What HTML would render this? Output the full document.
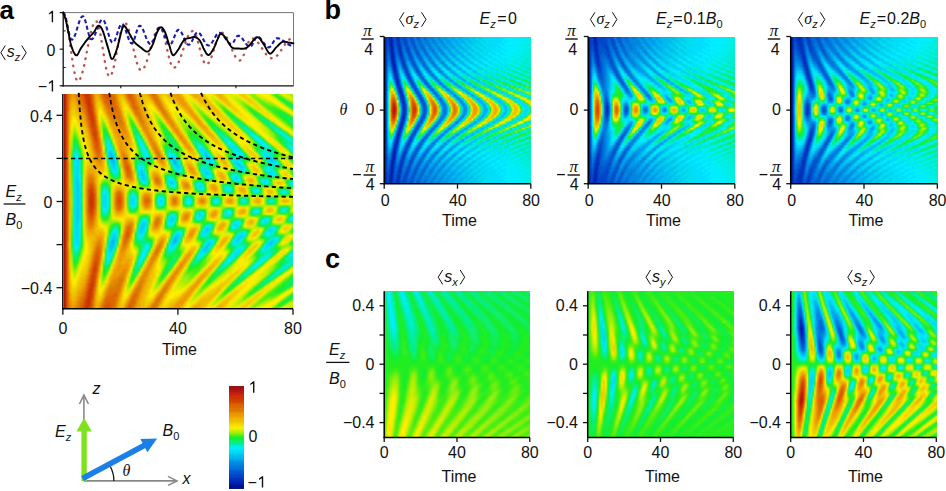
<!DOCTYPE html>
<html><head><meta charset="utf-8"><style>
html,body{margin:0;padding:0;background:#fff;}
body{width:946px;height:491px;position:relative;overflow:hidden;font-family:"Liberation Sans",sans-serif;}
.hm{position:absolute;overflow:hidden}
.hm div{position:absolute;left:0;width:100%;height:var(--r);-webkit-mask-image:linear-gradient(180deg,transparent,#000 50%);mask-image:linear-gradient(180deg,transparent,#000 50%)}
svg{position:absolute;left:0;top:0}
</style></head><body>
<div class="hm" style="left:63.5px;top:94.0px;width:229.5px;height:214.8px;--r:3.978px"><div style="top:0;height:2.98px;-webkit-mask-image:none;mask-image:none;background:linear-gradient(90deg,#911,#c30,#d60,#d80,#e90,#e90,#d80,#d70,#d60,#d50,#c40,#c30,#c30,#c40,#d60,#d80,#ea0,#ea0,#e90,#d70,#d50,#d50,#d50,#d50,#d60,#d70,#d80,#ea0,#eb0,#eb0,#ea0,#d80,#d60,#d50,#d60,#d70,#e90,#ea0,#ea0,#eb0,#eb0,#eb0,#ea0,#e80,#d70,#d60,#d70,#e90,#eb0,#ec0,#ec0,#ec0,#eb0,#ea0,#ea0,#e90,#e90,#e90,#e90,#eb0,#ed0,#fe0,#fe0,#ed0,#eb0,#ea0,#ea0,#ea0,#eb0,#eb0,#ec0,#ed0,#fe0,#ee0,#ee0,#fd0,#ec0,#eb0,#ea0,#eb0,#ec0,#fd0,#ee0,#de0,#de0,#de0,#ee0,#fe0,#ed0,#ec0,#ec0,#ec0,#fe0,#ce0,#8e1,#8e1,#ae0,#de0,#ee0,#fe0,#fe0,#fe0,#fe0,#fe0,#be0,#7e1,#3e2,#3e2,#7e1,#be0,#ee0,#fe0,#de0,#ce0,#ae1,#8e1)"></div><div style="top:0.99px;background:linear-gradient(90deg,#911,#c30,#d60,#d80,#e90,#e90,#e80,#d80,#d70,#d60,#d50,#c30,#c30,#c40,#d50,#d80,#ea0,#eb0,#e90,#d80,#d60,#d50,#d50,#d50,#d60,#d60,#d80,#e90,#eb0,#ec0,#eb0,#e90,#d70,#d50,#d60,#d70,#e80,#ea0,#ea0,#eb0,#eb0,#ec0,#eb0,#ea0,#d80,#d70,#d70,#d80,#ea0,#ec0,#ed0,#ed0,#ec0,#eb0,#eb0,#ea0,#e90,#e90,#e90,#ea0,#eb0,#fd0,#ee0,#fe0,#ed0,#eb0,#ea0,#ea0,#ea0,#eb0,#eb0,#ec0,#ed0,#fe0,#ce0,#de0,#fe0,#ec0,#eb0,#ea0,#eb0,#ec0,#fd0,#ee0,#de0,#ce0,#ce0,#ce0,#ee0,#fd0,#ec0,#ec0,#ec0,#fe0,#ce0,#8e1,#7e1,#9e1,#be0,#de0,#ee0,#fe0,#fe0,#fe0,#fe0,#ce0,#8e1,#3e2,#2e2,#3e1,#8e1,#ce0,#de0,#de0,#ce0,#ae0)"></div><div style="top:2.98px;background:linear-gradient(90deg,#911,#c30,#d60,#d80,#ea0,#ea0,#e90,#d80,#d70,#d60,#d50,#c40,#c30,#c30,#d50,#d80,#ea0,#eb0,#ea0,#d80,#d70,#d60,#d50,#d50,#d60,#d60,#d70,#e90,#eb0,#ec0,#ec0,#ea0,#d80,#d60,#d60,#d60,#d80,#e90,#ea0,#eb0,#eb0,#ec0,#ec0,#eb0,#e90,#d70,#d70,#d70,#e90,#eb0,#ed0,#fd0,#ed0,#ec0,#eb0,#eb0,#ea0,#e90,#e90,#e90,#ea0,#ec0,#fe0,#de0,#ee0,#ed0,#ec0,#eb0,#ea0,#eb0,#eb0,#eb0,#ec0,#fd0,#ee0,#be0,#be0,#fe0,#ec0,#eb0,#eb0,#eb0,#ec0,#fe0,#ee0,#de0,#ce0,#be0,#be0,#de0,#fe0,#ed0,#ec0,#ec0,#fd0,#ce0,#8e1,#6e1,#7e1,#ae1,#be0,#ce0,#ee0,#fe0,#fe0,#fe0,#ee0,#9e1,#3e1,#1e3,#1e3,#5e1,#ae1,#ce0,#de0,#ce0)"></div><div style="top:4.97px;background:linear-gradient(90deg,#911,#c30,#d60,#e80,#ea0,#ea0,#e90,#d80,#d70,#d70,#d50,#c40,#c30,#c30,#d50,#d80,#ea0,#eb0,#eb0,#e90,#d70,#d60,#d60,#d60,#d60,#d60,#d70,#e90,#eb0,#ec0,#ed0,#eb0,#e90,#d70,#d60,#d60,#d70,#e90,#ea0,#eb0,#eb0,#ec0,#ec0,#ec0,#eb0,#e90,#d70,#d70,#d80,#ea0,#ec0,#fd0,#fd0,#ed0,#ec0,#ec0,#eb0,#ea0,#e90,#e90,#e90,#eb0,#ed0,#ee0,#ce0,#ee0,#fd0,#ec0,#eb0,#eb0,#eb0,#eb0,#eb0,#ec0,#fd0,#de0,#ae0,#ae0,#ee0,#ed0,#eb0,#eb0,#eb0,#ed0,#fe0,#ee0,#de0,#be0,#ae0,#9e1,#be0,#ee0,#ed0,#ec0,#ec0,#fd0,#de0,#9e1,#6e1,#6e1,#8e1,#ae1,#be0,#ce0,#ee0,#fe0,#fe0,#fe0,#be0,#5e1,#1e3,#1e4,#2e2,#7e1,#ae0,#be0)"></div><div style="top:6.96px;background:linear-gradient(90deg,#911,#c30,#d60,#e90,#ea0,#eb0,#ea0,#e90,#d80,#d70,#d60,#c40,#c30,#c30,#d50,#d70,#ea0,#ec0,#ec0,#ea0,#d80,#d60,#d60,#d60,#d60,#d60,#d70,#d80,#ea0,#ec0,#fd0,#ec0,#ea0,#d80,#d60,#d60,#d70,#e80,#ea0,#eb0,#eb0,#ec0,#ed0,#ed0,#ec0,#ea0,#d80,#d70,#d70,#e90,#eb0,#ed0,#fe0,#fd0,#ed0,#ec0,#ec0,#eb0,#ea0,#e90,#e90,#e90,#eb0,#fd0,#ce0,#be0,#ee0,#fd0,#ec0,#eb0,#eb0,#eb0,#eb0,#eb0,#ec0,#fe0,#ce0,#8e1,#9e1,#de0,#fd0,#ec0,#eb0,#ec0,#ed0,#fe0,#ee0,#de0,#be0,#9e1,#7e1,#9e1,#de0,#fd0,#ec0,#ec0,#fd0,#de0,#9e1,#5e1,#5e1,#6e1,#8e1,#9e1,#ae0,#ce0,#fe0,#fe0,#fe0,#ce0,#7e1,#1e3,#1e5,#1e4,#3e2,#8e1)"></div><div style="top:8.95px;background:linear-gradient(90deg,#911,#c30,#d60,#e90,#eb0,#eb0,#ea0,#e90,#d80,#d70,#d60,#d50,#c30,#c30,#c40,#d70,#ea0,#ec0,#ec0,#eb0,#e90,#d70,#d60,#d60,#d60,#d60,#d70,#d80,#ea0,#ec0,#fd0,#fd0,#ec0,#e90,#d70,#d60,#d70,#d80,#e90,#ea0,#eb0,#ec0,#ed0,#fd0,#fd0,#ec0,#e90,#d70,#d70,#d80,#ea0,#ec0,#fd0,#fe0,#fe0,#fd0,#ed0,#ec0,#eb0,#ea0,#e90,#e90,#ea0,#ec0,#fe0,#be0,#ae0,#de0,#fd0,#ec0,#ec0,#eb0,#eb0,#eb0,#eb0,#ec0,#fe0,#be0,#7e1,#7e1,#be0,#fd0,#ec0,#eb0,#ec0,#ed0,#fe0,#ee0,#de0,#be0,#8e1,#5e1,#7e1,#be0,#fe0,#ed0,#ec0,#ed0,#ee0,#ae0,#6e1,#4e1,#5e1,#6e1,#7e1,#8e1,#ae0,#de0,#fe0,#fe0,#ee0,#9e1,#2e2,#1e5,#1e5,#1e3)"></div><div style="top:10.94px;background:linear-gradient(90deg,#911,#c30,#d60,#e90,#eb0,#eb0,#eb0,#e90,#e90,#d80,#d70,#d50,#c40,#c30,#c40,#d60,#ea0,#ec0,#ed0,#ec0,#ea0,#d80,#d70,#d60,#d60,#d60,#d60,#d70,#e90,#eb0,#fd0,#fe0,#ed0,#ea0,#d80,#d60,#d60,#d70,#e90,#ea0,#eb0,#ec0,#ed0,#fe0,#fe0,#fd0,#eb0,#e90,#d70,#d70,#e90,#eb0,#ed0,#fe0,#fe0,#fe0,#fd0,#fd0,#ed0,#eb0,#ea0,#e90,#e90,#ea0,#ec0,#de0,#9e1,#ae1,#de0,#fd0,#ec0,#ec0,#ec0,#eb0,#eb0,#eb0,#ec0,#fe0,#ae0,#5e1,#5e1,#ae0,#fe0,#ec0,#ec0,#ec0,#ed0,#fe0,#fe0,#de0,#ae0,#7e1,#4e1,#4e1,#9e1,#ee0,#ed0,#ec0,#ed0,#fe0,#ae0,#6e1,#4e1,#4e1,#4e1,#4e1,#5e1,#8e1,#be0,#fe0,#fe0,#fe0,#be0,#4e1,#1e4,#1e6)"></div><div style="top:12.93px;background:linear-gradient(90deg,#911,#c30,#d60,#e90,#eb0,#ec0,#eb0,#ea0,#e90,#d80,#d70,#d60,#c40,#c30,#c40,#d60,#e90,#ec0,#fd0,#ed0,#ea0,#e80,#d70,#d70,#d70,#d60,#d60,#d70,#e80,#eb0,#fd0,#ee0,#fe0,#ec0,#e90,#d70,#d60,#d70,#e80,#ea0,#eb0,#eb0,#ec0,#fd0,#ee0,#fe0,#ed0,#ea0,#d80,#d70,#d80,#ea0,#ec0,#fd0,#fe0,#fe0,#fe0,#fe0,#fd0,#ed0,#eb0,#ea0,#e90,#e90,#eb0,#fd0,#be0,#8e1,#9e1,#de0,#fe0,#ed0,#ec0,#ec0,#ec0,#eb0,#eb0,#ec0,#fe0,#9e1,#3e2,#3e1,#9e1,#fe0,#ed0,#ec0,#ec0,#ed0,#fe0,#fe0,#de0,#be0,#7e1,#2e2,#2e2,#6e1,#ce0,#fd0,#ec0,#ed0,#fe0,#be0,#7e1,#4e1,#3e1,#3e2,#3e2,#3e2,#5e1,#9e1,#de0,#fe0,#fe0,#de0,#7e1,#1e3)"></div><div style="top:14.92px;background:linear-gradient(90deg,#911,#c30,#d60,#ea0,#ec0,#ec0,#eb0,#ea0,#e90,#e90,#d80,#d60,#c40,#c30,#c40,#d60,#e90,#ec0,#fe0,#fd0,#eb0,#e90,#d80,#d70,#d70,#d70,#d70,#d70,#d80,#ea0,#ed0,#de0,#ce0,#fd0,#eb0,#d80,#d70,#d70,#d80,#e90,#ea0,#eb0,#ec0,#fd0,#ee0,#de0,#fe0,#ec0,#ea0,#d80,#d70,#e80,#ea0,#ed0,#fe0,#ee0,#ee0,#fe0,#fe0,#fe0,#ed0,#eb0,#ea0,#e90,#e90,#eb0,#fe0,#ae0,#7e1,#8e1,#ce0,#fe0,#ed0,#ed0,#ec0,#ec0,#eb0,#eb0,#ec0,#ee0,#8e1,#2e2,#2e2,#7e1,#de0,#fd0,#ec0,#ec0,#ed0,#fe0,#fe0,#de0,#be0,#6e1,#2e2,#1e3,#3e2,#ae1,#fe0,#ed0,#ed0,#fe0,#ce0,#8e1,#5e1,#3e2,#2e2,#2e2,#2e2,#2e2,#6e1,#be0,#ee0,#fe0,#ee0,#ae0)"></div><div style="top:16.91px;background:linear-gradient(90deg,#911,#c30,#d70,#ea0,#ec0,#ec0,#ec0,#eb0,#ea0,#e90,#d80,#d70,#d50,#c30,#c30,#d50,#e80,#ec0,#fe0,#fe0,#ec0,#ea0,#d80,#d70,#d70,#d70,#d70,#d70,#d70,#e90,#ec0,#ee0,#be0,#de0,#ec0,#e90,#d70,#d70,#d70,#e90,#ea0,#eb0,#ec0,#ed0,#fe0,#ce0,#ce0,#fe0,#ec0,#e90,#d70,#d80,#e90,#eb0,#fd0,#ee0,#de0,#ee0,#ee0,#ee0,#fe0,#ed0,#eb0,#ea0,#e90,#ea0,#ec0,#ee0,#8e1,#5e1,#8e1,#ce0,#fe0,#fd0,#ed0,#ec0,#ec0,#eb0,#eb0,#ed0,#ee0,#7e1,#1e3,#1e3,#5e1,#ce0,#fd0,#ed0,#ed0,#fd0,#fe0,#fe0,#ee0,#be0,#7e1,#2e2,#1e5,#1e3,#6e1,#de0,#fd0,#ed0,#fd0,#de0,#9e1,#5e1,#3e1,#2e2,#1e2,#1e4,#1e4,#2e2,#8e1,#ce0,#fe0,#fe0)"></div><div style="top:18.89px;background:linear-gradient(90deg,#911,#c30,#d70,#ea0,#ec0,#ed0,#ec0,#eb0,#ea0,#ea0,#e90,#d70,#d50,#c40,#c30,#d50,#d80,#ec0,#fe0,#de0,#fd0,#eb0,#e90,#d80,#d70,#d70,#d70,#d70,#d70,#e90,#eb0,#fe0,#ae0,#ae0,#fe0,#eb0,#d80,#d70,#d70,#d80,#ea0,#eb0,#eb0,#ec0,#fd0,#de0,#ae0,#be0,#fd0,#eb0,#e80,#d70,#d80,#ea0,#ec0,#fe0,#de0,#de0,#de0,#de0,#de0,#fe0,#ed0,#eb0,#e90,#e90,#ea0,#ec0,#de0,#7e1,#4e1,#7e1,#be0,#ee0,#fe0,#fd0,#ed0,#ec0,#eb0,#ec0,#ed0,#ee0,#6e1,#1e4,#1e4,#3e1,#be0,#fe0,#ed0,#ed0,#fd0,#fe0,#fe0,#ee0,#ce0,#7e1,#1e2,#1e5,#1e5,#3e2,#be0,#fe0,#ed0,#fd0,#ee0,#ae0,#6e1,#4e1,#2e2,#1e3,#1e4,#1e5,#1e4,#3e1,#ae0,#ee0)"></div><div style="top:20.88px;background:linear-gradient(90deg,#911,#c30,#d70,#ea0,#ed0,#fd0,#ed0,#ec0,#eb0,#ea0,#e90,#d80,#d60,#c40,#c30,#d40,#d70,#eb0,#fe0,#ce0,#fe0,#ec0,#ea0,#d80,#d80,#d80,#d70,#d70,#d70,#d80,#ea0,#fd0,#ae0,#7e1,#ce0,#ed0,#ea0,#d80,#d70,#d80,#e90,#ea0,#eb0,#ec0,#ed0,#ee0,#ae0,#9e1,#ce0,#ed0,#ea0,#d80,#d80,#e90,#eb0,#fd0,#ee0,#ce0,#ce0,#ce0,#ce0,#ce0,#ee0,#ed0,#eb0,#e90,#e90,#ea0,#ed0,#be0,#5e1,#3e2,#6e1,#be0,#ee0,#fe0,#fd0,#ed0,#ec0,#ec0,#ec0,#ed0,#de0,#6e1,#1e4,#1e5,#2e2,#9e1,#fe0,#fd0,#fd0,#fd0,#fe0,#fe0,#ee0,#ce0,#8e1,#2e2,#1e6,#1e7,#1e3,#8e1,#ee0,#fd0,#fd0,#fe0,#be0,#7e1,#4e1,#2e2,#1e3,#1e4,#1e6,#1e6,#1e3,#6e1)"></div><div style="top:22.87px;background:linear-gradient(90deg,#911,#c30,#d70,#ea0,#ed0,#fe0,#fd0,#ec0,#eb0,#ea0,#ea0,#d80,#d60,#c40,#c30,#c40,#d70,#eb0,#fe0,#ae0,#ce0,#ed0,#eb0,#e90,#d80,#d80,#d80,#d70,#d70,#d80,#ea0,#ec0,#ce0,#6e1,#7e1,#fe0,#eb0,#e90,#d70,#d80,#e90,#ea0,#eb0,#ec0,#ec0,#fe0,#be0,#7e1,#8e1,#de0,#ec0,#e90,#d80,#d80,#ea0,#ec0,#fe0,#ce0,#be0,#be0,#be0,#ae0,#be0,#ee0,#ed0,#eb0,#e90,#e90,#eb0,#fd0,#ae0,#3e2,#2e2,#5e1,#ae0,#de0,#ee0,#fe0,#fd0,#ec0,#ec0,#ec0,#ed0,#de0,#5e1,#1e5,#1e6,#1e3,#7e1,#de0,#fe0,#fd0,#fd0,#fe0,#fe0,#ee0,#ce0,#9e1,#2e2,#1e6,#0e8,#1e6,#4e1,#ce0,#fe0,#fd0,#fe0,#ce0,#8e1,#5e1,#3e2,#1e2,#1e4,#1e6,#0e7,#1e6)"></div><div style="top:24.86px;background:linear-gradient(90deg,#911,#c30,#d70,#eb0,#fd0,#fe0,#fe0,#ec0,#eb0,#eb0,#ea0,#e90,#d70,#d50,#c40,#c40,#d60,#ea0,#fe0,#ae1,#ae0,#fe0,#ec0,#ea0,#e80,#d80,#d80,#d80,#d70,#d70,#e90,#eb0,#ee0,#6e1,#3e1,#ae0,#ed0,#ea0,#d80,#d70,#d80,#e90,#eb0,#eb0,#ec0,#fd0,#de0,#8e1,#5e1,#8e1,#fe0,#eb0,#e90,#d80,#e80,#ea0,#ed0,#ee0,#be0,#be0,#ae0,#ae0,#9e1,#ae0,#ee0,#ed0,#eb0,#e90,#e90,#eb0,#fe0,#8e1,#2e2,#1e2,#4e1,#9e1,#ce0,#ee0,#fe0,#fd0,#ed0,#ec0,#ec0,#ed0,#de0,#5e1,#1e6,#0e8,#1e5,#5e1,#ce0,#fe0,#fd0,#fe0,#fe0,#fe0,#ee0,#de0,#9e1,#3e2,#1e6,#0e9,#0e8,#1e3,#9e1,#ee0,#fd0,#fe0,#de0,#9e1,#5e1,#3e2,#2e2,#1e4,#1e6,#0e8)"></div><div style="top:26.85px;background:linear-gradient(90deg,#911,#c30,#d70,#eb0,#fd0,#ee0,#fe0,#ed0,#ec0,#eb0,#ea0,#e90,#d70,#d50,#c40,#c40,#d60,#ea0,#fd0,#9e1,#7e1,#ce0,#ed0,#ea0,#e90,#e80,#d80,#d80,#d70,#d70,#d80,#ea0,#fe0,#8e1,#2e2,#4e1,#de0,#ec0,#e90,#d80,#d80,#e90,#ea0,#eb0,#ec0,#ed0,#fe0,#ae0,#4e1,#3e2,#9e1,#fd0,#ea0,#e80,#d80,#e90,#eb0,#fd0,#ce0,#ae0,#ae0,#ae1,#9e1,#8e1,#ae1,#ee0,#ed0,#ea0,#e90,#ea0,#ec0,#fe0,#6e1,#1e3,#1e3,#3e1,#9e1,#be0,#de0,#ee0,#fe0,#ed0,#ec0,#ec0,#ed0,#de0,#5e1,#1e6,#0e9,#1e6,#3e2,#ae0,#fe0,#fe0,#fe0,#fe0,#ee0,#ee0,#de0,#ae0,#4e1,#1e6,#0e9,#0ea,#1e6,#5e1,#ce0,#fe0,#fe0,#ee0,#ae0,#6e1,#3e2,#2e2,#1e4,#1e6)"></div><div style="top:28.84px;background:linear-gradient(90deg,#911,#c30,#d70,#eb0,#fe0,#de0,#ee0,#fd0,#ec0,#eb0,#eb0,#ea0,#d80,#d60,#c40,#c40,#d50,#e90,#fd0,#9e1,#5e1,#9e1,#fe0,#eb0,#e90,#e90,#e90,#d80,#d80,#d70,#d80,#ea0,#ed0,#ae0,#2e2,#1e3,#8e1,#fd0,#ea0,#d80,#d80,#e90,#ea0,#eb0,#ec0,#ec0,#fd0,#ce0,#6e1,#2e2,#3e2,#be0,#ed0,#ea0,#d80,#d80,#ea0,#ec0,#ee0,#be0,#9e1,#9e1,#9e1,#7e1,#7e1,#9e1,#ee0,#ec0,#ea0,#e90,#ea0,#ec0,#de0,#4e1,#1e4,#1e4,#2e2,#8e1,#be0,#ce0,#ee0,#fe0,#ed0,#ec0,#ec0,#ed0,#ee0,#5e1,#1e6,#0ea,#0e8,#1e3,#9e1,#de0,#fe0,#fe0,#fe0,#ee0,#ee0,#de0,#ae0,#5e1,#1e5,#0e9,#0eb,#0e8,#2e2,#ae0,#fe0,#fe0,#fe0,#be0,#7e1,#3e1,#2e2,#1e4)"></div><div style="top:30.83px;background:linear-gradient(90deg,#911,#c30,#d70,#eb0,#fe0,#be0,#de0,#fe0,#ed0,#ec0,#eb0,#ea0,#e80,#d60,#c40,#c40,#d50,#d80,#ec0,#ae1,#3e2,#6e1,#de0,#ec0,#ea0,#e90,#e90,#e90,#d80,#d80,#d80,#e90,#ec0,#de0,#3e2,#1e5,#2e2,#ce0,#ec0,#e90,#d80,#d80,#e90,#eb0,#ec0,#ec0,#fd0,#ee0,#9e1,#2e2,#1e3,#4e1,#de0,#ec0,#e90,#d80,#e90,#eb0,#ed0,#ce0,#9e1,#8e1,#8e1,#7e1,#6e1,#6e1,#9e1,#ee0,#ec0,#ea0,#e90,#ea0,#ec0,#ce0,#2e2,#1e5,#1e5,#2e2,#7e1,#ae0,#ce0,#de0,#fe0,#fd0,#ec0,#ec0,#ed0,#ee0,#5e1,#1e7,#0ea,#0e9,#1e5,#7e1,#ce0,#fe0,#fe0,#ee0,#ee0,#de0,#ce0,#be0,#6e1,#1e4,#0e9,#0ec,#0ea,#1e5,#6e1,#de0,#fe0,#fe0,#ce0,#9e1,#4e1,#2e2)"></div><div style="top:32.82px;background:linear-gradient(90deg,#911,#c30,#d70,#eb0,#fe0,#ae0,#be0,#fe0,#ed0,#ec0,#ec0,#eb0,#e90,#d70,#d50,#c40,#d50,#d80,#ec0,#ae0,#2e2,#2e2,#ae0,#fd0,#eb0,#e90,#e90,#e90,#e90,#d80,#d80,#e90,#eb0,#fe0,#6e1,#1e6,#1e6,#5e1,#fe0,#eb0,#e80,#d80,#e90,#ea0,#eb0,#ec0,#ed0,#fe0,#ce0,#5e1,#1e4,#1e4,#5e1,#fe0,#eb0,#e90,#d80,#e90,#eb0,#fe0,#ae0,#7e1,#6e1,#6e1,#6e1,#5e1,#5e1,#9e1,#ee0,#ec0,#ea0,#ea0,#ea0,#ed0,#ae0,#1e3,#1e7,#1e6,#1e3,#6e1,#ae0,#be0,#de0,#ee0,#fd0,#ed0,#ec0,#ed0,#ee0,#5e1,#1e7,#0eb,#0eb,#1e6,#4e1,#be0,#fe0,#fe0,#ee0,#de0,#ce0,#ce0,#be0,#7e1,#1e3,#0e8,#0ec,#0ec,#0e8,#2e2,#be0,#fe0,#fe0,#ee0,#ae0,#5e1)"></div><div style="top:34.81px;background:linear-gradient(90deg,#911,#c30,#d70,#eb0,#ee0,#9e1,#ae0,#de0,#fd0,#ec0,#ec0,#eb0,#ea0,#d70,#d50,#c40,#d40,#d70,#eb0,#ce0,#1e2,#1e4,#6e1,#fe0,#ec0,#ea0,#e90,#e90,#e90,#e90,#d80,#e80,#ea0,#ed0,#ae1,#1e5,#0e8,#1e4,#ae0,#ec0,#e90,#d80,#d80,#ea0,#eb0,#ec0,#ed0,#fd0,#de0,#9e1,#2e2,#1e5,#1e4,#8e1,#fd0,#ea0,#e80,#d80,#ea0,#ec0,#de0,#8e1,#5e1,#4e1,#5e1,#5e1,#4e1,#5e1,#9e1,#fe0,#ec0,#ea0,#ea0,#eb0,#fd0,#9e1,#1e4,#0e8,#0e8,#1e4,#5e1,#9e1,#be0,#ce0,#ee0,#fe0,#ed0,#ec0,#ed0,#ee0,#6e1,#1e7,#0ec,#0ec,#0e8,#2e2,#ae0,#ee0,#fe0,#fe0,#de0,#ce0,#be0,#ae0,#7e1,#2e2,#1e7,#0ec,#0ed,#0eb,#1e5,#7e1,#de0,#fe0,#fe0,#be0)"></div><div style="top:36.79px;background:linear-gradient(90deg,#911,#c30,#d70,#eb0,#de0,#8e1,#8e1,#ce0,#fe0,#ed0,#ec0,#ec0,#ea0,#d80,#d50,#c40,#c40,#d60,#ea0,#de0,#2e2,#1e6,#2e2,#be0,#ed0,#ea0,#e90,#e90,#e90,#e90,#e80,#e80,#e90,#ec0,#de0,#1e2,#0e9,#0e8,#3e2,#fe0,#eb0,#e90,#d80,#e90,#ea0,#ec0,#ed0,#fd0,#fe0,#be0,#4e1,#1e4,#1e6,#1e3,#ae0,#ec0,#ea0,#d80,#e90,#eb0,#fd0,#be0,#5e1,#2e2,#3e2,#4e1,#4e1,#4e1,#5e1,#ae1,#fe0,#ec0,#ea0,#ea0,#eb0,#fe0,#7e1,#1e6,#0e9,#0e9,#1e5,#4e1,#9e1,#be0,#ce0,#ee0,#fe0,#fd0,#ed0,#fd0,#ee0,#6e1,#1e6,#0ec,#0ee,#0ea,#1e4,#9e1,#de0,#fe0,#fe0,#de0,#ce0,#ae0,#9e1,#7e1,#2e2,#1e6,#0eb,#0ed,#0ec,#0e8,#3e2,#be0,#fe0,#fe0)"></div><div style="top:38.78px;background:linear-gradient(90deg,#911,#c30,#d70,#ec0,#ce0,#6e1,#6e1,#ae0,#fe0,#fd0,#ed0,#ec0,#eb0,#e80,#d60,#c40,#c40,#d60,#ea0,#fe0,#2e2,#0e7,#1e5,#7e1,#fe0,#eb0,#ea0,#e90,#e90,#e90,#e90,#e90,#e90,#eb0,#fe0,#5e1,#0e8,#0eb,#1e6,#9e1,#ec0,#ea0,#d80,#d80,#ea0,#eb0,#ed0,#fe0,#fe0,#ce0,#8e1,#1e2,#1e6,#1e6,#2e2,#de0,#ec0,#e90,#d80,#e90,#eb0,#fe0,#8e1,#2e2,#1e3,#2e2,#3e2,#3e1,#4e1,#6e1,#ae0,#fe0,#ec0,#ea0,#ea0,#eb0,#fe0,#5e1,#1e7,#0eb,#0ea,#1e6,#3e1,#9e1,#ce0,#de0,#ee0,#fe0,#fd0,#fd0,#fd0,#ee0,#7e1,#1e6,#0ec,#0ef,#0ec,#1e6,#6e1,#de0,#fe0,#fe0,#ee0,#be0,#ae1,#8e1,#6e1,#2e2,#1e5,#0ea,#0ed,#0ee,#0ea,#1e4,#9e1,#ee0)"></div><div style="top:40.77px;background:linear-gradient(90deg,#911,#c30,#d70,#ec0,#ce0,#4e1,#4e1,#9e1,#de0,#fd0,#ed0,#ec0,#eb0,#e90,#d70,#d50,#c40,#d60,#e90,#fd0,#3e2,#0e8,#0e8,#2e2,#de0,#ec0,#ea0,#e90,#e90,#e90,#e90,#e90,#e90,#ea0,#ed0,#9e1,#1e6,#0eb,#0ea,#1e3,#ee0,#eb0,#e90,#d80,#e90,#eb0,#ec0,#fe0,#ee0,#ce0,#ae1,#4e1,#1e5,#0e7,#1e6,#5e1,#fe0,#eb0,#e90,#d80,#ea0,#ec0,#ce0,#3e1,#1e4,#1e5,#1e3,#2e2,#3e1,#4e1,#6e1,#ae0,#fe0,#ec0,#eb0,#ea0,#ec0,#ee0,#3e2,#0e9,#0ed,#0eb,#1e7,#3e2,#9e1,#ce0,#de0,#ee0,#ee0,#fe0,#fd0,#fe0,#de0,#7e1,#1e6,#0ec,#0ef,#0ee,#0e8,#4e1,#ce0,#fe0,#fe0,#ee0,#be0,#9e1,#6e1,#4e1,#2e2,#1e5,#0e9,#0ec,#0ee,#0ec,#1e7,#4e1)"></div><div style="top:42.76px;background:linear-gradient(90deg,#911,#c30,#d70,#ec0,#be0,#3e2,#2e2,#7e1,#ce0,#fe0,#fd0,#ed0,#eb0,#ea0,#d70,#d50,#c40,#d50,#d80,#ed0,#5e1,#0e9,#0eb,#1e6,#9e1,#ed0,#eb0,#ea0,#e90,#ea0,#ea0,#e90,#e90,#ea0,#ec0,#de0,#1e3,#0eb,#0ed,#0e8,#7e1,#ed0,#ea0,#d80,#d80,#ea0,#ec0,#fd0,#ee0,#ce0,#ae0,#6e1,#1e3,#1e6,#0e8,#1e4,#9e1,#fd0,#ea0,#e80,#e90,#ea0,#fd0,#9e1,#1e4,#1e7,#1e6,#1e4,#2e2,#4e1,#5e1,#7e1,#be0,#fe0,#ec0,#eb0,#eb0,#ec0,#de0,#2e2,#0ea,#0ee,#0ed,#0e8,#2e2,#ae1,#de0,#ee0,#ee0,#ee0,#fe0,#fe0,#fe0,#ce0,#6e1,#1e6,#0ec,#0ef,#0ef,#0ea,#2e2,#be0,#fe0,#fd0,#fe0,#ce0,#8e1,#4e1,#2e2,#1e3,#1e5,#0e8,#0eb,#0ed,#0ed,#0e9)"></div><div style="top:44.75px;background:linear-gradient(90deg,#911,#c30,#d70,#ec0,#ae0,#2e2,#1e3,#4e1,#ae0,#ee0,#fd0,#ed0,#ec0,#ea0,#d80,#d60,#d40,#d50,#d80,#ec0,#7e1,#0e9,#0ed,#0e9,#4e1,#fe0,#eb0,#ea0,#e90,#ea0,#ea0,#ea0,#ea0,#ea0,#ec0,#fe0,#5e1,#0e9,#0ee,#0ec,#1e4,#de0,#eb0,#e90,#d80,#e90,#eb0,#ed0,#ee0,#be0,#9e1,#7e1,#3e2,#1e5,#0e7,#1e7,#1e3,#be0,#ec0,#ea0,#e80,#e90,#eb0,#ee0,#4e1,#1e7,#0e9,#0e8,#1e4,#2e2,#5e1,#6e1,#9e1,#ce0,#fe0,#ec0,#eb0,#eb0,#ed0,#be0,#1e4,#0ec,#0ef,#0ee,#0e9,#2e2,#ae0,#ee0,#fe0,#fe0,#ee0,#ee0,#ee0,#de0,#be0,#6e1,#1e5,#0ec,#0ef,#0ef,#0eb,#1e4,#ae1,#fe0,#fd0,#fe0,#de0,#9e1,#3e2,#1e3,#1e5,#1e6,#0e8,#0ea,#0ec,#0ed)"></div><div style="top:46.74px;background:linear-gradient(90deg,#911,#c30,#d70,#ec0,#ae1,#1e4,#1e5,#2e2,#9e1,#de0,#fe0,#fd0,#ec0,#eb0,#e80,#d60,#d50,#d50,#d70,#eb0,#ae1,#0e8,#0ee,#0ed,#1e4,#ce0,#ec0,#ea0,#e90,#e90,#ea0,#ea0,#ea0,#ea0,#eb0,#fd0,#9e1,#1e6,#0ed,#0ef,#0ea,#6e1,#ed0,#ea0,#d80,#d80,#e90,#ec0,#fe0,#ae0,#8e1,#6e1,#3e1,#1e3,#1e6,#0e7,#1e6,#4e1,#ee0,#ec0,#e90,#e80,#ea0,#ec0,#be0,#1e4,#0ea,#0eb,#0e9,#1e5,#3e2,#6e1,#8e1,#ae0,#de0,#fe0,#ec0,#eb0,#ec0,#fd0,#ae0,#1e5,#0ed,#0ef,#0ef,#0ea,#2e2,#ae0,#fe0,#fe0,#fe0,#ee0,#de0,#ce0,#be0,#9e1,#4e1,#1e5,#0eb,#0ef,#0ef,#0ed,#1e6,#8e1,#fe0,#fd0,#fd0,#ee0,#9e1,#2e2,#1e5,#0e7,#0e8,#0e9,#0e9,#0eb)"></div><div style="top:48.73px;background:linear-gradient(90deg,#911,#c30,#d70,#ec0,#9e1,#1e5,#1e7,#1e4,#7e1,#ce0,#fe0,#fd0,#ec0,#eb0,#e90,#d70,#d50,#d50,#d70,#eb0,#ce0,#1e7,#0ef,#0ef,#0e9,#8e1,#ed0,#ea0,#e90,#e90,#ea0,#ea0,#eb0,#eb0,#eb0,#ed0,#ce0,#1e3,#0ec,#0ef,#0ee,#1e5,#ce0,#eb0,#e80,#d80,#e80,#eb0,#fd0,#be0,#6e1,#3e2,#2e2,#1e3,#1e4,#1e6,#1e7,#1e4,#8e1,#fe0,#eb0,#e90,#e90,#ea0,#fd0,#7e1,#0e7,#0ed,#0ed,#0ea,#1e5,#4e1,#9e1,#ae0,#ce0,#ee0,#fe0,#ed0,#ec0,#ec0,#fe0,#8e1,#1e7,#0ef,#0df,#0ef,#0eb,#2e2,#be0,#fe0,#fd0,#fd0,#ee0,#ce0,#ae0,#8e1,#6e1,#2e2,#1e6,#0eb,#0ef,#0ef,#0ed,#1e7,#5e1,#ee0,#fd0,#ed0,#fe0,#ae0,#2e2,#1e7,#0ea,#0eb,#0ea,#0ea)"></div><div style="top:50.72px;background:linear-gradient(90deg,#911,#c30,#d70,#ec0,#8e1,#1e6,#0e8,#1e5,#4e1,#be0,#fe0,#fd0,#ed0,#eb0,#e90,#d70,#d50,#d50,#d70,#ea0,#ee0,#1e6,#0ef,#0df,#0ed,#2e2,#fe0,#eb0,#e90,#e90,#e90,#ea0,#eb0,#eb0,#ec0,#ed0,#de0,#4e1,#0e9,#0ef,#0ef,#0ea,#5e1,#fd0,#ea0,#d80,#d80,#e90,#ec0,#de0,#5e1,#1e3,#1e4,#1e4,#1e4,#1e5,#1e6,#1e5,#2e2,#be0,#ed0,#ea0,#e90,#e90,#eb0,#ee0,#2e2,#0eb,#0ef,#0ef,#0ea,#1e4,#6e1,#be0,#ce0,#de0,#ee0,#fe0,#fd0,#ed0,#fd0,#ee0,#5e1,#0e8,#0ef,#0df,#0df,#0eb,#2e2,#ce0,#fd0,#ed0,#fd0,#fe0,#be0,#7e1,#4e1,#2e2,#1e4,#1e6,#0ea,#0ed,#0ef,#0ed,#0e8,#3e1,#ce0,#fd0,#ed0,#fd0,#be0,#2e2,#0e8,#0ec,#0ee,#0ed)"></div><div style="top:52.71px;background:linear-gradient(90deg,#911,#c30,#d70,#ec0,#7e1,#1e7,#0ea,#0e7,#2e2,#ae0,#ee0,#fe0,#ed0,#ec0,#ea0,#d80,#d60,#d50,#d60,#e90,#fe0,#1e4,#0ef,#0de,#0ef,#1e6,#be0,#ec0,#e90,#e90,#e90,#ea0,#eb0,#ec0,#ec0,#fd0,#ee0,#7e1,#1e6,#0ed,#0ef,#0ee,#1e5,#ce0,#eb0,#d80,#d70,#d80,#eb0,#fe0,#7e1,#1e4,#1e7,#1e7,#1e6,#1e5,#1e5,#1e4,#1e3,#6e1,#de0,#ec0,#ea0,#e90,#ea0,#ec0,#ae0,#1e6,#0ef,#0df,#0ef,#0eb,#1e3,#9e1,#de0,#fe0,#fe0,#fe0,#fe0,#fe0,#fe0,#fe0,#be0,#2e2,#0e9,#0ef,#0de,#0df,#0eb,#2e2,#ce0,#fd0,#ec0,#ed0,#fe0,#ae0,#4e1,#1e4,#1e5,#1e6,#0e8,#0ea,#0ec,#0ed,#0ec,#0e8,#2e2,#be0,#fe0,#ed0,#fd0,#de0,#4e1,#0e8,#0ee,#0ef)"></div><div style="top:54.69px;background:linear-gradient(90deg,#911,#c30,#d70,#ec0,#6e1,#0e8,#0ec,#0e9,#1e3,#8e1,#de0,#fe0,#fd0,#ec0,#ea0,#e80,#d60,#d60,#d60,#e90,#fd0,#2e2,#0ef,#0de,#0de,#0eb,#7e1,#ed0,#ea0,#e80,#e90,#ea0,#eb0,#ec0,#ed0,#fe0,#ee0,#9e1,#1e4,#0eb,#0ef,#0ef,#0ea,#5e1,#fd0,#ea0,#d70,#d70,#e90,#ec0,#be0,#1e4,#0e9,#0ea,#0e9,#1e6,#1e4,#1e3,#2e2,#5e1,#ae0,#fe0,#ec0,#ea0,#ea0,#eb0,#fe0,#5e1,#0eb,#0df,#0de,#0df,#0ea,#2e2,#be0,#fe0,#fd0,#fd0,#fe0,#ee0,#ee0,#de0,#be0,#7e1,#1e4,#0ea,#0ef,#0df,#0df,#0eb,#2e2,#de0,#ed0,#ec0,#ec0,#fe0,#9e1,#1e3,#1e7,#0e9,#0ea,#0ea,#0ea,#0ea,#0ea,#0e9,#1e7,#2e2,#ae1,#fe0,#fd0,#fd0,#de0,#5e1,#0e8,#0ef)"></div><div style="top:56.68px;background:linear-gradient(90deg,#911,#c30,#d70,#ec0,#5e1,#0ea,#0ee,#0eb,#1e5,#6e1,#ce0,#fe0,#fd0,#ec0,#eb0,#e90,#d70,#d60,#d60,#e90,#ec0,#4e1,#0ee,#0ce,#0ce,#0ef,#1e3,#fe0,#ea0,#e80,#d80,#e90,#eb0,#ec0,#fd0,#fe0,#ce0,#9e1,#2e2,#0e9,#0ee,#0ef,#0ed,#1e5,#ce0,#eb0,#d80,#d70,#d80,#eb0,#fe0,#2e2,#0ea,#0ed,#0ed,#0ea,#1e6,#1e3,#4e1,#6e1,#9e1,#de0,#fd0,#ec0,#eb0,#eb0,#ec0,#ce0,#1e4,#0ee,#0de,#0ce,#0df,#0e9,#5e1,#ee0,#ed0,#ed0,#fd0,#fe0,#de0,#ae0,#9e1,#6e1,#2e2,#1e6,#0eb,#0ef,#0df,#0ef,#0ea,#2e2,#de0,#ec0,#ec0,#ec0,#fe0,#9e1,#1e5,#0eb,#0ee,#0ee,#0ec,#0ea,#0e8,#1e7,#1e6,#1e4,#3e2,#9e1,#de0,#fe0,#fe0,#ce0,#5e1,#0e8)"></div><div style="top:58.67px;background:linear-gradient(90deg,#911,#c30,#d80,#ec0,#4e1,#0eb,#0ef,#0ed,#0e7,#4e1,#be0,#fe0,#fd0,#ec0,#eb0,#e90,#d80,#d60,#d70,#e80,#ec0,#7e1,#0ec,#0ce,#0be,#0df,#0e8,#ce0,#eb0,#e80,#d80,#e80,#ea0,#ec0,#fe0,#ce0,#ae0,#7e1,#2e2,#1e7,#0ec,#0ef,#0ee,#0e8,#7e1,#ed0,#ea0,#d70,#d70,#e90,#ec0,#8e1,#0e8,#0ef,#0df,#0ef,#0ea,#1e4,#5e1,#9e1,#ae0,#ce0,#fe0,#fd0,#ec0,#eb0,#ec0,#fe0,#7e1,#0e9,#0df,#0ce,#0ce,#0ef,#1e7,#9e1,#fd0,#ec0,#ec0,#ed0,#fe0,#ae0,#5e1,#2e2,#1e3,#1e5,#0e8,#0eb,#0ee,#0ef,#0ed,#0e8,#4e1,#de0,#ed0,#ec0,#ec0,#fe0,#7e1,#1e7,#0ee,#0df,#0df,#0ef,#0eb,#1e7,#1e3,#2e2,#3e1,#5e1,#8e1,#ae0,#ce0,#ce0,#ae0,#4e1)"></div><div style="top:60.66px;background:linear-gradient(90deg,#911,#c30,#d80,#ed0,#3e2,#0ec,#0ef,#0ef,#0e9,#2e2,#be0,#fe0,#fd0,#ec0,#eb0,#ea0,#d80,#d70,#d70,#e80,#ec0,#ae1,#0eb,#0ce,#0be,#0ce,#0ec,#7e1,#ec0,#e90,#d70,#d80,#e90,#ec0,#fe0,#be0,#7e1,#3e1,#1e3,#1e6,#0ea,#0ed,#0ee,#0ea,#1e2,#de0,#eb0,#e80,#d70,#d80,#eb0,#de0,#1e5,#0ef,#0de,#0de,#0ef,#0e8,#3e2,#ae0,#de0,#ee0,#fe0,#fe0,#fd0,#ed0,#ed0,#fd0,#be0,#1e3,#0ec,#0de,#0ce,#0de,#0ee,#1e4,#ce0,#ec0,#eb0,#eb0,#ed0,#de0,#6e1,#1e4,#0e7,#0e9,#0e9,#0ea,#0eb,#0ec,#0ec,#0ea,#1e5,#6e1,#de0,#ed0,#ec0,#ec0,#fe0,#5e1,#0e9,#0ef,#0de,#0de,#0df,#0eb,#1e5,#4e1,#8e1,#9e1,#9e1,#9e1,#8e1,#8e1,#7e1,#5e1)"></div><div style="top:62.65px;background:linear-gradient(90deg,#911,#c30,#d80,#ed0,#2e2,#0ed,#0df,#0df,#0ec,#1e3,#ae1,#fe0,#fd0,#ec0,#eb0,#ea0,#e90,#d80,#d70,#e90,#eb0,#be0,#0e9,#0de,#0be,#0be,#0ef,#2e2,#fd0,#e90,#d70,#d70,#e80,#eb0,#fe0,#9e1,#2e2,#1e4,#1e5,#1e7,#0e9,#0eb,#0ec,#0ea,#1e5,#9e1,#ed0,#ea0,#d80,#d80,#ea0,#fd0,#3e1,#0ed,#0de,#0ce,#0de,#0ed,#1e4,#9e1,#ee0,#fd0,#fd0,#fe0,#fe0,#fe0,#fe0,#ee0,#be0,#5e1,#1e7,#0ef,#0de,#0ce,#0de,#0eb,#3e1,#fe0,#ec0,#ea0,#eb0,#ed0,#be0,#1e3,#0ea,#0ed,#0ee,#0ed,#0eb,#0e9,#0e8,#1e7,#1e5,#2e2,#8e1,#de0,#fd0,#ed0,#fd0,#ce0,#2e2,#0eb,#0df,#0ce,#0ce,#0df,#0ec,#1e4,#9e1,#de0,#ee0,#ce0,#ae1,#6e1,#2e2,#1e4)"></div><div style="top:64.64px;background:linear-gradient(90deg,#911,#c30,#d80,#ed0,#3e2,#0ed,#0df,#0df,#0ec,#1e4,#ae0,#fe0,#ed0,#ec0,#eb0,#ea0,#e90,#d80,#d80,#e90,#eb0,#de0,#1e6,#0df,#0be,#0be,#0df,#1e5,#fe0,#ea0,#d70,#d60,#d80,#ea0,#fd0,#9e1,#1e3,#1e6,#0e7,#0e7,#0e7,#0e8,#0e8,#0e7,#1e4,#7e1,#fe0,#eb0,#e90,#d80,#e90,#ec0,#be0,#0e8,#0df,#0be,#0be,#0df,#0e9,#6e1,#fe0,#ec0,#ec0,#ec0,#fd0,#ee0,#ce0,#be0,#9e1,#5e1,#1e4,#0e9,#0ef,#0df,#0df,#0ef,#1e7,#9e1,#fd0,#eb0,#ea0,#eb0,#fd0,#8e1,#1e7,#0ef,#0df,#0df,#0ef,#0ea,#1e6,#2e2,#4e1,#6e1,#8e1,#ae0,#ce0,#ee0,#fe0,#de0,#9e1,#1e3,#0eb,#0df,#0ce,#0ce,#0df,#0eb,#2e2,#be0,#fe0,#fd0,#fe0,#be0,#4e1,#1e5)"></div><div style="top:66.63px;background:linear-gradient(90deg,#911,#c30,#d70,#ec0,#3e2,#0ed,#0df,#0df,#0ec,#1e3,#be0,#fd0,#ec0,#ec0,#eb0,#eb0,#ea0,#e90,#e80,#e90,#eb0,#fe0,#1e3,#0ef,#0ce,#0be,#0de,#0e8,#ce0,#eb0,#d70,#d60,#d70,#e90,#ec0,#ae0,#1e4,#0e9,#0ea,#0e9,#1e7,#1e5,#1e4,#1e3,#2e2,#7e1,#de0,#ec0,#ea0,#e90,#e90,#eb0,#fe0,#2e2,#0ee,#0ce,#0be,#0ce,#0ee,#1e3,#ee0,#ec0,#eb0,#eb0,#ec0,#fe0,#be0,#7e1,#3e2,#1e3,#1e4,#1e7,#0ea,#0ed,#0ee,#0ed,#0e9,#2e2,#de0,#ec0,#eb0,#ea0,#ec0,#fe0,#3e2,#0eb,#0df,#0ce,#0de,#0ef,#0e8,#2e2,#9e1,#ce0,#ce0,#ce0,#be0,#ae0,#ae0,#9e1,#8e1,#3e2,#1e5,#0eb,#0ef,#0de,#0de,#0ef,#0e9,#4e1,#de0,#fd0,#ed0,#fd0,#ce0,#3e2)"></div><div style="top:68.62px;background:linear-gradient(90deg,#911,#c30,#d70,#ec0,#3e1,#0ed,#0de,#0df,#0ed,#1e3,#be0,#fd0,#ec0,#eb0,#eb0,#eb0,#ea0,#e90,#e90,#e90,#eb0,#fe0,#4e1,#0ec,#0de,#0ce,#0de,#0ea,#9e1,#eb0,#d80,#d60,#d60,#d80,#eb0,#ce0,#1e4,#0eb,#0ed,#0ec,#0e9,#1e5,#2e2,#5e1,#7e1,#ae0,#de0,#fd0,#ec0,#ea0,#ea0,#eb0,#fd0,#8e1,#0e9,#0df,#0be,#0ce,#0df,#0e8,#ae0,#ec0,#ea0,#ea0,#ea0,#ec0,#de0,#5e1,#1e5,#0e7,#0e8,#0e8,#0e8,#0e8,#0e8,#0e8,#1e6,#1e3,#9e1,#fe0,#ec0,#eb0,#eb0,#ed0,#be0,#1e4,#0ee,#0de,#0ce,#0de,#0ee,#1e5,#9e1,#fe0,#fd0,#fd0,#fe0,#be0,#7e1,#3e2,#1e3,#1e4,#1e6,#0e8,#0ea,#0ed,#0ee,#0ee,#0eb,#1e5,#6e1,#de0,#fd0,#ed0,#fd0,#be0)"></div><div style="top:70.61px;background:linear-gradient(90deg,#911,#c30,#d70,#ec0,#4e1,#0ed,#0de,#0df,#0ed,#1e4,#be0,#ed0,#eb0,#eb0,#eb0,#eb0,#ea0,#ea0,#ea0,#ea0,#eb0,#fd0,#8e1,#0e8,#0df,#0ce,#0de,#0ec,#6e1,#ec0,#d80,#d60,#d50,#d70,#ea0,#ee0,#1e3,#0ec,#0ef,#0ef,#0eb,#1e5,#5e1,#ae0,#ce0,#de0,#fe0,#fe0,#ed0,#ec0,#eb0,#ec0,#ed0,#ce0,#1e4,#0ed,#0de,#0ce,#0de,#0ec,#4e1,#fd0,#eb0,#e90,#e90,#eb0,#fd0,#8e1,#1e6,#0eb,#0ed,#0ec,#0ea,#1e6,#1e4,#2e2,#3e1,#5e1,#9e1,#ce0,#fe0,#ed0,#ec0,#ed0,#ee0,#6e1,#0e8,#0ef,#0de,#0ce,#0df,#0eb,#3e2,#de0,#ed0,#ec0,#ec0,#fe0,#ae0,#2e2,#1e7,#0ea,#0eb,#0eb,#0e9,#0e8,#0e7,#1e7,#1e6,#1e4,#2e2,#8e1,#ce0,#fe0,#fe0,#ee0)"></div><div style="top:72.59px;background:linear-gradient(90deg,#911,#c30,#d70,#ec0,#4e1,#0ed,#0de,#0de,#0ed,#1e4,#ce0,#ed0,#eb0,#ea0,#ea0,#ea0,#eb0,#eb0,#ea0,#eb0,#eb0,#fd0,#ae0,#1e5,#0ee,#0de,#0df,#0ed,#3e2,#fd0,#e90,#d60,#d50,#d60,#e90,#fd0,#2e2,#0ec,#0df,#0df,#0ef,#0e7,#5e1,#ce0,#fe0,#fd0,#fd0,#fd0,#fd0,#fd0,#ed0,#ed0,#fe0,#ce0,#4e1,#0e8,#0ef,#0de,#0df,#0ee,#1e4,#ce0,#ec0,#e90,#e80,#e90,#ec0,#ce0,#1e4,#0ed,#0df,#0df,#0ee,#0e9,#2e2,#8e1,#be0,#de0,#de0,#de0,#de0,#de0,#ee0,#ee0,#ce0,#9e1,#1e3,#0e9,#0ef,#0df,#0df,#0ee,#1e6,#8e1,#fe0,#ec0,#eb0,#ec0,#fe0,#8e1,#1e6,#0ed,#0ef,#0ef,#0ee,#0ea,#1e5,#3e2,#6e1,#8e1,#8e1,#8e1,#9e1,#9e1,#ae0,#ae0)"></div><div style="top:74.58px;background:linear-gradient(90deg,#911,#c30,#d70,#ec0,#4e1,#0ed,#0de,#0de,#0ee,#1e4,#ce0,#ec0,#ea0,#ea0,#ea0,#ea0,#eb0,#eb0,#eb0,#eb0,#ec0,#fd0,#be0,#1e3,#0eb,#0ef,#0df,#0ec,#2e2,#fe0,#ea0,#d70,#d50,#d60,#e80,#ec0,#6e1,#0eb,#0de,#0ce,#0df,#0ea,#3e1,#ee0,#ed0,#ec0,#ec0,#ec0,#ed0,#fe0,#fe0,#ee0,#ce0,#ae0,#6e1,#1e4,#0e9,#0ee,#0ef,#0ed,#1e6,#9e1,#fd0,#ea0,#e90,#e90,#eb0,#fd0,#5e1,#0ea,#0df,#0de,#0de,#0ed,#1e5,#9e1,#fe0,#ed0,#ed0,#fd0,#fe0,#ce0,#9e1,#7e1,#5e1,#4e1,#2e2,#1e5,#0e8,#0eb,#0ed,#0ec,#0e8,#2e2,#be0,#fd0,#ec0,#eb0,#ec0,#ee0,#4e1,#0e9,#0ef,#0de,#0de,#0ef,#0e9,#2e2,#be0,#ee0,#fe0,#ee0,#ce0,#8e1,#4e1,#1e3)"></div><div style="top:76.57px;background:linear-gradient(90deg,#911,#c30,#d70,#ec0,#5e1,#0ed,#0de,#0de,#0ee,#1e4,#ce0,#ec0,#ea0,#e90,#e90,#ea0,#eb0,#eb0,#ec0,#ec0,#ed0,#fe0,#be0,#3e1,#0e7,#0ed,#0ee,#0eb,#1e3,#ee0,#eb0,#d80,#d60,#d60,#d80,#eb0,#ae1,#0e9,#0de,#0ce,#0de,#0ee,#1e3,#de0,#ec0,#ea0,#ea0,#eb0,#ec0,#fe0,#ce0,#9e1,#6e1,#5e1,#3e2,#1e2,#1e5,#0e7,#0e9,#0e8,#1e5,#6e1,#ee0,#ec0,#ea0,#e90,#ea0,#ec0,#be0,#1e6,#0ef,#0de,#0ce,#0df,#0e9,#5e1,#fe0,#ec0,#eb0,#eb0,#ec0,#ee0,#8e1,#1e3,#1e6,#0e7,#1e7,#1e6,#1e5,#1e5,#1e4,#1e4,#1e3,#3e2,#8e1,#de0,#fe0,#ed0,#ed0,#fe0,#ae0,#1e3,#0eb,#0df,#0de,#0df,#0ee,#1e6,#8e1,#fe0,#ed0,#ec0,#fd0,#de0,#6e1,#1e5)"></div><div style="top:78.56px;background:linear-gradient(90deg,#911,#c30,#d70,#ec0,#5e1,#0ed,#0de,#0de,#0ef,#1e5,#ce0,#ec0,#e90,#e80,#e80,#e90,#eb0,#ec0,#ec0,#fd0,#fd0,#fe0,#be0,#6e1,#1e4,#0e9,#0eb,#0e9,#1e3,#ce0,#ec0,#e80,#d60,#d60,#d80,#eb0,#ce0,#1e7,#0df,#0ce,#0ce,#0ef,#1e6,#ce0,#ec0,#e90,#e90,#e90,#eb0,#fd0,#ae0,#3e2,#1e4,#1e5,#1e5,#1e4,#2e2,#2e2,#2e2,#2e2,#4e1,#8e1,#de0,#fd0,#ec0,#eb0,#eb0,#ec0,#de0,#3e2,#0ea,#0df,#0de,#0de,#0ed,#1e3,#de0,#ec0,#ea0,#ea0,#eb0,#ed0,#be0,#1e4,#0ea,#0ee,#0ee,#0eb,#1e7,#2e2,#7e1,#ae0,#be0,#be0,#be0,#be0,#be0,#ce0,#ce0,#be0,#9e1,#3e1,#1e5,#0ea,#0ee,#0ef,#0ee,#0e9,#2e2,#be0,#fd0,#ec0,#ec0,#fd0,#ce0,#2e2)"></div><div style="top:80.55px;background:linear-gradient(90deg,#911,#c30,#d70,#ec0,#6e1,#0ec,#0de,#0de,#0ef,#1e5,#de0,#eb0,#e90,#d80,#d80,#e90,#ea0,#ec0,#fd0,#fe0,#ee0,#de0,#be0,#7e1,#2e2,#1e5,#1e7,#1e6,#2e2,#ce0,#ec0,#e90,#d70,#d70,#d80,#ea0,#fe0,#1e4,#0ef,#0ce,#0ce,#0df,#0e8,#ae0,#ec0,#e90,#d80,#d80,#ea0,#ec0,#be0,#1e3,#0e9,#0eb,#0ea,#1e7,#1e3,#6e1,#ae0,#ce0,#ce0,#de0,#ee0,#fe0,#fe0,#fd0,#ed0,#fd0,#de0,#7e1,#1e5,#0ec,#0ef,#0ef,#0ed,#1e6,#9e1,#fd0,#eb0,#ea0,#ea0,#eb0,#fe0,#4e1,#0ea,#0ef,#0df,#0df,#0ec,#1e4,#9e1,#fe0,#fd0,#ed0,#fd0,#ee0,#ae0,#6e1,#2e2,#1e3,#1e3,#1e4,#1e4,#1e5,#1e6,#1e7,#1e7,#1e5,#2e2,#7e1,#ce0,#fe0,#fd0,#fd0,#ee0,#8e1)"></div><div style="top:82.54px;background:linear-gradient(90deg,#911,#c30,#d70,#ec0,#6e1,#0ec,#0de,#0de,#0ef,#1e5,#de0,#eb0,#e80,#d70,#d70,#e80,#ea0,#ec0,#fe0,#de0,#be0,#ae0,#ae1,#8e1,#6e1,#3e2,#2e2,#2e2,#6e1,#ce0,#ed0,#ea0,#e90,#d80,#d80,#ea0,#fd0,#4e1,#0ec,#0de,#0ce,#0de,#0ea,#7e1,#ec0,#e90,#d70,#d70,#e80,#eb0,#de0,#1e3,#0ec,#0ef,#0ef,#0ec,#1e5,#8e1,#ee0,#fd0,#ed0,#ed0,#fd0,#fe0,#de0,#ce0,#be0,#ae0,#9e1,#6e1,#2e2,#1e5,#0e8,#0ea,#0e8,#1e5,#6e1,#ee0,#ec0,#eb0,#ea0,#eb0,#fd0,#9e1,#1e6,#0ee,#0de,#0de,#0ef,#0e8,#6e1,#fe0,#ec0,#eb0,#eb0,#ec0,#ee0,#6e1,#1e6,#0ea,#0ec,#0eb,#0e8,#1e5,#3e2,#7e1,#9e1,#ae1,#ae1,#9e1,#9e1,#ae1,#ae0,#ae0,#9e1,#7e1)"></div><div style="top:84.53px;background:linear-gradient(90deg,#911,#c30,#d70,#ec0,#6e1,#0ec,#0de,#0ce,#0ef,#1e6,#de0,#eb0,#d80,#d70,#d70,#d80,#ea0,#ec0,#ee0,#ae0,#8e1,#7e1,#8e1,#8e1,#9e1,#8e1,#8e1,#8e1,#ae0,#de0,#fd0,#eb0,#ea0,#e90,#e90,#eb0,#fd0,#7e1,#0e8,#0ef,#0de,#0df,#0eb,#4e1,#fd0,#ea0,#d70,#d70,#d80,#ea0,#fe0,#2e2,#0ec,#0df,#0de,#0ef,#0e8,#6e1,#fe0,#ec0,#eb0,#eb0,#ec0,#fd0,#ce0,#7e1,#2e2,#1e3,#1e3,#2e2,#2e2,#3e2,#3e1,#3e1,#4e1,#6e1,#9e1,#ce0,#fe0,#ed0,#ec0,#ed0,#fe0,#be0,#2e2,#0e9,#0ee,#0ef,#0ef,#0ea,#2e2,#ce0,#ec0,#eb0,#ea0,#eb0,#fd0,#ae0,#1e5,#0ec,#0ef,#0df,#0ee,#0e9,#2e2,#be0,#fe0,#fd0,#fd0,#fe0,#ce0,#7e1,#2e2,#1e5,#1e6,#1e6)"></div><div style="top:86.52px;background:linear-gradient(90deg,#911,#c30,#d70,#ec0,#6e1,#0ec,#0de,#0ce,#0ef,#1e6,#de0,#eb0,#d80,#d60,#d60,#d70,#ea0,#ec0,#de0,#7e1,#3e2,#3e2,#5e1,#8e1,#ae0,#ce0,#ce0,#de0,#ee0,#fe0,#fd0,#ec0,#eb0,#eb0,#eb0,#ec0,#fd0,#ae0,#1e4,#0eb,#0ef,#0ef,#0ea,#3e1,#fe0,#eb0,#d80,#d70,#d80,#ea0,#fd0,#5e1,#0eb,#0df,#0ce,#0df,#0eb,#3e1,#fe0,#eb0,#e90,#e90,#ea0,#ec0,#ee0,#4e1,#1e7,#0ea,#0eb,#0e9,#1e4,#5e1,#ae0,#de0,#fe0,#fe0,#ee0,#de0,#ce0,#ce0,#ce0,#ce0,#be0,#9e1,#5e1,#1e3,#1e6,#0e9,#0e9,#1e6,#2e2,#ae1,#fe0,#ec0,#eb0,#ec0,#ed0,#de0,#3e1,#0e9,#0ef,#0df,#0ef,#0ec,#1e4,#ae1,#fd0,#ec0,#eb0,#ec0,#fd0,#ae0,#1e3,#0e9,#0ed,#0ee)"></div><div style="top:88.51px;background:linear-gradient(90deg,#911,#c30,#d70,#ec0,#7e1,#0ec,#0de,#0ce,#0df,#1e6,#de0,#eb0,#d70,#d60,#d50,#d70,#e90,#ec0,#ce0,#4e1,#1e4,#1e4,#2e2,#7e1,#be0,#fe0,#fd0,#fd0,#fd0,#fd0,#fd0,#ed0,#ec0,#ec0,#ec0,#ed0,#fe0,#be0,#3e2,#1e6,#0ea,#0ea,#1e7,#4e1,#ee0,#ec0,#e90,#d80,#d80,#ea0,#ed0,#9e1,#0e8,#0ef,#0de,#0de,#0ed,#1e3,#ee0,#eb0,#e90,#d80,#e80,#eb0,#fe0,#5e1,#0e9,#0ef,#0ef,#0ef,#0e9,#3e1,#de0,#ed0,#ec0,#eb0,#ec0,#fd0,#de0,#8e1,#3e2,#1e3,#1e4,#1e3,#2e2,#4e1,#5e1,#6e1,#7e1,#7e1,#8e1,#ae0,#ce0,#ee0,#fe0,#fe0,#ee0,#ce0,#7e1,#1e3,#0e8,#0eb,#0ec,#0ea,#1e5,#7e1,#ee0,#ed0,#ec0,#ec0,#ed0,#de0,#5e1,#0e7,#0ee,#0ef)"></div><div style="top:90.49px;background:linear-gradient(90deg,#911,#c30,#d70,#ec0,#7e1,#0ec,#0de,#0ce,#0df,#1e7,#de0,#eb0,#d70,#d50,#d50,#d60,#e90,#ec0,#be0,#1e3,#1e7,#0e8,#1e5,#5e1,#ce0,#fd0,#ec0,#ec0,#ec0,#ec0,#ed0,#fd0,#fd0,#fe0,#fe0,#fe0,#de0,#be0,#7e1,#3e2,#1e3,#1e4,#2e2,#7e1,#de0,#ed0,#eb0,#ea0,#ea0,#eb0,#ed0,#be0,#1e4,#0ec,#0ef,#0ef,#0ec,#1e4,#ce0,#ec0,#e90,#d80,#d80,#ea0,#ed0,#8e1,#0e8,#0ef,#0de,#0df,#0ec,#1e3,#ce0,#ec0,#ea0,#e90,#ea0,#ec0,#fe0,#6e1,#1e6,#0eb,#0ec,#0eb,#1e6,#3e2,#ae0,#ee0,#fd0,#fd0,#fe0,#ee0,#be0,#9e1,#6e1,#4e1,#4e1,#4e1,#4e1,#4e1,#3e2,#2e2,#2e2,#3e2,#4e1,#8e1,#be0,#de0,#fe0,#fe0,#fe0,#ce0,#8e1,#1e3,#0e8,#0eb)"></div><div style="top:92.48px;background:linear-gradient(90deg,#911,#c30,#d70,#ec0,#7e1,#0ec,#0de,#0ce,#0df,#1e7,#de0,#ea0,#d70,#d50,#c40,#d60,#e80,#ec0,#ae0,#1e4,#0ea,#0eb,#1e7,#3e1,#ce0,#ed0,#eb0,#ea0,#ea0,#eb0,#ec0,#fd0,#ee0,#be0,#ae0,#ae1,#ae1,#ae0,#ae0,#ae1,#9e1,#9e1,#ae1,#be0,#ee0,#fd0,#ec0,#ec0,#eb0,#ec0,#fd0,#ce0,#4e1,#1e6,#0ea,#0eb,#0e8,#2e2,#be0,#ed0,#ea0,#e90,#e90,#ea0,#ec0,#be0,#1e5,#0ed,#0df,#0df,#0ed,#1e5,#be0,#ec0,#ea0,#e90,#e90,#eb0,#fd0,#8e1,#1e7,#0ee,#0df,#0ef,#0eb,#1e3,#be0,#fd0,#eb0,#eb0,#eb0,#ec0,#ee0,#6e1,#1e5,#0e9,#0ea,#0e9,#1e6,#3e2,#9e1,#de0,#fe0,#fe0,#fe0,#de0,#ae0,#8e1,#5e1,#4e1,#3e1,#3e1,#4e1,#4e1,#3e1,#3e2)"></div><div style="top:94.47px;background:linear-gradient(90deg,#911,#c30,#d70,#eb0,#8e1,#0ec,#0de,#0ce,#0df,#1e7,#de0,#ea0,#d60,#c40,#c40,#d50,#d80,#ec0,#ae0,#1e6,#0ec,#0ee,#0ea,#2e2,#de0,#ec0,#ea0,#e90,#e90,#ea0,#eb0,#fd0,#be0,#6e1,#2e2,#2e2,#4e1,#8e1,#be0,#ee0,#fe0,#fe0,#fe0,#fe0,#fe0,#fe0,#fe0,#fe0,#fe0,#fe0,#ee0,#be0,#8e1,#4e1,#1e3,#1e3,#2e2,#6e1,#be0,#fe0,#ec0,#eb0,#eb0,#eb0,#fd0,#ce0,#3e2,#0e8,#0ec,#0ed,#0ea,#1e4,#ae0,#fd0,#eb0,#ea0,#e90,#eb0,#ed0,#ae0,#1e4,#0ec,#0ef,#0ef,#0ed,#1e5,#ae0,#ed0,#eb0,#ea0,#ea0,#eb0,#fd0,#8e1,#1e6,#0ed,#0ef,#0ef,#0eb,#1e4,#ae0,#fd0,#ec0,#eb0,#ec0,#ed0,#de0,#6e1,#1e5,#0e9,#0eb,#0ea,#1e7,#2e2,#9e1,#de0)"></div><div style="top:96.46px;background:linear-gradient(90deg,#911,#c30,#d70,#eb0,#8e1,#0eb,#0de,#0ce,#0df,#1e7,#de0,#ea0,#d60,#c40,#c40,#d50,#d80,#ec0,#9e1,#0e8,#0ef,#0ef,#0ec,#1e3,#de0,#ec0,#e90,#d70,#d70,#e80,#eb0,#fd0,#9e1,#1e3,#1e7,#1e7,#1e4,#5e1,#ce0,#fd0,#ec0,#ec0,#ec0,#ec0,#fd0,#fe0,#ce0,#ae1,#8e1,#8e1,#9e1,#ae1,#ae0,#be0,#be0,#be0,#be0,#ce0,#de0,#ee0,#fe0,#fd0,#fd0,#fe0,#ee0,#be0,#8e1,#3e2,#1e4,#1e4,#1e3,#4e1,#ae0,#fe0,#ed0,#ec0,#eb0,#ec0,#fd0,#be0,#3e2,#1e7,#0eb,#0eb,#0e9,#1e4,#9e1,#fe0,#ec0,#eb0,#ea0,#eb0,#fd0,#ae0,#1e3,#0ea,#0ee,#0ef,#0eb,#1e5,#9e1,#fe0,#ec0,#eb0,#eb0,#ec0,#fe0,#8e1,#1e5,#0ec,#0ef,#0ef,#0eb,#1e4,#9e1,#fe0)"></div><div style="top:98.45px;background:linear-gradient(90deg,#911,#c30,#d70,#eb0,#8e1,#0eb,#0de,#0ce,#0df,#0e7,#de0,#ea0,#d60,#c40,#c30,#d40,#d70,#ec0,#9e1,#0e9,#0ef,#0df,#0ee,#1e5,#ce0,#eb0,#d80,#d60,#d60,#d70,#ea0,#fd0,#7e1,#1e6,#0eb,#0ec,#0e8,#2e2,#ce0,#ed0,#eb0,#e90,#e90,#ea0,#ec0,#fe0,#9e1,#2e2,#1e5,#1e5,#2e2,#6e1,#ce0,#fe0,#ed0,#ec0,#ed0,#fd0,#fe0,#de0,#be0,#9e1,#8e1,#8e1,#9e1,#9e1,#ae0,#be0,#be0,#be0,#ce0,#ce0,#ce0,#de0,#ee0,#ee0,#ee0,#ee0,#ce0,#be0,#8e1,#5e1,#3e2,#2e2,#3e2,#6e1,#ae0,#de0,#fe0,#fd0,#ed0,#fd0,#fe0,#be0,#5e1,#1e4,#1e7,#0e7,#1e6,#2e2,#8e1,#ee0,#fd0,#ec0,#ec0,#ed0,#fe0,#ae0,#2e2,#0e7,#0eb,#0eb,#0e9,#1e4,#8e1,#ee0)"></div><div style="top:100.44px;background:linear-gradient(90deg,#911,#c30,#d70,#eb0,#8e1,#0eb,#0de,#0ce,#0df,#0e7,#de0,#ea0,#d60,#c40,#c30,#c40,#d70,#ec0,#9e1,#0e9,#0df,#0de,#0ef,#1e6,#ce0,#eb0,#d80,#d60,#d50,#d70,#e90,#fd0,#6e1,#0e9,#0ef,#0ef,#0ec,#1e4,#ce0,#ec0,#e90,#d80,#d80,#e90,#eb0,#fe0,#5e1,#1e7,#0eb,#0eb,#0e8,#3e2,#ce0,#ed0,#eb0,#ea0,#ea0,#eb0,#ed0,#de0,#6e1,#1e4,#1e6,#1e6,#1e3,#6e1,#ce0,#fe0,#ed0,#ec0,#ec0,#ed0,#fe0,#ce0,#8e1,#4e1,#2e2,#2e2,#5e1,#8e1,#be0,#de0,#fe0,#fe0,#fe0,#ee0,#de0,#be0,#ae0,#9e1,#8e1,#8e1,#9e1,#9e1,#9e1,#ae0,#ae0,#ae0,#ae0,#ae0,#ae0,#be0,#be0,#ce0,#ce0,#be0,#ae0,#9e1,#7e1,#5e1,#4e1,#4e1,#4e1,#6e1,#9e1,#be0)"></div><div style="top:102.43px;background:linear-gradient(90deg,#911,#c30,#d70,#eb0,#9e1,#0eb,#0de,#0ce,#0df,#1e7,#de0,#ea0,#d60,#c30,#c30,#c40,#d70,#eb0,#9e1,#0ea,#0df,#0de,#0ef,#1e6,#ce0,#eb0,#d70,#d50,#d50,#d60,#e90,#ed0,#5e1,#0eb,#0df,#0df,#0ee,#1e5,#ce0,#eb0,#e80,#d70,#d70,#d80,#eb0,#fe0,#3e2,#0ea,#0ef,#0ef,#0ec,#1e3,#ce0,#ec0,#e90,#d80,#d80,#e90,#ec0,#de0,#2e2,#0e9,#0ed,#0ed,#0e9,#2e2,#ce0,#ec0,#eb0,#ea0,#ea0,#eb0,#ed0,#be0,#2e2,#0e7,#0ea,#0ea,#1e6,#4e1,#ce0,#fd0,#ec0,#eb0,#eb0,#ec0,#fe0,#ae0,#2e2,#1e6,#0e8,#1e7,#1e4,#5e1,#ce0,#fe0,#ed0,#ec0,#ec0,#fd0,#ee0,#9e1,#3e2,#1e4,#1e5,#1e5,#2e2,#6e1,#be0,#ee0,#fe0,#fd0,#fe0,#fe0,#ce0,#8e1)"></div><div style="top:104.42px;background:linear-gradient(90deg,#911,#c30,#d70,#eb0,#9e1,#0eb,#0de,#0ce,#0df,#1e7,#de0,#ea0,#d60,#c30,#c30,#c40,#d70,#eb0,#9e1,#0ea,#0df,#0de,#0ef,#1e6,#ce0,#eb0,#d70,#d50,#d40,#d60,#e90,#ed0,#5e1,#0eb,#0df,#0de,#0ef,#1e6,#ce0,#eb0,#d80,#d60,#d60,#d70,#ea0,#fe0,#2e2,#0ec,#0df,#0df,#0ed,#1e4,#ce0,#ec0,#e90,#d70,#d70,#e90,#eb0,#de0,#1e3,#0eb,#0ef,#0ef,#0ec,#1e3,#ce0,#ec0,#e90,#d80,#d80,#ea0,#ec0,#ce0,#1e3,#0eb,#0ef,#0ef,#0ea,#2e2,#de0,#ec0,#ea0,#e90,#e90,#eb0,#ed0,#ae0,#1e4,#0eb,#0ee,#0ed,#0e8,#3e2,#de0,#ec0,#eb0,#ea0,#ea0,#ec0,#fe0,#8e1,#1e5,#0ea,#0ed,#0eb,#1e7,#4e1,#ce0,#ed0,#eb0,#eb0,#eb0,#ec0,#ee0,#7e1)"></div><div style="top:106.41px;background:linear-gradient(90deg,#911,#c30,#d70,#eb0,#9e1,#0eb,#0de,#0ce,#0df,#1e7,#de0,#ea0,#d60,#c30,#c30,#c40,#d70,#eb0,#9e1,#0ea,#0df,#0de,#0ef,#1e6,#ce0,#eb0,#d70,#d50,#d40,#d60,#e90,#ed0,#5e1,#0eb,#0df,#0de,#0ef,#1e6,#ce0,#eb0,#d80,#d60,#d60,#d70,#ea0,#fe0,#2e2,#0ec,#0df,#0df,#0ed,#1e4,#ce0,#ec0,#e90,#d70,#d70,#e90,#eb0,#de0,#1e3,#0eb,#0ef,#0ef,#0ec,#1e3,#ce0,#ec0,#e90,#d80,#d80,#ea0,#ec0,#ce0,#1e3,#0eb,#0ef,#0ef,#0ea,#2e2,#de0,#ec0,#ea0,#e90,#e90,#eb0,#ed0,#ae0,#1e4,#0eb,#0ee,#0ed,#0e8,#3e2,#de0,#ec0,#eb0,#ea0,#ea0,#ec0,#fe0,#8e1,#1e5,#0ea,#0ed,#0eb,#1e7,#4e1,#ce0,#ed0,#eb0,#eb0,#eb0,#ec0,#ee0,#7e1)"></div><div style="top:108.39px;background:linear-gradient(90deg,#911,#c30,#d70,#eb0,#9e1,#0eb,#0de,#0ce,#0df,#1e7,#de0,#ea0,#d60,#c30,#c30,#c40,#d70,#eb0,#9e1,#0ea,#0df,#0de,#0ef,#1e6,#ce0,#eb0,#d70,#d50,#d50,#d60,#e90,#ed0,#5e1,#0eb,#0df,#0df,#0ee,#1e5,#ce0,#eb0,#e80,#d70,#d70,#d80,#eb0,#fe0,#3e2,#0ea,#0ef,#0ef,#0ec,#1e3,#ce0,#ec0,#e90,#d80,#d80,#e90,#ec0,#de0,#2e2,#0e9,#0ed,#0ed,#0e9,#2e2,#ce0,#ec0,#eb0,#ea0,#ea0,#eb0,#ed0,#be0,#2e2,#0e7,#0ea,#0ea,#1e6,#4e1,#ce0,#fd0,#ec0,#eb0,#eb0,#ec0,#fe0,#ae0,#2e2,#1e6,#0e8,#1e7,#1e4,#5e1,#ce0,#fe0,#ed0,#ec0,#ec0,#fd0,#ee0,#9e1,#3e2,#1e4,#1e5,#1e5,#2e2,#6e1,#be0,#ee0,#fe0,#fd0,#fe0,#fe0,#ce0,#8e1)"></div><div style="top:110.38px;background:linear-gradient(90deg,#911,#c30,#d70,#eb0,#8e1,#0eb,#0de,#0ce,#0df,#0e7,#de0,#ea0,#d60,#c40,#c30,#c40,#d70,#ec0,#9e1,#0e9,#0df,#0de,#0ef,#1e6,#ce0,#eb0,#d80,#d60,#d50,#d70,#e90,#fd0,#6e1,#0e9,#0ef,#0ef,#0ec,#1e4,#ce0,#ec0,#e90,#d80,#d80,#e90,#eb0,#fe0,#5e1,#1e7,#0eb,#0eb,#0e8,#3e2,#ce0,#ed0,#eb0,#ea0,#ea0,#eb0,#ed0,#de0,#6e1,#1e4,#1e6,#1e6,#1e3,#6e1,#ce0,#fe0,#ed0,#ec0,#ec0,#ed0,#fe0,#ce0,#8e1,#4e1,#2e2,#2e2,#5e1,#8e1,#be0,#de0,#fe0,#fe0,#fe0,#ee0,#de0,#be0,#ae0,#9e1,#8e1,#8e1,#9e1,#9e1,#9e1,#ae0,#ae0,#ae0,#ae0,#ae0,#ae0,#be0,#be0,#ce0,#ce0,#be0,#ae0,#9e1,#7e1,#5e1,#4e1,#4e1,#4e1,#6e1,#9e1,#be0)"></div><div style="top:112.37px;background:linear-gradient(90deg,#911,#c30,#d70,#eb0,#8e1,#0eb,#0de,#0ce,#0df,#0e7,#de0,#ea0,#d60,#c40,#c30,#d40,#d70,#ec0,#9e1,#0e9,#0ef,#0df,#0ee,#1e5,#ce0,#eb0,#d80,#d60,#d60,#d70,#ea0,#fd0,#7e1,#1e6,#0eb,#0ec,#0e8,#2e2,#ce0,#ed0,#eb0,#e90,#e90,#ea0,#ec0,#fe0,#9e1,#2e2,#1e5,#1e5,#2e2,#6e1,#ce0,#fe0,#ed0,#ec0,#ed0,#fd0,#fe0,#de0,#be0,#9e1,#8e1,#8e1,#9e1,#9e1,#ae0,#be0,#be0,#be0,#ce0,#ce0,#ce0,#de0,#ee0,#ee0,#ee0,#ee0,#ce0,#be0,#8e1,#5e1,#3e2,#2e2,#3e2,#6e1,#ae0,#de0,#fe0,#fd0,#ed0,#fd0,#fe0,#be0,#5e1,#1e4,#1e7,#0e7,#1e6,#2e2,#8e1,#ee0,#fd0,#ec0,#ec0,#ed0,#fe0,#ae0,#2e2,#0e7,#0eb,#0eb,#0e9,#1e4,#8e1,#ee0)"></div><div style="top:114.36px;background:linear-gradient(90deg,#911,#c30,#d70,#eb0,#8e1,#0eb,#0de,#0ce,#0df,#1e7,#de0,#ea0,#d60,#c40,#c40,#d50,#d80,#ec0,#9e1,#0e8,#0ef,#0ef,#0ec,#1e3,#de0,#ec0,#e90,#d70,#d70,#e80,#eb0,#fd0,#9e1,#1e3,#1e7,#1e7,#1e4,#5e1,#ce0,#fd0,#ec0,#ec0,#ec0,#ec0,#fd0,#fe0,#ce0,#ae1,#8e1,#8e1,#9e1,#ae1,#ae0,#be0,#be0,#be0,#be0,#ce0,#de0,#ee0,#fe0,#fd0,#fd0,#fe0,#ee0,#be0,#8e1,#3e2,#1e4,#1e4,#1e3,#4e1,#ae0,#fe0,#ed0,#ec0,#eb0,#ec0,#fd0,#be0,#3e2,#1e7,#0eb,#0eb,#0e9,#1e4,#9e1,#fe0,#ec0,#eb0,#ea0,#eb0,#fd0,#ae0,#1e3,#0ea,#0ee,#0ef,#0eb,#1e5,#9e1,#fe0,#ec0,#eb0,#eb0,#ec0,#fe0,#8e1,#1e5,#0ec,#0ef,#0ef,#0eb,#1e4,#9e1,#fe0)"></div><div style="top:116.35px;background:linear-gradient(90deg,#911,#c30,#d70,#eb0,#8e1,#0ec,#0de,#0ce,#0df,#1e7,#de0,#ea0,#d60,#c40,#c40,#d50,#d80,#ec0,#ae0,#1e6,#0ec,#0ee,#0ea,#2e2,#de0,#ec0,#ea0,#e90,#e90,#ea0,#eb0,#fd0,#be0,#6e1,#2e2,#2e2,#4e1,#8e1,#be0,#ee0,#fe0,#fe0,#fe0,#fe0,#fe0,#fe0,#fe0,#fe0,#fe0,#fe0,#ee0,#be0,#8e1,#4e1,#1e3,#1e3,#2e2,#6e1,#be0,#fe0,#ec0,#eb0,#eb0,#eb0,#fd0,#ce0,#3e2,#0e8,#0ec,#0ed,#0ea,#1e4,#ae0,#fd0,#eb0,#ea0,#e90,#eb0,#ed0,#ae0,#1e4,#0ec,#0ef,#0ef,#0ed,#1e5,#ae0,#ed0,#eb0,#ea0,#ea0,#eb0,#fd0,#8e1,#1e6,#0ed,#0ef,#0ef,#0eb,#1e4,#ae0,#fd0,#ec0,#eb0,#ec0,#ed0,#de0,#6e1,#1e5,#0e9,#0eb,#0ea,#1e7,#2e2,#9e1,#de0)"></div><div style="top:118.34px;background:linear-gradient(90deg,#911,#c30,#d70,#ec0,#7e1,#0ec,#0de,#0ce,#0df,#1e7,#de0,#ea0,#d70,#d50,#c40,#d60,#e80,#ec0,#ae0,#1e4,#0ea,#0eb,#1e7,#3e1,#ce0,#ed0,#eb0,#ea0,#ea0,#eb0,#ec0,#fd0,#ee0,#be0,#ae0,#ae1,#ae1,#ae0,#ae0,#ae1,#9e1,#9e1,#ae1,#be0,#ee0,#fd0,#ec0,#ec0,#eb0,#ec0,#fd0,#ce0,#4e1,#1e6,#0ea,#0eb,#0e8,#2e2,#be0,#ed0,#ea0,#e90,#e90,#ea0,#ec0,#be0,#1e5,#0ed,#0df,#0df,#0ed,#1e5,#be0,#ec0,#ea0,#e90,#e90,#eb0,#fd0,#8e1,#1e7,#0ee,#0df,#0ef,#0eb,#1e3,#be0,#fd0,#eb0,#eb0,#eb0,#ec0,#ee0,#6e1,#1e5,#0e9,#0ea,#0e9,#1e6,#3e2,#9e1,#de0,#fe0,#fe0,#fe0,#de0,#ae0,#8e1,#5e1,#4e1,#3e1,#3e1,#4e1,#4e1,#3e1,#3e2)"></div><div style="top:120.33px;background:linear-gradient(90deg,#911,#c30,#d70,#ec0,#7e1,#0ec,#0de,#0ce,#0df,#1e7,#de0,#eb0,#d70,#d50,#d50,#d60,#e90,#ec0,#be0,#1e3,#1e7,#0e8,#1e5,#5e1,#ce0,#fd0,#ec0,#ec0,#ec0,#ec0,#ed0,#fd0,#fd0,#fe0,#fe0,#fe0,#de0,#be0,#7e1,#3e2,#1e3,#1e4,#2e2,#7e1,#de0,#ed0,#eb0,#ea0,#ea0,#eb0,#ed0,#be0,#1e4,#0ec,#0ef,#0ef,#0ec,#1e4,#ce0,#ec0,#e90,#d80,#d80,#ea0,#ed0,#8e1,#0e8,#0ef,#0de,#0df,#0ec,#1e3,#ce0,#ec0,#ea0,#e90,#ea0,#ec0,#fe0,#6e1,#1e6,#0eb,#0ec,#0eb,#1e6,#3e2,#ae0,#ee0,#fd0,#fd0,#fe0,#ee0,#be0,#9e1,#6e1,#4e1,#4e1,#4e1,#4e1,#4e1,#3e2,#2e2,#2e2,#3e2,#4e1,#8e1,#be0,#de0,#fe0,#fe0,#fe0,#ce0,#8e1,#1e3,#0e8,#0eb)"></div><div style="top:122.32px;background:linear-gradient(90deg,#911,#c30,#d70,#ec0,#7e1,#0ec,#0de,#0ce,#0df,#1e6,#de0,#eb0,#d70,#d60,#d50,#d70,#e90,#ec0,#ce0,#4e1,#1e4,#1e4,#2e2,#7e1,#be0,#fe0,#fd0,#fd0,#fd0,#fd0,#fd0,#ed0,#ec0,#ec0,#ec0,#ed0,#fe0,#be0,#3e2,#1e6,#0ea,#0ea,#1e7,#4e1,#ee0,#ec0,#e90,#d80,#d80,#ea0,#ed0,#9e1,#0e8,#0ef,#0de,#0de,#0ed,#1e3,#ee0,#eb0,#e90,#d80,#e80,#eb0,#fe0,#5e1,#0e9,#0ef,#0ef,#0ef,#0e9,#3e1,#de0,#ed0,#ec0,#eb0,#ec0,#fd0,#de0,#8e1,#3e2,#1e3,#1e4,#1e3,#2e2,#4e1,#5e1,#6e1,#7e1,#7e1,#8e1,#ae0,#ce0,#ee0,#fe0,#fe0,#ee0,#ce0,#7e1,#1e3,#0e8,#0eb,#0ec,#0ea,#1e5,#7e1,#ee0,#ed0,#ec0,#ec0,#ed0,#de0,#5e1,#0e7,#0ee,#0ef)"></div><div style="top:124.31px;background:linear-gradient(90deg,#911,#c30,#d70,#ec0,#6e1,#0ec,#0de,#0ce,#0ef,#1e6,#de0,#eb0,#d80,#d60,#d60,#d70,#ea0,#ec0,#de0,#7e1,#3e2,#3e2,#5e1,#8e1,#ae0,#ce0,#ce0,#de0,#ee0,#fe0,#fd0,#ec0,#eb0,#eb0,#eb0,#ec0,#fd0,#ae0,#1e4,#0eb,#0ef,#0ef,#0ea,#3e1,#fe0,#eb0,#d80,#d70,#d80,#ea0,#fd0,#5e1,#0eb,#0df,#0ce,#0df,#0eb,#3e1,#fe0,#eb0,#e90,#e90,#ea0,#ec0,#ee0,#4e1,#1e7,#0ea,#0eb,#0e9,#1e4,#5e1,#ae0,#de0,#fe0,#fe0,#ee0,#de0,#ce0,#ce0,#ce0,#ce0,#be0,#9e1,#5e1,#1e3,#1e6,#0e9,#0e9,#1e6,#2e2,#ae1,#fe0,#ec0,#eb0,#ec0,#ed0,#de0,#3e1,#0e9,#0ef,#0df,#0ef,#0ec,#1e4,#ae1,#fd0,#ec0,#eb0,#ec0,#fd0,#ae0,#1e3,#0e9,#0ed,#0ee)"></div><div style="top:126.29px;background:linear-gradient(90deg,#911,#c30,#d70,#ec0,#6e1,#0ec,#0de,#0ce,#0ef,#1e6,#de0,#eb0,#d80,#d70,#d70,#d80,#ea0,#ec0,#ee0,#ae0,#8e1,#7e1,#8e1,#8e1,#9e1,#8e1,#8e1,#8e1,#ae0,#de0,#fd0,#eb0,#ea0,#e90,#e90,#eb0,#fd0,#7e1,#0e8,#0ef,#0de,#0df,#0eb,#4e1,#fd0,#ea0,#d70,#d70,#d80,#ea0,#fe0,#2e2,#0ec,#0df,#0de,#0ef,#0e8,#6e1,#fe0,#ec0,#eb0,#eb0,#ec0,#fd0,#ce0,#7e1,#2e2,#1e3,#1e3,#2e2,#2e2,#3e2,#3e1,#3e1,#4e1,#6e1,#9e1,#ce0,#fe0,#ed0,#ec0,#ed0,#fe0,#be0,#2e2,#0e9,#0ee,#0ef,#0ef,#0ea,#2e2,#ce0,#ec0,#eb0,#ea0,#eb0,#fd0,#ae0,#1e5,#0ec,#0ef,#0df,#0ee,#0e9,#2e2,#be0,#fe0,#fd0,#fd0,#fe0,#ce0,#7e1,#2e2,#1e5,#1e6,#1e6)"></div><div style="top:128.28px;background:linear-gradient(90deg,#911,#c30,#d70,#ec0,#6e1,#0ec,#0de,#0de,#0ef,#1e5,#de0,#eb0,#e80,#d70,#d70,#e80,#ea0,#ec0,#fe0,#de0,#be0,#ae0,#ae1,#8e1,#6e1,#3e2,#2e2,#2e2,#6e1,#ce0,#ed0,#ea0,#e90,#d80,#d80,#ea0,#fd0,#4e1,#0ec,#0de,#0ce,#0de,#0ea,#7e1,#ec0,#e90,#d70,#d70,#e80,#eb0,#de0,#1e3,#0ec,#0ef,#0ef,#0ec,#1e5,#8e1,#ee0,#fd0,#ed0,#ed0,#fd0,#fe0,#de0,#ce0,#be0,#ae0,#9e1,#6e1,#2e2,#1e5,#0e8,#0ea,#0e8,#1e5,#6e1,#ee0,#ec0,#eb0,#ea0,#eb0,#fd0,#9e1,#1e6,#0ee,#0de,#0de,#0ef,#0e8,#6e1,#fe0,#ec0,#eb0,#eb0,#ec0,#ee0,#6e1,#1e6,#0ea,#0ec,#0eb,#0e8,#1e5,#3e2,#7e1,#9e1,#ae1,#ae1,#9e1,#9e1,#ae1,#ae0,#ae0,#9e1,#7e1)"></div><div style="top:130.27px;background:linear-gradient(90deg,#911,#c30,#d70,#ec0,#6e1,#0ec,#0de,#0de,#0ef,#1e5,#de0,#eb0,#e90,#d80,#d80,#e90,#ea0,#ec0,#fd0,#fe0,#ee0,#de0,#be0,#7e1,#2e2,#1e5,#1e7,#1e6,#2e2,#ce0,#ec0,#e90,#d70,#d70,#d80,#ea0,#fe0,#1e4,#0ef,#0ce,#0ce,#0df,#0e8,#ae0,#ec0,#e90,#d80,#d80,#ea0,#ec0,#be0,#1e3,#0e9,#0eb,#0ea,#1e7,#1e3,#6e1,#ae0,#ce0,#ce0,#de0,#ee0,#fe0,#fe0,#fd0,#ed0,#fd0,#de0,#7e1,#1e5,#0ec,#0ef,#0ef,#0ed,#1e6,#9e1,#fd0,#eb0,#ea0,#ea0,#eb0,#fe0,#4e1,#0ea,#0ef,#0df,#0df,#0ec,#1e4,#9e1,#fe0,#fd0,#ed0,#fd0,#ee0,#ae0,#6e1,#2e2,#1e3,#1e3,#1e4,#1e4,#1e5,#1e6,#1e7,#1e7,#1e5,#2e2,#7e1,#ce0,#fe0,#fd0,#fd0,#ee0,#8e1)"></div><div style="top:132.26px;background:linear-gradient(90deg,#911,#c30,#d70,#ec0,#5e1,#0ed,#0de,#0de,#0ef,#1e5,#ce0,#ec0,#e90,#e80,#e80,#e90,#eb0,#ec0,#ec0,#fd0,#fd0,#fe0,#be0,#6e1,#1e4,#0e9,#0eb,#0e9,#1e3,#ce0,#ec0,#e80,#d60,#d60,#d80,#eb0,#ce0,#1e7,#0df,#0ce,#0ce,#0ef,#1e6,#ce0,#ec0,#e90,#e90,#e90,#eb0,#fd0,#ae0,#3e2,#1e4,#1e5,#1e5,#1e4,#2e2,#2e2,#2e2,#2e2,#4e1,#8e1,#de0,#fd0,#ec0,#eb0,#eb0,#ec0,#de0,#3e2,#0ea,#0df,#0de,#0de,#0ed,#1e3,#de0,#ec0,#ea0,#ea0,#eb0,#ed0,#be0,#1e4,#0ea,#0ee,#0ee,#0eb,#1e7,#2e2,#7e1,#ae0,#be0,#be0,#be0,#be0,#be0,#ce0,#ce0,#be0,#9e1,#3e1,#1e5,#0ea,#0ee,#0ef,#0ee,#0e9,#2e2,#be0,#fd0,#ec0,#ec0,#fd0,#ce0,#2e2)"></div><div style="top:134.25px;background:linear-gradient(90deg,#911,#c30,#d70,#ec0,#5e1,#0ed,#0de,#0de,#0ee,#1e4,#ce0,#ec0,#ea0,#e90,#e90,#ea0,#eb0,#eb0,#ec0,#ec0,#ed0,#fe0,#be0,#3e1,#0e7,#0ed,#0ee,#0eb,#1e3,#ee0,#eb0,#d80,#d60,#d60,#d80,#eb0,#ae1,#0e9,#0de,#0ce,#0de,#0ee,#1e3,#de0,#ec0,#ea0,#ea0,#eb0,#ec0,#fe0,#ce0,#9e1,#6e1,#5e1,#3e2,#1e2,#1e5,#0e7,#0e9,#0e8,#1e5,#6e1,#ee0,#ec0,#ea0,#e90,#ea0,#ec0,#be0,#1e6,#0ef,#0de,#0ce,#0df,#0e9,#5e1,#fe0,#ec0,#eb0,#eb0,#ec0,#ee0,#8e1,#1e3,#1e6,#0e7,#1e7,#1e6,#1e5,#1e5,#1e4,#1e4,#1e3,#3e2,#8e1,#de0,#fe0,#ed0,#ed0,#fe0,#ae0,#1e3,#0eb,#0df,#0de,#0df,#0ee,#1e6,#8e1,#fe0,#ed0,#ec0,#fd0,#de0,#6e1,#1e5)"></div><div style="top:136.24px;background:linear-gradient(90deg,#911,#c30,#d70,#ec0,#4e1,#0ed,#0de,#0de,#0ee,#1e4,#ce0,#ec0,#ea0,#ea0,#ea0,#ea0,#eb0,#eb0,#eb0,#eb0,#ec0,#fd0,#be0,#1e3,#0eb,#0ef,#0df,#0ec,#2e2,#fe0,#ea0,#d70,#d50,#d60,#e80,#ec0,#6e1,#0eb,#0de,#0ce,#0df,#0ea,#3e1,#ee0,#ed0,#ec0,#ec0,#ec0,#ed0,#fe0,#fe0,#ee0,#ce0,#ae0,#6e1,#1e4,#0e9,#0ee,#0ef,#0ed,#1e6,#9e1,#fd0,#ea0,#e90,#e90,#eb0,#fd0,#5e1,#0ea,#0df,#0de,#0de,#0ed,#1e5,#9e1,#fe0,#ed0,#ed0,#fd0,#fe0,#ce0,#9e1,#7e1,#5e1,#4e1,#2e2,#1e5,#0e8,#0eb,#0ed,#0ec,#0e8,#2e2,#be0,#fd0,#ec0,#eb0,#ec0,#ee0,#4e1,#0e9,#0ef,#0de,#0de,#0ef,#0e9,#2e2,#be0,#ee0,#fe0,#ee0,#ce0,#8e1,#4e1,#1e3)"></div><div style="top:138.23px;background:linear-gradient(90deg,#911,#c30,#d70,#ec0,#4e1,#0ed,#0de,#0de,#0ed,#1e4,#ce0,#ed0,#eb0,#ea0,#ea0,#ea0,#eb0,#eb0,#ea0,#eb0,#eb0,#fd0,#ae0,#1e5,#0ee,#0de,#0df,#0ed,#3e2,#fd0,#e90,#d60,#d50,#d60,#e90,#fd0,#2e2,#0ec,#0df,#0df,#0ef,#0e7,#5e1,#ce0,#fe0,#fd0,#fd0,#fd0,#fd0,#fd0,#ed0,#ed0,#fe0,#ce0,#4e1,#0e8,#0ef,#0de,#0df,#0ee,#1e4,#ce0,#ec0,#e90,#e80,#e90,#ec0,#ce0,#1e4,#0ed,#0df,#0df,#0ee,#0e9,#2e2,#8e1,#be0,#de0,#de0,#de0,#de0,#de0,#ee0,#ee0,#ce0,#9e1,#1e3,#0e9,#0ef,#0df,#0df,#0ee,#1e6,#8e1,#fe0,#ec0,#eb0,#ec0,#fe0,#8e1,#1e6,#0ed,#0ef,#0ef,#0ee,#0ea,#1e5,#3e2,#6e1,#8e1,#8e1,#8e1,#9e1,#9e1,#ae0,#ae0)"></div><div style="top:140.22px;background:linear-gradient(90deg,#911,#c30,#d70,#ec0,#4e1,#0ed,#0de,#0df,#0ed,#1e4,#be0,#ed0,#eb0,#eb0,#eb0,#eb0,#ea0,#ea0,#ea0,#ea0,#eb0,#fd0,#8e1,#0e8,#0df,#0ce,#0de,#0ec,#6e1,#ec0,#d80,#d60,#d50,#d70,#ea0,#ee0,#1e3,#0ec,#0ef,#0ef,#0eb,#1e5,#5e1,#ae0,#ce0,#de0,#fe0,#fe0,#ed0,#ec0,#eb0,#ec0,#ed0,#ce0,#1e4,#0ed,#0de,#0ce,#0de,#0ec,#4e1,#fd0,#eb0,#e90,#e90,#eb0,#fd0,#8e1,#1e6,#0eb,#0ed,#0ec,#0ea,#1e6,#1e4,#2e2,#3e1,#5e1,#9e1,#ce0,#fe0,#ed0,#ec0,#ed0,#ee0,#6e1,#0e8,#0ef,#0de,#0ce,#0df,#0eb,#3e2,#de0,#ed0,#ec0,#ec0,#fe0,#ae0,#2e2,#1e7,#0ea,#0eb,#0eb,#0e9,#0e8,#0e7,#1e7,#1e6,#1e4,#2e2,#8e1,#ce0,#fe0,#fe0,#ee0)"></div><div style="top:142.21px;background:linear-gradient(90deg,#911,#c30,#d70,#ec0,#3e1,#0ed,#0de,#0df,#0ed,#1e3,#be0,#fd0,#ec0,#eb0,#eb0,#eb0,#ea0,#e90,#e90,#e90,#eb0,#fe0,#4e1,#0ec,#0de,#0ce,#0de,#0ea,#9e1,#eb0,#d80,#d60,#d60,#d80,#eb0,#ce0,#1e4,#0eb,#0ed,#0ec,#0e9,#1e5,#2e2,#5e1,#7e1,#ae0,#de0,#fd0,#ec0,#ea0,#ea0,#eb0,#fd0,#8e1,#0e9,#0df,#0be,#0ce,#0df,#0e8,#ae0,#ec0,#ea0,#ea0,#ea0,#ec0,#de0,#5e1,#1e5,#0e7,#0e8,#0e8,#0e8,#0e8,#0e8,#0e8,#1e6,#1e3,#9e1,#fe0,#ec0,#eb0,#eb0,#ed0,#be0,#1e4,#0ee,#0de,#0ce,#0de,#0ee,#1e5,#9e1,#fe0,#fd0,#fd0,#fe0,#be0,#7e1,#3e2,#1e3,#1e4,#1e6,#0e8,#0ea,#0ed,#0ee,#0ee,#0eb,#1e5,#6e1,#de0,#fd0,#ed0,#fd0,#be0)"></div><div style="top:144.19px;background:linear-gradient(90deg,#911,#c30,#d70,#ec0,#3e2,#0ed,#0df,#0df,#0ec,#1e3,#be0,#fd0,#ec0,#ec0,#eb0,#eb0,#ea0,#e90,#e80,#e90,#eb0,#fe0,#1e3,#0ef,#0ce,#0be,#0de,#0e8,#ce0,#eb0,#d70,#d60,#d70,#e90,#ec0,#ae0,#1e4,#0e9,#0ea,#0e9,#1e7,#1e5,#1e4,#1e3,#2e2,#7e1,#de0,#ec0,#ea0,#e90,#e90,#eb0,#fe0,#2e2,#0ee,#0ce,#0be,#0ce,#0ee,#1e3,#ee0,#ec0,#eb0,#eb0,#ec0,#fe0,#be0,#7e1,#3e2,#1e3,#1e4,#1e7,#0ea,#0ed,#0ee,#0ed,#0e9,#2e2,#de0,#ec0,#eb0,#ea0,#ec0,#fe0,#3e2,#0eb,#0df,#0ce,#0de,#0ef,#0e8,#2e2,#9e1,#ce0,#ce0,#ce0,#be0,#ae0,#ae0,#9e1,#8e1,#3e2,#1e5,#0eb,#0ef,#0de,#0de,#0ef,#0e9,#4e1,#de0,#fd0,#ed0,#fd0,#ce0,#3e2)"></div><div style="top:146.18px;background:linear-gradient(90deg,#911,#c30,#d80,#ed0,#3e2,#0ed,#0df,#0df,#0ec,#1e4,#ae0,#fe0,#ed0,#ec0,#eb0,#ea0,#e90,#d80,#d80,#e90,#eb0,#de0,#1e6,#0df,#0be,#0be,#0df,#1e5,#fe0,#ea0,#d70,#d60,#d80,#ea0,#fd0,#9e1,#1e3,#1e6,#0e7,#0e7,#0e7,#0e8,#0e8,#0e7,#1e4,#7e1,#fe0,#eb0,#e90,#d80,#e90,#ec0,#be0,#0e8,#0df,#0be,#0be,#0df,#0e9,#6e1,#fe0,#ec0,#ec0,#ec0,#fd0,#ee0,#ce0,#be0,#9e1,#5e1,#1e4,#0e9,#0ef,#0df,#0df,#0ef,#1e7,#9e1,#fd0,#eb0,#ea0,#eb0,#fd0,#8e1,#1e7,#0ef,#0df,#0df,#0ef,#0ea,#1e6,#2e2,#4e1,#6e1,#8e1,#ae0,#ce0,#ee0,#fe0,#de0,#9e1,#1e3,#0eb,#0df,#0ce,#0ce,#0df,#0eb,#2e2,#be0,#fe0,#fd0,#fe0,#be0,#4e1,#1e5)"></div><div style="top:148.17px;background:linear-gradient(90deg,#911,#c30,#d80,#ed0,#2e2,#0ed,#0df,#0df,#0ec,#1e3,#ae1,#fe0,#fd0,#ec0,#eb0,#ea0,#e90,#d80,#d70,#e90,#eb0,#be0,#0e9,#0de,#0be,#0be,#0ef,#2e2,#fd0,#e90,#d70,#d70,#e80,#eb0,#fe0,#9e1,#2e2,#1e4,#1e5,#1e7,#0e9,#0eb,#0ec,#0ea,#1e5,#9e1,#ed0,#ea0,#d80,#d80,#ea0,#fd0,#3e1,#0ed,#0de,#0ce,#0de,#0ed,#1e4,#9e1,#ee0,#fd0,#fd0,#fe0,#fe0,#fe0,#fe0,#ee0,#be0,#5e1,#1e7,#0ef,#0de,#0ce,#0de,#0eb,#3e1,#fe0,#ec0,#ea0,#eb0,#ed0,#be0,#1e3,#0ea,#0ed,#0ee,#0ed,#0eb,#0e9,#0e8,#1e7,#1e5,#2e2,#8e1,#de0,#fd0,#ed0,#fd0,#ce0,#2e2,#0eb,#0df,#0ce,#0ce,#0df,#0ec,#1e4,#9e1,#de0,#ee0,#ce0,#ae1,#6e1,#2e2,#1e4)"></div><div style="top:150.16px;background:linear-gradient(90deg,#911,#c30,#d80,#ed0,#3e2,#0ec,#0ef,#0ef,#0e9,#2e2,#be0,#fe0,#fd0,#ec0,#eb0,#ea0,#d80,#d70,#d70,#e80,#ec0,#ae1,#0eb,#0ce,#0be,#0ce,#0ec,#7e1,#ec0,#e90,#d70,#d80,#e90,#ec0,#fe0,#be0,#7e1,#3e1,#1e3,#1e6,#0ea,#0ed,#0ee,#0ea,#1e2,#de0,#eb0,#e80,#d70,#d80,#eb0,#de0,#1e5,#0ef,#0de,#0de,#0ef,#0e8,#3e2,#ae0,#de0,#ee0,#fe0,#fe0,#fd0,#ed0,#ed0,#fd0,#be0,#1e3,#0ec,#0de,#0ce,#0de,#0ee,#1e4,#ce0,#ec0,#eb0,#eb0,#ed0,#de0,#6e1,#1e4,#0e7,#0e9,#0e9,#0ea,#0eb,#0ec,#0ec,#0ea,#1e5,#6e1,#de0,#ed0,#ec0,#ec0,#fe0,#5e1,#0e9,#0ef,#0de,#0de,#0df,#0eb,#1e5,#4e1,#8e1,#9e1,#9e1,#9e1,#8e1,#8e1,#7e1,#5e1)"></div><div style="top:152.15px;background:linear-gradient(90deg,#911,#c30,#d80,#ec0,#4e1,#0eb,#0ef,#0ed,#0e7,#4e1,#be0,#fe0,#fd0,#ec0,#eb0,#e90,#d80,#d60,#d70,#e80,#ec0,#7e1,#0ec,#0ce,#0be,#0df,#0e8,#ce0,#eb0,#e80,#d80,#e80,#ea0,#ec0,#fe0,#ce0,#ae0,#7e1,#2e2,#1e7,#0ec,#0ef,#0ee,#0e8,#7e1,#ed0,#ea0,#d70,#d70,#e90,#ec0,#8e1,#0e8,#0ef,#0df,#0ef,#0ea,#1e4,#5e1,#9e1,#ae0,#ce0,#fe0,#fd0,#ec0,#eb0,#ec0,#fe0,#7e1,#0e9,#0df,#0ce,#0ce,#0ef,#1e7,#9e1,#fd0,#ec0,#ec0,#ed0,#fe0,#ae0,#5e1,#2e2,#1e3,#1e5,#0e8,#0eb,#0ee,#0ef,#0ed,#0e8,#4e1,#de0,#ed0,#ec0,#ec0,#fe0,#7e1,#1e7,#0ee,#0df,#0df,#0ef,#0eb,#1e7,#1e3,#2e2,#3e1,#5e1,#8e1,#ae0,#ce0,#ce0,#ae0,#4e1)"></div><div style="top:154.14px;background:linear-gradient(90deg,#911,#c30,#d70,#ec0,#5e1,#0ea,#0ee,#0eb,#1e5,#6e1,#ce0,#fe0,#fd0,#ec0,#eb0,#e90,#d70,#d60,#d60,#e90,#ec0,#4e1,#0ee,#0ce,#0ce,#0ef,#1e3,#fe0,#ea0,#e80,#d80,#e90,#eb0,#ec0,#fd0,#fe0,#ce0,#9e1,#2e2,#0e9,#0ee,#0ef,#0ed,#1e5,#ce0,#eb0,#d80,#d70,#d80,#eb0,#fe0,#2e2,#0ea,#0ed,#0ed,#0ea,#1e6,#1e3,#4e1,#6e1,#9e1,#de0,#fd0,#ec0,#eb0,#eb0,#ec0,#ce0,#1e4,#0ee,#0de,#0ce,#0df,#0e9,#5e1,#ee0,#ed0,#ed0,#fd0,#fe0,#de0,#ae0,#9e1,#6e1,#2e2,#1e6,#0eb,#0ef,#0df,#0ef,#0ea,#2e2,#de0,#ec0,#ec0,#ec0,#fe0,#9e1,#1e5,#0eb,#0ee,#0ee,#0ec,#0ea,#0e8,#1e7,#1e6,#1e4,#3e2,#9e1,#de0,#fe0,#fe0,#ce0,#5e1,#0e8)"></div><div style="top:156.13px;background:linear-gradient(90deg,#911,#c30,#d70,#ec0,#6e1,#0e8,#0ec,#0e9,#1e3,#8e1,#de0,#fe0,#fd0,#ec0,#ea0,#e80,#d60,#d60,#d60,#e90,#fd0,#2e2,#0ef,#0de,#0de,#0eb,#7e1,#ed0,#ea0,#e80,#e90,#ea0,#eb0,#ec0,#ed0,#fe0,#ee0,#9e1,#1e4,#0eb,#0ef,#0ef,#0ea,#5e1,#fd0,#ea0,#d70,#d70,#e90,#ec0,#be0,#1e4,#0e9,#0ea,#0e9,#1e6,#1e4,#1e3,#2e2,#5e1,#ae0,#fe0,#ec0,#ea0,#ea0,#eb0,#fe0,#5e1,#0eb,#0df,#0de,#0df,#0ea,#2e2,#be0,#fe0,#fd0,#fd0,#fe0,#ee0,#ee0,#de0,#be0,#7e1,#1e4,#0ea,#0ef,#0df,#0df,#0eb,#2e2,#de0,#ed0,#ec0,#ec0,#fe0,#9e1,#1e3,#1e7,#0e9,#0ea,#0ea,#0ea,#0ea,#0ea,#0e9,#1e7,#2e2,#ae1,#fe0,#fd0,#fd0,#de0,#5e1,#0e8,#0ef)"></div><div style="top:158.12px;background:linear-gradient(90deg,#911,#c30,#d70,#ec0,#7e1,#1e7,#0ea,#0e7,#2e2,#ae0,#ee0,#fe0,#ed0,#ec0,#ea0,#d80,#d60,#d50,#d60,#e90,#fe0,#1e4,#0ef,#0de,#0ef,#1e6,#be0,#ec0,#e90,#e90,#e90,#ea0,#eb0,#ec0,#ec0,#fd0,#ee0,#7e1,#1e6,#0ed,#0ef,#0ee,#1e5,#ce0,#eb0,#d80,#d70,#d80,#eb0,#fe0,#7e1,#1e4,#1e7,#1e7,#1e6,#1e5,#1e5,#1e4,#1e3,#6e1,#de0,#ec0,#ea0,#e90,#ea0,#ec0,#ae0,#1e6,#0ef,#0df,#0ef,#0eb,#1e3,#9e1,#de0,#fe0,#fe0,#fe0,#fe0,#fe0,#fe0,#fe0,#be0,#2e2,#0e9,#0ef,#0de,#0df,#0eb,#2e2,#ce0,#fd0,#ec0,#ed0,#fe0,#ae0,#4e1,#1e4,#1e5,#1e6,#0e8,#0ea,#0ec,#0ed,#0ec,#0e8,#2e2,#be0,#fe0,#ed0,#fd0,#de0,#4e1,#0e8,#0ee,#0ef)"></div><div style="top:160.11px;background:linear-gradient(90deg,#911,#c30,#d70,#ec0,#8e1,#1e6,#0e8,#1e5,#4e1,#be0,#fe0,#fd0,#ed0,#eb0,#e90,#d70,#d50,#d50,#d70,#ea0,#ee0,#1e6,#0ef,#0df,#0ed,#2e2,#fe0,#eb0,#e90,#e90,#e90,#ea0,#eb0,#eb0,#ec0,#ed0,#de0,#4e1,#0e9,#0ef,#0ef,#0ea,#5e1,#fd0,#ea0,#d80,#d80,#e90,#ec0,#de0,#5e1,#1e3,#1e4,#1e4,#1e4,#1e5,#1e6,#1e5,#2e2,#be0,#ed0,#ea0,#e90,#e90,#eb0,#ee0,#2e2,#0eb,#0ef,#0ef,#0ea,#1e4,#6e1,#be0,#ce0,#de0,#ee0,#fe0,#fd0,#ed0,#fd0,#ee0,#5e1,#0e8,#0ef,#0df,#0df,#0eb,#2e2,#ce0,#fd0,#ed0,#fd0,#fe0,#be0,#7e1,#4e1,#2e2,#1e4,#1e6,#0ea,#0ed,#0ef,#0ed,#0e8,#3e1,#ce0,#fd0,#ed0,#fd0,#be0,#2e2,#0e8,#0ec,#0ee,#0ed)"></div><div style="top:162.09px;background:linear-gradient(90deg,#911,#c30,#d70,#ec0,#9e1,#1e5,#1e7,#1e4,#7e1,#ce0,#fe0,#fd0,#ec0,#eb0,#e90,#d70,#d50,#d50,#d70,#eb0,#ce0,#1e7,#0ef,#0ef,#0e9,#8e1,#ed0,#ea0,#e90,#e90,#ea0,#ea0,#eb0,#eb0,#eb0,#ed0,#ce0,#1e3,#0ec,#0ef,#0ee,#1e5,#ce0,#eb0,#e80,#d80,#e80,#eb0,#fd0,#be0,#6e1,#3e2,#2e2,#1e3,#1e4,#1e6,#1e7,#1e4,#8e1,#fe0,#eb0,#e90,#e90,#ea0,#fd0,#7e1,#0e7,#0ed,#0ed,#0ea,#1e5,#4e1,#9e1,#ae0,#ce0,#ee0,#fe0,#ed0,#ec0,#ec0,#fe0,#8e1,#1e7,#0ef,#0df,#0ef,#0eb,#2e2,#be0,#fe0,#fd0,#fd0,#ee0,#ce0,#ae0,#8e1,#6e1,#2e2,#1e6,#0eb,#0ef,#0ef,#0ed,#1e7,#5e1,#ee0,#fd0,#ed0,#fe0,#ae0,#2e2,#1e7,#0ea,#0eb,#0ea,#0ea)"></div><div style="top:164.08px;background:linear-gradient(90deg,#911,#c30,#d70,#ec0,#ae1,#1e4,#1e5,#2e2,#9e1,#de0,#fe0,#fd0,#ec0,#eb0,#e80,#d60,#d50,#d50,#d70,#eb0,#ae1,#0e8,#0ee,#0ed,#1e4,#ce0,#ec0,#ea0,#e90,#e90,#ea0,#ea0,#ea0,#ea0,#eb0,#fd0,#9e1,#1e6,#0ed,#0ef,#0ea,#6e1,#ed0,#ea0,#d80,#d80,#e90,#ec0,#fe0,#ae0,#8e1,#6e1,#3e1,#1e3,#1e6,#0e7,#1e6,#4e1,#ee0,#ec0,#e90,#e80,#ea0,#ec0,#be0,#1e4,#0ea,#0eb,#0e9,#1e5,#3e2,#6e1,#8e1,#ae0,#de0,#fe0,#ec0,#eb0,#ec0,#fd0,#ae0,#1e5,#0ed,#0ef,#0ef,#0ea,#2e2,#ae0,#fe0,#fe0,#fe0,#ee0,#de0,#ce0,#be0,#9e1,#4e1,#1e5,#0eb,#0ef,#0ef,#0ed,#1e6,#8e1,#fe0,#fd0,#fd0,#ee0,#9e1,#2e2,#1e5,#0e7,#0e8,#0e9,#0e9,#0eb)"></div><div style="top:166.07px;background:linear-gradient(90deg,#911,#c30,#d70,#ec0,#ae0,#2e2,#1e3,#4e1,#ae0,#ee0,#fd0,#ed0,#ec0,#ea0,#d80,#d60,#d40,#d50,#d80,#ec0,#7e1,#0e9,#0ed,#0e9,#4e1,#fe0,#eb0,#ea0,#e90,#ea0,#ea0,#ea0,#ea0,#ea0,#ec0,#fe0,#5e1,#0e9,#0ee,#0ec,#1e4,#de0,#eb0,#e90,#d80,#e90,#eb0,#ed0,#ee0,#be0,#9e1,#7e1,#3e2,#1e5,#0e7,#1e7,#1e3,#be0,#ec0,#ea0,#e80,#e90,#eb0,#ee0,#4e1,#1e7,#0e9,#0e8,#1e4,#2e2,#5e1,#6e1,#9e1,#ce0,#fe0,#ec0,#eb0,#eb0,#ed0,#be0,#1e4,#0ec,#0ef,#0ee,#0e9,#2e2,#ae0,#ee0,#fe0,#fe0,#ee0,#ee0,#ee0,#de0,#be0,#6e1,#1e5,#0ec,#0ef,#0ef,#0eb,#1e4,#ae1,#fe0,#fd0,#fe0,#de0,#9e1,#3e2,#1e3,#1e5,#1e6,#0e8,#0ea,#0ec,#0ed)"></div><div style="top:168.06px;background:linear-gradient(90deg,#911,#c30,#d70,#ec0,#be0,#3e2,#2e2,#7e1,#ce0,#fe0,#fd0,#ed0,#eb0,#ea0,#d70,#d50,#c40,#d50,#d80,#ed0,#5e1,#0e9,#0eb,#1e6,#9e1,#ed0,#eb0,#ea0,#e90,#ea0,#ea0,#e90,#e90,#ea0,#ec0,#de0,#1e3,#0eb,#0ed,#0e8,#7e1,#ed0,#ea0,#d80,#d80,#ea0,#ec0,#fd0,#ee0,#ce0,#ae0,#6e1,#1e3,#1e6,#0e8,#1e4,#9e1,#fd0,#ea0,#e80,#e90,#ea0,#fd0,#9e1,#1e4,#1e7,#1e6,#1e4,#2e2,#4e1,#5e1,#7e1,#be0,#fe0,#ec0,#eb0,#eb0,#ec0,#de0,#2e2,#0ea,#0ee,#0ed,#0e8,#2e2,#ae1,#de0,#ee0,#ee0,#ee0,#fe0,#fe0,#fe0,#ce0,#6e1,#1e6,#0ec,#0ef,#0ef,#0ea,#2e2,#be0,#fe0,#fd0,#fe0,#ce0,#8e1,#4e1,#2e2,#1e3,#1e5,#0e8,#0eb,#0ed,#0ed,#0e9)"></div><div style="top:170.05px;background:linear-gradient(90deg,#911,#c30,#d70,#ec0,#ce0,#4e1,#4e1,#9e1,#de0,#fd0,#ed0,#ec0,#eb0,#e90,#d70,#d50,#c40,#d60,#e90,#fd0,#3e2,#0e8,#0e8,#2e2,#de0,#ec0,#ea0,#e90,#e90,#e90,#e90,#e90,#e90,#ea0,#ed0,#9e1,#1e6,#0eb,#0ea,#1e3,#ee0,#eb0,#e90,#d80,#e90,#eb0,#ec0,#fe0,#ee0,#ce0,#ae1,#4e1,#1e5,#0e7,#1e6,#5e1,#fe0,#eb0,#e90,#d80,#ea0,#ec0,#ce0,#3e1,#1e4,#1e5,#1e3,#2e2,#3e1,#4e1,#6e1,#ae0,#fe0,#ec0,#eb0,#ea0,#ec0,#ee0,#3e2,#0e9,#0ed,#0eb,#1e7,#3e2,#9e1,#ce0,#de0,#ee0,#ee0,#fe0,#fd0,#fe0,#de0,#7e1,#1e6,#0ec,#0ef,#0ee,#0e8,#4e1,#ce0,#fe0,#fe0,#ee0,#be0,#9e1,#6e1,#4e1,#2e2,#1e5,#0e9,#0ec,#0ee,#0ec,#1e7,#4e1)"></div><div style="top:172.04px;background:linear-gradient(90deg,#911,#c30,#d70,#ec0,#ce0,#6e1,#6e1,#ae0,#fe0,#fd0,#ed0,#ec0,#eb0,#e80,#d60,#c40,#c40,#d60,#ea0,#fe0,#2e2,#0e7,#1e5,#7e1,#fe0,#eb0,#ea0,#e90,#e90,#e90,#e90,#e90,#e90,#eb0,#fe0,#5e1,#0e8,#0eb,#1e6,#9e1,#ec0,#ea0,#d80,#d80,#ea0,#eb0,#ed0,#fe0,#fe0,#ce0,#8e1,#1e2,#1e6,#1e6,#2e2,#de0,#ec0,#e90,#d80,#e90,#eb0,#fe0,#8e1,#2e2,#1e3,#2e2,#3e2,#3e1,#4e1,#6e1,#ae0,#fe0,#ec0,#ea0,#ea0,#eb0,#fe0,#5e1,#1e7,#0eb,#0ea,#1e6,#3e1,#9e1,#ce0,#de0,#ee0,#fe0,#fd0,#fd0,#fd0,#ee0,#7e1,#1e6,#0ec,#0ef,#0ec,#1e6,#6e1,#de0,#fe0,#fe0,#ee0,#be0,#ae1,#8e1,#6e1,#2e2,#1e5,#0ea,#0ed,#0ee,#0ea,#1e4,#9e1,#ee0)"></div><div style="top:174.03px;background:linear-gradient(90deg,#911,#c30,#d70,#eb0,#de0,#8e1,#8e1,#ce0,#fe0,#ed0,#ec0,#ec0,#ea0,#d80,#d50,#c40,#c40,#d60,#ea0,#de0,#2e2,#1e6,#2e2,#be0,#ed0,#ea0,#e90,#e90,#e90,#e90,#e80,#e80,#e90,#ec0,#de0,#1e2,#0e9,#0e8,#3e2,#fe0,#eb0,#e90,#d80,#e90,#ea0,#ec0,#ed0,#fd0,#fe0,#be0,#4e1,#1e4,#1e6,#1e3,#ae0,#ec0,#ea0,#d80,#e90,#eb0,#fd0,#be0,#5e1,#2e2,#3e2,#4e1,#4e1,#4e1,#5e1,#ae1,#fe0,#ec0,#ea0,#ea0,#eb0,#fe0,#7e1,#1e6,#0e9,#0e9,#1e5,#4e1,#9e1,#be0,#ce0,#ee0,#fe0,#fd0,#ed0,#fd0,#ee0,#6e1,#1e6,#0ec,#0ee,#0ea,#1e4,#9e1,#de0,#fe0,#fe0,#de0,#ce0,#ae0,#9e1,#7e1,#2e2,#1e6,#0eb,#0ed,#0ec,#0e8,#3e2,#be0,#fe0,#fe0)"></div><div style="top:176.02px;background:linear-gradient(90deg,#911,#c30,#d70,#eb0,#ee0,#9e1,#ae0,#de0,#fd0,#ec0,#ec0,#eb0,#ea0,#d70,#d50,#c40,#d40,#d70,#eb0,#ce0,#1e2,#1e4,#6e1,#fe0,#ec0,#ea0,#e90,#e90,#e90,#e90,#d80,#e80,#ea0,#ed0,#ae1,#1e5,#0e8,#1e4,#ae0,#ec0,#e90,#d80,#d80,#ea0,#eb0,#ec0,#ed0,#fd0,#de0,#9e1,#2e2,#1e5,#1e4,#8e1,#fd0,#ea0,#e80,#d80,#ea0,#ec0,#de0,#8e1,#5e1,#4e1,#5e1,#5e1,#4e1,#5e1,#9e1,#fe0,#ec0,#ea0,#ea0,#eb0,#fd0,#9e1,#1e4,#0e8,#0e8,#1e4,#5e1,#9e1,#be0,#ce0,#ee0,#fe0,#ed0,#ec0,#ed0,#ee0,#6e1,#1e7,#0ec,#0ec,#0e8,#2e2,#ae0,#ee0,#fe0,#fe0,#de0,#ce0,#be0,#ae0,#7e1,#2e2,#1e7,#0ec,#0ed,#0eb,#1e5,#7e1,#de0,#fe0,#fe0,#be0)"></div><div style="top:178.01px;background:linear-gradient(90deg,#911,#c30,#d70,#eb0,#fe0,#ae0,#be0,#fe0,#ed0,#ec0,#ec0,#eb0,#e90,#d70,#d50,#c40,#d50,#d80,#ec0,#ae0,#2e2,#2e2,#ae0,#fd0,#eb0,#e90,#e90,#e90,#e90,#d80,#d80,#e90,#eb0,#fe0,#6e1,#1e6,#1e6,#5e1,#fe0,#eb0,#e80,#d80,#e90,#ea0,#eb0,#ec0,#ed0,#fe0,#ce0,#5e1,#1e4,#1e4,#5e1,#fe0,#eb0,#e90,#d80,#e90,#eb0,#fe0,#ae0,#7e1,#6e1,#6e1,#6e1,#5e1,#5e1,#9e1,#ee0,#ec0,#ea0,#ea0,#ea0,#ed0,#ae0,#1e3,#1e7,#1e6,#1e3,#6e1,#ae0,#be0,#de0,#ee0,#fd0,#ed0,#ec0,#ed0,#ee0,#5e1,#1e7,#0eb,#0eb,#1e6,#4e1,#be0,#fe0,#fe0,#ee0,#de0,#ce0,#ce0,#be0,#7e1,#1e3,#0e8,#0ec,#0ec,#0e8,#2e2,#be0,#fe0,#fe0,#ee0,#ae0,#5e1)"></div><div style="top:179.99px;background:linear-gradient(90deg,#911,#c30,#d70,#eb0,#fe0,#be0,#de0,#fe0,#ed0,#ec0,#eb0,#ea0,#e80,#d60,#c40,#c40,#d50,#d80,#ec0,#ae1,#3e2,#6e1,#de0,#ec0,#ea0,#e90,#e90,#e90,#d80,#d80,#d80,#e90,#ec0,#de0,#3e2,#1e5,#2e2,#ce0,#ec0,#e90,#d80,#d80,#e90,#eb0,#ec0,#ec0,#fd0,#ee0,#9e1,#2e2,#1e3,#4e1,#de0,#ec0,#e90,#d80,#e90,#eb0,#ed0,#ce0,#9e1,#8e1,#8e1,#7e1,#6e1,#6e1,#9e1,#ee0,#ec0,#ea0,#e90,#ea0,#ec0,#ce0,#2e2,#1e5,#1e5,#2e2,#7e1,#ae0,#ce0,#de0,#fe0,#fd0,#ec0,#ec0,#ed0,#ee0,#5e1,#1e7,#0ea,#0e9,#1e5,#7e1,#ce0,#fe0,#fe0,#ee0,#ee0,#de0,#ce0,#be0,#6e1,#1e4,#0e9,#0ec,#0ea,#1e5,#6e1,#de0,#fe0,#fe0,#ce0,#9e1,#4e1,#2e2)"></div><div style="top:181.98px;background:linear-gradient(90deg,#911,#c30,#d70,#eb0,#fe0,#de0,#ee0,#fd0,#ec0,#eb0,#eb0,#ea0,#d80,#d60,#c40,#c40,#d50,#e90,#fd0,#9e1,#5e1,#9e1,#fe0,#eb0,#e90,#e90,#e90,#d80,#d80,#d70,#d80,#ea0,#ed0,#ae0,#2e2,#1e3,#8e1,#fd0,#ea0,#d80,#d80,#e90,#ea0,#eb0,#ec0,#ec0,#fd0,#ce0,#6e1,#2e2,#3e2,#be0,#ed0,#ea0,#d80,#d80,#ea0,#ec0,#ee0,#be0,#9e1,#9e1,#9e1,#7e1,#7e1,#9e1,#ee0,#ec0,#ea0,#e90,#ea0,#ec0,#de0,#4e1,#1e4,#1e4,#2e2,#8e1,#be0,#ce0,#ee0,#fe0,#ed0,#ec0,#ec0,#ed0,#ee0,#5e1,#1e6,#0ea,#0e8,#1e3,#9e1,#de0,#fe0,#fe0,#fe0,#ee0,#ee0,#de0,#ae0,#5e1,#1e5,#0e9,#0eb,#0e8,#2e2,#ae0,#fe0,#fe0,#fe0,#be0,#7e1,#3e1,#2e2,#1e4)"></div><div style="top:183.97px;background:linear-gradient(90deg,#911,#c30,#d70,#eb0,#fd0,#ee0,#fe0,#ed0,#ec0,#eb0,#ea0,#e90,#d70,#d50,#c40,#c40,#d60,#ea0,#fd0,#9e1,#7e1,#ce0,#ed0,#ea0,#e90,#e80,#d80,#d80,#d70,#d70,#d80,#ea0,#fe0,#8e1,#2e2,#4e1,#de0,#ec0,#e90,#d80,#d80,#e90,#ea0,#eb0,#ec0,#ed0,#fe0,#ae0,#4e1,#3e2,#9e1,#fd0,#ea0,#e80,#d80,#e90,#eb0,#fd0,#ce0,#ae0,#ae0,#ae1,#9e1,#8e1,#ae1,#ee0,#ed0,#ea0,#e90,#ea0,#ec0,#fe0,#6e1,#1e3,#1e3,#3e1,#9e1,#be0,#de0,#ee0,#fe0,#ed0,#ec0,#ec0,#ed0,#de0,#5e1,#1e6,#0e9,#1e6,#3e2,#ae0,#fe0,#fe0,#fe0,#fe0,#ee0,#ee0,#de0,#ae0,#4e1,#1e6,#0e9,#0ea,#1e6,#5e1,#ce0,#fe0,#fe0,#ee0,#ae0,#6e1,#3e2,#2e2,#1e4,#1e6)"></div><div style="top:185.96px;background:linear-gradient(90deg,#911,#c30,#d70,#eb0,#fd0,#fe0,#fe0,#ec0,#eb0,#eb0,#ea0,#e90,#d70,#d50,#c40,#c40,#d60,#ea0,#fe0,#ae1,#ae0,#fe0,#ec0,#ea0,#e80,#d80,#d80,#d80,#d70,#d70,#e90,#eb0,#ee0,#6e1,#3e1,#ae0,#ed0,#ea0,#d80,#d70,#d80,#e90,#eb0,#eb0,#ec0,#fd0,#de0,#8e1,#5e1,#8e1,#fe0,#eb0,#e90,#d80,#e80,#ea0,#ed0,#ee0,#be0,#be0,#ae0,#ae0,#9e1,#ae0,#ee0,#ed0,#eb0,#e90,#e90,#eb0,#fe0,#8e1,#2e2,#1e2,#4e1,#9e1,#ce0,#ee0,#fe0,#fd0,#ed0,#ec0,#ec0,#ed0,#de0,#5e1,#1e6,#0e8,#1e5,#5e1,#ce0,#fe0,#fd0,#fe0,#fe0,#fe0,#ee0,#de0,#9e1,#3e2,#1e6,#0e9,#0e8,#1e3,#9e1,#ee0,#fd0,#fe0,#de0,#9e1,#5e1,#3e2,#2e2,#1e4,#1e6,#0e8)"></div><div style="top:187.95px;background:linear-gradient(90deg,#911,#c30,#d70,#ea0,#ed0,#fe0,#fd0,#ec0,#eb0,#ea0,#ea0,#d80,#d60,#c40,#c30,#c40,#d70,#eb0,#fe0,#ae0,#ce0,#ed0,#eb0,#e90,#d80,#d80,#d80,#d70,#d70,#d80,#ea0,#ec0,#ce0,#6e1,#7e1,#fe0,#eb0,#e90,#d70,#d80,#e90,#ea0,#eb0,#ec0,#ec0,#fe0,#be0,#7e1,#8e1,#de0,#ec0,#e90,#d80,#d80,#ea0,#ec0,#fe0,#ce0,#be0,#be0,#be0,#ae0,#be0,#ee0,#ed0,#eb0,#e90,#e90,#eb0,#fd0,#ae0,#3e2,#2e2,#5e1,#ae0,#de0,#ee0,#fe0,#fd0,#ec0,#ec0,#ec0,#ed0,#de0,#5e1,#1e5,#1e6,#1e3,#7e1,#de0,#fe0,#fd0,#fd0,#fe0,#fe0,#ee0,#ce0,#9e1,#2e2,#1e6,#0e8,#1e6,#4e1,#ce0,#fe0,#fd0,#fe0,#ce0,#8e1,#5e1,#3e2,#1e2,#1e4,#1e6,#0e7,#1e6)"></div><div style="top:189.94px;background:linear-gradient(90deg,#911,#c30,#d70,#ea0,#ed0,#fd0,#ed0,#ec0,#eb0,#ea0,#e90,#d80,#d60,#c40,#c30,#d40,#d70,#eb0,#fe0,#ce0,#fe0,#ec0,#ea0,#d80,#d80,#d80,#d70,#d70,#d70,#d80,#ea0,#fd0,#ae0,#7e1,#ce0,#ed0,#ea0,#d80,#d70,#d80,#e90,#ea0,#eb0,#ec0,#ed0,#ee0,#ae0,#9e1,#ce0,#ed0,#ea0,#d80,#d80,#e90,#eb0,#fd0,#ee0,#ce0,#ce0,#ce0,#ce0,#ce0,#ee0,#ed0,#eb0,#e90,#e90,#ea0,#ed0,#be0,#5e1,#3e2,#6e1,#be0,#ee0,#fe0,#fd0,#ed0,#ec0,#ec0,#ec0,#ed0,#de0,#6e1,#1e4,#1e5,#2e2,#9e1,#fe0,#fd0,#fd0,#fd0,#fe0,#fe0,#ee0,#ce0,#8e1,#2e2,#1e6,#1e7,#1e3,#8e1,#ee0,#fd0,#fd0,#fe0,#be0,#7e1,#4e1,#2e2,#1e3,#1e4,#1e6,#1e6,#1e3,#6e1)"></div><div style="top:191.93px;background:linear-gradient(90deg,#911,#c30,#d70,#ea0,#ec0,#ed0,#ec0,#eb0,#ea0,#ea0,#e90,#d70,#d50,#c40,#c30,#d50,#d80,#ec0,#fe0,#de0,#fd0,#eb0,#e90,#d80,#d70,#d70,#d70,#d70,#d70,#e90,#eb0,#fe0,#ae0,#ae0,#fe0,#eb0,#d80,#d70,#d70,#d80,#ea0,#eb0,#eb0,#ec0,#fd0,#de0,#ae0,#be0,#fd0,#eb0,#e80,#d70,#d80,#ea0,#ec0,#fe0,#de0,#de0,#de0,#de0,#de0,#fe0,#ed0,#eb0,#e90,#e90,#ea0,#ec0,#de0,#7e1,#4e1,#7e1,#be0,#ee0,#fe0,#fd0,#ed0,#ec0,#eb0,#ec0,#ed0,#ee0,#6e1,#1e4,#1e4,#3e1,#be0,#fe0,#ed0,#ed0,#fd0,#fe0,#fe0,#ee0,#ce0,#7e1,#1e2,#1e5,#1e5,#3e2,#be0,#fe0,#ed0,#fd0,#ee0,#ae0,#6e1,#4e1,#2e2,#1e3,#1e4,#1e5,#1e4,#3e1,#ae0,#ee0)"></div><div style="top:193.92px;background:linear-gradient(90deg,#911,#c30,#d70,#ea0,#ec0,#ec0,#ec0,#eb0,#ea0,#e90,#d80,#d70,#d50,#c30,#c30,#d50,#e80,#ec0,#fe0,#fe0,#ec0,#ea0,#d80,#d70,#d70,#d70,#d70,#d70,#d70,#e90,#ec0,#ee0,#be0,#de0,#ec0,#e90,#d70,#d70,#d70,#e90,#ea0,#eb0,#ec0,#ed0,#fe0,#ce0,#ce0,#fe0,#ec0,#e90,#d70,#d80,#e90,#eb0,#fd0,#ee0,#de0,#ee0,#ee0,#ee0,#fe0,#ed0,#eb0,#ea0,#e90,#ea0,#ec0,#ee0,#8e1,#5e1,#8e1,#ce0,#fe0,#fd0,#ed0,#ec0,#ec0,#eb0,#eb0,#ed0,#ee0,#7e1,#1e3,#1e3,#5e1,#ce0,#fd0,#ed0,#ed0,#fd0,#fe0,#fe0,#ee0,#be0,#7e1,#2e2,#1e5,#1e3,#6e1,#de0,#fd0,#ed0,#fd0,#de0,#9e1,#5e1,#3e1,#2e2,#1e2,#1e4,#1e4,#2e2,#8e1,#ce0,#fe0,#fe0)"></div><div style="top:195.91px;background:linear-gradient(90deg,#911,#c30,#d60,#ea0,#ec0,#ec0,#eb0,#ea0,#e90,#e90,#d80,#d60,#c40,#c30,#c40,#d60,#e90,#ec0,#fe0,#fd0,#eb0,#e90,#d80,#d70,#d70,#d70,#d70,#d70,#d80,#ea0,#ed0,#de0,#ce0,#fd0,#eb0,#d80,#d70,#d70,#d80,#e90,#ea0,#eb0,#ec0,#fd0,#ee0,#de0,#fe0,#ec0,#ea0,#d80,#d70,#e80,#ea0,#ed0,#fe0,#ee0,#ee0,#fe0,#fe0,#fe0,#ed0,#eb0,#ea0,#e90,#e90,#eb0,#fe0,#ae0,#7e1,#8e1,#ce0,#fe0,#ed0,#ed0,#ec0,#ec0,#eb0,#eb0,#ec0,#ee0,#8e1,#2e2,#2e2,#7e1,#de0,#fd0,#ec0,#ec0,#ed0,#fe0,#fe0,#de0,#be0,#6e1,#2e2,#1e3,#3e2,#ae1,#fe0,#ed0,#ed0,#fe0,#ce0,#8e1,#5e1,#3e2,#2e2,#2e2,#2e2,#2e2,#6e1,#be0,#ee0,#fe0,#ee0,#ae0)"></div><div style="top:197.89px;background:linear-gradient(90deg,#911,#c30,#d60,#e90,#eb0,#ec0,#eb0,#ea0,#e90,#d80,#d70,#d60,#c40,#c30,#c40,#d60,#e90,#ec0,#fd0,#ed0,#ea0,#e80,#d70,#d70,#d70,#d60,#d60,#d70,#e80,#eb0,#fd0,#ee0,#fe0,#ec0,#e90,#d70,#d60,#d70,#e80,#ea0,#eb0,#eb0,#ec0,#fd0,#ee0,#fe0,#ed0,#ea0,#d80,#d70,#d80,#ea0,#ec0,#fd0,#fe0,#fe0,#fe0,#fe0,#fd0,#ed0,#eb0,#ea0,#e90,#e90,#eb0,#fd0,#be0,#8e1,#9e1,#de0,#fe0,#ed0,#ec0,#ec0,#ec0,#eb0,#eb0,#ec0,#fe0,#9e1,#3e2,#3e1,#9e1,#fe0,#ed0,#ec0,#ec0,#ed0,#fe0,#fe0,#de0,#be0,#7e1,#2e2,#2e2,#6e1,#ce0,#fd0,#ec0,#ed0,#fe0,#be0,#7e1,#4e1,#3e1,#3e2,#3e2,#3e2,#5e1,#9e1,#de0,#fe0,#fe0,#de0,#7e1,#1e3)"></div><div style="top:199.88px;background:linear-gradient(90deg,#911,#c30,#d60,#e90,#eb0,#eb0,#eb0,#e90,#e90,#d80,#d70,#d50,#c40,#c30,#c40,#d60,#ea0,#ec0,#ed0,#ec0,#ea0,#d80,#d70,#d60,#d60,#d60,#d60,#d70,#e90,#eb0,#fd0,#fe0,#ed0,#ea0,#d80,#d60,#d60,#d70,#e90,#ea0,#eb0,#ec0,#ed0,#fe0,#fe0,#fd0,#eb0,#e90,#d70,#d70,#e90,#eb0,#ed0,#fe0,#fe0,#fe0,#fd0,#fd0,#ed0,#eb0,#ea0,#e90,#e90,#ea0,#ec0,#de0,#9e1,#ae1,#de0,#fd0,#ec0,#ec0,#ec0,#eb0,#eb0,#eb0,#ec0,#fe0,#ae0,#5e1,#5e1,#ae0,#fe0,#ec0,#ec0,#ec0,#ed0,#fe0,#fe0,#de0,#ae0,#7e1,#4e1,#4e1,#9e1,#ee0,#ed0,#ec0,#ed0,#fe0,#ae0,#6e1,#4e1,#4e1,#4e1,#4e1,#5e1,#8e1,#be0,#fe0,#fe0,#fe0,#be0,#4e1,#1e4,#1e6)"></div><div style="top:201.87px;background:linear-gradient(90deg,#911,#c30,#d60,#e90,#eb0,#eb0,#ea0,#e90,#d80,#d70,#d60,#d50,#c30,#c30,#c40,#d70,#ea0,#ec0,#ec0,#eb0,#e90,#d70,#d60,#d60,#d60,#d60,#d70,#d80,#ea0,#ec0,#fd0,#fd0,#ec0,#e90,#d70,#d60,#d70,#d80,#e90,#ea0,#eb0,#ec0,#ed0,#fd0,#fd0,#ec0,#e90,#d70,#d70,#d80,#ea0,#ec0,#fd0,#fe0,#fe0,#fd0,#ed0,#ec0,#eb0,#ea0,#e90,#e90,#ea0,#ec0,#fe0,#be0,#ae0,#de0,#fd0,#ec0,#ec0,#eb0,#eb0,#eb0,#eb0,#ec0,#fe0,#be0,#7e1,#7e1,#be0,#fd0,#ec0,#eb0,#ec0,#ed0,#fe0,#ee0,#de0,#be0,#8e1,#5e1,#7e1,#be0,#fe0,#ed0,#ec0,#ed0,#ee0,#ae0,#6e1,#4e1,#5e1,#6e1,#7e1,#8e1,#ae0,#de0,#fe0,#fe0,#ee0,#9e1,#2e2,#1e5,#1e5,#1e3)"></div><div style="top:203.86px;background:linear-gradient(90deg,#911,#c30,#d60,#e90,#ea0,#eb0,#ea0,#e90,#d80,#d70,#d60,#c40,#c30,#c30,#d50,#d70,#ea0,#ec0,#ec0,#ea0,#d80,#d60,#d60,#d60,#d60,#d60,#d70,#d80,#ea0,#ec0,#fd0,#ec0,#ea0,#d80,#d60,#d60,#d70,#e80,#ea0,#eb0,#eb0,#ec0,#ed0,#ed0,#ec0,#ea0,#d80,#d70,#d70,#e90,#eb0,#ed0,#fe0,#fd0,#ed0,#ec0,#ec0,#eb0,#ea0,#e90,#e90,#e90,#eb0,#fd0,#ce0,#be0,#ee0,#fd0,#ec0,#eb0,#eb0,#eb0,#eb0,#eb0,#ec0,#fe0,#ce0,#8e1,#9e1,#de0,#fd0,#ec0,#eb0,#ec0,#ed0,#fe0,#ee0,#de0,#be0,#9e1,#7e1,#9e1,#de0,#fd0,#ec0,#ec0,#fd0,#de0,#9e1,#5e1,#5e1,#6e1,#8e1,#9e1,#ae0,#ce0,#fe0,#fe0,#fe0,#ce0,#7e1,#1e3,#1e5,#1e4,#3e2,#8e1)"></div><div style="top:205.85px;background:linear-gradient(90deg,#911,#c30,#d60,#e80,#ea0,#ea0,#e90,#d80,#d70,#d70,#d50,#c40,#c30,#c30,#d50,#d80,#ea0,#eb0,#eb0,#e90,#d70,#d60,#d60,#d60,#d60,#d60,#d70,#e90,#eb0,#ec0,#ed0,#eb0,#e90,#d70,#d60,#d60,#d70,#e90,#ea0,#eb0,#eb0,#ec0,#ec0,#ec0,#eb0,#e90,#d70,#d70,#d80,#ea0,#ec0,#fd0,#fd0,#ed0,#ec0,#ec0,#eb0,#ea0,#e90,#e90,#e90,#eb0,#ed0,#ee0,#ce0,#ee0,#fd0,#ec0,#eb0,#eb0,#eb0,#eb0,#eb0,#ec0,#fd0,#de0,#ae0,#ae0,#ee0,#ed0,#eb0,#eb0,#eb0,#ed0,#fe0,#ee0,#de0,#be0,#ae0,#9e1,#be0,#ee0,#ed0,#ec0,#ec0,#fd0,#de0,#9e1,#6e1,#6e1,#8e1,#ae1,#be0,#ce0,#ee0,#fe0,#fe0,#fe0,#be0,#5e1,#1e3,#1e4,#2e2,#7e1,#ae0,#be0)"></div><div style="top:207.84px;background:linear-gradient(90deg,#911,#c30,#d60,#d80,#ea0,#ea0,#e90,#d80,#d70,#d60,#d50,#c40,#c30,#c30,#d50,#d80,#ea0,#eb0,#ea0,#d80,#d70,#d60,#d50,#d50,#d60,#d60,#d70,#e90,#eb0,#ec0,#ec0,#ea0,#d80,#d60,#d60,#d60,#d80,#e90,#ea0,#eb0,#eb0,#ec0,#ec0,#eb0,#e90,#d70,#d70,#d70,#e90,#eb0,#ed0,#fd0,#ed0,#ec0,#eb0,#eb0,#ea0,#e90,#e90,#e90,#ea0,#ec0,#fe0,#de0,#ee0,#ed0,#ec0,#eb0,#ea0,#eb0,#eb0,#eb0,#ec0,#fd0,#ee0,#be0,#be0,#fe0,#ec0,#eb0,#eb0,#eb0,#ec0,#fe0,#ee0,#de0,#ce0,#be0,#be0,#de0,#fe0,#ed0,#ec0,#ec0,#fd0,#ce0,#8e1,#6e1,#7e1,#ae1,#be0,#ce0,#ee0,#fe0,#fe0,#fe0,#ee0,#9e1,#3e1,#1e3,#1e3,#5e1,#ae1,#ce0,#de0,#ce0)"></div><div style="top:209.83px;background:linear-gradient(90deg,#911,#c30,#d60,#d80,#e90,#e90,#e80,#d80,#d70,#d60,#d50,#c30,#c30,#c40,#d50,#d80,#ea0,#eb0,#e90,#d80,#d60,#d50,#d50,#d50,#d60,#d60,#d80,#e90,#eb0,#ec0,#eb0,#e90,#d70,#d50,#d60,#d70,#e80,#ea0,#ea0,#eb0,#eb0,#ec0,#eb0,#ea0,#d80,#d70,#d70,#d80,#ea0,#ec0,#ed0,#ed0,#ec0,#eb0,#eb0,#ea0,#e90,#e90,#e90,#ea0,#eb0,#fd0,#ee0,#fe0,#ed0,#eb0,#ea0,#ea0,#ea0,#eb0,#eb0,#ec0,#ed0,#fe0,#ce0,#de0,#fe0,#ec0,#eb0,#ea0,#eb0,#ec0,#fd0,#ee0,#de0,#ce0,#ce0,#ce0,#ee0,#fd0,#ec0,#ec0,#ec0,#fe0,#ce0,#8e1,#7e1,#9e1,#be0,#de0,#ee0,#fe0,#fe0,#fe0,#fe0,#ce0,#8e1,#3e2,#2e2,#3e1,#8e1,#ce0,#de0,#de0,#ce0,#ae0)"></div><div style="top:211.82px;background:linear-gradient(90deg,#911,#c30,#d60,#d80,#e90,#e90,#d80,#d70,#d60,#d50,#c40,#c30,#c30,#c40,#d60,#d80,#ea0,#ea0,#e90,#d70,#d50,#d50,#d50,#d50,#d60,#d70,#d80,#ea0,#eb0,#eb0,#ea0,#d80,#d60,#d50,#d60,#d70,#e90,#ea0,#ea0,#eb0,#eb0,#eb0,#ea0,#e80,#d70,#d60,#d70,#e90,#eb0,#ec0,#ec0,#ec0,#eb0,#ea0,#ea0,#e90,#e90,#e90,#e90,#eb0,#ed0,#fe0,#fe0,#ed0,#eb0,#ea0,#ea0,#ea0,#eb0,#eb0,#ec0,#ed0,#fe0,#ee0,#ee0,#fd0,#ec0,#eb0,#ea0,#eb0,#ec0,#fd0,#ee0,#de0,#de0,#de0,#ee0,#fe0,#ed0,#ec0,#ec0,#ec0,#fe0,#ce0,#8e1,#8e1,#ae0,#de0,#ee0,#fe0,#fe0,#fe0,#fe0,#fe0,#be0,#7e1,#3e2,#3e2,#7e1,#be0,#ee0,#fe0,#de0,#ce0,#ae1,#8e1)"></div></div><div class="hm" style="left:384px;top:36.5px;width:147px;height:147.2px;--r:3.004px"><div style="top:0;height:2.25px;-webkit-mask-image:none;mask-image:none;background:linear-gradient(90deg,#118,#02a,#04c,#03b,#02a,#02a,#04c,#05c,#03b,#02b,#04b,#05c,#05c,#04b,#04c,#05c,#06d,#05c,#04c,#05c,#07d,#07d,#05c,#05c,#07d,#07d,#07d,#06d,#07d,#08d,#08d,#07d,#07d,#08d,#09d,#08d,#08d,#08d,#09e,#09e,#09d,#09d,#09e,#0ae,#0ae,#09e,#0ae,#0ae,#0be,#0ae,#0ae,#0be,#0be,#0be,#0be,#0be,#0ce,#0ce,#0be,#0be,#0ce,#0ce,#0ce,#0ce,#0ce,#0de,#0de,#0de,#0de,#0de,#0de,#0de,#0de,#0de,#0df,#0df,#0df,#0df,#0df,#0ef,#0df,#0df,#0df,#0ef,#0ef,#0ef,#0ef,#0ef,#0ef,#0ef,#0ef,#0ef,#0ee,#0ee,#0ee,#0ee,#0ee,#0ed,#0ed)"></div><div style="top:0.75px;background:linear-gradient(90deg,#118,#02a,#04c,#03b,#02a,#02a,#04b,#05c,#04b,#02b,#03b,#05c,#05c,#04c,#04b,#05c,#06d,#06c,#05c,#05c,#06d,#07d,#06c,#05c,#06d,#08d,#07d,#06d,#06d,#08d,#08d,#08d,#07d,#08d,#09d,#09e,#08d,#08d,#09d,#09e,#09e,#09d,#09e,#0ae,#0ae,#0ae,#09e,#0ae,#0be,#0be,#0ae,#0ae,#0be,#0be,#0be,#0be,#0be,#0ce,#0ce,#0ce,#0be,#0ce,#0de,#0ce,#0ce,#0ce,#0de,#0de,#0de,#0de,#0de,#0df,#0df,#0de,#0de,#0df,#0df,#0df,#0df,#0df,#0ef,#0ef,#0ef,#0ef,#0ef,#0ef,#0ef,#0ef,#0ef,#0ef,#0ee,#0ef,#0ef,#0ee,#0ee,#0ee,#0ee,#0ee,#0ed)"></div><div style="top:2.25px;background:linear-gradient(90deg,#118,#02a,#04c,#04b,#02a,#02a,#03b,#05c,#04c,#03b,#03b,#05c,#06c,#04c,#04b,#05c,#06d,#06d,#05c,#05c,#06c,#07d,#07d,#06c,#06c,#07d,#08d,#07d,#06d,#07d,#08d,#08d,#08d,#07d,#08d,#09e,#09e,#08d,#08d,#09e,#0ae,#09e,#09d,#09e,#0ae,#0ae,#0ae,#09e,#0ae,#0be,#0be,#0ae,#0ae,#0be,#0ce,#0be,#0be,#0be,#0ce,#0ce,#0ce,#0ce,#0ce,#0de,#0de,#0ce,#0ce,#0de,#0de,#0de,#0de,#0de,#0df,#0df,#0df,#0de,#0df,#0df,#0df,#0df,#0df,#0ef,#0ef,#0ef,#0ef,#0ef,#0ef,#0ef,#0ef,#0ef,#0ef,#0ee,#0ee,#0ee,#0ee,#0ee,#0ed,#0ed,#0ee)"></div><div style="top:3.76px;background:linear-gradient(90deg,#118,#02a,#04c,#04c,#02a,#02a,#03b,#05c,#04c,#03b,#03b,#05c,#06c,#05c,#04b,#04c,#06c,#07d,#05c,#05c,#05c,#07d,#07d,#06d,#06c,#07d,#08d,#08d,#07d,#07d,#08d,#09d,#08d,#07d,#08d,#09d,#09e,#09d,#08d,#08d,#0ae,#0ae,#09e,#09e,#09e,#0ae,#0be,#0ae,#0ae,#0ae,#0be,#0be,#0ae,#0ae,#0be,#0ce,#0ce,#0be,#0be,#0ce,#0ce,#0ce,#0ce,#0ce,#0de,#0de,#0de,#0ce,#0de,#0df,#0df,#0de,#0de,#0df,#0df,#0df,#0df,#0df,#0df,#0ef,#0ef,#0df,#0ef,#0ef,#0ef,#0ef,#0ef,#0ef,#0ef,#0ef,#0ef,#0ef,#0ee,#0ee,#0ee,#0ee,#0ee,#0ed,#0ed)"></div><div style="top:5.26px;background:linear-gradient(90deg,#118,#02a,#04c,#04c,#02b,#02a,#03b,#05c,#05c,#03b,#03b,#04c,#06d,#05c,#04c,#04c,#06c,#07d,#06d,#05c,#05c,#07d,#08d,#07d,#06c,#06d,#08d,#08d,#07d,#07d,#07d,#08d,#09e,#08d,#07d,#08d,#09e,#09e,#09d,#08d,#09e,#0ae,#0ae,#09e,#09e,#0ae,#0be,#0be,#0ae,#0ae,#0be,#0be,#0be,#0be,#0be,#0be,#0ce,#0ce,#0be,#0be,#0ce,#0de,#0ce,#0ce,#0ce,#0de,#0de,#0de,#0de,#0de,#0df,#0df,#0df,#0de,#0df,#0df,#0df,#0df,#0df,#0df,#0ef,#0ef,#0ef,#0ef,#0ef,#0ef,#0ef,#0ef,#0ef,#0ef,#0ee,#0ee,#0ef,#0ef,#0ee,#0ed,#0ed,#0ee,#0ee)"></div><div style="top:6.76px;background:linear-gradient(90deg,#118,#02a,#04c,#04c,#02b,#029,#03b,#05c,#05c,#03b,#03b,#04c,#06c,#06c,#04c,#04c,#05c,#07d,#07d,#05c,#05c,#06c,#08d,#07d,#06d,#06c,#07d,#08d,#08d,#07d,#07d,#08d,#09e,#09e,#08d,#08d,#09d,#0ae,#09e,#09d,#08d,#09e,#0ae,#0ae,#09e,#09e,#0ae,#0be,#0be,#0ae,#0ae,#0be,#0ce,#0ce,#0be,#0be,#0ce,#0ce,#0ce,#0ce,#0ce,#0ce,#0de,#0de,#0ce,#0ce,#0de,#0df,#0de,#0de,#0de,#0df,#0df,#0df,#0de,#0df,#0df,#0ef,#0ef,#0df,#0df,#0ef,#0ef,#0ef,#0ef,#0ef,#0ef,#0ef,#0ef,#0ef,#0ef,#0ee,#0ee,#0ee,#0ee,#0ee,#0ed,#0ed,#0ed)"></div><div style="top:8.26px;background:linear-gradient(90deg,#118,#02a,#04c,#05c,#03b,#029,#03b,#05c,#06c,#04c,#03b,#04b,#06c,#06d,#05c,#04c,#05c,#06d,#07d,#06d,#05c,#05c,#07d,#08d,#07d,#06c,#06d,#08d,#09d,#08d,#07d,#07d,#08d,#09e,#09d,#08d,#08d,#09e,#0ae,#09e,#09d,#09d,#0ae,#0be,#0ae,#09e,#09e,#0ae,#0be,#0be,#0ae,#0ae,#0be,#0ce,#0ce,#0be,#0be,#0ce,#0ce,#0ce,#0ce,#0ce,#0ce,#0de,#0de,#0de,#0ce,#0de,#0df,#0df,#0de,#0de,#0de,#0df,#0df,#0df,#0df,#0df,#0ef,#0ef,#0ef,#0df,#0ef,#0ef,#0ef,#0ef,#0ef,#0ef,#0ef,#0ee,#0ee,#0ef,#0ef,#0ee,#0ed,#0ed,#0ee,#0ee,#0ed)"></div><div style="top:9.76px;background:linear-gradient(90deg,#118,#02a,#04c,#05c,#03b,#02a,#02b,#05c,#06c,#04c,#03b,#03b,#05c,#07d,#06c,#04c,#04c,#06c,#07d,#07d,#05c,#05c,#07d,#08d,#08d,#06d,#06c,#07d,#09d,#09d,#08d,#07d,#08d,#09e,#09e,#09d,#08d,#08d,#0ae,#0ae,#09e,#09d,#09e,#0ae,#0be,#0ae,#09e,#0ae,#0be,#0ce,#0be,#0ae,#0ae,#0be,#0ce,#0ce,#0be,#0be,#0ce,#0de,#0de,#0ce,#0ce,#0ce,#0de,#0de,#0de,#0ce,#0de,#0df,#0df,#0df,#0de,#0de,#0df,#0ef,#0df,#0df,#0df,#0ef,#0ef,#0ef,#0ef,#0ef,#0ef,#0ef,#0ef,#0ef,#0ef,#0ef,#0ee,#0ee,#0ee,#0ef,#0ee,#0ed,#0ed,#0ed,#0ee)"></div><div style="top:11.27px;background:linear-gradient(90deg,#118,#02a,#05c,#05c,#03b,#02a,#02b,#05c,#06d,#05c,#03b,#03b,#05c,#07d,#06d,#05c,#04c,#05c,#07d,#07d,#06c,#05c,#06c,#08d,#08d,#07d,#06d,#06d,#08d,#09e,#08d,#07d,#07d,#08d,#0ae,#09e,#08d,#08d,#09d,#0ae,#0ae,#09e,#09d,#09e,#0ae,#0be,#0be,#0ae,#0ae,#0be,#0ce,#0ce,#0be,#0ae,#0be,#0ce,#0ce,#0ce,#0be,#0ce,#0de,#0de,#0de,#0ce,#0ce,#0de,#0df,#0de,#0de,#0de,#0de,#0df,#0df,#0df,#0de,#0df,#0ef,#0ef,#0df,#0df,#0df,#0ef,#0ef,#0ef,#0ef,#0ef,#0ef,#0ee,#0ee,#0ef,#0ef,#0ee,#0ed,#0ed,#0ee,#0ee,#0ee,#0ed,#0ec)"></div><div style="top:12.77px;background:linear-gradient(90deg,#118,#02a,#05c,#05c,#03b,#02a,#02b,#05c,#06d,#05c,#03b,#03b,#05c,#07d,#07d,#05c,#04c,#05c,#07d,#08d,#07d,#05c,#05c,#07d,#08d,#08d,#07d,#06d,#07d,#09e,#09e,#08d,#07d,#07d,#09e,#0ae,#09e,#08d,#08d,#09e,#0be,#0be,#0ae,#09e,#09e,#0be,#0ce,#0be,#0ae,#0ae,#0be,#0ce,#0ce,#0be,#0be,#0be,#0ce,#0de,#0ce,#0be,#0ce,#0de,#0de,#0de,#0ce,#0ce,#0de,#0df,#0df,#0de,#0de,#0de,#0df,#0ef,#0df,#0df,#0df,#0df,#0ef,#0ef,#0ef,#0df,#0ef,#0ef,#0ee,#0ef,#0ef,#0ef,#0ee,#0ed,#0ee,#0ef,#0ef,#0ee,#0ed,#0ed,#0ed,#0ee,#0ed)"></div><div style="top:14.27px;background:linear-gradient(90deg,#118,#02a,#05c,#06c,#04c,#02a,#02a,#04c,#06d,#06c,#04c,#03b,#04c,#06d,#07d,#06c,#04c,#04c,#06d,#08d,#08d,#06d,#05c,#06d,#08d,#09e,#08d,#06d,#06d,#08d,#09e,#09e,#08d,#07d,#08d,#0ae,#0ae,#09e,#08d,#08d,#09e,#0be,#0be,#0ae,#09e,#0ae,#0be,#0ce,#0be,#0ae,#0ae,#0be,#0ce,#0ce,#0be,#0be,#0be,#0ce,#0de,#0de,#0ce,#0ce,#0ce,#0df,#0df,#0de,#0ce,#0de,#0df,#0df,#0df,#0de,#0de,#0df,#0ef,#0ef,#0df,#0df,#0df,#0ef,#0ef,#0ef,#0ef,#0ef,#0ef,#0ee,#0ee,#0ef,#0ef,#0ef,#0ee,#0ed,#0ed,#0ee,#0ee,#0ed,#0ec,#0ec,#0ed)"></div><div style="top:15.77px;background:linear-gradient(90deg,#118,#02a,#05c,#06c,#04c,#02a,#02a,#04c,#06d,#06d,#04c,#03b,#04b,#06d,#08d,#07d,#05c,#04c,#05c,#08d,#08d,#07d,#05c,#05c,#07d,#09e,#09e,#07d,#06d,#07d,#09e,#0ae,#09e,#08d,#07d,#08d,#0ae,#0be,#09e,#08d,#08d,#0ae,#0be,#0be,#0ae,#09e,#0ae,#0be,#0ce,#0be,#0ae,#0ae,#0be,#0ce,#0de,#0ce,#0be,#0be,#0ce,#0de,#0de,#0ce,#0ce,#0ce,#0df,#0df,#0de,#0de,#0de,#0de,#0ef,#0ef,#0df,#0de,#0df,#0ef,#0ef,#0ef,#0df,#0df,#0ef,#0ef,#0ee,#0ef,#0ef,#0ef,#0ef,#0ed,#0ed,#0ef,#0ef,#0ef,#0ed,#0ec,#0ed,#0ee,#0ee,#0ed,#0ec)"></div><div style="top:17.27px;background:linear-gradient(90deg,#118,#02a,#05c,#06d,#05c,#02b,#02a,#04c,#06d,#07d,#05c,#03b,#03b,#05c,#08d,#08d,#06c,#04c,#05c,#07d,#09d,#08d,#06d,#05c,#06d,#08d,#09e,#08d,#07d,#06d,#08d,#0ae,#0ae,#09e,#08d,#08d,#09e,#0be,#0be,#09e,#08d,#09d,#0ae,#0ce,#0be,#0ae,#09e,#0ae,#0ce,#0ce,#0ce,#0be,#0ae,#0be,#0de,#0de,#0ce,#0be,#0be,#0ce,#0de,#0df,#0de,#0ce,#0ce,#0de,#0df,#0df,#0de,#0de,#0de,#0df,#0ef,#0ef,#0df,#0de,#0df,#0ef,#0ef,#0ef,#0df,#0df,#0ef,#0ee,#0ee,#0ef,#0ef,#0ef,#0ee,#0ed,#0ed,#0ee,#0ef,#0ee,#0ed,#0ec,#0ec,#0ed,#0ee)"></div><div style="top:18.78px;background:linear-gradient(90deg,#118,#02a,#05c,#07d,#05c,#02b,#02a,#03b,#06d,#07d,#06c,#04b,#03b,#05c,#07d,#08d,#07d,#05c,#04c,#06d,#08d,#09e,#07d,#06c,#06c,#07d,#09e,#0ae,#08d,#07d,#07d,#08d,#0ae,#0ae,#09e,#08d,#08d,#0ae,#0be,#0be,#09e,#08d,#09e,#0be,#0ce,#0ce,#0ae,#09e,#0ae,#0ce,#0de,#0ce,#0be,#0ae,#0be,#0ce,#0de,#0de,#0ce,#0be,#0ce,#0de,#0df,#0de,#0ce,#0ce,#0de,#0df,#0ef,#0df,#0de,#0de,#0df,#0ef,#0ef,#0ef,#0df,#0df,#0ef,#0ef,#0ee,#0ef,#0ef,#0ef,#0ef,#0ed,#0ed,#0ee,#0ef,#0ef,#0ee,#0ec,#0ec,#0ed,#0ee,#0ee,#0ed,#0eb,#0eb)"></div><div style="top:20.28px;background:linear-gradient(90deg,#118,#02a,#05c,#07d,#05c,#03b,#02a,#03b,#06c,#08d,#07d,#04c,#03b,#04c,#07d,#08d,#08d,#05c,#04c,#05c,#08d,#09e,#08d,#07d,#05c,#06d,#08d,#0ae,#09e,#08d,#07d,#07d,#09e,#0be,#0ae,#09d,#08d,#08d,#0ae,#0ce,#0be,#0ae,#09d,#09e,#0be,#0ce,#0ce,#0be,#0ae,#0ae,#0ce,#0de,#0de,#0ce,#0be,#0be,#0ce,#0df,#0df,#0ce,#0be,#0ce,#0de,#0df,#0df,#0de,#0ce,#0de,#0df,#0ef,#0ef,#0df,#0de,#0de,#0df,#0ef,#0ef,#0ef,#0df,#0df,#0ef,#0ee,#0ee,#0ef,#0ef,#0ef,#0ef,#0ed,#0ed,#0ee,#0ef,#0ef,#0ed,#0ec,#0ec,#0ed,#0ee,#0ee,#0ec)"></div><div style="top:21.78px;background:linear-gradient(90deg,#118,#02a,#05c,#07d,#06c,#03b,#02a,#03b,#06c,#08d,#07d,#05c,#03b,#04c,#06d,#08d,#08d,#06d,#05c,#05c,#07d,#09e,#0ae,#08d,#06d,#06c,#07d,#0ae,#0be,#09e,#07d,#07d,#08d,#0ae,#0be,#0ae,#09d,#08d,#09d,#0be,#0ce,#0be,#0ae,#09e,#09e,#0be,#0de,#0ce,#0be,#0ae,#0ae,#0ce,#0de,#0de,#0ce,#0be,#0be,#0ce,#0df,#0df,#0de,#0ce,#0ce,#0de,#0df,#0ef,#0df,#0de,#0ce,#0de,#0ef,#0ef,#0ef,#0df,#0de,#0df,#0ef,#0ee,#0ee,#0ef,#0df,#0df,#0ef,#0ed,#0ed,#0ef,#0ef,#0ef,#0ee,#0ec,#0ec,#0ed,#0ef,#0ef,#0ed,#0eb,#0eb,#0ec,#0ed)"></div><div style="top:23.28px;background:linear-gradient(90deg,#118,#02a,#05c,#07d,#07d,#04b,#02a,#02b,#05c,#08d,#08d,#06c,#04b,#03b,#05c,#08d,#09e,#08d,#05c,#04c,#06c,#08d,#0ae,#09e,#07d,#06c,#06d,#08d,#0be,#0be,#09e,#07d,#07d,#09d,#0be,#0ce,#0ae,#09d,#08d,#09e,#0be,#0ce,#0ce,#0ae,#09e,#09e,#0be,#0de,#0de,#0ce,#0ae,#0ae,#0be,#0de,#0df,#0de,#0be,#0be,#0ce,#0de,#0ef,#0df,#0de,#0ce,#0ce,#0df,#0ef,#0ef,#0df,#0de,#0de,#0df,#0ef,#0ee,#0ef,#0df,#0df,#0df,#0ef,#0ed,#0ee,#0ef,#0df,#0ef,#0ee,#0ec,#0ec,#0ee,#0ef,#0ef,#0ee,#0ec,#0eb,#0ec,#0ee,#0ee,#0ed,#0eb,#0ea)"></div><div style="top:24.78px;background:linear-gradient(90deg,#118,#02a,#05c,#08d,#07d,#04c,#02a,#02b,#05c,#08d,#09d,#07d,#04c,#03b,#05c,#08d,#0ae,#09e,#06d,#05c,#05c,#07d,#0ae,#0ae,#09d,#07d,#06c,#07d,#09e,#0be,#0be,#08d,#07d,#07d,#09e,#0ce,#0ce,#0ae,#09d,#08d,#09e,#0be,#0de,#0ce,#0ae,#09e,#09e,#0be,#0de,#0df,#0ce,#0be,#0ae,#0be,#0de,#0df,#0df,#0ce,#0be,#0be,#0de,#0ef,#0ef,#0df,#0ce,#0ce,#0de,#0ef,#0ef,#0ef,#0df,#0de,#0de,#0ef,#0ee,#0ee,#0ef,#0df,#0df,#0ef,#0ee,#0ec,#0ed,#0ef,#0ef,#0ef,#0ee,#0ec,#0eb,#0ed,#0ef,#0ef,#0ee,#0ec,#0ea,#0eb,#0ed,#0ee,#0ed)"></div><div style="top:26.29px;background:linear-gradient(90deg,#118,#02a,#05c,#08d,#08d,#05c,#02b,#02a,#04c,#08d,#09e,#08d,#05c,#03b,#04c,#07d,#09e,#0ae,#08d,#05c,#05c,#06d,#09d,#0be,#0ae,#08d,#06d,#06d,#08d,#0be,#0ce,#0ae,#08d,#07d,#08d,#0ae,#0ce,#0ce,#0be,#09d,#08d,#09e,#0ce,#0de,#0de,#0be,#09e,#09e,#0be,#0de,#0df,#0de,#0be,#0ae,#0be,#0de,#0ef,#0ef,#0de,#0ce,#0be,#0ce,#0df,#0ef,#0ef,#0de,#0ce,#0ce,#0df,#0ef,#0ee,#0ef,#0df,#0de,#0df,#0ef,#0ed,#0ed,#0ef,#0df,#0df,#0ef,#0ed,#0ec,#0ec,#0ef,#0ef,#0ef,#0ee,#0eb,#0eb,#0ec,#0ee,#0ef,#0ee,#0ec,#0ea,#0ea,#0ec)"></div><div style="top:27.79px;background:linear-gradient(90deg,#118,#02a,#05c,#08d,#08d,#05c,#02b,#02a,#04c,#07d,#0ae,#09e,#06c,#04b,#04b,#06c,#09e,#0be,#09e,#07d,#05c,#05c,#07d,#0ae,#0be,#0ae,#07d,#06d,#07d,#09e,#0ce,#0ce,#0ae,#08d,#07d,#08d,#0be,#0de,#0de,#0be,#09e,#08d,#09e,#0ce,#0df,#0de,#0be,#0ae,#09e,#0be,#0de,#0ef,#0df,#0ce,#0be,#0be,#0ce,#0df,#0ef,#0df,#0de,#0ce,#0ce,#0de,#0ef,#0ee,#0ef,#0de,#0ce,#0de,#0ef,#0ed,#0ed,#0ef,#0df,#0de,#0df,#0ee,#0ec,#0ec,#0ef,#0df,#0df,#0ef,#0ed,#0eb,#0eb,#0ee,#0ef,#0ef,#0ee,#0eb,#0ea,#0eb,#0ed,#0ee,#0ee,#0ec,#0ea)"></div><div style="top:29.29px;background:linear-gradient(90deg,#118,#02a,#06c,#09e,#09e,#06d,#03b,#02a,#03b,#07d,#0ae,#0ae,#07d,#04c,#03b,#05c,#08d,#0be,#0be,#08d,#06c,#05c,#06d,#09e,#0ce,#0ce,#09e,#07d,#06d,#07d,#0ae,#0ce,#0ce,#0ae,#08d,#07d,#08d,#0be,#0de,#0de,#0be,#09e,#08d,#0ae,#0ce,#0df,#0df,#0ce,#0ae,#0ae,#0be,#0de,#0ef,#0ef,#0de,#0be,#0be,#0ce,#0df,#0ef,#0ef,#0df,#0ce,#0ce,#0de,#0ef,#0ed,#0ee,#0ef,#0de,#0de,#0df,#0ef,#0ec,#0ec,#0ef,#0df,#0df,#0df,#0ee,#0eb,#0eb,#0ee,#0ef,#0df,#0ef,#0ec,#0ea,#0ea,#0ec,#0ef,#0ef,#0ee,#0eb,#0e9,#0e9,#0eb,#0ed,#0ee)"></div><div style="top:30.79px;background:linear-gradient(90deg,#118,#02a,#06c,#09e,#0ae,#07d,#03b,#02a,#03b,#06d,#0ae,#0be,#08d,#05c,#04b,#04c,#07d,#0ae,#0ce,#0ae,#07d,#05c,#05c,#07d,#0be,#0de,#0ce,#09d,#07d,#06d,#08d,#0be,#0de,#0de,#0ae,#08d,#08d,#09e,#0be,#0df,#0df,#0ce,#09e,#09d,#09e,#0ce,#0df,#0ef,#0de,#0be,#0ae,#0ae,#0ce,#0ef,#0ef,#0df,#0ce,#0be,#0be,#0de,#0ef,#0ed,#0ef,#0de,#0ce,#0ce,#0de,#0ef,#0ec,#0ed,#0ef,#0de,#0de,#0df,#0ee,#0eb,#0ec,#0ee,#0df,#0df,#0ef,#0ed,#0eb,#0ea,#0ed,#0ef,#0ef,#0ef,#0ed,#0ea,#0e9,#0eb,#0ed,#0ef,#0ee,#0ec,#0e9,#0e8,#0ea)"></div><div style="top:32.29px;background:linear-gradient(90deg,#118,#02a,#06c,#09e,#0ae,#08d,#04c,#02a,#03b,#06c,#09e,#0ce,#0ae,#07d,#04c,#04b,#06c,#09e,#0ce,#0ce,#09e,#06d,#05c,#06d,#09e,#0ce,#0de,#0be,#08d,#06d,#07d,#09e,#0ce,#0df,#0de,#0ae,#08d,#08d,#09e,#0ce,#0df,#0ef,#0ce,#0ae,#09d,#09e,#0ce,#0df,#0ef,#0df,#0ce,#0ae,#0ae,#0ce,#0df,#0ee,#0ef,#0df,#0ce,#0be,#0ce,#0df,#0ed,#0ec,#0ef,#0de,#0ce,#0ce,#0df,#0ed,#0eb,#0ed,#0ef,#0de,#0de,#0df,#0ed,#0ea,#0eb,#0ee,#0ef,#0df,#0ef,#0ed,#0ea,#0e9,#0eb,#0ee,#0ef,#0ef,#0ed,#0ea,#0e8,#0e9,#0ec,#0ee,#0ef,#0ed,#0ea)"></div><div style="top:33.80px;background:linear-gradient(90deg,#118,#02a,#06c,#0ae,#0be,#09d,#05c,#02b,#02b,#05c,#09e,#0ce,#0be,#08d,#05c,#04b,#05c,#08d,#0be,#0de,#0be,#08d,#05c,#05c,#07d,#0ae,#0de,#0df,#0be,#08d,#06d,#07d,#0ae,#0de,#0ef,#0de,#0be,#08d,#08d,#09e,#0ce,#0ef,#0ef,#0de,#0be,#09e,#09e,#0be,#0df,#0ee,#0ef,#0de,#0be,#0ae,#0be,#0df,#0ee,#0ec,#0ef,#0de,#0be,#0be,#0de,#0ef,#0eb,#0ec,#0ef,#0de,#0ce,#0de,#0ef,#0ec,#0ea,#0ec,#0ef,#0de,#0de,#0ef,#0ed,#0ea,#0e9,#0ec,#0ef,#0df,#0ef,#0ed,#0ea,#0e8,#0e9,#0ec,#0ef,#0ef,#0ee,#0eb,#0e8,#0e8,#0ea,#0ec,#0ee)"></div><div style="top:35.30px;background:linear-gradient(90deg,#118,#02a,#06c,#0ae,#0ce,#0ae,#06c,#03b,#02a,#04c,#08d,#0ce,#0de,#0ae,#06d,#04c,#04c,#06d,#0ae,#0de,#0de,#0ae,#07d,#05c,#06c,#08d,#0ce,#0ef,#0df,#0ae,#08d,#07d,#08d,#0ae,#0df,#0ef,#0df,#0be,#08d,#08d,#09e,#0ce,#0ef,#0ed,#0df,#0be,#09e,#09e,#0be,#0df,#0ed,#0ec,#0ef,#0ce,#0ae,#0be,#0ce,#0ef,#0eb,#0ec,#0ef,#0ce,#0be,#0ce,#0df,#0ed,#0ea,#0eb,#0ef,#0de,#0ce,#0de,#0ef,#0ea,#0e9,#0eb,#0ef,#0df,#0de,#0ef,#0ec,#0e9,#0e8,#0eb,#0ee,#0ef,#0ef,#0ee,#0ea,#0e8,#0e8,#0ea,#0ed,#0ef,#0ef,#0ec,#0e9,#1e7,#0e7)"></div><div style="top:36.80px;background:linear-gradient(90deg,#118,#02a,#06c,#0be,#0de,#0be,#07d,#03b,#02a,#04b,#07d,#0ce,#0df,#0ce,#08d,#05c,#04b,#05c,#09d,#0de,#0ef,#0de,#09e,#06d,#05c,#07d,#0ae,#0df,#0ef,#0df,#0ae,#08d,#07d,#08d,#0be,#0ef,#0ed,#0ef,#0be,#09d,#08d,#09e,#0ce,#0ef,#0ec,#0ef,#0ce,#0ae,#09e,#0ae,#0de,#0ed,#0eb,#0ed,#0de,#0be,#0ae,#0ce,#0df,#0ec,#0ea,#0ec,#0df,#0ce,#0ce,#0de,#0ef,#0eb,#0e9,#0eb,#0ef,#0de,#0de,#0df,#0ee,#0ea,#0e8,#0ea,#0ee,#0df,#0df,#0ef,#0ed,#0e9,#1e7,#0e9,#0ec,#0ef,#0ef,#0ef,#0eb,#0e8,#1e7,#0e8,#0eb,#0ee,#0ef,#0ed,#0ea)"></div><div style="top:38.30px;background:linear-gradient(90deg,#118,#02a,#06d,#0be,#0df,#0ce,#08d,#04c,#02a,#03b,#06d,#0be,#0ef,#0df,#0ae,#06d,#04c,#04c,#07d,#0be,#0ef,#0ef,#0ce,#08d,#06c,#06c,#08d,#0be,#0ef,#0ed,#0df,#0ae,#07d,#07d,#08d,#0ce,#0ef,#0eb,#0ef,#0ce,#09e,#08d,#09e,#0ce,#0ef,#0ea,#0ec,#0df,#0be,#09e,#0ae,#0ce,#0ef,#0ea,#0ea,#0ef,#0ce,#0be,#0be,#0de,#0ef,#0e9,#0e8,#0ec,#0df,#0ce,#0ce,#0de,#0ee,#0e9,#0e7,#0ea,#0ef,#0de,#0de,#0df,#0ee,#0e9,#1e7,#0e8,#0ec,#0ef,#0df,#0df,#0ed,#0e9,#1e6,#1e7,#0ea,#0ee,#0ef,#0ef,#0ed,#0e9,#1e6,#1e6,#0e8,#0ec,#0ee)"></div><div style="top:39.80px;background:linear-gradient(90deg,#118,#02a,#06d,#0be,#0ef,#0df,#09e,#05c,#02b,#03b,#06c,#0ae,#0ef,#0ee,#0ce,#08d,#05c,#04c,#05c,#09e,#0df,#0ec,#0ef,#0be,#07d,#06c,#06d,#09d,#0de,#0ec,#0eb,#0df,#0ae,#08d,#07d,#08d,#0ce,#0ee,#0ea,#0ed,#0de,#0ae,#08d,#09e,#0be,#0ef,#0e9,#0e9,#0ef,#0ce,#0ae,#0ae,#0be,#0df,#0ea,#0e8,#0ea,#0ef,#0ce,#0be,#0be,#0df,#0ec,#0e7,#0e8,#0ec,#0df,#0ce,#0ce,#0df,#0ed,#0e8,#1e6,#0e9,#0ee,#0df,#0de,#0df,#0ee,#0e9,#1e6,#1e6,#0ea,#0ef,#0df,#0df,#0ee,#0ea,#1e6,#1e5,#1e7,#0eb,#0ef,#0ef,#0ee,#0eb,#1e7,#1e5,#1e5)"></div><div style="top:41.31px;background:linear-gradient(90deg,#118,#02a,#06d,#0ce,#0ed,#0ef,#0ae,#06c,#03b,#02b,#05c,#09e,#0df,#0eb,#0ef,#0ae,#06d,#04c,#04c,#07d,#0ce,#0ed,#0ea,#0ef,#0ae,#07d,#05c,#07d,#0ae,#0df,#0e9,#0ea,#0df,#0ae,#08d,#07d,#09d,#0ce,#0ed,#0e8,#0ea,#0df,#0ae,#09d,#09d,#0be,#0ef,#0e9,#1e7,#0eb,#0df,#0be,#0ae,#0ae,#0de,#0ed,#1e7,#1e7,#0eb,#0df,#0ce,#0be,#0ce,#0ef,#0e9,#1e6,#1e7,#0ec,#0df,#0ce,#0ce,#0df,#0ec,#1e7,#1e5,#1e7,#0ec,#0ef,#0de,#0df,#0ef,#0e9,#1e5,#1e5,#0e7,#0ec,#0ef,#0df,#0ef,#0ec,#1e7,#1e4,#1e5,#0e8,#0ec,#0ef,#0ef,#0ed,#0e9)"></div><div style="top:42.81px;background:linear-gradient(90deg,#118,#02a,#06d,#0ce,#0eb,#0eb,#0ce,#07d,#03b,#02b,#04c,#08d,#0de,#0e9,#0ea,#0de,#08d,#05c,#04c,#06c,#09e,#0ef,#0e8,#0e9,#0df,#09e,#06d,#06c,#07d,#0be,#0ee,#1e7,#0e8,#0ef,#0ae,#08d,#07d,#09d,#0ce,#0ec,#1e6,#0e7,#0ef,#0be,#09e,#09d,#0ae,#0df,#0ea,#1e5,#1e7,#0ed,#0ce,#0ae,#0ae,#0ce,#0ef,#0e9,#1e5,#1e6,#0ec,#0de,#0be,#0be,#0de,#0ee,#0e7,#1e4,#1e6,#0eb,#0df,#0de,#0ce,#0df,#0ec,#1e6,#1e4,#1e5,#0ea,#0ef,#0df,#0df,#0ef,#0ea,#1e6,#1e3,#1e5,#0e9,#0ee,#0ef,#0ef,#0ee,#0e9,#1e5,#1e3,#1e5,#0e8,#0ec,#0ef)"></div><div style="top:44.31px;background:linear-gradient(90deg,#118,#02a,#06d,#0ce,#0e9,#1e7,#0df,#08d,#04c,#02b,#03b,#07d,#0ce,#0e9,#1e5,#0ec,#0be,#06d,#04c,#05c,#07d,#0ce,#0ea,#1e5,#0e9,#0de,#09d,#06d,#06c,#08d,#0ce,#0eb,#1e4,#1e6,#0ef,#0be,#08d,#07d,#09d,#0ce,#0eb,#1e5,#1e5,#0eb,#0de,#0ae,#09d,#0ae,#0de,#0ec,#1e5,#1e4,#0e8,#0ef,#0ce,#0ae,#0be,#0de,#0ec,#1e5,#1e3,#1e6,#0ed,#0de,#0be,#0ce,#0de,#0ec,#1e6,#1e3,#1e4,#0ea,#0ef,#0de,#0ce,#0df,#0ec,#1e6,#1e3,#1e3,#0e7,#0ed,#0df,#0df,#0ef,#0ec,#1e7,#1e3,#1e3,#1e6,#0ea,#0ef,#0ef,#0ef,#0ec,#1e7,#1e3,#2e2,#1e4)"></div><div style="top:45.81px;background:linear-gradient(90deg,#118,#02a,#06d,#0de,#1e6,#1e3,#0ec,#0ae,#05c,#02b,#03b,#06c,#0be,#0eb,#1e3,#1e5,#0df,#09d,#05c,#04c,#06c,#09e,#0ef,#1e5,#2e2,#0e9,#0ce,#08d,#06c,#06d,#09d,#0de,#0e8,#2e2,#1e4,#0ed,#0be,#08d,#07d,#09d,#0ce,#0eb,#1e3,#2e2,#1e7,#0ef,#0be,#09e,#09e,#0be,#0ef,#1e6,#2e2,#1e3,#0ea,#0df,#0be,#0ae,#0be,#0df,#0e9,#1e3,#2e2,#1e6,#0ed,#0de,#0ce,#0ce,#0df,#0eb,#1e5,#2e2,#1e3,#0e8,#0ef,#0de,#0de,#0df,#0ed,#1e7,#2e2,#2e2,#1e4,#0ea,#0ef,#0df,#0df,#0ee,#0e9,#1e4,#2e2,#2e2,#1e6,#0eb,#0ef,#0ef,#0ee,#0ea,#1e5)"></div><div style="top:47.31px;background:linear-gradient(90deg,#118,#02a,#06d,#0de,#1e4,#5e1,#1e7,#0ce,#06d,#03b,#02b,#05c,#09e,#0ee,#2e2,#4e1,#0e8,#0ce,#07d,#04c,#05c,#07d,#0ce,#0e9,#4e1,#3e2,#0ea,#0ce,#08d,#06c,#07d,#09e,#0ef,#1e5,#5e1,#2e2,#0eb,#0ce,#09d,#07d,#08d,#0ce,#0ec,#1e3,#5e1,#1e3,#0ec,#0ce,#09e,#09e,#0ae,#0df,#0e8,#2e2,#4e1,#1e4,#0ec,#0de,#0be,#0ae,#0ce,#0ee,#1e6,#4e1,#4e1,#1e5,#0ed,#0de,#0ce,#0ce,#0df,#0ea,#1e4,#4e1,#3e2,#1e6,#0ed,#0df,#0de,#0de,#0ee,#0e8,#2e2,#4e1,#2e2,#1e6,#0ec,#0ef,#0df,#0ef,#0eb,#1e6,#2e2,#4e1,#2e2,#1e7,#0ec,#0ef,#0ef)"></div><div style="top:48.82px;background:linear-gradient(90deg,#118,#02a,#06d,#0de,#2e2,#ae0,#2e2,#0ef,#08d,#04b,#02b,#04b,#08d,#0df,#2e2,#9e1,#4e1,#0ee,#09e,#06c,#04c,#05c,#09e,#0ef,#1e3,#9e1,#4e1,#0eb,#0be,#07d,#06c,#07d,#0ae,#0ef,#1e3,#8e1,#5e1,#0e9,#0de,#09e,#08d,#08d,#0be,#0ed,#1e3,#8e1,#5e1,#1e7,#0df,#0be,#09e,#0ae,#0ce,#0ec,#1e3,#7e1,#6e1,#1e5,#0ee,#0ce,#0ae,#0be,#0de,#0eb,#1e3,#6e1,#6e1,#1e4,#0ec,#0de,#0ce,#0ce,#0df,#0ea,#1e3,#6e1,#5e1,#1e3,#0ea,#0ef,#0de,#0de,#0ef,#0e9,#1e3,#5e1,#5e1,#1e3,#0e8,#0ee,#0df,#0df,#0ee,#0e9,#1e3,#5e1,#5e1,#2e2,#1e7)"></div><div style="top:50.32px;background:linear-gradient(90deg,#118,#02a,#06d,#0df,#4e1,#de0,#ae1,#0ea,#09e,#05c,#02b,#03b,#06d,#0ce,#1e5,#be0,#be0,#1e4,#0de,#08d,#05c,#04c,#07d,#0be,#0e9,#8e1,#ce0,#5e1,#0ec,#0be,#07d,#06d,#07d,#0be,#0ec,#4e1,#be0,#9e1,#1e6,#0df,#0ae,#08d,#08d,#0be,#0ef,#1e4,#9e1,#ae0,#2e2,#0ec,#0ce,#0ae,#09e,#0be,#0ef,#1e6,#6e1,#ae1,#6e1,#1e7,#0ef,#0ce,#0be,#0be,#0df,#0e9,#3e2,#9e1,#7e1,#1e3,#0eb,#0df,#0ce,#0ce,#0df,#0ea,#1e3,#7e1,#8e1,#3e2,#1e7,#0ee,#0df,#0de,#0df,#0eb,#1e5,#5e1,#8e1,#5e1,#1e4,#0ea,#0ef,#0df,#0ef,#0ec,#1e6,#3e2,#7e1)"></div><div style="top:51.82px;background:linear-gradient(90deg,#118,#02a,#06d,#0df,#7e1,#fe0,#fe0,#1e4,#0ce,#06c,#03b,#03b,#05c,#0ae,#0e9,#be0,#fe0,#be0,#0e9,#0be,#06d,#04c,#05c,#08d,#0df,#2e2,#de0,#ee0,#6e1,#0ec,#0ae,#07d,#06d,#07d,#0be,#0ea,#7e1,#de0,#ce0,#1e2,#0ef,#0ae,#08d,#08d,#0ae,#0df,#1e5,#ae1,#ce0,#9e1,#1e6,#0ef,#0be,#09e,#0ae,#0ce,#0eb,#3e2,#ae0,#be0,#5e1,#0e8,#0df,#0be,#0be,#0ce,#0ef,#1e6,#6e1,#ae0,#9e1,#2e2,#0ea,#0df,#0ce,#0ce,#0df,#0eb,#1e3,#8e1,#ae0,#7e1,#1e4,#0eb,#0df,#0de,#0df,#0ee,#1e7,#3e2,#8e1,#9e1,#4e1,#1e6,#0ec,#0ef,#0df,#0ef,#0ea)"></div><div style="top:53.32px;background:linear-gradient(90deg,#118,#02a,#07d,#0df,#9e1,#ec0,#ed0,#8e1,#0ef,#07d,#03b,#02b,#04c,#08d,#0ee,#9e1,#fd0,#fd0,#7e1,#0ef,#09d,#05c,#04c,#06d,#0ae,#0eb,#9e1,#fd0,#fe0,#6e1,#0ed,#0ae,#07d,#06d,#08d,#0ce,#0e9,#9e1,#fe0,#ee0,#5e1,#0ec,#0be,#08d,#08d,#09e,#0de,#1e7,#9e1,#ee0,#de0,#5e1,#0eb,#0ce,#0ae,#09e,#0be,#0ef,#1e5,#9e1,#de0,#ce0,#4e1,#0ea,#0df,#0be,#0be,#0ce,#0ee,#1e4,#9e1,#ce0,#be0,#4e1,#0e9,#0ef,#0ce,#0ce,#0df,#0ec,#1e4,#8e1,#be0,#ae0,#3e2,#0e8,#0ef,#0df,#0de,#0ef,#0ea,#1e3,#8e1,#ae0,#9e1,#3e2,#1e7,#0ed,#0ef)"></div><div style="top:54.82px;background:linear-gradient(90deg,#118,#02a,#07d,#0ef,#be0,#eb0,#eb0,#ee0,#0e9,#09e,#04c,#02b,#03b,#07d,#0de,#5e1,#ed0,#ec0,#fe0,#1e3,#0ce,#07d,#05c,#05c,#07d,#0de,#1e4,#fe0,#ec0,#fd0,#6e1,#0ee,#0ae,#07d,#06d,#08d,#0ce,#1e7,#be0,#fd0,#fd0,#ae1,#0e9,#0ce,#09e,#08d,#09e,#0ce,#0e9,#8e1,#fe0,#fe0,#be0,#1e4,#0ef,#0be,#09e,#0ae,#0de,#0eb,#4e1,#de0,#fe0,#ce0,#3e2,#0eb,#0de,#0be,#0be,#0de,#0ec,#2e2,#ae0,#de0,#ce0,#6e1,#0e7,#0ef,#0de,#0ce,#0df,#0ec,#1e4,#8e1,#ce0,#ce0,#7e1,#1e4,#0ec,#0df,#0de,#0df,#0ec,#1e6,#5e1,#ae0,#be0,#8e1,#2e2)"></div><div style="top:56.33px;background:linear-gradient(90deg,#118,#02a,#07d,#0ef,#ce0,#eb0,#ea0,#ec0,#2e2,#0be,#06c,#03b,#03b,#06c,#0be,#1e4,#fd0,#eb0,#eb0,#de0,#0ea,#0ae,#06c,#04c,#06c,#09e,#0ee,#9e1,#ec0,#eb0,#fd0,#5e1,#0ef,#09e,#07d,#06d,#08d,#0de,#1e5,#de0,#ec0,#ed0,#de0,#1e5,#0df,#09e,#08d,#09d,#0ce,#0ec,#6e1,#fe0,#ed0,#fe0,#7e1,#0ea,#0de,#0ae,#09e,#0be,#0ef,#1e5,#ae0,#fe0,#fe0,#ce0,#1e3,#0ed,#0de,#0be,#0be,#0df,#0ea,#3e1,#ce0,#fe0,#de0,#7e1,#1e6,#0ee,#0de,#0ce,#0de,#0ed,#1e5,#8e1,#de0,#de0,#ae0,#3e2,#0e9,#0ef,#0df,#0df,#0ef,#0e8,#2e2,#ae1,#ce0)"></div><div style="top:57.83px;background:linear-gradient(90deg,#118,#02a,#07d,#0ef,#de0,#ea0,#d80,#ea0,#be0,#0df,#07d,#03b,#02b,#04c,#09e,#0ea,#fe0,#ea0,#e90,#ec0,#7e1,#0df,#08d,#05c,#05c,#07d,#0ce,#1e6,#fe0,#eb0,#eb0,#ed0,#4e1,#0ef,#09e,#07d,#07d,#09e,#0df,#1e3,#fe0,#ec0,#ec0,#fe0,#2e2,#0ef,#0ae,#08d,#08d,#0be,#0ee,#3e2,#fe0,#ec0,#ed0,#de0,#1e4,#0ef,#0be,#09e,#0ae,#0de,#0ea,#5e1,#ee0,#fd0,#fd0,#be0,#1e5,#0ef,#0ce,#0be,#0ce,#0ef,#0e8,#7e1,#ee0,#fe0,#ee0,#9e1,#1e5,#0ee,#0de,#0ce,#0de,#0ee,#1e6,#7e1,#de0,#fe0,#de0,#7e1,#1e6,#0ed,#0df,#0df,#0ef,#0eb,#1e4)"></div><div style="top:59.33px;background:linear-gradient(90deg,#118,#02a,#07d,#0ef,#fe0,#e90,#d70,#e80,#fd0,#0ea,#09d,#04c,#02b,#04b,#07d,#0ef,#be0,#eb0,#d80,#e90,#fd0,#1e5,#0be,#06d,#05c,#05c,#08d,#0ef,#7e1,#ec0,#ea0,#ea0,#fd0,#2e2,#0df,#09d,#07d,#07d,#09e,#0ef,#4e1,#fd0,#eb0,#eb0,#fd0,#5e1,#0ee,#0be,#08d,#08d,#0ae,#0ef,#2e2,#ee0,#ec0,#ec0,#fd0,#7e1,#0ea,#0de,#0ae,#0ae,#0be,#0ef,#1e4,#ce0,#fd0,#ed0,#fe0,#8e1,#0e7,#0ef,#0ce,#0be,#0ce,#0ef,#1e5,#ae0,#fe0,#fd0,#fe0,#9e1,#1e5,#0ee,#0de,#0ce,#0de,#0ee,#1e6,#8e1,#ee0,#fe0,#ee0,#9e1,#1e3,#0eb,#0ef,#0df,#0df)"></div><div style="top:60.83px;background:linear-gradient(90deg,#118,#02a,#07d,#0ee,#fe0,#d80,#d60,#d70,#eb0,#1e3,#0be,#05c,#03b,#03b,#06d,#0ce,#5e1,#eb0,#d80,#d70,#ea0,#be0,#0ee,#09d,#05c,#05c,#06d,#0be,#0e7,#fe0,#ea0,#e90,#ea0,#fe0,#1e5,#0ce,#08d,#06d,#07d,#0ae,#0ed,#8e1,#ec0,#ea0,#ea0,#ed0,#7e1,#0ed,#0be,#08d,#08d,#0ae,#0df,#1e3,#ee0,#ec0,#eb0,#ec0,#ce0,#1e6,#0df,#0be,#0ae,#0ae,#0df,#0e8,#9e1,#fd0,#ec0,#ec0,#ee0,#4e1,#0eb,#0de,#0be,#0be,#0de,#0eb,#2e2,#de0,#fd0,#ed0,#fe0,#9e1,#1e6,#0ee,#0de,#0ce,#0df,#0ed,#1e5,#9e1,#ee0,#fd0,#fe0,#be0,#2e2,#0e9,#0ef)"></div><div style="top:62.33px;background:linear-gradient(90deg,#118,#02a,#07d,#0ee,#fd0,#d70,#d50,#d50,#e90,#9e1,#0de,#06d,#03b,#03b,#05c,#0ae,#1e5,#ec0,#d80,#d60,#d80,#ec0,#1e3,#0ce,#07d,#05c,#05c,#08d,#0df,#7e1,#ec0,#e80,#d80,#ea0,#ee0,#0e9,#0be,#08d,#06d,#08d,#0be,#0e9,#ce0,#eb0,#e90,#ea0,#ec0,#8e1,#0ec,#0be,#08d,#08d,#0ae,#0df,#1e4,#ee0,#ec0,#eb0,#eb0,#fe0,#2e2,#0ee,#0ce,#0ae,#0ae,#0ce,#0eb,#5e1,#fe0,#ec0,#ec0,#ed0,#be0,#1e5,#0ef,#0ce,#0be,#0ce,#0ef,#1e7,#9e1,#fe0,#ed0,#ed0,#fe0,#6e1,#0e7,#0ef,#0de,#0de,#0df,#0eb,#1e3,#ae0,#fe0,#fd0,#fe0,#be0,#2e2)"></div><div style="top:63.84px;background:linear-gradient(90deg,#118,#02a,#07d,#0ee,#fd0,#d70,#c40,#c40,#d80,#fe0,#0ef,#07d,#04b,#02b,#04c,#09e,#0ea,#fd0,#d80,#d60,#d60,#ea0,#ce0,#0ee,#09d,#05c,#05c,#06d,#0be,#1e7,#fd0,#e90,#d70,#d80,#eb0,#9e1,#0ee,#0ae,#07d,#07d,#08d,#0de,#1e4,#fe0,#ea0,#e90,#e90,#ec0,#7e1,#0ed,#0be,#08d,#08d,#0ae,#0ef,#1e3,#fe0,#eb0,#ea0,#eb0,#fd0,#5e1,#0ec,#0ce,#0ae,#0ae,#0ce,#0ed,#2e2,#fe0,#ec0,#eb0,#ec0,#ee0,#3e2,#0ec,#0de,#0be,#0be,#0df,#0ea,#4e1,#ee0,#ed0,#ec0,#ed0,#ce0,#2e2,#0eb,#0df,#0de,#0de,#0ef,#0e8,#4e1,#de0,#fd0,#ed0,#fe0)"></div><div style="top:65.34px;background:linear-gradient(90deg,#118,#02a,#07d,#0ee,#fd0,#d60,#c30,#c30,#d60,#ec0,#0e9,#09d,#04c,#02b,#04c,#08d,#0ee,#ee0,#e90,#d50,#d50,#d70,#ec0,#1e6,#0be,#06d,#05c,#05c,#09d,#0ef,#ae0,#ea0,#d70,#d70,#e90,#ed0,#1e3,#0de,#08d,#07d,#07d,#0ae,#0ee,#7e1,#ec0,#e90,#d80,#ea0,#ed0,#3e2,#0ef,#0ae,#08d,#08d,#0be,#0ee,#4e1,#fd0,#eb0,#ea0,#eb0,#fd0,#5e1,#0ec,#0ce,#0ae,#0ae,#0ce,#0ed,#2e2,#fe0,#ec0,#eb0,#eb0,#fe0,#6e1,#0e9,#0df,#0ce,#0be,#0de,#0ed,#1e3,#ce0,#ed0,#ec0,#ec0,#fe0,#7e1,#1e7,#0ef,#0de,#0de,#0df,#0ec,#1e3,#ae0,#fe0,#ed0)"></div><div style="top:66.84px;background:linear-gradient(90deg,#118,#02a,#07d,#0ed,#ed0,#d60,#c30,#c21,#d50,#eb0,#1e5,#0ae,#05c,#03b,#03b,#07d,#0df,#be0,#e90,#d50,#c40,#d60,#ea0,#7e1,#0de,#08d,#05c,#05c,#07d,#0de,#2e2,#ec0,#d80,#d60,#d70,#ea0,#ce0,#0ec,#0ae,#07d,#07d,#08d,#0ce,#1e6,#fe0,#ea0,#d80,#d80,#ea0,#fe0,#1e6,#0de,#09e,#08d,#09e,#0ce,#0ea,#ae0,#ec0,#ea0,#e90,#eb0,#fe0,#2e2,#0ee,#0ce,#0ae,#0ae,#0ce,#0ec,#5e1,#fe0,#eb0,#eb0,#eb0,#fd0,#7e1,#0e9,#0df,#0ce,#0be,#0de,#0ed,#1e3,#ce0,#ed0,#ec0,#ec0,#fd0,#9e1,#1e5,#0ee,#0de,#0de,#0df,#0ed,#1e5,#9e1,#fe0)"></div><div style="top:68.34px;background:linear-gradient(90deg,#118,#02a,#07d,#0ed,#ed0,#d60,#b21,#b21,#c40,#ea0,#2e2,#0be,#05c,#03b,#03b,#06d,#0de,#8e1,#ea0,#d50,#c40,#d50,#e90,#de0,#0ee,#09d,#05c,#05c,#06d,#0be,#1e6,#fd0,#e80,#d60,#d60,#e80,#ed0,#1e4,#0ce,#08d,#07d,#07d,#0ae,#0ed,#ae1,#eb0,#d80,#d70,#e90,#ec0,#8e1,#0ed,#0be,#08d,#08d,#0ae,#0ef,#1e3,#fe0,#eb0,#e90,#e90,#ec0,#de0,#1e6,#0df,#0be,#0ae,#0be,#0df,#0e8,#ae0,#ed0,#eb0,#ea0,#ec0,#fe0,#4e1,#0eb,#0de,#0be,#0be,#0de,#0eb,#3e2,#ee0,#ec0,#eb0,#ec0,#fe0,#9e1,#1e6,#0ee,#0de,#0de,#0df,#0ed,#1e5,#9e1)"></div><div style="top:69.84px;background:linear-gradient(90deg,#118,#02a,#07d,#0ed,#ed0,#d60,#b21,#b11,#c40,#e90,#6e1,#0ce,#05c,#03b,#03b,#06c,#0ce,#5e1,#ea0,#d50,#c30,#c40,#d80,#fd0,#0ea,#0ae,#06c,#05c,#06c,#0ae,#0ea,#fe0,#e90,#d60,#d50,#d70,#ec0,#5e1,#0df,#09e,#07d,#07d,#09e,#0df,#4e1,#ec0,#e90,#d70,#d80,#ea0,#de0,#0e7,#0de,#09e,#08d,#09e,#0de,#0e8,#ce0,#ec0,#e90,#e90,#ea0,#fd0,#4e1,#0ed,#0ce,#0ae,#0ae,#0ce,#0ed,#3e2,#fe0,#eb0,#ea0,#eb0,#ec0,#be0,#1e6,#0ef,#0ce,#0be,#0ce,#0ef,#1e6,#9e1,#fd0,#ec0,#eb0,#ec0,#ee0,#4e1,#0e9,#0ef,#0de,#0de,#0ef,#0ea,#2e2)"></div><div style="top:71.35px;background:linear-gradient(90deg,#118,#02a,#07d,#0ed,#ed0,#d50,#b21,#b11,#c30,#e90,#8e1,#0ce,#06c,#03b,#03b,#06c,#0ce,#3e1,#ea0,#d50,#c30,#c40,#d70,#ed0,#0e8,#0ae,#06c,#05c,#06c,#09e,#0ec,#de0,#e90,#d60,#d50,#d70,#eb0,#9e1,#0ef,#09e,#07d,#07d,#09d,#0de,#1e3,#fd0,#e90,#d70,#d70,#ea0,#fe0,#1e4,#0df,#09e,#08d,#09e,#0ce,#0eb,#9e1,#ec0,#e90,#e90,#ea0,#ec0,#9e1,#0ea,#0de,#0ae,#0ae,#0be,#0ef,#1e4,#de0,#ec0,#ea0,#ea0,#ec0,#ee0,#2e2,#0ed,#0de,#0be,#0ce,#0df,#0e9,#6e1,#fe0,#ec0,#eb0,#ec0,#fe0,#8e1,#1e7,#0ef,#0de,#0de,#0df,#0ec,#1e4)"></div><div style="top:72.85px;background:linear-gradient(90deg,#118,#02a,#07d,#0ed,#ed0,#d50,#b21,#b11,#c30,#e90,#8e1,#0ce,#06c,#03b,#03b,#06c,#0ce,#3e1,#ea0,#d50,#c30,#c40,#d70,#ed0,#0e8,#0ae,#06c,#05c,#06c,#09e,#0ec,#de0,#e90,#d60,#d50,#d70,#eb0,#9e1,#0ef,#09e,#07d,#07d,#09d,#0de,#1e3,#fd0,#e90,#d70,#d70,#ea0,#fe0,#1e4,#0df,#09e,#08d,#09e,#0ce,#0eb,#9e1,#ec0,#e90,#e90,#ea0,#ec0,#9e1,#0ea,#0de,#0ae,#0ae,#0be,#0ef,#1e4,#de0,#ec0,#ea0,#ea0,#ec0,#ee0,#2e2,#0ed,#0de,#0be,#0ce,#0df,#0e9,#6e1,#fe0,#ec0,#eb0,#ec0,#fe0,#8e1,#1e7,#0ef,#0de,#0de,#0df,#0ec,#1e4)"></div><div style="top:74.35px;background:linear-gradient(90deg,#118,#02a,#07d,#0ed,#ed0,#d60,#b21,#b11,#c40,#e90,#6e1,#0ce,#05c,#03b,#03b,#06c,#0ce,#5e1,#ea0,#d50,#c30,#c40,#d80,#fd0,#0ea,#0ae,#06c,#05c,#06c,#0ae,#0ea,#fe0,#e90,#d60,#d50,#d70,#ec0,#5e1,#0df,#09e,#07d,#07d,#09e,#0df,#4e1,#ec0,#e90,#d70,#d80,#ea0,#de0,#0e7,#0de,#09e,#08d,#09e,#0de,#0e8,#ce0,#ec0,#e90,#e90,#ea0,#fd0,#4e1,#0ed,#0ce,#0ae,#0ae,#0ce,#0ed,#3e2,#fe0,#eb0,#ea0,#eb0,#ec0,#be0,#1e6,#0ef,#0ce,#0be,#0ce,#0ef,#1e6,#9e1,#fd0,#ec0,#eb0,#ec0,#ee0,#4e1,#0e9,#0ef,#0de,#0de,#0ef,#0ea,#2e2)"></div><div style="top:75.85px;background:linear-gradient(90deg,#118,#02a,#07d,#0ed,#ed0,#d60,#b21,#b21,#c40,#ea0,#2e2,#0be,#05c,#03b,#03b,#06d,#0de,#8e1,#ea0,#d50,#c40,#d50,#e90,#de0,#0ee,#09d,#05c,#05c,#06d,#0be,#1e6,#fd0,#e80,#d60,#d60,#e80,#ed0,#1e4,#0ce,#08d,#07d,#07d,#0ae,#0ed,#ae1,#eb0,#d80,#d70,#e90,#ec0,#8e1,#0ed,#0be,#08d,#08d,#0ae,#0ef,#1e3,#fe0,#eb0,#e90,#e90,#ec0,#de0,#1e6,#0df,#0be,#0ae,#0be,#0df,#0e8,#ae0,#ed0,#eb0,#ea0,#ec0,#fe0,#4e1,#0eb,#0de,#0be,#0be,#0de,#0eb,#3e2,#ee0,#ec0,#eb0,#ec0,#fe0,#9e1,#1e6,#0ee,#0de,#0de,#0df,#0ed,#1e5,#9e1)"></div><div style="top:77.36px;background:linear-gradient(90deg,#118,#02a,#07d,#0ed,#ed0,#d60,#c30,#c21,#d50,#eb0,#1e5,#0ae,#05c,#03b,#03b,#07d,#0df,#be0,#e90,#d50,#c40,#d60,#ea0,#7e1,#0de,#08d,#05c,#05c,#07d,#0de,#2e2,#ec0,#d80,#d60,#d70,#ea0,#ce0,#0ec,#0ae,#07d,#07d,#08d,#0ce,#1e6,#fe0,#ea0,#d80,#d80,#ea0,#fe0,#1e6,#0de,#09e,#08d,#09e,#0ce,#0ea,#ae0,#ec0,#ea0,#e90,#eb0,#fe0,#2e2,#0ee,#0ce,#0ae,#0ae,#0ce,#0ec,#5e1,#fe0,#eb0,#eb0,#eb0,#fd0,#7e1,#0e9,#0df,#0ce,#0be,#0de,#0ed,#1e3,#ce0,#ed0,#ec0,#ec0,#fd0,#9e1,#1e5,#0ee,#0de,#0de,#0df,#0ed,#1e5,#9e1,#fe0)"></div><div style="top:78.86px;background:linear-gradient(90deg,#118,#02a,#07d,#0ee,#fd0,#d60,#c30,#c30,#d60,#ec0,#0e9,#09d,#04c,#02b,#04c,#08d,#0ee,#ee0,#e90,#d50,#d50,#d70,#ec0,#1e6,#0be,#06d,#05c,#05c,#09d,#0ef,#ae0,#ea0,#d70,#d70,#e90,#ed0,#1e3,#0de,#08d,#07d,#07d,#0ae,#0ee,#7e1,#ec0,#e90,#d80,#ea0,#ed0,#3e2,#0ef,#0ae,#08d,#08d,#0be,#0ee,#4e1,#fd0,#eb0,#ea0,#eb0,#fd0,#5e1,#0ec,#0ce,#0ae,#0ae,#0ce,#0ed,#2e2,#fe0,#ec0,#eb0,#eb0,#fe0,#6e1,#0e9,#0df,#0ce,#0be,#0de,#0ed,#1e3,#ce0,#ed0,#ec0,#ec0,#fe0,#7e1,#1e7,#0ef,#0de,#0de,#0df,#0ec,#1e3,#ae0,#fe0,#ed0)"></div><div style="top:80.36px;background:linear-gradient(90deg,#118,#02a,#07d,#0ee,#fd0,#d70,#c40,#c40,#d80,#fe0,#0ef,#07d,#04b,#02b,#04c,#09e,#0ea,#fd0,#d80,#d60,#d60,#ea0,#ce0,#0ee,#09d,#05c,#05c,#06d,#0be,#1e7,#fd0,#e90,#d70,#d80,#eb0,#9e1,#0ee,#0ae,#07d,#07d,#08d,#0de,#1e4,#fe0,#ea0,#e90,#e90,#ec0,#7e1,#0ed,#0be,#08d,#08d,#0ae,#0ef,#1e3,#fe0,#eb0,#ea0,#eb0,#fd0,#5e1,#0ec,#0ce,#0ae,#0ae,#0ce,#0ed,#2e2,#fe0,#ec0,#eb0,#ec0,#ee0,#3e2,#0ec,#0de,#0be,#0be,#0df,#0ea,#4e1,#ee0,#ed0,#ec0,#ed0,#ce0,#2e2,#0eb,#0df,#0de,#0de,#0ef,#0e8,#4e1,#de0,#fd0,#ed0,#fe0)"></div><div style="top:81.86px;background:linear-gradient(90deg,#118,#02a,#07d,#0ee,#fd0,#d70,#d50,#d50,#e90,#9e1,#0de,#06d,#03b,#03b,#05c,#0ae,#1e5,#ec0,#d80,#d60,#d80,#ec0,#1e3,#0ce,#07d,#05c,#05c,#08d,#0df,#7e1,#ec0,#e80,#d80,#ea0,#ee0,#0e9,#0be,#08d,#06d,#08d,#0be,#0e9,#ce0,#eb0,#e90,#ea0,#ec0,#8e1,#0ec,#0be,#08d,#08d,#0ae,#0df,#1e4,#ee0,#ec0,#eb0,#eb0,#fe0,#2e2,#0ee,#0ce,#0ae,#0ae,#0ce,#0eb,#5e1,#fe0,#ec0,#ec0,#ed0,#be0,#1e5,#0ef,#0ce,#0be,#0ce,#0ef,#1e7,#9e1,#fe0,#ed0,#ed0,#fe0,#6e1,#0e7,#0ef,#0de,#0de,#0df,#0eb,#1e3,#ae0,#fe0,#fd0,#fe0,#be0,#2e2)"></div><div style="top:83.36px;background:linear-gradient(90deg,#118,#02a,#07d,#0ee,#fe0,#d80,#d60,#d70,#eb0,#1e3,#0be,#05c,#03b,#03b,#06d,#0ce,#5e1,#eb0,#d80,#d70,#ea0,#be0,#0ee,#09d,#05c,#05c,#06d,#0be,#0e7,#fe0,#ea0,#e90,#ea0,#fe0,#1e5,#0ce,#08d,#06d,#07d,#0ae,#0ed,#8e1,#ec0,#ea0,#ea0,#ed0,#7e1,#0ed,#0be,#08d,#08d,#0ae,#0df,#1e3,#ee0,#ec0,#eb0,#ec0,#ce0,#1e6,#0df,#0be,#0ae,#0ae,#0df,#0e8,#9e1,#fd0,#ec0,#ec0,#ee0,#4e1,#0eb,#0de,#0be,#0be,#0de,#0eb,#2e2,#de0,#fd0,#ed0,#fe0,#9e1,#1e6,#0ee,#0de,#0ce,#0df,#0ed,#1e5,#9e1,#ee0,#fd0,#fe0,#be0,#2e2,#0e9,#0ef)"></div><div style="top:84.87px;background:linear-gradient(90deg,#118,#02a,#07d,#0ef,#fe0,#e90,#d70,#e80,#fd0,#0ea,#09d,#04c,#02b,#04b,#07d,#0ef,#be0,#eb0,#d80,#e90,#fd0,#1e5,#0be,#06d,#05c,#05c,#08d,#0ef,#7e1,#ec0,#ea0,#ea0,#fd0,#2e2,#0df,#09d,#07d,#07d,#09e,#0ef,#4e1,#fd0,#eb0,#eb0,#fd0,#5e1,#0ee,#0be,#08d,#08d,#0ae,#0ef,#2e2,#ee0,#ec0,#ec0,#fd0,#7e1,#0ea,#0de,#0ae,#0ae,#0be,#0ef,#1e4,#ce0,#fd0,#ed0,#fe0,#8e1,#0e7,#0ef,#0ce,#0be,#0ce,#0ef,#1e5,#ae0,#fe0,#fd0,#fe0,#9e1,#1e5,#0ee,#0de,#0ce,#0de,#0ee,#1e6,#8e1,#ee0,#fe0,#ee0,#9e1,#1e3,#0eb,#0ef,#0df,#0df)"></div><div style="top:86.37px;background:linear-gradient(90deg,#118,#02a,#07d,#0ef,#de0,#ea0,#d80,#ea0,#be0,#0df,#07d,#03b,#02b,#04c,#09e,#0ea,#fe0,#ea0,#e90,#ec0,#7e1,#0df,#08d,#05c,#05c,#07d,#0ce,#1e6,#fe0,#eb0,#eb0,#ed0,#4e1,#0ef,#09e,#07d,#07d,#09e,#0df,#1e3,#fe0,#ec0,#ec0,#fe0,#2e2,#0ef,#0ae,#08d,#08d,#0be,#0ee,#3e2,#fe0,#ec0,#ed0,#de0,#1e4,#0ef,#0be,#09e,#0ae,#0de,#0ea,#5e1,#ee0,#fd0,#fd0,#be0,#1e5,#0ef,#0ce,#0be,#0ce,#0ef,#0e8,#7e1,#ee0,#fe0,#ee0,#9e1,#1e5,#0ee,#0de,#0ce,#0de,#0ee,#1e6,#7e1,#de0,#fe0,#de0,#7e1,#1e6,#0ed,#0df,#0df,#0ef,#0eb,#1e4)"></div><div style="top:87.87px;background:linear-gradient(90deg,#118,#02a,#07d,#0ef,#ce0,#eb0,#ea0,#ec0,#2e2,#0be,#06c,#03b,#03b,#06c,#0be,#1e4,#fd0,#eb0,#eb0,#de0,#0ea,#0ae,#06c,#04c,#06c,#09e,#0ee,#9e1,#ec0,#eb0,#fd0,#5e1,#0ef,#09e,#07d,#06d,#08d,#0de,#1e5,#de0,#ec0,#ed0,#de0,#1e5,#0df,#09e,#08d,#09d,#0ce,#0ec,#6e1,#fe0,#ed0,#fe0,#7e1,#0ea,#0de,#0ae,#09e,#0be,#0ef,#1e5,#ae0,#fe0,#fe0,#ce0,#1e3,#0ed,#0de,#0be,#0be,#0df,#0ea,#3e1,#ce0,#fe0,#de0,#7e1,#1e6,#0ee,#0de,#0ce,#0de,#0ed,#1e5,#8e1,#de0,#de0,#ae0,#3e2,#0e9,#0ef,#0df,#0df,#0ef,#0e8,#2e2,#ae1,#ce0)"></div><div style="top:89.37px;background:linear-gradient(90deg,#118,#02a,#07d,#0ef,#be0,#eb0,#eb0,#ee0,#0e9,#09e,#04c,#02b,#03b,#07d,#0de,#5e1,#ed0,#ec0,#fe0,#1e3,#0ce,#07d,#05c,#05c,#07d,#0de,#1e4,#fe0,#ec0,#fd0,#6e1,#0ee,#0ae,#07d,#06d,#08d,#0ce,#1e7,#be0,#fd0,#fd0,#ae1,#0e9,#0ce,#09e,#08d,#09e,#0ce,#0e9,#8e1,#fe0,#fe0,#be0,#1e4,#0ef,#0be,#09e,#0ae,#0de,#0eb,#4e1,#de0,#fe0,#ce0,#3e2,#0eb,#0de,#0be,#0be,#0de,#0ec,#2e2,#ae0,#de0,#ce0,#6e1,#0e7,#0ef,#0de,#0ce,#0df,#0ec,#1e4,#8e1,#ce0,#ce0,#7e1,#1e4,#0ec,#0df,#0de,#0df,#0ec,#1e6,#5e1,#ae0,#be0,#8e1,#2e2)"></div><div style="top:90.87px;background:linear-gradient(90deg,#118,#02a,#07d,#0df,#9e1,#ec0,#ed0,#8e1,#0ef,#07d,#03b,#02b,#04c,#08d,#0ee,#9e1,#fd0,#fd0,#7e1,#0ef,#09d,#05c,#04c,#06d,#0ae,#0eb,#9e1,#fd0,#fe0,#6e1,#0ed,#0ae,#07d,#06d,#08d,#0ce,#0e9,#9e1,#fe0,#ee0,#5e1,#0ec,#0be,#08d,#08d,#09e,#0de,#1e7,#9e1,#ee0,#de0,#5e1,#0eb,#0ce,#0ae,#09e,#0be,#0ef,#1e5,#9e1,#de0,#ce0,#4e1,#0ea,#0df,#0be,#0be,#0ce,#0ee,#1e4,#9e1,#ce0,#be0,#4e1,#0e9,#0ef,#0ce,#0ce,#0df,#0ec,#1e4,#8e1,#be0,#ae0,#3e2,#0e8,#0ef,#0df,#0de,#0ef,#0ea,#1e3,#8e1,#ae0,#9e1,#3e2,#1e7,#0ed,#0ef)"></div><div style="top:92.38px;background:linear-gradient(90deg,#118,#02a,#06d,#0df,#7e1,#fe0,#fe0,#1e4,#0ce,#06c,#03b,#03b,#05c,#0ae,#0e9,#be0,#fe0,#be0,#0e9,#0be,#06d,#04c,#05c,#08d,#0df,#2e2,#de0,#ee0,#6e1,#0ec,#0ae,#07d,#06d,#07d,#0be,#0ea,#7e1,#de0,#ce0,#1e2,#0ef,#0ae,#08d,#08d,#0ae,#0df,#1e5,#ae1,#ce0,#9e1,#1e6,#0ef,#0be,#09e,#0ae,#0ce,#0eb,#3e2,#ae0,#be0,#5e1,#0e8,#0df,#0be,#0be,#0ce,#0ef,#1e6,#6e1,#ae0,#9e1,#2e2,#0ea,#0df,#0ce,#0ce,#0df,#0eb,#1e3,#8e1,#ae0,#7e1,#1e4,#0eb,#0df,#0de,#0df,#0ee,#1e7,#3e2,#8e1,#9e1,#4e1,#1e6,#0ec,#0ef,#0df,#0ef,#0ea)"></div><div style="top:93.88px;background:linear-gradient(90deg,#118,#02a,#06d,#0df,#4e1,#de0,#ae1,#0ea,#09e,#05c,#02b,#03b,#06d,#0ce,#1e5,#be0,#be0,#1e4,#0de,#08d,#05c,#04c,#07d,#0be,#0e9,#8e1,#ce0,#5e1,#0ec,#0be,#07d,#06d,#07d,#0be,#0ec,#4e1,#be0,#9e1,#1e6,#0df,#0ae,#08d,#08d,#0be,#0ef,#1e4,#9e1,#ae0,#2e2,#0ec,#0ce,#0ae,#09e,#0be,#0ef,#1e6,#6e1,#ae1,#6e1,#1e7,#0ef,#0ce,#0be,#0be,#0df,#0e9,#3e2,#9e1,#7e1,#1e3,#0eb,#0df,#0ce,#0ce,#0df,#0ea,#1e3,#7e1,#8e1,#3e2,#1e7,#0ee,#0df,#0de,#0df,#0eb,#1e5,#5e1,#8e1,#5e1,#1e4,#0ea,#0ef,#0df,#0ef,#0ec,#1e6,#3e2,#7e1)"></div><div style="top:95.38px;background:linear-gradient(90deg,#118,#02a,#06d,#0de,#2e2,#ae0,#2e2,#0ef,#08d,#04b,#02b,#04b,#08d,#0df,#2e2,#9e1,#4e1,#0ee,#09e,#06c,#04c,#05c,#09e,#0ef,#1e3,#9e1,#4e1,#0eb,#0be,#07d,#06c,#07d,#0ae,#0ef,#1e3,#8e1,#5e1,#0e9,#0de,#09e,#08d,#08d,#0be,#0ed,#1e3,#8e1,#5e1,#1e7,#0df,#0be,#09e,#0ae,#0ce,#0ec,#1e3,#7e1,#6e1,#1e5,#0ee,#0ce,#0ae,#0be,#0de,#0eb,#1e3,#6e1,#6e1,#1e4,#0ec,#0de,#0ce,#0ce,#0df,#0ea,#1e3,#6e1,#5e1,#1e3,#0ea,#0ef,#0de,#0de,#0ef,#0e9,#1e3,#5e1,#5e1,#1e3,#0e8,#0ee,#0df,#0df,#0ee,#0e9,#1e3,#5e1,#5e1,#2e2,#1e7)"></div><div style="top:96.88px;background:linear-gradient(90deg,#118,#02a,#06d,#0de,#1e4,#5e1,#1e7,#0ce,#06d,#03b,#02b,#05c,#09e,#0ee,#2e2,#4e1,#0e8,#0ce,#07d,#04c,#05c,#07d,#0ce,#0e9,#4e1,#3e2,#0ea,#0ce,#08d,#06c,#07d,#09e,#0ef,#1e5,#5e1,#2e2,#0eb,#0ce,#09d,#07d,#08d,#0ce,#0ec,#1e3,#5e1,#1e3,#0ec,#0ce,#09e,#09e,#0ae,#0df,#0e8,#2e2,#4e1,#1e4,#0ec,#0de,#0be,#0ae,#0ce,#0ee,#1e6,#4e1,#4e1,#1e5,#0ed,#0de,#0ce,#0ce,#0df,#0ea,#1e4,#4e1,#3e2,#1e6,#0ed,#0df,#0de,#0de,#0ee,#0e8,#2e2,#4e1,#2e2,#1e6,#0ec,#0ef,#0df,#0ef,#0eb,#1e6,#2e2,#4e1,#2e2,#1e7,#0ec,#0ef,#0ef)"></div><div style="top:98.38px;background:linear-gradient(90deg,#118,#02a,#06d,#0de,#1e6,#1e3,#0ec,#0ae,#05c,#02b,#03b,#06c,#0be,#0eb,#1e3,#1e5,#0df,#09d,#05c,#04c,#06c,#09e,#0ef,#1e5,#2e2,#0e9,#0ce,#08d,#06c,#06d,#09d,#0de,#0e8,#2e2,#1e4,#0ed,#0be,#08d,#07d,#09d,#0ce,#0eb,#1e3,#2e2,#1e7,#0ef,#0be,#09e,#09e,#0be,#0ef,#1e6,#2e2,#1e3,#0ea,#0df,#0be,#0ae,#0be,#0df,#0e9,#1e3,#2e2,#1e6,#0ed,#0de,#0ce,#0ce,#0df,#0eb,#1e5,#2e2,#1e3,#0e8,#0ef,#0de,#0de,#0df,#0ed,#1e7,#2e2,#2e2,#1e4,#0ea,#0ef,#0df,#0df,#0ee,#0e9,#1e4,#2e2,#2e2,#1e6,#0eb,#0ef,#0ef,#0ee,#0ea,#1e5)"></div><div style="top:99.89px;background:linear-gradient(90deg,#118,#02a,#06d,#0ce,#0e9,#1e7,#0df,#08d,#04c,#02b,#03b,#07d,#0ce,#0e9,#1e5,#0ec,#0be,#06d,#04c,#05c,#07d,#0ce,#0ea,#1e5,#0e9,#0de,#09d,#06d,#06c,#08d,#0ce,#0eb,#1e4,#1e6,#0ef,#0be,#08d,#07d,#09d,#0ce,#0eb,#1e5,#1e5,#0eb,#0de,#0ae,#09d,#0ae,#0de,#0ec,#1e5,#1e4,#0e8,#0ef,#0ce,#0ae,#0be,#0de,#0ec,#1e5,#1e3,#1e6,#0ed,#0de,#0be,#0ce,#0de,#0ec,#1e6,#1e3,#1e4,#0ea,#0ef,#0de,#0ce,#0df,#0ec,#1e6,#1e3,#1e3,#0e7,#0ed,#0df,#0df,#0ef,#0ec,#1e7,#1e3,#1e3,#1e6,#0ea,#0ef,#0ef,#0ef,#0ec,#1e7,#1e3,#2e2,#1e4)"></div><div style="top:101.39px;background:linear-gradient(90deg,#118,#02a,#06d,#0ce,#0eb,#0eb,#0ce,#07d,#03b,#02b,#04c,#08d,#0de,#0e9,#0ea,#0de,#08d,#05c,#04c,#06c,#09e,#0ef,#0e8,#0e9,#0df,#09e,#06d,#06c,#07d,#0be,#0ee,#1e7,#0e8,#0ef,#0ae,#08d,#07d,#09d,#0ce,#0ec,#1e6,#0e7,#0ef,#0be,#09e,#09d,#0ae,#0df,#0ea,#1e5,#1e7,#0ed,#0ce,#0ae,#0ae,#0ce,#0ef,#0e9,#1e5,#1e6,#0ec,#0de,#0be,#0be,#0de,#0ee,#0e7,#1e4,#1e6,#0eb,#0df,#0de,#0ce,#0df,#0ec,#1e6,#1e4,#1e5,#0ea,#0ef,#0df,#0df,#0ef,#0ea,#1e6,#1e3,#1e5,#0e9,#0ee,#0ef,#0ef,#0ee,#0e9,#1e5,#1e3,#1e5,#0e8,#0ec,#0ef)"></div><div style="top:102.89px;background:linear-gradient(90deg,#118,#02a,#06d,#0ce,#0ed,#0ef,#0ae,#06c,#03b,#02b,#05c,#09e,#0df,#0eb,#0ef,#0ae,#06d,#04c,#04c,#07d,#0ce,#0ed,#0ea,#0ef,#0ae,#07d,#05c,#07d,#0ae,#0df,#0e9,#0ea,#0df,#0ae,#08d,#07d,#09d,#0ce,#0ed,#0e8,#0ea,#0df,#0ae,#09d,#09d,#0be,#0ef,#0e9,#1e7,#0eb,#0df,#0be,#0ae,#0ae,#0de,#0ed,#1e7,#1e7,#0eb,#0df,#0ce,#0be,#0ce,#0ef,#0e9,#1e6,#1e7,#0ec,#0df,#0ce,#0ce,#0df,#0ec,#1e7,#1e5,#1e7,#0ec,#0ef,#0de,#0df,#0ef,#0e9,#1e5,#1e5,#0e7,#0ec,#0ef,#0df,#0ef,#0ec,#1e7,#1e4,#1e5,#0e8,#0ec,#0ef,#0ef,#0ed,#0e9)"></div><div style="top:104.39px;background:linear-gradient(90deg,#118,#02a,#06d,#0be,#0ef,#0df,#09e,#05c,#02b,#03b,#06c,#0ae,#0ef,#0ee,#0ce,#08d,#05c,#04c,#05c,#09e,#0df,#0ec,#0ef,#0be,#07d,#06c,#06d,#09d,#0de,#0ec,#0eb,#0df,#0ae,#08d,#07d,#08d,#0ce,#0ee,#0ea,#0ed,#0de,#0ae,#08d,#09e,#0be,#0ef,#0e9,#0e9,#0ef,#0ce,#0ae,#0ae,#0be,#0df,#0ea,#0e8,#0ea,#0ef,#0ce,#0be,#0be,#0df,#0ec,#0e7,#0e8,#0ec,#0df,#0ce,#0ce,#0df,#0ed,#0e8,#1e6,#0e9,#0ee,#0df,#0de,#0df,#0ee,#0e9,#1e6,#1e6,#0ea,#0ef,#0df,#0df,#0ee,#0ea,#1e6,#1e5,#1e7,#0eb,#0ef,#0ef,#0ee,#0eb,#1e7,#1e5,#1e5)"></div><div style="top:105.89px;background:linear-gradient(90deg,#118,#02a,#06d,#0be,#0df,#0ce,#08d,#04c,#02a,#03b,#06d,#0be,#0ef,#0df,#0ae,#06d,#04c,#04c,#07d,#0be,#0ef,#0ef,#0ce,#08d,#06c,#06c,#08d,#0be,#0ef,#0ed,#0df,#0ae,#07d,#07d,#08d,#0ce,#0ef,#0eb,#0ef,#0ce,#09e,#08d,#09e,#0ce,#0ef,#0ea,#0ec,#0df,#0be,#09e,#0ae,#0ce,#0ef,#0ea,#0ea,#0ef,#0ce,#0be,#0be,#0de,#0ef,#0e9,#0e8,#0ec,#0df,#0ce,#0ce,#0de,#0ee,#0e9,#0e7,#0ea,#0ef,#0de,#0de,#0df,#0ee,#0e9,#1e7,#0e8,#0ec,#0ef,#0df,#0df,#0ed,#0e9,#1e6,#1e7,#0ea,#0ee,#0ef,#0ef,#0ed,#0e9,#1e6,#1e6,#0e8,#0ec,#0ee)"></div><div style="top:107.40px;background:linear-gradient(90deg,#118,#02a,#06c,#0be,#0de,#0be,#07d,#03b,#02a,#04b,#07d,#0ce,#0df,#0ce,#08d,#05c,#04b,#05c,#09d,#0de,#0ef,#0de,#09e,#06d,#05c,#07d,#0ae,#0df,#0ef,#0df,#0ae,#08d,#07d,#08d,#0be,#0ef,#0ed,#0ef,#0be,#09d,#08d,#09e,#0ce,#0ef,#0ec,#0ef,#0ce,#0ae,#09e,#0ae,#0de,#0ed,#0eb,#0ed,#0de,#0be,#0ae,#0ce,#0df,#0ec,#0ea,#0ec,#0df,#0ce,#0ce,#0de,#0ef,#0eb,#0e9,#0eb,#0ef,#0de,#0de,#0df,#0ee,#0ea,#0e8,#0ea,#0ee,#0df,#0df,#0ef,#0ed,#0e9,#1e7,#0e9,#0ec,#0ef,#0ef,#0ef,#0eb,#0e8,#1e7,#0e8,#0eb,#0ee,#0ef,#0ed,#0ea)"></div><div style="top:108.90px;background:linear-gradient(90deg,#118,#02a,#06c,#0ae,#0ce,#0ae,#06c,#03b,#02a,#04c,#08d,#0ce,#0de,#0ae,#06d,#04c,#04c,#06d,#0ae,#0de,#0de,#0ae,#07d,#05c,#06c,#08d,#0ce,#0ef,#0df,#0ae,#08d,#07d,#08d,#0ae,#0df,#0ef,#0df,#0be,#08d,#08d,#09e,#0ce,#0ef,#0ed,#0df,#0be,#09e,#09e,#0be,#0df,#0ed,#0ec,#0ef,#0ce,#0ae,#0be,#0ce,#0ef,#0eb,#0ec,#0ef,#0ce,#0be,#0ce,#0df,#0ed,#0ea,#0eb,#0ef,#0de,#0ce,#0de,#0ef,#0ea,#0e9,#0eb,#0ef,#0df,#0de,#0ef,#0ec,#0e9,#0e8,#0eb,#0ee,#0ef,#0ef,#0ee,#0ea,#0e8,#0e8,#0ea,#0ed,#0ef,#0ef,#0ec,#0e9,#1e7,#0e7)"></div><div style="top:110.40px;background:linear-gradient(90deg,#118,#02a,#06c,#0ae,#0be,#09d,#05c,#02b,#02b,#05c,#09e,#0ce,#0be,#08d,#05c,#04b,#05c,#08d,#0be,#0de,#0be,#08d,#05c,#05c,#07d,#0ae,#0de,#0df,#0be,#08d,#06d,#07d,#0ae,#0de,#0ef,#0de,#0be,#08d,#08d,#09e,#0ce,#0ef,#0ef,#0de,#0be,#09e,#09e,#0be,#0df,#0ee,#0ef,#0de,#0be,#0ae,#0be,#0df,#0ee,#0ec,#0ef,#0de,#0be,#0be,#0de,#0ef,#0eb,#0ec,#0ef,#0de,#0ce,#0de,#0ef,#0ec,#0ea,#0ec,#0ef,#0de,#0de,#0ef,#0ed,#0ea,#0e9,#0ec,#0ef,#0df,#0ef,#0ed,#0ea,#0e8,#0e9,#0ec,#0ef,#0ef,#0ee,#0eb,#0e8,#0e8,#0ea,#0ec,#0ee)"></div><div style="top:111.90px;background:linear-gradient(90deg,#118,#02a,#06c,#09e,#0ae,#08d,#04c,#02a,#03b,#06c,#09e,#0ce,#0ae,#07d,#04c,#04b,#06c,#09e,#0ce,#0ce,#09e,#06d,#05c,#06d,#09e,#0ce,#0de,#0be,#08d,#06d,#07d,#09e,#0ce,#0df,#0de,#0ae,#08d,#08d,#09e,#0ce,#0df,#0ef,#0ce,#0ae,#09d,#09e,#0ce,#0df,#0ef,#0df,#0ce,#0ae,#0ae,#0ce,#0df,#0ee,#0ef,#0df,#0ce,#0be,#0ce,#0df,#0ed,#0ec,#0ef,#0de,#0ce,#0ce,#0df,#0ed,#0eb,#0ed,#0ef,#0de,#0de,#0df,#0ed,#0ea,#0eb,#0ee,#0ef,#0df,#0ef,#0ed,#0ea,#0e9,#0eb,#0ee,#0ef,#0ef,#0ed,#0ea,#0e8,#0e9,#0ec,#0ee,#0ef,#0ed,#0ea)"></div><div style="top:113.40px;background:linear-gradient(90deg,#118,#02a,#06c,#09e,#0ae,#07d,#03b,#02a,#03b,#06d,#0ae,#0be,#08d,#05c,#04b,#04c,#07d,#0ae,#0ce,#0ae,#07d,#05c,#05c,#07d,#0be,#0de,#0ce,#09d,#07d,#06d,#08d,#0be,#0de,#0de,#0ae,#08d,#08d,#09e,#0be,#0df,#0df,#0ce,#09e,#09d,#09e,#0ce,#0df,#0ef,#0de,#0be,#0ae,#0ae,#0ce,#0ef,#0ef,#0df,#0ce,#0be,#0be,#0de,#0ef,#0ed,#0ef,#0de,#0ce,#0ce,#0de,#0ef,#0ec,#0ed,#0ef,#0de,#0de,#0df,#0ee,#0eb,#0ec,#0ee,#0df,#0df,#0ef,#0ed,#0eb,#0ea,#0ed,#0ef,#0ef,#0ef,#0ed,#0ea,#0e9,#0eb,#0ed,#0ef,#0ee,#0ec,#0e9,#0e8,#0ea)"></div><div style="top:114.91px;background:linear-gradient(90deg,#118,#02a,#06c,#09e,#09e,#06d,#03b,#02a,#03b,#07d,#0ae,#0ae,#07d,#04c,#03b,#05c,#08d,#0be,#0be,#08d,#06c,#05c,#06d,#09e,#0ce,#0ce,#09e,#07d,#06d,#07d,#0ae,#0ce,#0ce,#0ae,#08d,#07d,#08d,#0be,#0de,#0de,#0be,#09e,#08d,#0ae,#0ce,#0df,#0df,#0ce,#0ae,#0ae,#0be,#0de,#0ef,#0ef,#0de,#0be,#0be,#0ce,#0df,#0ef,#0ef,#0df,#0ce,#0ce,#0de,#0ef,#0ed,#0ee,#0ef,#0de,#0de,#0df,#0ef,#0ec,#0ec,#0ef,#0df,#0df,#0df,#0ee,#0eb,#0eb,#0ee,#0ef,#0df,#0ef,#0ec,#0ea,#0ea,#0ec,#0ef,#0ef,#0ee,#0eb,#0e9,#0e9,#0eb,#0ed,#0ee)"></div><div style="top:116.41px;background:linear-gradient(90deg,#118,#02a,#05c,#08d,#08d,#05c,#02b,#02a,#04c,#07d,#0ae,#09e,#06c,#04b,#04b,#06c,#09e,#0be,#09e,#07d,#05c,#05c,#07d,#0ae,#0be,#0ae,#07d,#06d,#07d,#09e,#0ce,#0ce,#0ae,#08d,#07d,#08d,#0be,#0de,#0de,#0be,#09e,#08d,#09e,#0ce,#0df,#0de,#0be,#0ae,#09e,#0be,#0de,#0ef,#0df,#0ce,#0be,#0be,#0ce,#0df,#0ef,#0df,#0de,#0ce,#0ce,#0de,#0ef,#0ee,#0ef,#0de,#0ce,#0de,#0ef,#0ed,#0ed,#0ef,#0df,#0de,#0df,#0ee,#0ec,#0ec,#0ef,#0df,#0df,#0ef,#0ed,#0eb,#0eb,#0ee,#0ef,#0ef,#0ee,#0eb,#0ea,#0eb,#0ed,#0ee,#0ee,#0ec,#0ea)"></div><div style="top:117.91px;background:linear-gradient(90deg,#118,#02a,#05c,#08d,#08d,#05c,#02b,#02a,#04c,#08d,#09e,#08d,#05c,#03b,#04c,#07d,#09e,#0ae,#08d,#05c,#05c,#06d,#09d,#0be,#0ae,#08d,#06d,#06d,#08d,#0be,#0ce,#0ae,#08d,#07d,#08d,#0ae,#0ce,#0ce,#0be,#09d,#08d,#09e,#0ce,#0de,#0de,#0be,#09e,#09e,#0be,#0de,#0df,#0de,#0be,#0ae,#0be,#0de,#0ef,#0ef,#0de,#0ce,#0be,#0ce,#0df,#0ef,#0ef,#0de,#0ce,#0ce,#0df,#0ef,#0ee,#0ef,#0df,#0de,#0df,#0ef,#0ed,#0ed,#0ef,#0df,#0df,#0ef,#0ed,#0ec,#0ec,#0ef,#0ef,#0ef,#0ee,#0eb,#0eb,#0ec,#0ee,#0ef,#0ee,#0ec,#0ea,#0ea,#0ec)"></div><div style="top:119.41px;background:linear-gradient(90deg,#118,#02a,#05c,#08d,#07d,#04c,#02a,#02b,#05c,#08d,#09d,#07d,#04c,#03b,#05c,#08d,#0ae,#09e,#06d,#05c,#05c,#07d,#0ae,#0ae,#09d,#07d,#06c,#07d,#09e,#0be,#0be,#08d,#07d,#07d,#09e,#0ce,#0ce,#0ae,#09d,#08d,#09e,#0be,#0de,#0ce,#0ae,#09e,#09e,#0be,#0de,#0df,#0ce,#0be,#0ae,#0be,#0de,#0df,#0df,#0ce,#0be,#0be,#0de,#0ef,#0ef,#0df,#0ce,#0ce,#0de,#0ef,#0ef,#0ef,#0df,#0de,#0de,#0ef,#0ee,#0ee,#0ef,#0df,#0df,#0ef,#0ee,#0ec,#0ed,#0ef,#0ef,#0ef,#0ee,#0ec,#0eb,#0ed,#0ef,#0ef,#0ee,#0ec,#0ea,#0eb,#0ed,#0ee,#0ed)"></div><div style="top:120.91px;background:linear-gradient(90deg,#118,#02a,#05c,#07d,#07d,#04b,#02a,#02b,#05c,#08d,#08d,#06c,#04b,#03b,#05c,#08d,#09e,#08d,#05c,#04c,#06c,#08d,#0ae,#09e,#07d,#06c,#06d,#08d,#0be,#0be,#09e,#07d,#07d,#09d,#0be,#0ce,#0ae,#09d,#08d,#09e,#0be,#0ce,#0ce,#0ae,#09e,#09e,#0be,#0de,#0de,#0ce,#0ae,#0ae,#0be,#0de,#0df,#0de,#0be,#0be,#0ce,#0de,#0ef,#0df,#0de,#0ce,#0ce,#0df,#0ef,#0ef,#0df,#0de,#0de,#0df,#0ef,#0ee,#0ef,#0df,#0df,#0df,#0ef,#0ed,#0ee,#0ef,#0df,#0ef,#0ee,#0ec,#0ec,#0ee,#0ef,#0ef,#0ee,#0ec,#0eb,#0ec,#0ee,#0ee,#0ed,#0eb,#0ea)"></div><div style="top:122.42px;background:linear-gradient(90deg,#118,#02a,#05c,#07d,#06c,#03b,#02a,#03b,#06c,#08d,#07d,#05c,#03b,#04c,#06d,#08d,#08d,#06d,#05c,#05c,#07d,#09e,#0ae,#08d,#06d,#06c,#07d,#0ae,#0be,#09e,#07d,#07d,#08d,#0ae,#0be,#0ae,#09d,#08d,#09d,#0be,#0ce,#0be,#0ae,#09e,#09e,#0be,#0de,#0ce,#0be,#0ae,#0ae,#0ce,#0de,#0de,#0ce,#0be,#0be,#0ce,#0df,#0df,#0de,#0ce,#0ce,#0de,#0df,#0ef,#0df,#0de,#0ce,#0de,#0ef,#0ef,#0ef,#0df,#0de,#0df,#0ef,#0ee,#0ee,#0ef,#0df,#0df,#0ef,#0ed,#0ed,#0ef,#0ef,#0ef,#0ee,#0ec,#0ec,#0ed,#0ef,#0ef,#0ed,#0eb,#0eb,#0ec,#0ed)"></div><div style="top:123.92px;background:linear-gradient(90deg,#118,#02a,#05c,#07d,#05c,#03b,#02a,#03b,#06c,#08d,#07d,#04c,#03b,#04c,#07d,#08d,#08d,#05c,#04c,#05c,#08d,#09e,#08d,#07d,#05c,#06d,#08d,#0ae,#09e,#08d,#07d,#07d,#09e,#0be,#0ae,#09d,#08d,#08d,#0ae,#0ce,#0be,#0ae,#09d,#09e,#0be,#0ce,#0ce,#0be,#0ae,#0ae,#0ce,#0de,#0de,#0ce,#0be,#0be,#0ce,#0df,#0df,#0ce,#0be,#0ce,#0de,#0df,#0df,#0de,#0ce,#0de,#0df,#0ef,#0ef,#0df,#0de,#0de,#0df,#0ef,#0ef,#0ef,#0df,#0df,#0ef,#0ee,#0ee,#0ef,#0ef,#0ef,#0ef,#0ed,#0ed,#0ee,#0ef,#0ef,#0ed,#0ec,#0ec,#0ed,#0ee,#0ee,#0ec)"></div><div style="top:125.42px;background:linear-gradient(90deg,#118,#02a,#05c,#07d,#05c,#02b,#02a,#03b,#06d,#07d,#06c,#04b,#03b,#05c,#07d,#08d,#07d,#05c,#04c,#06d,#08d,#09e,#07d,#06c,#06c,#07d,#09e,#0ae,#08d,#07d,#07d,#08d,#0ae,#0ae,#09e,#08d,#08d,#0ae,#0be,#0be,#09e,#08d,#09e,#0be,#0ce,#0ce,#0ae,#09e,#0ae,#0ce,#0de,#0ce,#0be,#0ae,#0be,#0ce,#0de,#0de,#0ce,#0be,#0ce,#0de,#0df,#0de,#0ce,#0ce,#0de,#0df,#0ef,#0df,#0de,#0de,#0df,#0ef,#0ef,#0ef,#0df,#0df,#0ef,#0ef,#0ee,#0ef,#0ef,#0ef,#0ef,#0ed,#0ed,#0ee,#0ef,#0ef,#0ee,#0ec,#0ec,#0ed,#0ee,#0ee,#0ed,#0eb,#0eb)"></div><div style="top:126.92px;background:linear-gradient(90deg,#118,#02a,#05c,#06d,#05c,#02b,#02a,#04c,#06d,#07d,#05c,#03b,#03b,#05c,#08d,#08d,#06c,#04c,#05c,#07d,#09d,#08d,#06d,#05c,#06d,#08d,#09e,#08d,#07d,#06d,#08d,#0ae,#0ae,#09e,#08d,#08d,#09e,#0be,#0be,#09e,#08d,#09d,#0ae,#0ce,#0be,#0ae,#09e,#0ae,#0ce,#0ce,#0ce,#0be,#0ae,#0be,#0de,#0de,#0ce,#0be,#0be,#0ce,#0de,#0df,#0de,#0ce,#0ce,#0de,#0df,#0df,#0de,#0de,#0de,#0df,#0ef,#0ef,#0df,#0de,#0df,#0ef,#0ef,#0ef,#0df,#0df,#0ef,#0ee,#0ee,#0ef,#0ef,#0ef,#0ee,#0ed,#0ed,#0ee,#0ef,#0ee,#0ed,#0ec,#0ec,#0ed,#0ee)"></div><div style="top:128.42px;background:linear-gradient(90deg,#118,#02a,#05c,#06c,#04c,#02a,#02a,#04c,#06d,#06d,#04c,#03b,#04b,#06d,#08d,#07d,#05c,#04c,#05c,#08d,#08d,#07d,#05c,#05c,#07d,#09e,#09e,#07d,#06d,#07d,#09e,#0ae,#09e,#08d,#07d,#08d,#0ae,#0be,#09e,#08d,#08d,#0ae,#0be,#0be,#0ae,#09e,#0ae,#0be,#0ce,#0be,#0ae,#0ae,#0be,#0ce,#0de,#0ce,#0be,#0be,#0ce,#0de,#0de,#0ce,#0ce,#0ce,#0df,#0df,#0de,#0de,#0de,#0de,#0ef,#0ef,#0df,#0de,#0df,#0ef,#0ef,#0ef,#0df,#0df,#0ef,#0ef,#0ee,#0ef,#0ef,#0ef,#0ef,#0ed,#0ed,#0ef,#0ef,#0ef,#0ed,#0ec,#0ed,#0ee,#0ee,#0ed,#0ec)"></div><div style="top:129.93px;background:linear-gradient(90deg,#118,#02a,#05c,#06c,#04c,#02a,#02a,#04c,#06d,#06c,#04c,#03b,#04c,#06d,#07d,#06c,#04c,#04c,#06d,#08d,#08d,#06d,#05c,#06d,#08d,#09e,#08d,#06d,#06d,#08d,#09e,#09e,#08d,#07d,#08d,#0ae,#0ae,#09e,#08d,#08d,#09e,#0be,#0be,#0ae,#09e,#0ae,#0be,#0ce,#0be,#0ae,#0ae,#0be,#0ce,#0ce,#0be,#0be,#0be,#0ce,#0de,#0de,#0ce,#0ce,#0ce,#0df,#0df,#0de,#0ce,#0de,#0df,#0df,#0df,#0de,#0de,#0df,#0ef,#0ef,#0df,#0df,#0df,#0ef,#0ef,#0ef,#0ef,#0ef,#0ef,#0ee,#0ee,#0ef,#0ef,#0ef,#0ee,#0ed,#0ed,#0ee,#0ee,#0ed,#0ec,#0ec,#0ed)"></div><div style="top:131.43px;background:linear-gradient(90deg,#118,#02a,#05c,#05c,#03b,#02a,#02b,#05c,#06d,#05c,#03b,#03b,#05c,#07d,#07d,#05c,#04c,#05c,#07d,#08d,#07d,#05c,#05c,#07d,#08d,#08d,#07d,#06d,#07d,#09e,#09e,#08d,#07d,#07d,#09e,#0ae,#09e,#08d,#08d,#09e,#0be,#0be,#0ae,#09e,#09e,#0be,#0ce,#0be,#0ae,#0ae,#0be,#0ce,#0ce,#0be,#0be,#0be,#0ce,#0de,#0ce,#0be,#0ce,#0de,#0de,#0de,#0ce,#0ce,#0de,#0df,#0df,#0de,#0de,#0de,#0df,#0ef,#0df,#0df,#0df,#0df,#0ef,#0ef,#0ef,#0df,#0ef,#0ef,#0ee,#0ef,#0ef,#0ef,#0ee,#0ed,#0ee,#0ef,#0ef,#0ee,#0ed,#0ed,#0ed,#0ee,#0ed)"></div><div style="top:132.93px;background:linear-gradient(90deg,#118,#02a,#05c,#05c,#03b,#02a,#02b,#05c,#06d,#05c,#03b,#03b,#05c,#07d,#06d,#05c,#04c,#05c,#07d,#07d,#06c,#05c,#06c,#08d,#08d,#07d,#06d,#06d,#08d,#09e,#08d,#07d,#07d,#08d,#0ae,#09e,#08d,#08d,#09d,#0ae,#0ae,#09e,#09d,#09e,#0ae,#0be,#0be,#0ae,#0ae,#0be,#0ce,#0ce,#0be,#0ae,#0be,#0ce,#0ce,#0ce,#0be,#0ce,#0de,#0de,#0de,#0ce,#0ce,#0de,#0df,#0de,#0de,#0de,#0de,#0df,#0df,#0df,#0de,#0df,#0ef,#0ef,#0df,#0df,#0df,#0ef,#0ef,#0ef,#0ef,#0ef,#0ef,#0ee,#0ee,#0ef,#0ef,#0ee,#0ed,#0ed,#0ee,#0ee,#0ee,#0ed,#0ec)"></div><div style="top:134.43px;background:linear-gradient(90deg,#118,#02a,#04c,#05c,#03b,#02a,#02b,#05c,#06c,#04c,#03b,#03b,#05c,#07d,#06c,#04c,#04c,#06c,#07d,#07d,#05c,#05c,#07d,#08d,#08d,#06d,#06c,#07d,#09d,#09d,#08d,#07d,#08d,#09e,#09e,#09d,#08d,#08d,#0ae,#0ae,#09e,#09d,#09e,#0ae,#0be,#0ae,#09e,#0ae,#0be,#0ce,#0be,#0ae,#0ae,#0be,#0ce,#0ce,#0be,#0be,#0ce,#0de,#0de,#0ce,#0ce,#0ce,#0de,#0de,#0de,#0ce,#0de,#0df,#0df,#0df,#0de,#0de,#0df,#0ef,#0df,#0df,#0df,#0ef,#0ef,#0ef,#0ef,#0ef,#0ef,#0ef,#0ef,#0ef,#0ef,#0ef,#0ee,#0ee,#0ee,#0ef,#0ee,#0ed,#0ed,#0ed,#0ee)"></div><div style="top:135.93px;background:linear-gradient(90deg,#118,#02a,#04c,#05c,#03b,#029,#03b,#05c,#06c,#04c,#03b,#04b,#06c,#06d,#05c,#04c,#05c,#06d,#07d,#06d,#05c,#05c,#07d,#08d,#07d,#06c,#06d,#08d,#09d,#08d,#07d,#07d,#08d,#09e,#09d,#08d,#08d,#09e,#0ae,#09e,#09d,#09d,#0ae,#0be,#0ae,#09e,#09e,#0ae,#0be,#0be,#0ae,#0ae,#0be,#0ce,#0ce,#0be,#0be,#0ce,#0ce,#0ce,#0ce,#0ce,#0ce,#0de,#0de,#0de,#0ce,#0de,#0df,#0df,#0de,#0de,#0de,#0df,#0df,#0df,#0df,#0df,#0ef,#0ef,#0ef,#0df,#0ef,#0ef,#0ef,#0ef,#0ef,#0ef,#0ef,#0ee,#0ee,#0ef,#0ef,#0ee,#0ed,#0ed,#0ee,#0ee,#0ed)"></div><div style="top:137.44px;background:linear-gradient(90deg,#118,#02a,#04c,#04c,#02b,#029,#03b,#05c,#05c,#03b,#03b,#04c,#06c,#06c,#04c,#04c,#05c,#07d,#07d,#05c,#05c,#06c,#08d,#07d,#06d,#06c,#07d,#08d,#08d,#07d,#07d,#08d,#09e,#09e,#08d,#08d,#09d,#0ae,#09e,#09d,#08d,#09e,#0ae,#0ae,#09e,#09e,#0ae,#0be,#0be,#0ae,#0ae,#0be,#0ce,#0ce,#0be,#0be,#0ce,#0ce,#0ce,#0ce,#0ce,#0ce,#0de,#0de,#0ce,#0ce,#0de,#0df,#0de,#0de,#0de,#0df,#0df,#0df,#0de,#0df,#0df,#0ef,#0ef,#0df,#0df,#0ef,#0ef,#0ef,#0ef,#0ef,#0ef,#0ef,#0ef,#0ef,#0ef,#0ee,#0ee,#0ee,#0ee,#0ee,#0ed,#0ed,#0ed)"></div><div style="top:138.94px;background:linear-gradient(90deg,#118,#02a,#04c,#04c,#02b,#02a,#03b,#05c,#05c,#03b,#03b,#04c,#06d,#05c,#04c,#04c,#06c,#07d,#06d,#05c,#05c,#07d,#08d,#07d,#06c,#06d,#08d,#08d,#07d,#07d,#07d,#08d,#09e,#08d,#07d,#08d,#09e,#09e,#09d,#08d,#09e,#0ae,#0ae,#09e,#09e,#0ae,#0be,#0be,#0ae,#0ae,#0be,#0be,#0be,#0be,#0be,#0be,#0ce,#0ce,#0be,#0be,#0ce,#0de,#0ce,#0ce,#0ce,#0de,#0de,#0de,#0de,#0de,#0df,#0df,#0df,#0de,#0df,#0df,#0df,#0df,#0df,#0df,#0ef,#0ef,#0ef,#0ef,#0ef,#0ef,#0ef,#0ef,#0ef,#0ef,#0ee,#0ee,#0ef,#0ef,#0ee,#0ed,#0ed,#0ee,#0ee)"></div><div style="top:140.44px;background:linear-gradient(90deg,#118,#02a,#04c,#04c,#02a,#02a,#03b,#05c,#04c,#03b,#03b,#05c,#06c,#05c,#04b,#04c,#06c,#07d,#05c,#05c,#05c,#07d,#07d,#06d,#06c,#07d,#08d,#08d,#07d,#07d,#08d,#09d,#08d,#07d,#08d,#09d,#09e,#09d,#08d,#08d,#0ae,#0ae,#09e,#09e,#09e,#0ae,#0be,#0ae,#0ae,#0ae,#0be,#0be,#0ae,#0ae,#0be,#0ce,#0ce,#0be,#0be,#0ce,#0ce,#0ce,#0ce,#0ce,#0de,#0de,#0de,#0ce,#0de,#0df,#0df,#0de,#0de,#0df,#0df,#0df,#0df,#0df,#0df,#0ef,#0ef,#0df,#0ef,#0ef,#0ef,#0ef,#0ef,#0ef,#0ef,#0ef,#0ef,#0ef,#0ee,#0ee,#0ee,#0ee,#0ee,#0ed,#0ed)"></div><div style="top:141.94px;background:linear-gradient(90deg,#118,#02a,#04c,#04b,#02a,#02a,#03b,#05c,#04c,#03b,#03b,#05c,#06c,#04c,#04b,#05c,#06d,#06d,#05c,#05c,#06c,#07d,#07d,#06c,#06c,#07d,#08d,#07d,#06d,#07d,#08d,#08d,#08d,#07d,#08d,#09e,#09e,#08d,#08d,#09e,#0ae,#09e,#09d,#09e,#0ae,#0ae,#0ae,#09e,#0ae,#0be,#0be,#0ae,#0ae,#0be,#0ce,#0be,#0be,#0be,#0ce,#0ce,#0ce,#0ce,#0ce,#0de,#0de,#0ce,#0ce,#0de,#0de,#0de,#0de,#0de,#0df,#0df,#0df,#0de,#0df,#0df,#0df,#0df,#0df,#0ef,#0ef,#0ef,#0ef,#0ef,#0ef,#0ef,#0ef,#0ef,#0ef,#0ee,#0ee,#0ee,#0ee,#0ee,#0ed,#0ed,#0ee)"></div><div style="top:143.44px;background:linear-gradient(90deg,#118,#02a,#04c,#03b,#02a,#02a,#04b,#05c,#04b,#02b,#03b,#05c,#05c,#04c,#04b,#05c,#06d,#06c,#05c,#05c,#06d,#07d,#06c,#05c,#06d,#08d,#07d,#06d,#06d,#08d,#08d,#08d,#07d,#08d,#09d,#09e,#08d,#08d,#09d,#09e,#09e,#09d,#09e,#0ae,#0ae,#0ae,#09e,#0ae,#0be,#0be,#0ae,#0ae,#0be,#0be,#0be,#0be,#0be,#0ce,#0ce,#0ce,#0be,#0ce,#0de,#0ce,#0ce,#0ce,#0de,#0de,#0de,#0de,#0de,#0df,#0df,#0de,#0de,#0df,#0df,#0df,#0df,#0df,#0ef,#0ef,#0ef,#0ef,#0ef,#0ef,#0ef,#0ef,#0ef,#0ef,#0ee,#0ef,#0ef,#0ee,#0ee,#0ee,#0ee,#0ee,#0ed)"></div><div style="top:144.95px;background:linear-gradient(90deg,#118,#02a,#04c,#03b,#02a,#02a,#04c,#05c,#03b,#02b,#04b,#05c,#05c,#04b,#04c,#05c,#06d,#05c,#04c,#05c,#07d,#07d,#05c,#05c,#07d,#07d,#07d,#06d,#07d,#08d,#08d,#07d,#07d,#08d,#09d,#08d,#08d,#08d,#09e,#09e,#09d,#09d,#09e,#0ae,#0ae,#09e,#0ae,#0ae,#0be,#0ae,#0ae,#0be,#0be,#0be,#0be,#0be,#0ce,#0ce,#0be,#0be,#0ce,#0ce,#0ce,#0ce,#0ce,#0de,#0de,#0de,#0de,#0de,#0de,#0de,#0de,#0de,#0df,#0df,#0df,#0df,#0df,#0ef,#0df,#0df,#0df,#0ef,#0ef,#0ef,#0ef,#0ef,#0ef,#0ef,#0ef,#0ef,#0ee,#0ee,#0ee,#0ee,#0ee,#0ed,#0ed)"></div></div><div class="hm" style="left:588px;top:36.5px;width:147px;height:147.2px;--r:3.004px"><div style="top:0;height:2.25px;-webkit-mask-image:none;mask-image:none;background:linear-gradient(90deg,#118,#02a,#04c,#03b,#02a,#02a,#03b,#04c,#04c,#04b,#04b,#04c,#04c,#05c,#05c,#04c,#04c,#05c,#07d,#06c,#05c,#05c,#07d,#07d,#06d,#06c,#07d,#07d,#08d,#07d,#07d,#07d,#08d,#08d,#08d,#08d,#08d,#08d,#09e,#09e,#09d,#09d,#09e,#0ae,#0ae,#09e,#0ae,#0ae,#0be,#0be,#0ae,#0ae,#0be,#0be,#0be,#0be,#0be,#0be,#0ce,#0ce,#0ce,#0ce,#0ce,#0de,#0de,#0ce,#0ce,#0de,#0de,#0de,#0de,#0de,#0de,#0df,#0df,#0df,#0df,#0df,#0df,#0ef,#0df,#0df,#0df,#0ef,#0ef,#0ef,#0ef,#0ef,#0ef,#0ef,#0ef,#0ef,#0ef,#0ee,#0ee,#0ee,#0ee,#0ee,#0ed)"></div><div style="top:0.75px;background:linear-gradient(90deg,#118,#02a,#04c,#04b,#02a,#02a,#03b,#04c,#04c,#04b,#04b,#04c,#04c,#05c,#05c,#05c,#04c,#05c,#07d,#06d,#05c,#05c,#06d,#07d,#07d,#06d,#06d,#07d,#08d,#08d,#07d,#07d,#08d,#08d,#09d,#09d,#08d,#08d,#09e,#0ae,#09e,#09d,#09e,#0ae,#0ae,#0ae,#09e,#0ae,#0ae,#0be,#0be,#0be,#0be,#0be,#0be,#0ce,#0be,#0be,#0be,#0ce,#0ce,#0ce,#0ce,#0ce,#0de,#0de,#0de,#0de,#0de,#0de,#0de,#0de,#0de,#0de,#0df,#0df,#0df,#0df,#0df,#0df,#0ef,#0ef,#0ef,#0ef,#0ef,#0ef,#0ef,#0ef,#0ef,#0ef,#0ef,#0ee,#0ee,#0ee,#0ee,#0ee,#0ed,#0ed,#0ed)"></div><div style="top:2.25px;background:linear-gradient(90deg,#118,#02a,#04c,#04c,#02b,#02a,#03b,#04c,#04c,#04c,#04c,#04c,#04c,#05c,#06c,#05c,#04c,#05c,#06d,#07d,#06c,#05c,#06c,#07d,#07d,#07d,#06d,#07d,#08d,#08d,#08d,#08d,#08d,#08d,#08d,#09e,#09d,#08d,#08d,#09e,#0ae,#09e,#09d,#09e,#0ae,#0ae,#0ae,#0ae,#0ae,#0be,#0be,#0be,#0be,#0be,#0be,#0be,#0ce,#0ce,#0be,#0be,#0ce,#0de,#0ce,#0ce,#0ce,#0de,#0de,#0de,#0de,#0de,#0de,#0df,#0df,#0df,#0df,#0df,#0df,#0df,#0df,#0df,#0df,#0ef,#0ef,#0ef,#0ef,#0ef,#0ef,#0ef,#0ef,#0ef,#0ef,#0ef,#0ee,#0ee,#0ee,#0ee,#0ee,#0ed,#0ed)"></div><div style="top:3.76px;background:linear-gradient(90deg,#118,#02a,#04c,#04c,#02b,#02a,#03b,#04c,#04c,#04c,#04c,#04c,#04c,#05c,#06c,#05c,#04c,#04c,#06c,#07d,#06d,#05c,#05c,#07d,#08d,#07d,#06d,#07d,#07d,#08d,#08d,#08d,#08d,#08d,#08d,#09e,#09e,#09d,#08d,#09d,#0ae,#0ae,#09e,#09e,#09e,#0ae,#0be,#0ae,#0ae,#0ae,#0be,#0be,#0be,#0be,#0be,#0be,#0ce,#0ce,#0ce,#0ce,#0ce,#0ce,#0de,#0de,#0ce,#0ce,#0de,#0de,#0de,#0de,#0de,#0de,#0df,#0df,#0df,#0df,#0df,#0df,#0ef,#0ef,#0ef,#0df,#0ef,#0ef,#0ef,#0ef,#0ef,#0ef,#0ef,#0ef,#0ee,#0ef,#0ef,#0ee,#0ee,#0ed,#0ed,#0ee,#0ee)"></div><div style="top:5.26px;background:linear-gradient(90deg,#118,#02a,#04c,#04c,#03b,#02a,#03b,#04c,#05c,#04c,#04c,#04c,#04c,#05c,#06c,#06c,#05c,#04c,#05c,#07d,#07d,#06c,#05c,#06d,#08d,#08d,#07d,#07d,#07d,#08d,#08d,#08d,#08d,#08d,#08d,#08d,#09e,#09e,#08d,#08d,#09e,#0ae,#0ae,#09e,#09e,#0ae,#0be,#0be,#0ae,#0ae,#0ae,#0be,#0be,#0ce,#0be,#0be,#0be,#0ce,#0ce,#0ce,#0ce,#0ce,#0ce,#0de,#0de,#0de,#0ce,#0de,#0de,#0df,#0de,#0de,#0de,#0df,#0df,#0df,#0df,#0df,#0df,#0df,#0ef,#0ef,#0ef,#0ef,#0ef,#0ef,#0ef,#0ef,#0ef,#0ef,#0ef,#0ee,#0ee,#0ee,#0ee,#0ee,#0ed,#0ed,#0ed)"></div><div style="top:6.76px;background:linear-gradient(90deg,#118,#02a,#04c,#04c,#03b,#02a,#03b,#04c,#05c,#04c,#04c,#04c,#04c,#05c,#06c,#06d,#05c,#04c,#05c,#07d,#08d,#07d,#05c,#06c,#07d,#08d,#08d,#07d,#07d,#07d,#08d,#08d,#08d,#08d,#08d,#08d,#09e,#0ae,#09e,#08d,#08d,#09e,#0ae,#0ae,#09e,#09e,#0ae,#0be,#0be,#0be,#0be,#0be,#0be,#0be,#0ce,#0ce,#0be,#0be,#0ce,#0de,#0de,#0ce,#0ce,#0ce,#0de,#0de,#0de,#0de,#0de,#0de,#0df,#0df,#0df,#0df,#0df,#0df,#0df,#0ef,#0df,#0df,#0df,#0ef,#0ef,#0ef,#0ef,#0ef,#0ef,#0ef,#0ee,#0ef,#0ef,#0ef,#0ee,#0ee,#0ed,#0ee,#0ee,#0ee,#0ed)"></div><div style="top:8.26px;background:linear-gradient(90deg,#118,#02a,#04c,#05c,#03b,#02a,#03b,#04c,#05c,#05c,#04c,#04c,#04c,#04c,#06c,#06d,#06c,#05c,#05c,#06d,#08d,#07d,#06c,#05c,#07d,#08d,#08d,#07d,#07d,#07d,#08d,#08d,#09d,#09d,#08d,#08d,#08d,#09e,#0ae,#09e,#08d,#09d,#0ae,#0be,#0be,#0ae,#09e,#0ae,#0be,#0be,#0be,#0be,#0be,#0be,#0be,#0ce,#0ce,#0ce,#0be,#0ce,#0de,#0de,#0de,#0ce,#0ce,#0de,#0de,#0de,#0de,#0de,#0de,#0df,#0df,#0df,#0df,#0df,#0df,#0df,#0ef,#0ef,#0df,#0df,#0ef,#0ef,#0ef,#0ef,#0ef,#0ef,#0ef,#0ee,#0ee,#0ee,#0ee,#0ee,#0ee,#0ed,#0ed,#0ed,#0ed)"></div><div style="top:9.76px;background:linear-gradient(90deg,#118,#02a,#04c,#05c,#03b,#02a,#03b,#04c,#05c,#05c,#05c,#04c,#04c,#04c,#05c,#07d,#06d,#05c,#04c,#05c,#07d,#08d,#07d,#06c,#06c,#07d,#08d,#08d,#07d,#07d,#08d,#08d,#08d,#09e,#09e,#08d,#08d,#09d,#0ae,#0ae,#09e,#09d,#09e,#0ae,#0be,#0be,#0ae,#0ae,#0ae,#0be,#0be,#0be,#0be,#0be,#0be,#0ce,#0ce,#0ce,#0ce,#0be,#0ce,#0de,#0de,#0de,#0ce,#0ce,#0de,#0df,#0df,#0de,#0de,#0de,#0df,#0df,#0df,#0df,#0df,#0df,#0df,#0ef,#0ef,#0ef,#0ef,#0ef,#0ef,#0ef,#0ee,#0ef,#0ef,#0ef,#0ee,#0ee,#0ed,#0ee,#0ee,#0ee,#0ee,#0ed,#0ec)"></div><div style="top:11.27px;background:linear-gradient(90deg,#118,#02a,#04c,#05c,#04b,#02b,#03b,#04c,#05c,#05c,#05c,#05c,#04c,#04c,#05c,#07d,#07d,#06c,#05c,#05c,#07d,#08d,#08d,#06d,#06c,#07d,#08d,#08d,#08d,#07d,#07d,#08d,#08d,#09e,#09e,#09e,#08d,#08d,#09e,#0ae,#0be,#09e,#09d,#09e,#0ae,#0be,#0be,#0ae,#0ae,#0ae,#0be,#0ce,#0ce,#0ce,#0be,#0be,#0be,#0ce,#0de,#0ce,#0ce,#0ce,#0ce,#0de,#0df,#0de,#0ce,#0de,#0de,#0df,#0df,#0df,#0df,#0df,#0df,#0df,#0ef,#0ef,#0df,#0df,#0ef,#0ef,#0ef,#0ef,#0ef,#0ef,#0ef,#0ee,#0ee,#0ee,#0ef,#0ef,#0ee,#0ed,#0ed,#0ed,#0ed,#0ee,#0ed)"></div><div style="top:12.77px;background:linear-gradient(90deg,#118,#02a,#05c,#05c,#04c,#02b,#02b,#04c,#05c,#05c,#05c,#05c,#05c,#04c,#05c,#06d,#07d,#07d,#05c,#05c,#06d,#08d,#08d,#07d,#06c,#06d,#08d,#08d,#08d,#08d,#08d,#08d,#08d,#09d,#09e,#0ae,#09e,#08d,#08d,#09e,#0be,#0be,#0ae,#09e,#09e,#0be,#0be,#0be,#0ae,#0ae,#0be,#0be,#0ce,#0ce,#0ce,#0be,#0be,#0be,#0ce,#0de,#0de,#0ce,#0ce,#0ce,#0de,#0df,#0de,#0de,#0de,#0de,#0df,#0df,#0df,#0df,#0df,#0df,#0df,#0ef,#0ef,#0ef,#0df,#0df,#0ef,#0ef,#0ee,#0ef,#0ef,#0ef,#0ef,#0ee,#0ed,#0ee,#0ee,#0ee,#0ee,#0ed,#0ec,#0ec,#0ed)"></div><div style="top:14.27px;background:linear-gradient(90deg,#118,#02a,#05c,#06c,#04c,#03b,#02b,#04c,#05c,#05c,#05c,#05c,#05c,#04c,#05c,#06c,#07d,#07d,#06c,#05c,#05c,#07d,#09d,#08d,#06d,#06c,#07d,#08d,#09d,#08d,#08d,#08d,#08d,#08d,#09e,#0ae,#0ae,#09e,#08d,#08d,#0ae,#0be,#0be,#0ae,#09e,#0ae,#0be,#0ce,#0be,#0be,#0be,#0be,#0be,#0ce,#0ce,#0ce,#0ce,#0be,#0be,#0ce,#0de,#0de,#0de,#0ce,#0ce,#0de,#0df,#0df,#0de,#0de,#0de,#0df,#0df,#0ef,#0ef,#0df,#0df,#0df,#0ef,#0ef,#0ef,#0ef,#0ef,#0ef,#0ef,#0ee,#0ee,#0ef,#0ef,#0ef,#0ee,#0ed,#0ed,#0ed,#0ed,#0ee,#0ee,#0ed,#0ec)"></div><div style="top:15.77px;background:linear-gradient(90deg,#118,#02a,#05c,#06d,#05c,#03b,#02b,#04b,#05c,#05c,#06c,#05c,#05c,#05c,#04c,#06c,#07d,#08d,#07d,#05c,#05c,#07d,#09d,#09e,#07d,#06d,#06d,#08d,#09d,#09e,#09d,#08d,#08d,#08d,#08d,#09e,#0ae,#0ae,#09e,#08d,#09d,#0ae,#0ce,#0be,#0ae,#09e,#0ae,#0be,#0ce,#0ce,#0be,#0be,#0be,#0be,#0ce,#0ce,#0de,#0ce,#0ce,#0be,#0ce,#0de,#0df,#0de,#0ce,#0ce,#0de,#0df,#0df,#0df,#0df,#0de,#0df,#0df,#0ef,#0ef,#0ef,#0ef,#0df,#0df,#0ef,#0ee,#0ee,#0ef,#0ef,#0ef,#0ef,#0ed,#0ed,#0ee,#0ef,#0ef,#0ee,#0ed,#0ec,#0ec,#0ed,#0ed,#0ed)"></div><div style="top:17.27px;background:linear-gradient(90deg,#118,#02a,#05c,#06d,#05c,#03b,#02b,#03b,#05c,#06c,#06c,#06c,#05c,#05c,#04c,#05c,#07d,#08d,#08d,#06c,#05c,#06c,#08d,#09e,#09d,#07d,#06d,#07d,#08d,#09e,#09e,#09e,#09d,#08d,#08d,#09d,#0ae,#0be,#0ae,#09e,#08d,#09e,#0be,#0ce,#0ce,#0ae,#09e,#0ae,#0be,#0ce,#0ce,#0ce,#0be,#0be,#0be,#0ce,#0ce,#0de,#0de,#0ce,#0ce,#0ce,#0de,#0df,#0df,#0de,#0ce,#0de,#0df,#0df,#0ef,#0df,#0df,#0df,#0df,#0df,#0ef,#0ef,#0ef,#0ef,#0df,#0df,#0ef,#0ee,#0ed,#0ef,#0ef,#0ef,#0ee,#0ed,#0ed,#0ed,#0ee,#0ee,#0ee,#0ed,#0ec,#0ec,#0ec)"></div><div style="top:18.78px;background:linear-gradient(90deg,#118,#02a,#05c,#07d,#05c,#03b,#03b,#03b,#05c,#06c,#06c,#06d,#06c,#05c,#04c,#05c,#06d,#08d,#08d,#07d,#05c,#05c,#07d,#09e,#09e,#08d,#07d,#07d,#08d,#09d,#09e,#09e,#09e,#09d,#08d,#08d,#09e,#0ae,#0be,#0be,#09e,#08d,#09e,#0be,#0ce,#0ce,#0be,#0ae,#0ae,#0be,#0ce,#0ce,#0ce,#0ce,#0be,#0be,#0ce,#0ce,#0de,#0df,#0de,#0ce,#0ce,#0de,#0df,#0ef,#0df,#0de,#0de,#0de,#0df,#0ef,#0ef,#0ef,#0df,#0df,#0df,#0ef,#0ef,#0ee,#0ef,#0ef,#0df,#0ef,#0ef,#0ed,#0ed,#0ee,#0ef,#0ef,#0ee,#0ed,#0ec,#0ec,#0ed,#0ed,#0ed,#0ed,#0ec)"></div><div style="top:20.28px;background:linear-gradient(90deg,#118,#02a,#05c,#07d,#06c,#04c,#03b,#03b,#05c,#06c,#06d,#06d,#06d,#06c,#05c,#05c,#06c,#08d,#09e,#08d,#06c,#05c,#06c,#08d,#0ae,#09e,#08d,#07d,#07d,#08d,#09e,#09e,#0ae,#09e,#09e,#08d,#08d,#09e,#0be,#0ce,#0be,#09e,#09d,#09e,#0be,#0ce,#0ce,#0be,#0ae,#0ae,#0be,#0ce,#0ce,#0de,#0ce,#0ce,#0be,#0be,#0ce,#0de,#0df,#0df,#0ce,#0ce,#0ce,#0df,#0ef,#0ef,#0df,#0de,#0de,#0df,#0ef,#0ef,#0ef,#0ef,#0ef,#0df,#0df,#0ef,#0ee,#0ed,#0ee,#0ef,#0ef,#0ef,#0ee,#0ec,#0ec,#0ed,#0ef,#0ef,#0ee,#0ed,#0ec,#0ec,#0ec,#0ec,#0ed)"></div><div style="top:21.78px;background:linear-gradient(90deg,#118,#02a,#05c,#07d,#06d,#04c,#03b,#03b,#05c,#06c,#06d,#07d,#07d,#06d,#05c,#05c,#05c,#07d,#09e,#09e,#07d,#05c,#05c,#07d,#09e,#0ae,#09e,#08d,#07d,#08d,#08d,#09e,#0ae,#0ae,#0ae,#09e,#08d,#08d,#09e,#0be,#0ce,#0be,#0ae,#09d,#09e,#0be,#0de,#0de,#0ce,#0be,#0be,#0be,#0ce,#0ce,#0de,#0de,#0de,#0ce,#0be,#0ce,#0de,#0ef,#0ef,#0de,#0ce,#0ce,#0de,#0ef,#0ef,#0ef,#0df,#0de,#0df,#0df,#0ef,#0ef,#0ef,#0ef,#0ef,#0df,#0df,#0ef,#0ee,#0ec,#0ed,#0ef,#0ef,#0ef,#0ee,#0ec,#0ec,#0ec,#0ee,#0ee,#0ee,#0ed,#0ec,#0eb,#0eb)"></div><div style="top:23.28px;background:linear-gradient(90deg,#118,#02a,#05c,#07d,#07d,#05c,#03b,#03b,#04c,#06c,#06d,#07d,#07d,#07d,#06c,#05c,#05c,#07d,#09e,#0ae,#08d,#06d,#05c,#06d,#08d,#0ae,#0ae,#09d,#08d,#07d,#08d,#09e,#0ae,#0ae,#0be,#0ae,#09e,#08d,#08d,#0ae,#0ce,#0de,#0ce,#0ae,#09e,#09e,#0be,#0de,#0de,#0ce,#0be,#0be,#0be,#0ce,#0ce,#0de,#0df,#0de,#0ce,#0ce,#0ce,#0de,#0df,#0ef,#0ef,#0de,#0ce,#0de,#0df,#0ef,#0ef,#0ef,#0df,#0df,#0df,#0df,#0ef,#0ef,#0ee,#0ee,#0ef,#0ef,#0df,#0ef,#0ed,#0ec,#0ec,#0ee,#0ef,#0ef,#0ee,#0ec,#0eb,#0ec,#0ec,#0ed,#0ed,#0ed,#0ec)"></div><div style="top:24.78px;background:linear-gradient(90deg,#118,#02a,#05c,#08d,#07d,#05c,#03b,#03b,#04c,#06c,#06d,#07d,#07d,#07d,#06d,#05c,#05c,#06c,#08d,#0ae,#0ae,#08d,#06c,#05c,#07d,#09e,#0be,#0ae,#09d,#08d,#08d,#08d,#09e,#0ae,#0be,#0be,#0be,#09e,#08d,#09d,#0ae,#0ce,#0de,#0ce,#0ae,#09e,#09e,#0be,#0de,#0de,#0de,#0ce,#0be,#0be,#0ce,#0ce,#0de,#0df,#0df,#0de,#0ce,#0ce,#0ce,#0df,#0ef,#0ef,#0df,#0de,#0ce,#0de,#0df,#0ef,#0ee,#0ef,#0ef,#0df,#0df,#0df,#0ef,#0ee,#0ed,#0ed,#0ef,#0ef,#0ef,#0ef,#0ed,#0eb,#0eb,#0ed,#0ef,#0ef,#0ee,#0ec,#0eb,#0eb,#0eb,#0ec,#0ed)"></div><div style="top:26.29px;background:linear-gradient(90deg,#118,#02a,#05c,#08d,#08d,#06c,#04b,#03b,#04c,#05c,#06d,#07d,#08d,#08d,#07d,#06c,#05c,#05c,#07d,#0ae,#0be,#09e,#07d,#05c,#06d,#08d,#0be,#0be,#0ae,#09d,#08d,#08d,#09d,#09e,#0ae,#0be,#0ce,#0be,#0ae,#08d,#09d,#0ae,#0de,#0df,#0de,#0be,#09e,#0ae,#0be,#0de,#0df,#0de,#0ce,#0ce,#0ce,#0ce,#0ce,#0de,#0df,#0ef,#0ef,#0de,#0ce,#0ce,#0de,#0ef,#0ee,#0ee,#0df,#0de,#0de,#0df,#0ef,#0ee,#0ee,#0ef,#0ef,#0ef,#0df,#0ef,#0ef,#0ee,#0ec,#0ec,#0ed,#0ef,#0ef,#0ef,#0ed,#0eb,#0ea,#0ec,#0ee,#0ee,#0ee,#0ec,#0eb,#0ea,#0ea)"></div><div style="top:27.79px;background:linear-gradient(90deg,#118,#02a,#05c,#08d,#09d,#06d,#04c,#03b,#04c,#05c,#06d,#07d,#08d,#08d,#08d,#06d,#05c,#05c,#06d,#09e,#0be,#0be,#08d,#06d,#05c,#07d,#09e,#0be,#0be,#0ae,#09d,#08d,#08d,#09e,#09e,#0ae,#0ce,#0ce,#0ce,#0ae,#09d,#09d,#0ae,#0de,#0df,#0df,#0be,#0ae,#0ae,#0be,#0de,#0df,#0df,#0de,#0de,#0ce,#0ce,#0ce,#0ce,#0df,#0ef,#0ef,#0ef,#0de,#0ce,#0ce,#0df,#0ef,#0ed,#0ee,#0df,#0de,#0de,#0df,#0ef,#0ee,#0ed,#0ed,#0ee,#0ef,#0ef,#0ef,#0ef,#0ed,#0eb,#0ea,#0ec,#0ef,#0ef,#0ef,#0ed,#0eb,#0ea,#0ea,#0ec,#0ed,#0ed,#0ed,#0ec)"></div><div style="top:29.29px;background:linear-gradient(90deg,#118,#02a,#06c,#09d,#09e,#07d,#05c,#04b,#04c,#05c,#06d,#07d,#08d,#09d,#08d,#07d,#06c,#05c,#05c,#08d,#0be,#0ce,#0ae,#07d,#06c,#06c,#08d,#0ae,#0ce,#0be,#0ae,#09e,#09d,#09d,#09e,#0ae,#0be,#0ce,#0de,#0ce,#0ae,#09d,#09d,#0ae,#0de,#0ef,#0df,#0ce,#0ae,#0ae,#0be,#0ce,#0df,#0df,#0df,#0de,#0de,#0ce,#0ce,#0ce,#0de,#0ef,#0ee,#0ee,#0df,#0de,#0ce,#0de,#0ef,#0ed,#0ec,#0ee,#0ef,#0df,#0df,#0df,#0ef,#0ee,#0ed,#0ec,#0ed,#0ee,#0ef,#0ef,#0ef,#0ed,#0ea,#0e9,#0eb,#0ed,#0ef,#0ef,#0ed,#0eb,#0e9,#0e9,#0ea,#0ec,#0ed)"></div><div style="top:30.79px;background:linear-gradient(90deg,#118,#02a,#06c,#09e,#0ae,#08d,#05c,#04c,#04c,#05c,#06d,#07d,#08d,#09e,#09e,#08d,#07d,#05c,#05c,#07d,#0ae,#0de,#0ce,#09e,#07d,#06c,#07d,#09e,#0be,#0ce,#0ce,#0ae,#09e,#09e,#09e,#09e,#0ae,#0be,#0de,#0df,#0de,#0be,#09e,#09d,#0ae,#0de,#0ef,#0ef,#0de,#0be,#0ae,#0be,#0ce,#0de,#0df,#0ef,#0df,#0df,#0de,#0ce,#0ce,#0ce,#0df,#0ee,#0ec,#0ed,#0df,#0de,#0ce,#0de,#0ef,#0ec,#0eb,#0ed,#0ef,#0df,#0df,#0ef,#0ef,#0ee,#0ec,#0eb,#0eb,#0ed,#0ef,#0ef,#0ef,#0ee,#0ea,#0e9,#0e9,#0ec,#0ee,#0ef,#0ee,#0ec,#0ea,#0e9,#0e9)"></div><div style="top:32.29px;background:linear-gradient(90deg,#118,#02a,#06c,#09e,#0be,#09d,#06c,#04c,#04c,#05c,#06d,#07d,#08d,#09e,#0ae,#09e,#08d,#06c,#05c,#06c,#08d,#0ce,#0df,#0ce,#09d,#06d,#06c,#07d,#0ae,#0ce,#0de,#0ce,#0be,#0ae,#09e,#09e,#09e,#0ae,#0be,#0de,#0ef,#0df,#0be,#09e,#09d,#0ae,#0de,#0ef,#0ee,#0df,#0ce,#0be,#0be,#0ce,#0de,#0df,#0ef,#0ef,#0ef,#0df,#0de,#0ce,#0ce,#0de,#0ef,#0ec,#0eb,#0ed,#0df,#0de,#0de,#0df,#0ee,#0eb,#0eb,#0ec,#0ef,#0ef,#0ef,#0ef,#0ef,#0ee,#0ec,#0ea,#0ea,#0eb,#0ee,#0ef,#0ef,#0ee,#0eb,#0e8,#0e8,#0ea,#0ec,#0ee,#0ee,#0ed,#0eb)"></div><div style="top:33.80px;background:linear-gradient(90deg,#118,#02a,#06c,#0ae,#0be,#09e,#07d,#05c,#04c,#05c,#06d,#07d,#08d,#09e,#0ae,#0ae,#09e,#07d,#05c,#05c,#07d,#0ae,#0df,#0df,#0be,#08d,#06d,#06d,#08d,#0be,#0de,#0de,#0ce,#0be,#0ae,#0ae,#09e,#09e,#0ae,#0ce,#0df,#0ef,#0ef,#0ce,#0ae,#09e,#0ae,#0ce,#0ef,#0ed,#0ef,#0de,#0ce,#0be,#0ce,#0de,#0df,#0ef,#0ef,#0ee,#0ef,#0ef,#0de,#0ce,#0ce,#0de,#0ee,#0ea,#0ea,#0ed,#0df,#0de,#0de,#0df,#0ee,#0eb,#0ea,#0eb,#0ed,#0ef,#0ef,#0ef,#0ef,#0ee,#0ec,#0ea,#0e8,#0e9,#0ec,#0ef,#0ef,#0ef,#0ec,#0e9,#1e7,#0e8,#0ea,#0ec,#0ed)"></div><div style="top:35.30px;background:linear-gradient(90deg,#118,#02a,#06c,#0ae,#0ce,#0be,#07d,#05c,#04c,#05c,#06c,#07d,#08d,#09e,#0ae,#0be,#0ae,#08d,#06c,#05c,#06c,#09d,#0de,#0ef,#0df,#0ae,#07d,#06d,#07d,#09e,#0ce,#0de,#0de,#0ce,#0ce,#0be,#0ae,#09e,#09e,#0ae,#0ce,#0df,#0ed,#0ee,#0de,#0ae,#09e,#09e,#0ce,#0ef,#0ec,#0ec,#0ef,#0de,#0ce,#0ce,#0ce,#0de,#0df,#0ef,#0ee,#0ed,#0ee,#0ef,#0de,#0ce,#0ce,#0df,#0ec,#0e9,#0e9,#0ec,#0ef,#0de,#0de,#0df,#0ee,#0eb,#0ea,#0ea,#0ec,#0ed,#0ee,#0ef,#0ef,#0ef,#0ec,#0ea,#0e7,#0e7,#0ea,#0ed,#0ef,#0ef,#0ed,#0ea,#1e7,#1e6,#0e8)"></div><div style="top:36.80px;background:linear-gradient(90deg,#118,#02a,#06c,#0ae,#0de,#0ce,#08d,#06c,#05c,#05c,#06c,#07d,#08d,#09e,#0be,#0ce,#0ce,#0ae,#07d,#05c,#05c,#07d,#0be,#0ef,#0ed,#0df,#0ae,#07d,#07d,#08d,#0ae,#0ce,#0df,#0df,#0de,#0ce,#0be,#0be,#0ae,#09e,#0ae,#0ce,#0ef,#0ec,#0ec,#0df,#0be,#09e,#09e,#0be,#0df,#0ec,#0eb,#0ed,#0df,#0de,#0ce,#0ce,#0de,#0df,#0ef,#0ee,#0ec,#0eb,#0ed,#0ef,#0de,#0ce,#0de,#0ef,#0eb,#0e7,#0e8,#0eb,#0ef,#0df,#0df,#0ef,#0ee,#0eb,#0e9,#0e9,#0ea,#0eb,#0ed,#0ee,#0ef,#0ef,#0ed,#0ea,#1e7,#1e6,#1e7,#0ea,#0ee,#0ef,#0ee,#0ec,#0e8)"></div><div style="top:38.30px;background:linear-gradient(90deg,#118,#02a,#06c,#0be,#0df,#0de,#09e,#06d,#05c,#05c,#06c,#07d,#08d,#09e,#0ae,#0ce,#0de,#0ce,#09e,#06d,#05c,#06c,#09d,#0de,#0ec,#0ec,#0de,#09e,#07d,#07d,#08d,#0be,#0de,#0df,#0df,#0df,#0de,#0ce,#0be,#0ae,#09e,#0ae,#0ce,#0ef,#0eb,#0ea,#0ee,#0ce,#0ae,#09e,#0ae,#0de,#0ed,#0ea,#0ea,#0ee,#0df,#0de,#0ce,#0de,#0de,#0df,#0ef,#0ec,#0ea,#0e9,#0ec,#0ef,#0de,#0ce,#0de,#0ef,#0ea,#1e6,#1e7,#0ea,#0ee,#0df,#0df,#0ef,#0ee,#0eb,#0e9,#0e9,#0e9,#0e9,#0eb,#0ed,#0ef,#0ef,#0ee,#0eb,#0e8,#1e5,#1e5,#0e7,#0eb,#0ee,#0ef)"></div><div style="top:39.80px;background:linear-gradient(90deg,#118,#02a,#06d,#0be,#0ef,#0df,#0be,#07d,#05c,#05c,#06c,#07d,#08d,#09e,#0ae,#0ce,#0df,#0de,#0be,#08d,#06c,#05c,#07d,#0be,#0ef,#0e9,#0ec,#0de,#09e,#07d,#07d,#09d,#0be,#0df,#0ef,#0ef,#0df,#0df,#0de,#0ce,#0ae,#09e,#0ae,#0ce,#0ef,#0ea,#0e7,#0eb,#0df,#0be,#09e,#0ae,#0ce,#0ef,#0ea,#0e8,#0eb,#0ef,#0df,#0de,#0de,#0de,#0df,#0ef,#0ee,#0eb,#0e8,#0e8,#0eb,#0ef,#0de,#0ce,#0de,#0ef,#0e9,#1e5,#1e5,#0e8,#0ed,#0ef,#0df,#0ef,#0ee,#0eb,#0e9,#0e8,#0e8,#0e8,#0e9,#0eb,#0ed,#0ef,#0ef,#0ed,#0e9,#1e6,#1e4,#1e5,#0e8)"></div><div style="top:41.31px;background:linear-gradient(90deg,#118,#02a,#06d,#0be,#0ee,#0ee,#0ce,#08d,#06c,#05c,#06c,#07d,#08d,#09e,#0ae,#0ce,#0df,#0ef,#0de,#0ae,#07d,#05c,#06c,#08d,#0de,#0ea,#1e7,#0ec,#0ce,#09d,#07d,#08d,#09e,#0ce,#0df,#0ef,#0ef,#0ef,#0ef,#0df,#0ce,#0be,#0ae,#0ae,#0be,#0df,#0ea,#1e6,#0e7,#0ee,#0ce,#0ae,#0ae,#0be,#0df,#0eb,#0e8,#0e8,#0eb,#0ef,#0df,#0df,#0de,#0de,#0df,#0ef,#0ed,#0e9,#1e6,#1e7,#0ea,#0ef,#0de,#0ce,#0de,#0ee,#0e9,#1e5,#1e4,#1e7,#0eb,#0ef,#0ef,#0ef,#0ee,#0ec,#0ea,#0e8,#1e7,#1e6,#1e7,#0e8,#0eb,#0ee,#0ef,#0ee,#0eb,#0e7,#1e4)"></div><div style="top:42.81px;background:linear-gradient(90deg,#118,#02a,#06d,#0ce,#0ec,#0ea,#0df,#09e,#07d,#06c,#06c,#07d,#08d,#09e,#0ae,#0ce,#0df,#0ee,#0ef,#0ce,#09d,#06c,#05c,#07d,#0ae,#0ef,#1e6,#1e5,#0ec,#0ce,#09d,#07d,#08d,#0ae,#0ce,#0ef,#0ee,#0ed,#0ee,#0ef,#0df,#0de,#0be,#0ae,#0ae,#0be,#0df,#0ea,#1e4,#1e4,#0ea,#0df,#0be,#0ae,#0ae,#0de,#0ed,#0e8,#1e6,#0e8,#0eb,#0ef,#0ef,#0df,#0df,#0df,#0df,#0ef,#0eb,#0e7,#1e5,#1e5,#0e9,#0ee,#0de,#0de,#0de,#0ee,#0e8,#1e4,#1e3,#1e5,#0e9,#0ed,#0ef,#0ef,#0ee,#0ec,#0ea,#0e8,#1e7,#1e6,#1e5,#1e6,#0e8,#0eb,#0ee,#0ef,#0ed)"></div><div style="top:44.31px;background:linear-gradient(90deg,#118,#02a,#06d,#0ce,#0ea,#1e7,#0ee,#0be,#08d,#06c,#06c,#07d,#08d,#09e,#0ae,#0ce,#0df,#0ed,#0ec,#0ef,#0be,#08d,#05c,#05c,#08d,#0ce,#0e9,#2e2,#1e4,#0ed,#0ce,#08d,#08d,#08d,#0ae,#0de,#0ef,#0ec,#0ec,#0ec,#0ed,#0ef,#0df,#0ce,#0ae,#0ae,#0be,#0de,#0eb,#1e4,#2e2,#1e5,#0ed,#0ce,#0ae,#0ae,#0ce,#0ef,#0ea,#1e6,#1e5,#0e8,#0eb,#0ee,#0ef,#0df,#0df,#0df,#0ef,#0ee,#0ea,#1e6,#1e3,#1e4,#0e8,#0ed,#0df,#0de,#0de,#0ef,#0e9,#1e4,#2e2,#1e3,#1e7,#0eb,#0ee,#0ef,#0ee,#0ed,#0ea,#0e9,#1e7,#1e5,#1e5,#1e5,#1e6,#0e9,#0ec)"></div><div style="top:45.81px;background:linear-gradient(90deg,#118,#02a,#06d,#0ce,#0e8,#1e4,#0ea,#0ce,#08d,#06d,#06c,#07d,#08d,#09e,#0ae,#0ce,#0df,#0ed,#0ea,#0eb,#0df,#0ae,#07d,#05c,#06d,#09e,#0ef,#1e4,#5e1,#1e3,#0ed,#0be,#08d,#08d,#09d,#0be,#0df,#0ed,#0eb,#0ea,#0eb,#0ec,#0ee,#0ef,#0de,#0be,#0ae,#0be,#0de,#0ed,#1e5,#4e1,#2e2,#0e8,#0df,#0be,#0ae,#0be,#0de,#0ec,#1e6,#1e4,#1e4,#0e7,#0eb,#0ee,#0ef,#0df,#0df,#0df,#0ef,#0ed,#0e9,#1e5,#2e2,#1e3,#1e6,#0ec,#0df,#0de,#0de,#0ef,#0e9,#1e4,#3e2,#2e2,#1e5,#0e9,#0ed,#0ef,#0ee,#0ed,#0eb,#0e9,#1e7,#1e5,#1e4,#1e4,#1e4)"></div><div style="top:47.31px;background:linear-gradient(90deg,#118,#02a,#06d,#0de,#1e6,#4e1,#1e5,#0ef,#0ae,#07d,#06d,#07d,#08d,#09e,#0ae,#0ce,#0df,#0ed,#0e9,#0e7,#0ec,#0de,#09d,#06d,#05c,#07d,#0be,#0eb,#4e1,#8e1,#2e2,#0ed,#0be,#08d,#08d,#09e,#0be,#0ef,#0ec,#0e9,#0e8,#0e9,#0ea,#0ec,#0ef,#0de,#0ce,#0ae,#0be,#0ce,#0ee,#1e6,#5e1,#6e1,#1e3,#0ec,#0de,#0be,#0ae,#0ce,#0ef,#0e8,#1e3,#2e2,#1e4,#0e7,#0eb,#0ee,#0ef,#0ef,#0ef,#0ef,#0ef,#0ec,#0e8,#1e4,#2e2,#2e2,#1e5,#0eb,#0ef,#0de,#0de,#0ef,#0ea,#1e4,#4e1,#5e1,#2e2,#1e7,#0eb,#0ee,#0ef,#0ed,#0eb,#0e9,#1e7,#1e5,#1e4)"></div><div style="top:48.82px;background:linear-gradient(90deg,#118,#02a,#06d,#0de,#1e4,#8e1,#3e2,#0ec,#0be,#08d,#06d,#07d,#08d,#09e,#0ae,#0ce,#0de,#0ee,#0e9,#1e5,#1e7,#0ee,#0be,#08d,#06c,#06c,#08d,#0de,#1e5,#9e1,#ae0,#2e2,#0ee,#0be,#08d,#08d,#09e,#0ce,#0ef,#0e9,#1e7,#1e7,#0e8,#0e9,#0eb,#0ee,#0df,#0ce,#0be,#0be,#0ce,#0ef,#0e7,#4e1,#9e1,#5e1,#1e6,#0ef,#0ce,#0ae,#0be,#0de,#0ec,#1e4,#4e1,#4e1,#1e3,#0e8,#0ec,#0ef,#0ef,#0ef,#0ef,#0ef,#0ed,#0ea,#1e6,#1e3,#3e2,#3e2,#1e4,#0e9,#0ef,#0df,#0de,#0ef,#0eb,#1e4,#5e1,#7e1,#4e1,#1e4,#0e9,#0ed,#0ef,#0ee,#0ec,#0e9,#1e7)"></div><div style="top:50.32px;background:linear-gradient(90deg,#118,#02a,#06d,#0de,#2e2,#be0,#9e1,#1e7,#0de,#09d,#07d,#07d,#08d,#09e,#0be,#0ce,#0df,#0ee,#0e9,#1e5,#1e4,#0e8,#0ef,#0ae,#07d,#06c,#07d,#0ae,#0ee,#4e1,#de0,#ce0,#2e2,#0ef,#0ae,#08d,#08d,#09e,#0ce,#0ed,#1e7,#1e4,#1e4,#1e6,#0e8,#0eb,#0ed,#0ef,#0de,#0ce,#0be,#0ce,#0df,#0e9,#2e2,#9e1,#9e1,#2e2,#0ea,#0de,#0be,#0ae,#0ce,#0ef,#1e7,#3e1,#7e1,#6e1,#1e3,#0e8,#0ed,#0ef,#0ef,#0ef,#0ee,#0ed,#0eb,#0e8,#1e5,#2e2,#3e1,#3e2,#1e4,#0e8,#0ee,#0df,#0df,#0ef,#0eb,#1e5,#5e1,#9e1,#7e1,#2e2,#1e7,#0ec,#0ef,#0ef,#0ed)"></div><div style="top:51.82px;background:linear-gradient(90deg,#118,#02a,#06d,#0df,#4e1,#ee0,#de0,#2e2,#0ef,#0ae,#07d,#07d,#07d,#09e,#0be,#0ce,#0df,#0ee,#0e9,#1e5,#2e2,#1e4,#0ea,#0de,#09e,#07d,#06d,#08d,#0ce,#0e8,#ae0,#fe0,#de0,#2e2,#0ef,#0ae,#08d,#08d,#0ae,#0de,#0eb,#1e4,#3e2,#2e2,#1e4,#0e8,#0eb,#0ee,#0ef,#0df,#0de,#0ce,#0de,#0df,#0ea,#1e3,#8e1,#ae0,#7e1,#1e5,#0ef,#0ce,#0ae,#0be,#0de,#0eb,#1e2,#9e1,#ae0,#7e1,#1e4,#0ea,#0ef,#0df,#0ef,#0ef,#0ed,#0ea,#0e8,#1e6,#1e4,#2e2,#3e2,#2e2,#1e4,#0e8,#0ec,#0ef,#0df,#0ef,#0ec,#1e5,#5e1,#9e1,#9e1,#5e1,#1e5,#0ea,#0ee)"></div><div style="top:53.32px;background:linear-gradient(90deg,#118,#02a,#06d,#0df,#6e1,#fd0,#fd0,#8e1,#0ec,#0be,#08d,#07d,#07d,#09d,#0be,#0de,#0ef,#0ed,#0e9,#1e5,#2e2,#2e2,#1e6,#0ee,#0be,#08d,#07d,#07d,#09e,#0ef,#2e2,#ee0,#fd0,#de0,#1e3,#0df,#09e,#08d,#08d,#0ae,#0df,#0e8,#4e1,#8e1,#6e1,#1e3,#0e7,#0ec,#0ef,#0ef,#0df,#0de,#0de,#0df,#0ef,#0eb,#1e4,#7e1,#ae0,#9e1,#2e2,#0ea,#0df,#0be,#0be,#0ce,#0ef,#1e6,#7e1,#ce0,#ce0,#7e1,#1e5,#0ec,#0df,#0df,#0df,#0ee,#0ea,#1e7,#1e4,#1e3,#2e2,#2e2,#2e2,#1e3,#1e5,#0e8,#0ec,#0ef,#0ef,#0ef,#0eb,#1e6,#4e1,#9e1,#ae0,#8e1,#2e2)"></div><div style="top:54.82px;background:linear-gradient(90deg,#118,#02a,#06d,#0df,#9e1,#ec0,#ec0,#de0,#1e7,#0ce,#08d,#07d,#07d,#08d,#0be,#0de,#0ef,#0eb,#0e8,#1e5,#1e3,#2e2,#1e3,#0e9,#0df,#0ae,#08d,#07d,#08d,#0be,#0ea,#9e1,#fd0,#ed0,#de0,#1e5,#0de,#09e,#07d,#08d,#0ae,#0ef,#1e4,#9e1,#ce0,#ae0,#3e2,#0e7,#0ed,#0ef,#0df,#0df,#0df,#0ef,#0ef,#0ed,#0e9,#1e4,#5e1,#9e1,#9e1,#4e1,#1e6,#0ef,#0ce,#0be,#0be,#0df,#0ea,#3e1,#ce0,#ee0,#ce0,#5e1,#0e8,#0ef,#0de,#0de,#0df,#0ed,#1e7,#2e2,#5e1,#5e1,#4e1,#2e2,#1e4,#1e6,#0e8,#0e9,#0eb,#0ed,#0ed,#0ec,#0e9,#1e5,#4e1,#8e1,#ae1)"></div><div style="top:56.33px;background:linear-gradient(90deg,#118,#02a,#07d,#0ef,#ae0,#ec0,#eb0,#fd0,#2e2,#0df,#09d,#07d,#07d,#08d,#0be,#0df,#0ec,#0e8,#1e6,#1e4,#1e3,#2e2,#1e3,#1e6,#0ed,#0de,#0ae,#08d,#08d,#0ae,#0df,#1e4,#ee0,#ec0,#ed0,#ce0,#1e7,#0ce,#08d,#07d,#08d,#0be,#0ed,#3e1,#de0,#fe0,#de0,#5e1,#0e8,#0ef,#0de,#0de,#0de,#0df,#0ee,#0eb,#0e8,#1e6,#1e3,#3e1,#6e1,#6e1,#3e2,#1e5,#0eb,#0df,#0ce,#0ce,#0de,#0ed,#1e4,#ae0,#ee0,#fe0,#be0,#2e2,#0eb,#0df,#0ce,#0de,#0ef,#0ea,#1e3,#8e1,#ae0,#ae1,#6e1,#1e3,#1e7,#0ea,#0eb,#0ec,#0eb,#0ea,#0e9,#1e7,#1e5,#1e3,#4e1)"></div><div style="top:57.83px;background:linear-gradient(90deg,#118,#02a,#07d,#0ef,#be0,#eb0,#ea0,#ec0,#7e1,#0ef,#09e,#07d,#06d,#08d,#0ae,#0df,#0ea,#1e5,#1e3,#2e2,#2e2,#1e3,#1e4,#1e6,#0ea,#0ef,#0ce,#0ae,#09d,#09e,#0ce,#0eb,#7e1,#fd0,#ec0,#fd0,#9e1,#0eb,#0be,#08d,#07d,#08d,#0ce,#0e9,#9e1,#fd0,#ed0,#fe0,#7e1,#0e9,#0df,#0ce,#0be,#0ce,#0ef,#0eb,#1e6,#2e2,#3e1,#4e1,#3e1,#2e2,#2e2,#1e4,#1e7,#0eb,#0ef,#0df,#0df,#0ef,#0ec,#1e6,#6e1,#ce0,#ee0,#ce0,#6e1,#1e7,#0ef,#0de,#0ce,#0de,#0ee,#1e6,#7e1,#ce0,#ee0,#ce0,#6e1,#1e5,#0eb,#0ef,#0ef,#0ee,#0eb,#1e7,#1e3,#3e2,#4e1)"></div><div style="top:59.33px;background:linear-gradient(90deg,#118,#02a,#07d,#0ef,#ce0,#ea0,#e90,#eb0,#ce0,#0ec,#0ae,#07d,#06c,#07d,#0ae,#0df,#0e8,#2e2,#6e1,#6e1,#3e1,#1e3,#1e5,#0e8,#0ea,#0ee,#0de,#0ce,#0ae,#0ae,#0ce,#0ef,#1e4,#ce0,#fd0,#ed0,#fe0,#3e2,#0ee,#0ae,#08d,#07d,#09e,#0de,#1e5,#de0,#ec0,#ec0,#fd0,#7e1,#0ea,#0de,#0ae,#0ae,#0ce,#0ef,#0e8,#4e1,#ae0,#be0,#9e1,#5e1,#1e4,#0e7,#0ea,#0ec,#0ec,#0ed,#0ed,#0ed,#0eb,#0e9,#1e5,#4e1,#9e1,#be0,#ae0,#6e1,#1e4,#0eb,#0ef,#0de,#0de,#0ef,#0e9,#3e1,#ce0,#fe0,#fe0,#be0,#3e2,#0e9,#0ef,#0df,#0df,#0ef,#0e9,#1e3,#8e1)"></div><div style="top:60.83px;background:linear-gradient(90deg,#118,#02a,#07d,#0ef,#de0,#ea0,#d80,#e90,#fe0,#0e8,#0be,#07d,#05c,#06d,#09e,#0df,#1e6,#7e1,#be0,#be0,#8e1,#2e2,#1e7,#0ea,#0ed,#0ef,#0df,#0de,#0ce,#0ce,#0de,#0ef,#0e7,#6e1,#de0,#fd0,#fe0,#ae0,#1e6,#0df,#0ae,#08d,#08d,#0be,#0ee,#4e1,#fd0,#eb0,#eb0,#fd0,#5e1,#0ed,#0be,#09e,#09e,#0be,#0ef,#1e4,#be0,#fe0,#fd0,#de0,#6e1,#1e6,#0ed,#0ef,#0df,#0ef,#0ed,#0e9,#1e6,#1e3,#2e2,#3e1,#4e1,#4e1,#4e1,#3e2,#1e3,#1e6,#0e9,#0ed,#0ef,#0ef,#0ed,#0e8,#1e3,#9e1,#ce0,#ee0,#ce0,#6e1,#1e5,#0ec,#0df,#0df,#0ef,#0ec,#1e5)"></div><div style="top:62.33px;background:linear-gradient(90deg,#118,#02a,#07d,#0ef,#ee0,#e90,#d70,#d80,#ed0,#1e5,#0be,#07d,#05c,#06c,#08d,#0de,#1e5,#be0,#fe0,#fe0,#ce0,#4e1,#0e7,#0ed,#0df,#0df,#0df,#0df,#0ef,#0ef,#0ee,#0eb,#1e7,#2e2,#8e1,#ce0,#ce0,#ae1,#2e2,#0eb,#0de,#0ae,#09e,#0be,#0df,#0e7,#ae0,#ed0,#ec0,#ec0,#ee0,#1e3,#0ef,#0be,#09e,#09e,#0ce,#0ec,#4e1,#fe0,#ec0,#ec0,#fe0,#6e1,#0e9,#0df,#0ce,#0ce,#0de,#0ed,#1e6,#6e1,#be0,#ce0,#be0,#7e1,#2e2,#1e6,#0e9,#0eb,#0eb,#0ea,#0e9,#0e8,#1e6,#1e5,#1e3,#2e2,#5e1,#7e1,#7e1,#6e1,#2e2,#1e5,#0e9,#0ec,#0ee,#0ee,#0eb)"></div><div style="top:63.84px;background:linear-gradient(90deg,#118,#02a,#07d,#0ef,#fe0,#e80,#d60,#d70,#ec0,#2e2,#0ce,#07d,#05c,#05c,#08d,#0de,#1e5,#ee0,#ec0,#ec0,#fd0,#8e1,#0e7,#0ef,#0ce,#0ce,#0ce,#0df,#0ee,#0ea,#1e6,#1e4,#1e3,#2e2,#4e1,#5e1,#5e1,#3e2,#1e4,#0e9,#0ee,#0df,#0ce,#0ce,#0df,#0eb,#2e2,#ce0,#fd0,#ed0,#fe0,#8e1,#0e8,#0df,#0be,#0ae,#0be,#0df,#0e8,#ae1,#fd0,#ec0,#ec0,#fe0,#4e1,#0ec,#0ce,#0be,#0be,#0de,#0ec,#2e2,#ce0,#fd0,#ed0,#fe0,#9e1,#1e5,#0ec,#0df,#0de,#0df,#0ed,#1e7,#3e2,#9e1,#be0,#ae0,#8e1,#3e1,#1e4,#1e7,#0e8,#0e9,#0e9,#0e8,#1e7,#1e6,#1e4)"></div><div style="top:65.34px;background:linear-gradient(90deg,#118,#02a,#07d,#0ef,#fe0,#d80,#d60,#d60,#eb0,#5e1,#0ce,#07d,#04c,#04c,#07d,#0ce,#1e5,#fe0,#eb0,#ea0,#ec0,#ce0,#1e6,#0df,#0be,#09e,#0ae,#0de,#0ed,#1e5,#6e1,#ae0,#ae0,#8e1,#3e1,#1e4,#1e7,#0e9,#0ea,#0eb,#0ec,#0ed,#0ed,#0ec,#0eb,#0e8,#1e4,#5e1,#ae1,#be0,#be0,#6e1,#1e4,#0eb,#0df,#0de,#0ce,#0df,#0eb,#2e2,#be0,#fd0,#ed0,#fe0,#ae0,#1e5,#0ee,#0ce,#0be,#0ce,#0df,#0e8,#7e1,#fe0,#ec0,#ec0,#fe0,#7e1,#0e8,#0ef,#0ce,#0ce,#0de,#0ed,#1e4,#ae0,#fe0,#fd0,#fe0,#be0,#2e2,#0e9,#0ef,#0df,#0ef,#0ed,#0e8,#2e2,#9e1)"></div><div style="top:66.84px;background:linear-gradient(90deg,#118,#02a,#07d,#0ee,#fe0,#d80,#d50,#d60,#ea0,#8e1,#0de,#07d,#04c,#04b,#06d,#0be,#1e5,#fd0,#ea0,#e90,#ea0,#fe0,#1e4,#0de,#09e,#08d,#08d,#0be,#0ee,#2e2,#ce0,#fd0,#fd0,#ee0,#7e1,#1e6,#0ed,#0df,#0de,#0df,#0ee,#0ea,#1e5,#2e2,#4e1,#5e1,#4e1,#2e2,#1e3,#1e4,#1e5,#1e6,#0e7,#0e9,#0ea,#0eb,#0eb,#0ea,#0e7,#1e4,#4e1,#9e1,#ae0,#ae0,#7e1,#1e3,#0e8,#0ed,#0ef,#0df,#0ef,#0ea,#1e3,#9e1,#ee0,#fe0,#ee0,#ae0,#2e2,#0ea,#0ef,#0de,#0de,#0ef,#0e9,#3e2,#ce0,#fe0,#fd0,#fe0,#9e1,#1e4,#0ec,#0df,#0de,#0df,#0ed,#1e6,#7e1)"></div><div style="top:68.34px;background:linear-gradient(90deg,#118,#02a,#07d,#0ee,#fe0,#d70,#d50,#d50,#e90,#ae1,#0de,#07d,#03b,#03b,#05c,#0be,#1e6,#ed0,#e90,#d70,#e90,#ed0,#1e3,#0de,#08d,#06d,#07d,#09e,#0ef,#3e2,#fd0,#eb0,#eb0,#ec0,#be0,#1e6,#0df,#0be,#0ae,#0be,#0de,#0ea,#4e1,#ce0,#fe0,#fe0,#ce0,#5e1,#1e6,#0ed,#0ef,#0df,#0ef,#0ec,#1e7,#2e2,#6e1,#8e1,#8e1,#5e1,#2e2,#1e4,#1e6,#0e8,#0e8,#0e8,#0e7,#1e7,#1e6,#1e5,#1e4,#1e3,#2e2,#2e2,#3e2,#3e2,#3e2,#2e2,#1e4,#1e6,#0e8,#0e9,#0ea,#0e9,#1e6,#1e3,#4e1,#8e1,#9e1,#9e1,#6e1,#2e2,#1e6,#0ea,#0ec,#0ed,#0eb,#1e7,#2e2)"></div><div style="top:69.84px;background:linear-gradient(90deg,#118,#02a,#07d,#0ee,#fd0,#d70,#c40,#d50,#e90,#be0,#0df,#07d,#03b,#03b,#05c,#0ae,#1e6,#ed0,#d80,#d60,#d80,#ec0,#3e2,#0de,#08d,#05c,#06c,#08d,#0df,#3e2,#ed0,#ea0,#e90,#ea0,#fe0,#1e5,#0de,#09e,#08d,#08d,#0be,#0ec,#7e1,#fd0,#eb0,#eb0,#ed0,#ae0,#0e7,#0df,#0be,#0ae,#0be,#0ef,#1e7,#8e1,#fe0,#ed0,#fd0,#de0,#5e1,#0e8,#0ef,#0de,#0de,#0df,#0eb,#1e4,#8e1,#ce0,#ee0,#de0,#9e1,#2e2,#0e8,#0ec,#0ef,#0ee,#0ec,#0e8,#1e3,#6e1,#9e1,#ae0,#9e1,#5e1,#1e3,#1e6,#0e9,#0ea,#0e9,#0e8,#1e5,#1e3,#3e1,#5e1,#6e1,#5e1,#3e2)"></div><div style="top:71.35px;background:linear-gradient(90deg,#118,#02a,#07d,#0ee,#fd0,#d70,#c40,#d50,#e90,#be0,#0df,#07d,#03b,#03b,#05c,#0ae,#1e6,#ed0,#d80,#d60,#d70,#eb0,#4e1,#0de,#07d,#05c,#05c,#08d,#0de,#3e2,#ec0,#e90,#d80,#e90,#fd0,#1e4,#0de,#08d,#07d,#07d,#0ae,#0ed,#8e1,#ec0,#ea0,#e90,#eb0,#ce0,#0e7,#0de,#09e,#08d,#09e,#0de,#0e8,#ae0,#ec0,#eb0,#eb0,#ed0,#8e1,#0e9,#0de,#0be,#0ae,#0ce,#0ef,#1e4,#ce0,#ed0,#ec0,#ec0,#ee0,#4e1,#0ea,#0df,#0ce,#0ce,#0df,#0eb,#2e2,#ce0,#fd0,#ed0,#fd0,#be0,#2e2,#0eb,#0ef,#0de,#0df,#0ef,#0e8,#4e1,#ce0,#fe0,#fe0,#ee0,#8e1)"></div><div style="top:72.85px;background:linear-gradient(90deg,#118,#02a,#07d,#0ee,#fd0,#d70,#c40,#d50,#e90,#be0,#0df,#07d,#03b,#03b,#05c,#0ae,#1e6,#ed0,#d80,#d60,#d70,#eb0,#4e1,#0de,#07d,#05c,#05c,#08d,#0de,#3e2,#ec0,#e90,#d80,#e90,#fd0,#1e4,#0de,#08d,#07d,#07d,#0ae,#0ed,#8e1,#ec0,#ea0,#e90,#eb0,#ce0,#0e7,#0de,#09e,#08d,#09e,#0de,#0e8,#ae0,#ec0,#eb0,#eb0,#ed0,#8e1,#0e9,#0de,#0be,#0ae,#0ce,#0ef,#1e4,#ce0,#ed0,#ec0,#ec0,#ee0,#4e1,#0ea,#0df,#0ce,#0ce,#0df,#0eb,#2e2,#ce0,#fd0,#ed0,#fd0,#be0,#2e2,#0eb,#0ef,#0de,#0df,#0ef,#0e8,#4e1,#ce0,#fe0,#fe0,#ee0,#8e1)"></div><div style="top:74.35px;background:linear-gradient(90deg,#118,#02a,#07d,#0ee,#fd0,#d70,#c40,#d50,#e90,#be0,#0df,#07d,#03b,#03b,#05c,#0ae,#1e6,#ed0,#d80,#d60,#d80,#ec0,#3e2,#0de,#08d,#05c,#06c,#08d,#0df,#3e2,#ed0,#ea0,#e90,#ea0,#fe0,#1e5,#0de,#09e,#08d,#08d,#0be,#0ec,#7e1,#fd0,#eb0,#eb0,#ed0,#ae0,#0e7,#0df,#0be,#0ae,#0be,#0ef,#1e7,#8e1,#fe0,#ed0,#fd0,#de0,#5e1,#0e8,#0ef,#0de,#0de,#0df,#0eb,#1e4,#8e1,#ce0,#ee0,#de0,#9e1,#2e2,#0e8,#0ec,#0ef,#0ee,#0ec,#0e8,#1e3,#6e1,#9e1,#ae0,#9e1,#5e1,#1e3,#1e6,#0e9,#0ea,#0e9,#0e8,#1e5,#1e3,#3e1,#5e1,#6e1,#5e1,#3e2)"></div><div style="top:75.85px;background:linear-gradient(90deg,#118,#02a,#07d,#0ee,#fe0,#d70,#d50,#d50,#e90,#ae1,#0de,#07d,#03b,#03b,#05c,#0be,#1e6,#ed0,#e90,#d70,#e90,#ed0,#1e3,#0de,#08d,#06d,#07d,#09e,#0ef,#3e2,#fd0,#eb0,#eb0,#ec0,#be0,#1e6,#0df,#0be,#0ae,#0be,#0de,#0ea,#4e1,#ce0,#fe0,#fe0,#ce0,#5e1,#1e6,#0ed,#0ef,#0df,#0ef,#0ec,#1e7,#2e2,#6e1,#8e1,#8e1,#5e1,#2e2,#1e4,#1e6,#0e8,#0e8,#0e8,#0e7,#1e7,#1e6,#1e5,#1e4,#1e3,#2e2,#2e2,#3e2,#3e2,#3e2,#2e2,#1e4,#1e6,#0e8,#0e9,#0ea,#0e9,#1e6,#1e3,#4e1,#8e1,#9e1,#9e1,#6e1,#2e2,#1e6,#0ea,#0ec,#0ed,#0eb,#1e7,#2e2)"></div><div style="top:77.36px;background:linear-gradient(90deg,#118,#02a,#07d,#0ee,#fe0,#d80,#d50,#d60,#ea0,#8e1,#0de,#07d,#04c,#04b,#06d,#0be,#1e5,#fd0,#ea0,#e90,#ea0,#fe0,#1e4,#0de,#09e,#08d,#08d,#0be,#0ee,#2e2,#ce0,#fd0,#fd0,#ee0,#7e1,#1e6,#0ed,#0df,#0de,#0df,#0ee,#0ea,#1e5,#2e2,#4e1,#5e1,#4e1,#2e2,#1e3,#1e4,#1e5,#1e6,#0e7,#0e9,#0ea,#0eb,#0eb,#0ea,#0e7,#1e4,#4e1,#9e1,#ae0,#ae0,#7e1,#1e3,#0e8,#0ed,#0ef,#0df,#0ef,#0ea,#1e3,#9e1,#ee0,#fe0,#ee0,#ae0,#2e2,#0ea,#0ef,#0de,#0de,#0ef,#0e9,#3e2,#ce0,#fe0,#fd0,#fe0,#9e1,#1e4,#0ec,#0df,#0de,#0df,#0ed,#1e6,#7e1)"></div><div style="top:78.86px;background:linear-gradient(90deg,#118,#02a,#07d,#0ef,#fe0,#d80,#d60,#d60,#eb0,#5e1,#0ce,#07d,#04c,#04c,#07d,#0ce,#1e5,#fe0,#eb0,#ea0,#ec0,#ce0,#1e6,#0df,#0be,#09e,#0ae,#0de,#0ed,#1e5,#6e1,#ae0,#ae0,#8e1,#3e1,#1e4,#1e7,#0e9,#0ea,#0eb,#0ec,#0ed,#0ed,#0ec,#0eb,#0e8,#1e4,#5e1,#ae1,#be0,#be0,#6e1,#1e4,#0eb,#0df,#0de,#0ce,#0df,#0eb,#2e2,#be0,#fd0,#ed0,#fe0,#ae0,#1e5,#0ee,#0ce,#0be,#0ce,#0df,#0e8,#7e1,#fe0,#ec0,#ec0,#fe0,#7e1,#0e8,#0ef,#0ce,#0ce,#0de,#0ed,#1e4,#ae0,#fe0,#fd0,#fe0,#be0,#2e2,#0e9,#0ef,#0df,#0ef,#0ed,#0e8,#2e2,#9e1)"></div><div style="top:80.36px;background:linear-gradient(90deg,#118,#02a,#07d,#0ef,#fe0,#e80,#d60,#d70,#ec0,#2e2,#0ce,#07d,#05c,#05c,#08d,#0de,#1e5,#ee0,#ec0,#ec0,#fd0,#8e1,#0e7,#0ef,#0ce,#0ce,#0ce,#0df,#0ee,#0ea,#1e6,#1e4,#1e3,#2e2,#4e1,#5e1,#5e1,#3e2,#1e4,#0e9,#0ee,#0df,#0ce,#0ce,#0df,#0eb,#2e2,#ce0,#fd0,#ed0,#fe0,#8e1,#0e8,#0df,#0be,#0ae,#0be,#0df,#0e8,#ae1,#fd0,#ec0,#ec0,#fe0,#4e1,#0ec,#0ce,#0be,#0be,#0de,#0ec,#2e2,#ce0,#fd0,#ed0,#fe0,#9e1,#1e5,#0ec,#0df,#0de,#0df,#0ed,#1e7,#3e2,#9e1,#be0,#ae0,#8e1,#3e1,#1e4,#1e7,#0e8,#0e9,#0e9,#0e8,#1e7,#1e6,#1e4)"></div><div style="top:81.86px;background:linear-gradient(90deg,#118,#02a,#07d,#0ef,#ee0,#e90,#d70,#d80,#ed0,#1e5,#0be,#07d,#05c,#06c,#08d,#0de,#1e5,#be0,#fe0,#fe0,#ce0,#4e1,#0e7,#0ed,#0df,#0df,#0df,#0df,#0ef,#0ef,#0ee,#0eb,#1e7,#2e2,#8e1,#ce0,#ce0,#ae1,#2e2,#0eb,#0de,#0ae,#09e,#0be,#0df,#0e7,#ae0,#ed0,#ec0,#ec0,#ee0,#1e3,#0ef,#0be,#09e,#09e,#0ce,#0ec,#4e1,#fe0,#ec0,#ec0,#fe0,#6e1,#0e9,#0df,#0ce,#0ce,#0de,#0ed,#1e6,#6e1,#be0,#ce0,#be0,#7e1,#2e2,#1e6,#0e9,#0eb,#0eb,#0ea,#0e9,#0e8,#1e6,#1e5,#1e3,#2e2,#5e1,#7e1,#7e1,#6e1,#2e2,#1e5,#0e9,#0ec,#0ee,#0ee,#0eb)"></div><div style="top:83.36px;background:linear-gradient(90deg,#118,#02a,#07d,#0ef,#de0,#ea0,#d80,#e90,#fe0,#0e8,#0be,#07d,#05c,#06d,#09e,#0df,#1e6,#7e1,#be0,#be0,#8e1,#2e2,#1e7,#0ea,#0ed,#0ef,#0df,#0de,#0ce,#0ce,#0de,#0ef,#0e7,#6e1,#de0,#fd0,#fe0,#ae0,#1e6,#0df,#0ae,#08d,#08d,#0be,#0ee,#4e1,#fd0,#eb0,#eb0,#fd0,#5e1,#0ed,#0be,#09e,#09e,#0be,#0ef,#1e4,#be0,#fe0,#fd0,#de0,#6e1,#1e6,#0ed,#0ef,#0df,#0ef,#0ed,#0e9,#1e6,#1e3,#2e2,#3e1,#4e1,#4e1,#4e1,#3e2,#1e3,#1e6,#0e9,#0ed,#0ef,#0ef,#0ed,#0e8,#1e3,#9e1,#ce0,#ee0,#ce0,#6e1,#1e5,#0ec,#0df,#0df,#0ef,#0ec,#1e5)"></div><div style="top:84.87px;background:linear-gradient(90deg,#118,#02a,#07d,#0ef,#ce0,#ea0,#e90,#eb0,#ce0,#0ec,#0ae,#07d,#06c,#07d,#0ae,#0df,#0e8,#2e2,#6e1,#6e1,#3e1,#1e3,#1e5,#0e8,#0ea,#0ee,#0de,#0ce,#0ae,#0ae,#0ce,#0ef,#1e4,#ce0,#fd0,#ed0,#fe0,#3e2,#0ee,#0ae,#08d,#07d,#09e,#0de,#1e5,#de0,#ec0,#ec0,#fd0,#7e1,#0ea,#0de,#0ae,#0ae,#0ce,#0ef,#0e8,#4e1,#ae0,#be0,#9e1,#5e1,#1e4,#0e7,#0ea,#0ec,#0ec,#0ed,#0ed,#0ed,#0eb,#0e9,#1e5,#4e1,#9e1,#be0,#ae0,#6e1,#1e4,#0eb,#0ef,#0de,#0de,#0ef,#0e9,#3e1,#ce0,#fe0,#fe0,#be0,#3e2,#0e9,#0ef,#0df,#0df,#0ef,#0e9,#1e3,#8e1)"></div><div style="top:86.37px;background:linear-gradient(90deg,#118,#02a,#07d,#0ef,#be0,#eb0,#ea0,#ec0,#7e1,#0ef,#09e,#07d,#06d,#08d,#0ae,#0df,#0ea,#1e5,#1e3,#2e2,#2e2,#1e3,#1e4,#1e6,#0ea,#0ef,#0ce,#0ae,#09d,#09e,#0ce,#0eb,#7e1,#fd0,#ec0,#fd0,#9e1,#0eb,#0be,#08d,#07d,#08d,#0ce,#0e9,#9e1,#fd0,#ed0,#fe0,#7e1,#0e9,#0df,#0ce,#0be,#0ce,#0ef,#0eb,#1e6,#2e2,#3e1,#4e1,#3e1,#2e2,#2e2,#1e4,#1e7,#0eb,#0ef,#0df,#0df,#0ef,#0ec,#1e6,#6e1,#ce0,#ee0,#ce0,#6e1,#1e7,#0ef,#0de,#0ce,#0de,#0ee,#1e6,#7e1,#ce0,#ee0,#ce0,#6e1,#1e5,#0eb,#0ef,#0ef,#0ee,#0eb,#1e7,#1e3,#3e2,#4e1)"></div><div style="top:87.87px;background:linear-gradient(90deg,#118,#02a,#07d,#0ef,#ae0,#ec0,#eb0,#fd0,#2e2,#0df,#09d,#07d,#07d,#08d,#0be,#0df,#0ec,#0e8,#1e6,#1e4,#1e3,#2e2,#1e3,#1e6,#0ed,#0de,#0ae,#08d,#08d,#0ae,#0df,#1e4,#ee0,#ec0,#ed0,#ce0,#1e7,#0ce,#08d,#07d,#08d,#0be,#0ed,#3e1,#de0,#fe0,#de0,#5e1,#0e8,#0ef,#0de,#0de,#0de,#0df,#0ee,#0eb,#0e8,#1e6,#1e3,#3e1,#6e1,#6e1,#3e2,#1e5,#0eb,#0df,#0ce,#0ce,#0de,#0ed,#1e4,#ae0,#ee0,#fe0,#be0,#2e2,#0eb,#0df,#0ce,#0de,#0ef,#0ea,#1e3,#8e1,#ae0,#ae1,#6e1,#1e3,#1e7,#0ea,#0eb,#0ec,#0eb,#0ea,#0e9,#1e7,#1e5,#1e3,#4e1)"></div><div style="top:89.37px;background:linear-gradient(90deg,#118,#02a,#06d,#0df,#9e1,#ec0,#ec0,#de0,#1e7,#0ce,#08d,#07d,#07d,#08d,#0be,#0de,#0ef,#0eb,#0e8,#1e5,#1e3,#2e2,#1e3,#0e9,#0df,#0ae,#08d,#07d,#08d,#0be,#0ea,#9e1,#fd0,#ed0,#de0,#1e5,#0de,#09e,#07d,#08d,#0ae,#0ef,#1e4,#9e1,#ce0,#ae0,#3e2,#0e7,#0ed,#0ef,#0df,#0df,#0df,#0ef,#0ef,#0ed,#0e9,#1e4,#5e1,#9e1,#9e1,#4e1,#1e6,#0ef,#0ce,#0be,#0be,#0df,#0ea,#3e1,#ce0,#ee0,#ce0,#5e1,#0e8,#0ef,#0de,#0de,#0df,#0ed,#1e7,#2e2,#5e1,#5e1,#4e1,#2e2,#1e4,#1e6,#0e8,#0e9,#0eb,#0ed,#0ed,#0ec,#0e9,#1e5,#4e1,#8e1,#ae1)"></div><div style="top:90.87px;background:linear-gradient(90deg,#118,#02a,#06d,#0df,#6e1,#fd0,#fd0,#8e1,#0ec,#0be,#08d,#07d,#07d,#09d,#0be,#0de,#0ef,#0ed,#0e9,#1e5,#2e2,#2e2,#1e6,#0ee,#0be,#08d,#07d,#07d,#09e,#0ef,#2e2,#ee0,#fd0,#de0,#1e3,#0df,#09e,#08d,#08d,#0ae,#0df,#0e8,#4e1,#8e1,#6e1,#1e3,#0e7,#0ec,#0ef,#0ef,#0df,#0de,#0de,#0df,#0ef,#0eb,#1e4,#7e1,#ae0,#9e1,#2e2,#0ea,#0df,#0be,#0be,#0ce,#0ef,#1e6,#7e1,#ce0,#ce0,#7e1,#1e5,#0ec,#0df,#0df,#0df,#0ee,#0ea,#1e7,#1e4,#1e3,#2e2,#2e2,#2e2,#1e3,#1e5,#0e8,#0ec,#0ef,#0ef,#0ef,#0eb,#1e6,#4e1,#9e1,#ae0,#8e1,#2e2)"></div><div style="top:92.38px;background:linear-gradient(90deg,#118,#02a,#06d,#0df,#4e1,#ee0,#de0,#2e2,#0ef,#0ae,#07d,#07d,#07d,#09e,#0be,#0ce,#0df,#0ee,#0e9,#1e5,#2e2,#1e4,#0ea,#0de,#09e,#07d,#06d,#08d,#0ce,#0e8,#ae0,#fe0,#de0,#2e2,#0ef,#0ae,#08d,#08d,#0ae,#0de,#0eb,#1e4,#3e2,#2e2,#1e4,#0e8,#0eb,#0ee,#0ef,#0df,#0de,#0ce,#0de,#0df,#0ea,#1e3,#8e1,#ae0,#7e1,#1e5,#0ef,#0ce,#0ae,#0be,#0de,#0eb,#1e2,#9e1,#ae0,#7e1,#1e4,#0ea,#0ef,#0df,#0ef,#0ef,#0ed,#0ea,#0e8,#1e6,#1e4,#2e2,#3e2,#2e2,#1e4,#0e8,#0ec,#0ef,#0df,#0ef,#0ec,#1e5,#5e1,#9e1,#9e1,#5e1,#1e5,#0ea,#0ee)"></div><div style="top:93.88px;background:linear-gradient(90deg,#118,#02a,#06d,#0de,#2e2,#be0,#9e1,#1e7,#0de,#09d,#07d,#07d,#08d,#09e,#0be,#0ce,#0df,#0ee,#0e9,#1e5,#1e4,#0e8,#0ef,#0ae,#07d,#06c,#07d,#0ae,#0ee,#4e1,#de0,#ce0,#2e2,#0ef,#0ae,#08d,#08d,#09e,#0ce,#0ed,#1e7,#1e4,#1e4,#1e6,#0e8,#0eb,#0ed,#0ef,#0de,#0ce,#0be,#0ce,#0df,#0e9,#2e2,#9e1,#9e1,#2e2,#0ea,#0de,#0be,#0ae,#0ce,#0ef,#1e7,#3e1,#7e1,#6e1,#1e3,#0e8,#0ed,#0ef,#0ef,#0ef,#0ee,#0ed,#0eb,#0e8,#1e5,#2e2,#3e1,#3e2,#1e4,#0e8,#0ee,#0df,#0df,#0ef,#0eb,#1e5,#5e1,#9e1,#7e1,#2e2,#1e7,#0ec,#0ef,#0ef,#0ed)"></div><div style="top:95.38px;background:linear-gradient(90deg,#118,#02a,#06d,#0de,#1e4,#8e1,#3e2,#0ec,#0be,#08d,#06d,#07d,#08d,#09e,#0ae,#0ce,#0de,#0ee,#0e9,#1e5,#1e7,#0ee,#0be,#08d,#06c,#06c,#08d,#0de,#1e5,#9e1,#ae0,#2e2,#0ee,#0be,#08d,#08d,#09e,#0ce,#0ef,#0e9,#1e7,#1e7,#0e8,#0e9,#0eb,#0ee,#0df,#0ce,#0be,#0be,#0ce,#0ef,#0e7,#4e1,#9e1,#5e1,#1e6,#0ef,#0ce,#0ae,#0be,#0de,#0ec,#1e4,#4e1,#4e1,#1e3,#0e8,#0ec,#0ef,#0ef,#0ef,#0ef,#0ef,#0ed,#0ea,#1e6,#1e3,#3e2,#3e2,#1e4,#0e9,#0ef,#0df,#0de,#0ef,#0eb,#1e4,#5e1,#7e1,#4e1,#1e4,#0e9,#0ed,#0ef,#0ee,#0ec,#0e9,#1e7)"></div><div style="top:96.88px;background:linear-gradient(90deg,#118,#02a,#06d,#0de,#1e6,#4e1,#1e5,#0ef,#0ae,#07d,#06d,#07d,#08d,#09e,#0ae,#0ce,#0df,#0ed,#0e9,#0e7,#0ec,#0de,#09d,#06d,#05c,#07d,#0be,#0eb,#4e1,#8e1,#2e2,#0ed,#0be,#08d,#08d,#09e,#0be,#0ef,#0ec,#0e9,#0e8,#0e9,#0ea,#0ec,#0ef,#0de,#0ce,#0ae,#0be,#0ce,#0ee,#1e6,#5e1,#6e1,#1e3,#0ec,#0de,#0be,#0ae,#0ce,#0ef,#0e8,#1e3,#2e2,#1e4,#0e7,#0eb,#0ee,#0ef,#0ef,#0ef,#0ef,#0ef,#0ec,#0e8,#1e4,#2e2,#2e2,#1e5,#0eb,#0ef,#0de,#0de,#0ef,#0ea,#1e4,#4e1,#5e1,#2e2,#1e7,#0eb,#0ee,#0ef,#0ed,#0eb,#0e9,#1e7,#1e5,#1e4)"></div><div style="top:98.38px;background:linear-gradient(90deg,#118,#02a,#06d,#0ce,#0e8,#1e4,#0ea,#0ce,#08d,#06d,#06c,#07d,#08d,#09e,#0ae,#0ce,#0df,#0ed,#0ea,#0eb,#0df,#0ae,#07d,#05c,#06d,#09e,#0ef,#1e4,#5e1,#1e3,#0ed,#0be,#08d,#08d,#09d,#0be,#0df,#0ed,#0eb,#0ea,#0eb,#0ec,#0ee,#0ef,#0de,#0be,#0ae,#0be,#0de,#0ed,#1e5,#4e1,#2e2,#0e8,#0df,#0be,#0ae,#0be,#0de,#0ec,#1e6,#1e4,#1e4,#0e7,#0eb,#0ee,#0ef,#0df,#0df,#0df,#0ef,#0ed,#0e9,#1e5,#2e2,#1e3,#1e6,#0ec,#0df,#0de,#0de,#0ef,#0e9,#1e4,#3e2,#2e2,#1e5,#0e9,#0ed,#0ef,#0ee,#0ed,#0eb,#0e9,#1e7,#1e5,#1e4,#1e4,#1e4)"></div><div style="top:99.89px;background:linear-gradient(90deg,#118,#02a,#06d,#0ce,#0ea,#1e7,#0ee,#0be,#08d,#06c,#06c,#07d,#08d,#09e,#0ae,#0ce,#0df,#0ed,#0ec,#0ef,#0be,#08d,#05c,#05c,#08d,#0ce,#0e9,#2e2,#1e4,#0ed,#0ce,#08d,#08d,#08d,#0ae,#0de,#0ef,#0ec,#0ec,#0ec,#0ed,#0ef,#0df,#0ce,#0ae,#0ae,#0be,#0de,#0eb,#1e4,#2e2,#1e5,#0ed,#0ce,#0ae,#0ae,#0ce,#0ef,#0ea,#1e6,#1e5,#0e8,#0eb,#0ee,#0ef,#0df,#0df,#0df,#0ef,#0ee,#0ea,#1e6,#1e3,#1e4,#0e8,#0ed,#0df,#0de,#0de,#0ef,#0e9,#1e4,#2e2,#1e3,#1e7,#0eb,#0ee,#0ef,#0ee,#0ed,#0ea,#0e9,#1e7,#1e5,#1e5,#1e5,#1e6,#0e9,#0ec)"></div><div style="top:101.39px;background:linear-gradient(90deg,#118,#02a,#06d,#0ce,#0ec,#0ea,#0df,#09e,#07d,#06c,#06c,#07d,#08d,#09e,#0ae,#0ce,#0df,#0ee,#0ef,#0ce,#09d,#06c,#05c,#07d,#0ae,#0ef,#1e6,#1e5,#0ec,#0ce,#09d,#07d,#08d,#0ae,#0ce,#0ef,#0ee,#0ed,#0ee,#0ef,#0df,#0de,#0be,#0ae,#0ae,#0be,#0df,#0ea,#1e4,#1e4,#0ea,#0df,#0be,#0ae,#0ae,#0de,#0ed,#0e8,#1e6,#0e8,#0eb,#0ef,#0ef,#0df,#0df,#0df,#0df,#0ef,#0eb,#0e7,#1e5,#1e5,#0e9,#0ee,#0de,#0de,#0de,#0ee,#0e8,#1e4,#1e3,#1e5,#0e9,#0ed,#0ef,#0ef,#0ee,#0ec,#0ea,#0e8,#1e7,#1e6,#1e5,#1e6,#0e8,#0eb,#0ee,#0ef,#0ed)"></div><div style="top:102.89px;background:linear-gradient(90deg,#118,#02a,#06d,#0be,#0ee,#0ee,#0ce,#08d,#06c,#05c,#06c,#07d,#08d,#09e,#0ae,#0ce,#0df,#0ef,#0de,#0ae,#07d,#05c,#06c,#08d,#0de,#0ea,#1e7,#0ec,#0ce,#09d,#07d,#08d,#09e,#0ce,#0df,#0ef,#0ef,#0ef,#0ef,#0df,#0ce,#0be,#0ae,#0ae,#0be,#0df,#0ea,#1e6,#0e7,#0ee,#0ce,#0ae,#0ae,#0be,#0df,#0eb,#0e8,#0e8,#0eb,#0ef,#0df,#0df,#0de,#0de,#0df,#0ef,#0ed,#0e9,#1e6,#1e7,#0ea,#0ef,#0de,#0ce,#0de,#0ee,#0e9,#1e5,#1e4,#1e7,#0eb,#0ef,#0ef,#0ef,#0ee,#0ec,#0ea,#0e8,#1e7,#1e6,#1e7,#0e8,#0eb,#0ee,#0ef,#0ee,#0eb,#0e7,#1e4)"></div><div style="top:104.39px;background:linear-gradient(90deg,#118,#02a,#06d,#0be,#0ef,#0df,#0be,#07d,#05c,#05c,#06c,#07d,#08d,#09e,#0ae,#0ce,#0df,#0de,#0be,#08d,#06c,#05c,#07d,#0be,#0ef,#0e9,#0ec,#0de,#09e,#07d,#07d,#09d,#0be,#0df,#0ef,#0ef,#0df,#0df,#0de,#0ce,#0ae,#09e,#0ae,#0ce,#0ef,#0ea,#0e7,#0eb,#0df,#0be,#09e,#0ae,#0ce,#0ef,#0ea,#0e8,#0eb,#0ef,#0df,#0de,#0de,#0de,#0df,#0ef,#0ee,#0eb,#0e8,#0e8,#0eb,#0ef,#0de,#0ce,#0de,#0ef,#0e9,#1e5,#1e5,#0e8,#0ed,#0ef,#0df,#0ef,#0ee,#0eb,#0e9,#0e8,#0e8,#0e8,#0e9,#0eb,#0ed,#0ef,#0ef,#0ed,#0e9,#1e6,#1e4,#1e5,#0e8)"></div><div style="top:105.89px;background:linear-gradient(90deg,#118,#02a,#06c,#0be,#0df,#0de,#09e,#06d,#05c,#05c,#06c,#07d,#08d,#09e,#0ae,#0ce,#0de,#0ce,#09e,#06d,#05c,#06c,#09d,#0de,#0ec,#0ec,#0de,#09e,#07d,#07d,#08d,#0be,#0de,#0df,#0df,#0df,#0de,#0ce,#0be,#0ae,#09e,#0ae,#0ce,#0ef,#0eb,#0ea,#0ee,#0ce,#0ae,#09e,#0ae,#0de,#0ed,#0ea,#0ea,#0ee,#0df,#0de,#0ce,#0de,#0de,#0df,#0ef,#0ec,#0ea,#0e9,#0ec,#0ef,#0de,#0ce,#0de,#0ef,#0ea,#1e6,#1e7,#0ea,#0ee,#0df,#0df,#0ef,#0ee,#0eb,#0e9,#0e9,#0e9,#0e9,#0eb,#0ed,#0ef,#0ef,#0ee,#0eb,#0e8,#1e5,#1e5,#0e7,#0eb,#0ee,#0ef)"></div><div style="top:107.40px;background:linear-gradient(90deg,#118,#02a,#06c,#0ae,#0de,#0ce,#08d,#06c,#05c,#05c,#06c,#07d,#08d,#09e,#0be,#0ce,#0ce,#0ae,#07d,#05c,#05c,#07d,#0be,#0ef,#0ed,#0df,#0ae,#07d,#07d,#08d,#0ae,#0ce,#0df,#0df,#0de,#0ce,#0be,#0be,#0ae,#09e,#0ae,#0ce,#0ef,#0ec,#0ec,#0df,#0be,#09e,#09e,#0be,#0df,#0ec,#0eb,#0ed,#0df,#0de,#0ce,#0ce,#0de,#0df,#0ef,#0ee,#0ec,#0eb,#0ed,#0ef,#0de,#0ce,#0de,#0ef,#0eb,#0e7,#0e8,#0eb,#0ef,#0df,#0df,#0ef,#0ee,#0eb,#0e9,#0e9,#0ea,#0eb,#0ed,#0ee,#0ef,#0ef,#0ed,#0ea,#1e7,#1e6,#1e7,#0ea,#0ee,#0ef,#0ee,#0ec,#0e8)"></div><div style="top:108.90px;background:linear-gradient(90deg,#118,#02a,#06c,#0ae,#0ce,#0be,#07d,#05c,#04c,#05c,#06c,#07d,#08d,#09e,#0ae,#0be,#0ae,#08d,#06c,#05c,#06c,#09d,#0de,#0ef,#0df,#0ae,#07d,#06d,#07d,#09e,#0ce,#0de,#0de,#0ce,#0ce,#0be,#0ae,#09e,#09e,#0ae,#0ce,#0df,#0ed,#0ee,#0de,#0ae,#09e,#09e,#0ce,#0ef,#0ec,#0ec,#0ef,#0de,#0ce,#0ce,#0ce,#0de,#0df,#0ef,#0ee,#0ed,#0ee,#0ef,#0de,#0ce,#0ce,#0df,#0ec,#0e9,#0e9,#0ec,#0ef,#0de,#0de,#0df,#0ee,#0eb,#0ea,#0ea,#0ec,#0ed,#0ee,#0ef,#0ef,#0ef,#0ec,#0ea,#0e7,#0e7,#0ea,#0ed,#0ef,#0ef,#0ed,#0ea,#1e7,#1e6,#0e8)"></div><div style="top:110.40px;background:linear-gradient(90deg,#118,#02a,#06c,#0ae,#0be,#09e,#07d,#05c,#04c,#05c,#06d,#07d,#08d,#09e,#0ae,#0ae,#09e,#07d,#05c,#05c,#07d,#0ae,#0df,#0df,#0be,#08d,#06d,#06d,#08d,#0be,#0de,#0de,#0ce,#0be,#0ae,#0ae,#09e,#09e,#0ae,#0ce,#0df,#0ef,#0ef,#0ce,#0ae,#09e,#0ae,#0ce,#0ef,#0ed,#0ef,#0de,#0ce,#0be,#0ce,#0de,#0df,#0ef,#0ef,#0ee,#0ef,#0ef,#0de,#0ce,#0ce,#0de,#0ee,#0ea,#0ea,#0ed,#0df,#0de,#0de,#0df,#0ee,#0eb,#0ea,#0eb,#0ed,#0ef,#0ef,#0ef,#0ef,#0ee,#0ec,#0ea,#0e8,#0e9,#0ec,#0ef,#0ef,#0ef,#0ec,#0e9,#1e7,#0e8,#0ea,#0ec,#0ed)"></div><div style="top:111.90px;background:linear-gradient(90deg,#118,#02a,#06c,#09e,#0be,#09d,#06c,#04c,#04c,#05c,#06d,#07d,#08d,#09e,#0ae,#09e,#08d,#06c,#05c,#06c,#08d,#0ce,#0df,#0ce,#09d,#06d,#06c,#07d,#0ae,#0ce,#0de,#0ce,#0be,#0ae,#09e,#09e,#09e,#0ae,#0be,#0de,#0ef,#0df,#0be,#09e,#09d,#0ae,#0de,#0ef,#0ee,#0df,#0ce,#0be,#0be,#0ce,#0de,#0df,#0ef,#0ef,#0ef,#0df,#0de,#0ce,#0ce,#0de,#0ef,#0ec,#0eb,#0ed,#0df,#0de,#0de,#0df,#0ee,#0eb,#0eb,#0ec,#0ef,#0ef,#0ef,#0ef,#0ef,#0ee,#0ec,#0ea,#0ea,#0eb,#0ee,#0ef,#0ef,#0ee,#0eb,#0e8,#0e8,#0ea,#0ec,#0ee,#0ee,#0ed,#0eb)"></div><div style="top:113.40px;background:linear-gradient(90deg,#118,#02a,#06c,#09e,#0ae,#08d,#05c,#04c,#04c,#05c,#06d,#07d,#08d,#09e,#09e,#08d,#07d,#05c,#05c,#07d,#0ae,#0de,#0ce,#09e,#07d,#06c,#07d,#09e,#0be,#0ce,#0ce,#0ae,#09e,#09e,#09e,#09e,#0ae,#0be,#0de,#0df,#0de,#0be,#09e,#09d,#0ae,#0de,#0ef,#0ef,#0de,#0be,#0ae,#0be,#0ce,#0de,#0df,#0ef,#0df,#0df,#0de,#0ce,#0ce,#0ce,#0df,#0ee,#0ec,#0ed,#0df,#0de,#0ce,#0de,#0ef,#0ec,#0eb,#0ed,#0ef,#0df,#0df,#0ef,#0ef,#0ee,#0ec,#0eb,#0eb,#0ed,#0ef,#0ef,#0ef,#0ee,#0ea,#0e9,#0e9,#0ec,#0ee,#0ef,#0ee,#0ec,#0ea,#0e9,#0e9)"></div><div style="top:114.91px;background:linear-gradient(90deg,#118,#02a,#06c,#09d,#09e,#07d,#05c,#04b,#04c,#05c,#06d,#07d,#08d,#09d,#08d,#07d,#06c,#05c,#05c,#08d,#0be,#0ce,#0ae,#07d,#06c,#06c,#08d,#0ae,#0ce,#0be,#0ae,#09e,#09d,#09d,#09e,#0ae,#0be,#0ce,#0de,#0ce,#0ae,#09d,#09d,#0ae,#0de,#0ef,#0df,#0ce,#0ae,#0ae,#0be,#0ce,#0df,#0df,#0df,#0de,#0de,#0ce,#0ce,#0ce,#0de,#0ef,#0ee,#0ee,#0df,#0de,#0ce,#0de,#0ef,#0ed,#0ec,#0ee,#0ef,#0df,#0df,#0df,#0ef,#0ee,#0ed,#0ec,#0ed,#0ee,#0ef,#0ef,#0ef,#0ed,#0ea,#0e9,#0eb,#0ed,#0ef,#0ef,#0ed,#0eb,#0e9,#0e9,#0ea,#0ec,#0ed)"></div><div style="top:116.41px;background:linear-gradient(90deg,#118,#02a,#05c,#08d,#09d,#06d,#04c,#03b,#04c,#05c,#06d,#07d,#08d,#08d,#08d,#06d,#05c,#05c,#06d,#09e,#0be,#0be,#08d,#06d,#05c,#07d,#09e,#0be,#0be,#0ae,#09d,#08d,#08d,#09e,#09e,#0ae,#0ce,#0ce,#0ce,#0ae,#09d,#09d,#0ae,#0de,#0df,#0df,#0be,#0ae,#0ae,#0be,#0de,#0df,#0df,#0de,#0de,#0ce,#0ce,#0ce,#0ce,#0df,#0ef,#0ef,#0ef,#0de,#0ce,#0ce,#0df,#0ef,#0ed,#0ee,#0df,#0de,#0de,#0df,#0ef,#0ee,#0ed,#0ed,#0ee,#0ef,#0ef,#0ef,#0ef,#0ed,#0eb,#0ea,#0ec,#0ef,#0ef,#0ef,#0ed,#0eb,#0ea,#0ea,#0ec,#0ed,#0ed,#0ed,#0ec)"></div><div style="top:117.91px;background:linear-gradient(90deg,#118,#02a,#05c,#08d,#08d,#06c,#04b,#03b,#04c,#05c,#06d,#07d,#08d,#08d,#07d,#06c,#05c,#05c,#07d,#0ae,#0be,#09e,#07d,#05c,#06d,#08d,#0be,#0be,#0ae,#09d,#08d,#08d,#09d,#09e,#0ae,#0be,#0ce,#0be,#0ae,#08d,#09d,#0ae,#0de,#0df,#0de,#0be,#09e,#0ae,#0be,#0de,#0df,#0de,#0ce,#0ce,#0ce,#0ce,#0ce,#0de,#0df,#0ef,#0ef,#0de,#0ce,#0ce,#0de,#0ef,#0ee,#0ee,#0df,#0de,#0de,#0df,#0ef,#0ee,#0ee,#0ef,#0ef,#0ef,#0df,#0ef,#0ef,#0ee,#0ec,#0ec,#0ed,#0ef,#0ef,#0ef,#0ed,#0eb,#0ea,#0ec,#0ee,#0ee,#0ee,#0ec,#0eb,#0ea,#0ea)"></div><div style="top:119.41px;background:linear-gradient(90deg,#118,#02a,#05c,#08d,#07d,#05c,#03b,#03b,#04c,#06c,#06d,#07d,#07d,#07d,#06d,#05c,#05c,#06c,#08d,#0ae,#0ae,#08d,#06c,#05c,#07d,#09e,#0be,#0ae,#09d,#08d,#08d,#08d,#09e,#0ae,#0be,#0be,#0be,#09e,#08d,#09d,#0ae,#0ce,#0de,#0ce,#0ae,#09e,#09e,#0be,#0de,#0de,#0de,#0ce,#0be,#0be,#0ce,#0ce,#0de,#0df,#0df,#0de,#0ce,#0ce,#0ce,#0df,#0ef,#0ef,#0df,#0de,#0ce,#0de,#0df,#0ef,#0ee,#0ef,#0ef,#0df,#0df,#0df,#0ef,#0ee,#0ed,#0ed,#0ef,#0ef,#0ef,#0ef,#0ed,#0eb,#0eb,#0ed,#0ef,#0ef,#0ee,#0ec,#0eb,#0eb,#0eb,#0ec,#0ed)"></div><div style="top:120.91px;background:linear-gradient(90deg,#118,#02a,#05c,#07d,#07d,#05c,#03b,#03b,#04c,#06c,#06d,#07d,#07d,#07d,#06c,#05c,#05c,#07d,#09e,#0ae,#08d,#06d,#05c,#06d,#08d,#0ae,#0ae,#09d,#08d,#07d,#08d,#09e,#0ae,#0ae,#0be,#0ae,#09e,#08d,#08d,#0ae,#0ce,#0de,#0ce,#0ae,#09e,#09e,#0be,#0de,#0de,#0ce,#0be,#0be,#0be,#0ce,#0ce,#0de,#0df,#0de,#0ce,#0ce,#0ce,#0de,#0df,#0ef,#0ef,#0de,#0ce,#0de,#0df,#0ef,#0ef,#0ef,#0df,#0df,#0df,#0df,#0ef,#0ef,#0ee,#0ee,#0ef,#0ef,#0df,#0ef,#0ed,#0ec,#0ec,#0ee,#0ef,#0ef,#0ee,#0ec,#0eb,#0ec,#0ec,#0ed,#0ed,#0ed,#0ec)"></div><div style="top:122.42px;background:linear-gradient(90deg,#118,#02a,#05c,#07d,#06d,#04c,#03b,#03b,#05c,#06c,#06d,#07d,#07d,#06d,#05c,#05c,#05c,#07d,#09e,#09e,#07d,#05c,#05c,#07d,#09e,#0ae,#09e,#08d,#07d,#08d,#08d,#09e,#0ae,#0ae,#0ae,#09e,#08d,#08d,#09e,#0be,#0ce,#0be,#0ae,#09d,#09e,#0be,#0de,#0de,#0ce,#0be,#0be,#0be,#0ce,#0ce,#0de,#0de,#0de,#0ce,#0be,#0ce,#0de,#0ef,#0ef,#0de,#0ce,#0ce,#0de,#0ef,#0ef,#0ef,#0df,#0de,#0df,#0df,#0ef,#0ef,#0ef,#0ef,#0ef,#0df,#0df,#0ef,#0ee,#0ec,#0ed,#0ef,#0ef,#0ef,#0ee,#0ec,#0ec,#0ec,#0ee,#0ee,#0ee,#0ed,#0ec,#0eb,#0eb)"></div><div style="top:123.92px;background:linear-gradient(90deg,#118,#02a,#05c,#07d,#06c,#04c,#03b,#03b,#05c,#06c,#06d,#06d,#06d,#06c,#05c,#05c,#06c,#08d,#09e,#08d,#06c,#05c,#06c,#08d,#0ae,#09e,#08d,#07d,#07d,#08d,#09e,#09e,#0ae,#09e,#09e,#08d,#08d,#09e,#0be,#0ce,#0be,#09e,#09d,#09e,#0be,#0ce,#0ce,#0be,#0ae,#0ae,#0be,#0ce,#0ce,#0de,#0ce,#0ce,#0be,#0be,#0ce,#0de,#0df,#0df,#0ce,#0ce,#0ce,#0df,#0ef,#0ef,#0df,#0de,#0de,#0df,#0ef,#0ef,#0ef,#0ef,#0ef,#0df,#0df,#0ef,#0ee,#0ed,#0ee,#0ef,#0ef,#0ef,#0ee,#0ec,#0ec,#0ed,#0ef,#0ef,#0ee,#0ed,#0ec,#0ec,#0ec,#0ec,#0ed)"></div><div style="top:125.42px;background:linear-gradient(90deg,#118,#02a,#05c,#07d,#05c,#03b,#03b,#03b,#05c,#06c,#06c,#06d,#06c,#05c,#04c,#05c,#06d,#08d,#08d,#07d,#05c,#05c,#07d,#09e,#09e,#08d,#07d,#07d,#08d,#09d,#09e,#09e,#09e,#09d,#08d,#08d,#09e,#0ae,#0be,#0be,#09e,#08d,#09e,#0be,#0ce,#0ce,#0be,#0ae,#0ae,#0be,#0ce,#0ce,#0ce,#0ce,#0be,#0be,#0ce,#0ce,#0de,#0df,#0de,#0ce,#0ce,#0de,#0df,#0ef,#0df,#0de,#0de,#0de,#0df,#0ef,#0ef,#0ef,#0df,#0df,#0df,#0ef,#0ef,#0ee,#0ef,#0ef,#0df,#0ef,#0ef,#0ed,#0ed,#0ee,#0ef,#0ef,#0ee,#0ed,#0ec,#0ec,#0ed,#0ed,#0ed,#0ed,#0ec)"></div><div style="top:126.92px;background:linear-gradient(90deg,#118,#02a,#05c,#06d,#05c,#03b,#02b,#03b,#05c,#06c,#06c,#06c,#05c,#05c,#04c,#05c,#07d,#08d,#08d,#06c,#05c,#06c,#08d,#09e,#09d,#07d,#06d,#07d,#08d,#09e,#09e,#09e,#09d,#08d,#08d,#09d,#0ae,#0be,#0ae,#09e,#08d,#09e,#0be,#0ce,#0ce,#0ae,#09e,#0ae,#0be,#0ce,#0ce,#0ce,#0be,#0be,#0be,#0ce,#0ce,#0de,#0de,#0ce,#0ce,#0ce,#0de,#0df,#0df,#0de,#0ce,#0de,#0df,#0df,#0ef,#0df,#0df,#0df,#0df,#0df,#0ef,#0ef,#0ef,#0ef,#0df,#0df,#0ef,#0ee,#0ed,#0ef,#0ef,#0ef,#0ee,#0ed,#0ed,#0ed,#0ee,#0ee,#0ee,#0ed,#0ec,#0ec,#0ec)"></div><div style="top:128.42px;background:linear-gradient(90deg,#118,#02a,#05c,#06d,#05c,#03b,#02b,#04b,#05c,#05c,#06c,#05c,#05c,#05c,#04c,#06c,#07d,#08d,#07d,#05c,#05c,#07d,#09d,#09e,#07d,#06d,#06d,#08d,#09d,#09e,#09d,#08d,#08d,#08d,#08d,#09e,#0ae,#0ae,#09e,#08d,#09d,#0ae,#0ce,#0be,#0ae,#09e,#0ae,#0be,#0ce,#0ce,#0be,#0be,#0be,#0be,#0ce,#0ce,#0de,#0ce,#0ce,#0be,#0ce,#0de,#0df,#0de,#0ce,#0ce,#0de,#0df,#0df,#0df,#0df,#0de,#0df,#0df,#0ef,#0ef,#0ef,#0ef,#0df,#0df,#0ef,#0ee,#0ee,#0ef,#0ef,#0ef,#0ef,#0ed,#0ed,#0ee,#0ef,#0ef,#0ee,#0ed,#0ec,#0ec,#0ed,#0ed,#0ed)"></div><div style="top:129.93px;background:linear-gradient(90deg,#118,#02a,#05c,#06c,#04c,#03b,#02b,#04c,#05c,#05c,#05c,#05c,#05c,#04c,#05c,#06c,#07d,#07d,#06c,#05c,#05c,#07d,#09d,#08d,#06d,#06c,#07d,#08d,#09d,#08d,#08d,#08d,#08d,#08d,#09e,#0ae,#0ae,#09e,#08d,#08d,#0ae,#0be,#0be,#0ae,#09e,#0ae,#0be,#0ce,#0be,#0be,#0be,#0be,#0be,#0ce,#0ce,#0ce,#0ce,#0be,#0be,#0ce,#0de,#0de,#0de,#0ce,#0ce,#0de,#0df,#0df,#0de,#0de,#0de,#0df,#0df,#0ef,#0ef,#0df,#0df,#0df,#0ef,#0ef,#0ef,#0ef,#0ef,#0ef,#0ef,#0ee,#0ee,#0ef,#0ef,#0ef,#0ee,#0ed,#0ed,#0ed,#0ed,#0ee,#0ee,#0ed,#0ec)"></div><div style="top:131.43px;background:linear-gradient(90deg,#118,#02a,#05c,#05c,#04c,#02b,#02b,#04c,#05c,#05c,#05c,#05c,#05c,#04c,#05c,#06d,#07d,#07d,#05c,#05c,#06d,#08d,#08d,#07d,#06c,#06d,#08d,#08d,#08d,#08d,#08d,#08d,#08d,#09d,#09e,#0ae,#09e,#08d,#08d,#09e,#0be,#0be,#0ae,#09e,#09e,#0be,#0be,#0be,#0ae,#0ae,#0be,#0be,#0ce,#0ce,#0ce,#0be,#0be,#0be,#0ce,#0de,#0de,#0ce,#0ce,#0ce,#0de,#0df,#0de,#0de,#0de,#0de,#0df,#0df,#0df,#0df,#0df,#0df,#0df,#0ef,#0ef,#0ef,#0df,#0df,#0ef,#0ef,#0ee,#0ef,#0ef,#0ef,#0ef,#0ee,#0ed,#0ee,#0ee,#0ee,#0ee,#0ed,#0ec,#0ec,#0ed)"></div><div style="top:132.93px;background:linear-gradient(90deg,#118,#02a,#04c,#05c,#04b,#02b,#03b,#04c,#05c,#05c,#05c,#05c,#04c,#04c,#05c,#07d,#07d,#06c,#05c,#05c,#07d,#08d,#08d,#06d,#06c,#07d,#08d,#08d,#08d,#07d,#07d,#08d,#08d,#09e,#09e,#09e,#08d,#08d,#09e,#0ae,#0be,#09e,#09d,#09e,#0ae,#0be,#0be,#0ae,#0ae,#0ae,#0be,#0ce,#0ce,#0ce,#0be,#0be,#0be,#0ce,#0de,#0ce,#0ce,#0ce,#0ce,#0de,#0df,#0de,#0ce,#0de,#0de,#0df,#0df,#0df,#0df,#0df,#0df,#0df,#0ef,#0ef,#0df,#0df,#0ef,#0ef,#0ef,#0ef,#0ef,#0ef,#0ef,#0ee,#0ee,#0ee,#0ef,#0ef,#0ee,#0ed,#0ed,#0ed,#0ed,#0ee,#0ed)"></div><div style="top:134.43px;background:linear-gradient(90deg,#118,#02a,#04c,#05c,#03b,#02a,#03b,#04c,#05c,#05c,#05c,#04c,#04c,#04c,#05c,#07d,#06d,#05c,#04c,#05c,#07d,#08d,#07d,#06c,#06c,#07d,#08d,#08d,#07d,#07d,#08d,#08d,#08d,#09e,#09e,#08d,#08d,#09d,#0ae,#0ae,#09e,#09d,#09e,#0ae,#0be,#0be,#0ae,#0ae,#0ae,#0be,#0be,#0be,#0be,#0be,#0be,#0ce,#0ce,#0ce,#0ce,#0be,#0ce,#0de,#0de,#0de,#0ce,#0ce,#0de,#0df,#0df,#0de,#0de,#0de,#0df,#0df,#0df,#0df,#0df,#0df,#0df,#0ef,#0ef,#0ef,#0ef,#0ef,#0ef,#0ef,#0ee,#0ef,#0ef,#0ef,#0ee,#0ee,#0ed,#0ee,#0ee,#0ee,#0ee,#0ed,#0ec)"></div><div style="top:135.93px;background:linear-gradient(90deg,#118,#02a,#04c,#05c,#03b,#02a,#03b,#04c,#05c,#05c,#04c,#04c,#04c,#04c,#06c,#06d,#06c,#05c,#05c,#06d,#08d,#07d,#06c,#05c,#07d,#08d,#08d,#07d,#07d,#07d,#08d,#08d,#09d,#09d,#08d,#08d,#08d,#09e,#0ae,#09e,#08d,#09d,#0ae,#0be,#0be,#0ae,#09e,#0ae,#0be,#0be,#0be,#0be,#0be,#0be,#0be,#0ce,#0ce,#0ce,#0be,#0ce,#0de,#0de,#0de,#0ce,#0ce,#0de,#0de,#0de,#0de,#0de,#0de,#0df,#0df,#0df,#0df,#0df,#0df,#0df,#0ef,#0ef,#0df,#0df,#0ef,#0ef,#0ef,#0ef,#0ef,#0ef,#0ef,#0ee,#0ee,#0ee,#0ee,#0ee,#0ee,#0ed,#0ed,#0ed,#0ed)"></div><div style="top:137.44px;background:linear-gradient(90deg,#118,#02a,#04c,#04c,#03b,#02a,#03b,#04c,#05c,#04c,#04c,#04c,#04c,#05c,#06c,#06d,#05c,#04c,#05c,#07d,#08d,#07d,#05c,#06c,#07d,#08d,#08d,#07d,#07d,#07d,#08d,#08d,#08d,#08d,#08d,#08d,#09e,#0ae,#09e,#08d,#08d,#09e,#0ae,#0ae,#09e,#09e,#0ae,#0be,#0be,#0be,#0be,#0be,#0be,#0be,#0ce,#0ce,#0be,#0be,#0ce,#0de,#0de,#0ce,#0ce,#0ce,#0de,#0de,#0de,#0de,#0de,#0de,#0df,#0df,#0df,#0df,#0df,#0df,#0df,#0ef,#0df,#0df,#0df,#0ef,#0ef,#0ef,#0ef,#0ef,#0ef,#0ef,#0ee,#0ef,#0ef,#0ef,#0ee,#0ee,#0ed,#0ee,#0ee,#0ee,#0ed)"></div><div style="top:138.94px;background:linear-gradient(90deg,#118,#02a,#04c,#04c,#03b,#02a,#03b,#04c,#05c,#04c,#04c,#04c,#04c,#05c,#06c,#06c,#05c,#04c,#05c,#07d,#07d,#06c,#05c,#06d,#08d,#08d,#07d,#07d,#07d,#08d,#08d,#08d,#08d,#08d,#08d,#08d,#09e,#09e,#08d,#08d,#09e,#0ae,#0ae,#09e,#09e,#0ae,#0be,#0be,#0ae,#0ae,#0ae,#0be,#0be,#0ce,#0be,#0be,#0be,#0ce,#0ce,#0ce,#0ce,#0ce,#0ce,#0de,#0de,#0de,#0ce,#0de,#0de,#0df,#0de,#0de,#0de,#0df,#0df,#0df,#0df,#0df,#0df,#0df,#0ef,#0ef,#0ef,#0ef,#0ef,#0ef,#0ef,#0ef,#0ef,#0ef,#0ef,#0ee,#0ee,#0ee,#0ee,#0ee,#0ed,#0ed,#0ed)"></div><div style="top:140.44px;background:linear-gradient(90deg,#118,#02a,#04c,#04c,#02b,#02a,#03b,#04c,#04c,#04c,#04c,#04c,#04c,#05c,#06c,#05c,#04c,#04c,#06c,#07d,#06d,#05c,#05c,#07d,#08d,#07d,#06d,#07d,#07d,#08d,#08d,#08d,#08d,#08d,#08d,#09e,#09e,#09d,#08d,#09d,#0ae,#0ae,#09e,#09e,#09e,#0ae,#0be,#0ae,#0ae,#0ae,#0be,#0be,#0be,#0be,#0be,#0be,#0ce,#0ce,#0ce,#0ce,#0ce,#0ce,#0de,#0de,#0ce,#0ce,#0de,#0de,#0de,#0de,#0de,#0de,#0df,#0df,#0df,#0df,#0df,#0df,#0ef,#0ef,#0ef,#0df,#0ef,#0ef,#0ef,#0ef,#0ef,#0ef,#0ef,#0ef,#0ee,#0ef,#0ef,#0ee,#0ee,#0ed,#0ed,#0ee,#0ee)"></div><div style="top:141.94px;background:linear-gradient(90deg,#118,#02a,#04c,#04c,#02b,#02a,#03b,#04c,#04c,#04c,#04c,#04c,#04c,#05c,#06c,#05c,#04c,#05c,#06d,#07d,#06c,#05c,#06c,#07d,#07d,#07d,#06d,#07d,#08d,#08d,#08d,#08d,#08d,#08d,#08d,#09e,#09d,#08d,#08d,#09e,#0ae,#09e,#09d,#09e,#0ae,#0ae,#0ae,#0ae,#0ae,#0be,#0be,#0be,#0be,#0be,#0be,#0be,#0ce,#0ce,#0be,#0be,#0ce,#0de,#0ce,#0ce,#0ce,#0de,#0de,#0de,#0de,#0de,#0de,#0df,#0df,#0df,#0df,#0df,#0df,#0df,#0df,#0df,#0df,#0ef,#0ef,#0ef,#0ef,#0ef,#0ef,#0ef,#0ef,#0ef,#0ef,#0ef,#0ee,#0ee,#0ee,#0ee,#0ee,#0ed,#0ed)"></div><div style="top:143.44px;background:linear-gradient(90deg,#118,#02a,#04c,#04b,#02a,#02a,#03b,#04c,#04c,#04b,#04b,#04c,#04c,#05c,#05c,#05c,#04c,#05c,#07d,#06d,#05c,#05c,#06d,#07d,#07d,#06d,#06d,#07d,#08d,#08d,#07d,#07d,#08d,#08d,#09d,#09d,#08d,#08d,#09e,#0ae,#09e,#09d,#09e,#0ae,#0ae,#0ae,#09e,#0ae,#0ae,#0be,#0be,#0be,#0be,#0be,#0be,#0ce,#0be,#0be,#0be,#0ce,#0ce,#0ce,#0ce,#0ce,#0de,#0de,#0de,#0de,#0de,#0de,#0de,#0de,#0de,#0de,#0df,#0df,#0df,#0df,#0df,#0df,#0ef,#0ef,#0ef,#0ef,#0ef,#0ef,#0ef,#0ef,#0ef,#0ef,#0ef,#0ee,#0ee,#0ee,#0ee,#0ee,#0ed,#0ed,#0ed)"></div><div style="top:144.95px;background:linear-gradient(90deg,#118,#02a,#04c,#03b,#02a,#02a,#03b,#04c,#04c,#04b,#04b,#04c,#04c,#05c,#05c,#04c,#04c,#05c,#07d,#06c,#05c,#05c,#07d,#07d,#06d,#06c,#07d,#07d,#08d,#07d,#07d,#07d,#08d,#08d,#08d,#08d,#08d,#08d,#09e,#09e,#09d,#09d,#09e,#0ae,#0ae,#09e,#0ae,#0ae,#0be,#0be,#0ae,#0ae,#0be,#0be,#0be,#0be,#0be,#0be,#0ce,#0ce,#0ce,#0ce,#0ce,#0de,#0de,#0ce,#0ce,#0de,#0de,#0de,#0de,#0de,#0de,#0df,#0df,#0df,#0df,#0df,#0df,#0ef,#0df,#0df,#0df,#0ef,#0ef,#0ef,#0ef,#0ef,#0ef,#0ef,#0ef,#0ef,#0ef,#0ee,#0ee,#0ee,#0ee,#0ee,#0ed)"></div></div><div class="hm" style="left:790.5px;top:36.5px;width:147px;height:147.2px;--r:3.004px"><div style="top:0;height:2.25px;-webkit-mask-image:none;mask-image:none;background:linear-gradient(90deg,#118,#02a,#04c,#04c,#03b,#03b,#02b,#03b,#04c,#05c,#04c,#03b,#04b,#05c,#06c,#06c,#05c,#05c,#05c,#06c,#07d,#07d,#06c,#06c,#06d,#07d,#08d,#08d,#07d,#07d,#07d,#08d,#09e,#08d,#08d,#08d,#08d,#09e,#0ae,#09e,#08d,#09d,#09e,#0ae,#0ae,#0ae,#09e,#0ae,#0ae,#0be,#0be,#0be,#0ae,#0be,#0ce,#0ce,#0ce,#0be,#0be,#0ce,#0ce,#0de,#0ce,#0ce,#0ce,#0de,#0de,#0de,#0de,#0de,#0de,#0de,#0df,#0df,#0df,#0de,#0df,#0df,#0ef,#0ef,#0df,#0df,#0ef,#0ef,#0ef,#0ef,#0ef,#0ef,#0ef,#0ef,#0ee,#0ee,#0ef,#0ef,#0ee,#0ed,#0ed,#0ed,#0ee)"></div><div style="top:0.75px;background:linear-gradient(90deg,#118,#02a,#04c,#04c,#03b,#03b,#02b,#03b,#04c,#06c,#05c,#03b,#03b,#05c,#06c,#06c,#06c,#05c,#05c,#05c,#07d,#07d,#06d,#06c,#06d,#07d,#08d,#08d,#08d,#07d,#07d,#08d,#09e,#09e,#08d,#08d,#08d,#09d,#09e,#0ae,#09e,#09d,#09e,#0ae,#0be,#0ae,#0ae,#0ae,#0ae,#0be,#0be,#0be,#0be,#0ae,#0be,#0ce,#0ce,#0ce,#0ce,#0be,#0ce,#0ce,#0de,#0de,#0ce,#0ce,#0ce,#0de,#0df,#0df,#0de,#0de,#0de,#0df,#0df,#0df,#0df,#0df,#0df,#0ef,#0ef,#0ef,#0ef,#0df,#0ef,#0ef,#0ef,#0ef,#0ef,#0ef,#0ef,#0ee,#0ed,#0ee,#0ee,#0ee,#0ee,#0ed,#0ec)"></div><div style="top:2.25px;background:linear-gradient(90deg,#118,#02a,#04c,#04c,#03b,#03b,#03b,#03b,#04c,#06c,#05c,#04b,#03b,#04c,#06c,#06d,#06d,#06c,#05c,#05c,#06d,#08d,#07d,#06d,#06c,#06d,#07d,#08d,#08d,#08d,#07d,#07d,#08d,#09e,#09e,#08d,#08d,#08d,#09e,#0ae,#0ae,#09e,#09d,#09e,#0ae,#0be,#0be,#0ae,#0ae,#0ae,#0be,#0ce,#0ce,#0be,#0be,#0be,#0ce,#0ce,#0ce,#0ce,#0ce,#0ce,#0ce,#0de,#0de,#0de,#0ce,#0ce,#0de,#0df,#0df,#0df,#0de,#0de,#0df,#0df,#0ef,#0df,#0df,#0df,#0df,#0ef,#0ef,#0ef,#0ef,#0ef,#0ef,#0ef,#0ee,#0ee,#0ef,#0ef,#0ef,#0ed,#0ed,#0ed,#0ee,#0ee,#0ed)"></div><div style="top:3.76px;background:linear-gradient(90deg,#118,#02a,#04c,#04c,#04b,#03b,#03b,#03b,#04c,#06c,#06c,#04c,#03b,#04c,#05c,#06d,#06d,#06d,#05c,#05c,#06c,#08d,#08d,#07d,#06d,#06d,#07d,#08d,#09d,#08d,#07d,#07d,#08d,#09e,#09e,#09e,#08d,#08d,#08d,#09e,#0ae,#0ae,#09e,#09e,#09e,#0ae,#0be,#0be,#0be,#0ae,#0ae,#0be,#0ce,#0ce,#0ce,#0be,#0be,#0be,#0ce,#0de,#0de,#0ce,#0ce,#0ce,#0de,#0de,#0de,#0de,#0de,#0de,#0de,#0df,#0df,#0df,#0de,#0df,#0df,#0ef,#0ef,#0ef,#0df,#0df,#0ef,#0ef,#0ef,#0ef,#0ef,#0ef,#0ef,#0ee,#0ee,#0ee,#0ee,#0ef,#0ee,#0ed,#0ed,#0ed,#0ed)"></div><div style="top:5.26px;background:linear-gradient(90deg,#118,#02a,#04c,#05c,#04c,#03b,#03b,#03b,#04b,#06c,#06d,#05c,#03b,#04c,#05c,#06d,#07d,#07d,#06c,#05c,#05c,#07d,#08d,#07d,#07d,#06d,#07d,#07d,#08d,#09e,#08d,#07d,#07d,#08d,#09e,#09e,#09e,#09d,#08d,#08d,#0ae,#0be,#0be,#0ae,#09e,#09e,#0ae,#0be,#0be,#0be,#0ae,#0ae,#0be,#0ce,#0ce,#0ce,#0be,#0be,#0be,#0ce,#0de,#0de,#0ce,#0ce,#0ce,#0de,#0de,#0df,#0df,#0de,#0de,#0de,#0df,#0ef,#0df,#0df,#0df,#0df,#0ef,#0ef,#0ef,#0ef,#0df,#0df,#0ef,#0ef,#0ee,#0ef,#0ef,#0ef,#0ef,#0ee,#0ed,#0ed,#0ee,#0ee,#0ee,#0ed,#0ec)"></div><div style="top:6.76px;background:linear-gradient(90deg,#118,#02a,#04c,#05c,#04c,#03b,#03b,#03b,#03b,#06c,#07d,#05c,#04b,#04b,#05c,#06c,#07d,#07d,#06d,#05c,#05c,#06d,#08d,#08d,#07d,#07d,#06d,#07d,#08d,#09e,#09e,#08d,#07d,#07d,#09d,#09e,#0ae,#09e,#09e,#08d,#09d,#0ae,#0be,#0be,#0ae,#09e,#0ae,#0ae,#0be,#0ce,#0ce,#0be,#0ae,#0be,#0ce,#0ce,#0ce,#0ce,#0be,#0be,#0ce,#0de,#0df,#0de,#0ce,#0ce,#0de,#0de,#0df,#0df,#0df,#0de,#0de,#0df,#0ef,#0ef,#0ef,#0df,#0df,#0df,#0ef,#0ef,#0ef,#0ef,#0ef,#0ef,#0ef,#0ee,#0ee,#0ee,#0ef,#0ef,#0ef,#0ee,#0ec,#0ec,#0ed,#0ee,#0ee)"></div><div style="top:8.26px;background:linear-gradient(90deg,#118,#02a,#04c,#05c,#04c,#04b,#03b,#03b,#03b,#05c,#07d,#06c,#04c,#04b,#05c,#06c,#07d,#07d,#07d,#06c,#05c,#06c,#07d,#08d,#08d,#07d,#07d,#07d,#07d,#08d,#0ae,#09e,#08d,#07d,#08d,#09e,#0ae,#0ae,#0ae,#09e,#08d,#09e,#0ae,#0be,#0be,#0ae,#0ae,#0ae,#0ae,#0be,#0ce,#0ce,#0be,#0ae,#0be,#0ce,#0ce,#0de,#0ce,#0ce,#0be,#0ce,#0de,#0df,#0df,#0de,#0ce,#0ce,#0de,#0df,#0ef,#0df,#0df,#0de,#0de,#0df,#0ef,#0ef,#0ef,#0df,#0df,#0df,#0ef,#0ee,#0ee,#0ef,#0ef,#0ef,#0ef,#0ee,#0ed,#0ed,#0ee,#0ef,#0ee,#0ed,#0ec,#0ec,#0ec)"></div><div style="top:9.76px;background:linear-gradient(90deg,#118,#02a,#04c,#05c,#05c,#04c,#03b,#03b,#03b,#05c,#07d,#07d,#05c,#04c,#04c,#05c,#06d,#07d,#08d,#06d,#05c,#05c,#07d,#08d,#08d,#08d,#07d,#07d,#07d,#08d,#09e,#0ae,#09e,#08d,#08d,#08d,#09e,#0ae,#0be,#0ae,#09e,#08d,#09e,#0ae,#0be,#0be,#0be,#0ae,#0ae,#0ae,#0be,#0ce,#0ce,#0ce,#0be,#0be,#0ce,#0ce,#0de,#0de,#0ce,#0ce,#0ce,#0ce,#0df,#0df,#0df,#0de,#0de,#0de,#0de,#0df,#0ef,#0ef,#0df,#0de,#0df,#0ef,#0ef,#0ef,#0ef,#0ef,#0df,#0ef,#0ef,#0ee,#0ee,#0ee,#0ef,#0ef,#0ef,#0ee,#0ec,#0ec,#0ed,#0ee,#0ee,#0ed,#0ec)"></div><div style="top:11.27px;background:linear-gradient(90deg,#118,#02a,#04c,#05c,#05c,#04c,#03b,#03b,#03b,#05c,#07d,#07d,#05c,#04c,#04c,#05c,#06d,#07d,#08d,#07d,#06c,#05c,#06c,#08d,#09d,#09d,#08d,#07d,#07d,#07d,#08d,#0ae,#0ae,#09e,#08d,#08d,#08d,#09e,#0ae,#0be,#0ae,#09e,#09d,#09e,#0be,#0ce,#0ce,#0be,#0ae,#0ae,#0ae,#0be,#0de,#0de,#0ce,#0be,#0be,#0be,#0ce,#0de,#0df,#0de,#0ce,#0ce,#0ce,#0de,#0df,#0df,#0df,#0de,#0de,#0de,#0df,#0ef,#0ef,#0ef,#0df,#0df,#0df,#0ef,#0ef,#0ee,#0ef,#0ef,#0ef,#0ef,#0ef,#0ed,#0ed,#0ed,#0ee,#0ef,#0ef,#0ee,#0ec,#0ec,#0ec,#0ed,#0ee)"></div><div style="top:12.77px;background:linear-gradient(90deg,#118,#02a,#05c,#06c,#05c,#04c,#04c,#03b,#03b,#04c,#07d,#08d,#06d,#04c,#04c,#05c,#06c,#07d,#08d,#08d,#07d,#05c,#05c,#07d,#08d,#09e,#09d,#08d,#07d,#07d,#07d,#09e,#0ae,#0ae,#09e,#08d,#08d,#09d,#09e,#0be,#0ce,#0be,#09e,#09e,#09e,#0be,#0ce,#0ce,#0ce,#0be,#0ae,#0ae,#0be,#0de,#0de,#0de,#0ce,#0be,#0be,#0ce,#0de,#0df,#0df,#0de,#0ce,#0ce,#0de,#0df,#0ef,#0ef,#0df,#0de,#0de,#0de,#0df,#0ef,#0ef,#0ef,#0df,#0df,#0df,#0ef,#0ee,#0ed,#0ee,#0ef,#0ef,#0ef,#0ef,#0ed,#0ec,#0ec,#0ed,#0ef,#0ef,#0ee,#0ec,#0eb,#0eb)"></div><div style="top:14.27px;background:linear-gradient(90deg,#118,#02a,#05c,#06c,#06c,#05c,#04c,#03b,#03b,#04c,#07d,#08d,#07d,#05c,#04c,#05c,#05c,#06d,#08d,#09e,#08d,#06c,#05c,#06d,#08d,#09e,#09e,#09e,#08d,#07d,#07d,#08d,#0ae,#0be,#0ae,#09e,#08d,#08d,#09d,#0ae,#0be,#0ce,#0be,#0ae,#09e,#09e,#0be,#0ce,#0ce,#0ce,#0ce,#0be,#0ae,#0be,#0ce,#0de,#0de,#0de,#0ce,#0ce,#0ce,#0de,#0df,#0ef,#0df,#0de,#0ce,#0de,#0de,#0df,#0ef,#0ef,#0ef,#0df,#0de,#0df,#0ef,#0ef,#0ee,#0ef,#0ef,#0df,#0df,#0ef,#0ee,#0ec,#0ed,#0ee,#0ef,#0ef,#0ef,#0ed,#0ec,#0eb,#0ec,#0ee,#0ee,#0ee,#0ec)"></div><div style="top:15.77px;background:linear-gradient(90deg,#118,#02a,#05c,#06d,#06c,#05c,#04c,#03b,#03b,#04b,#06d,#08d,#08d,#06c,#05c,#05c,#05c,#06d,#08d,#09e,#09e,#07d,#05c,#06c,#07d,#08d,#09e,#0ae,#09e,#08d,#07d,#07d,#08d,#0ae,#0be,#0ae,#09e,#09d,#08d,#09d,#0ae,#0ce,#0ce,#0ce,#0ae,#09e,#0ae,#0be,#0ce,#0de,#0de,#0ce,#0be,#0ae,#0be,#0ce,#0de,#0df,#0de,#0de,#0ce,#0ce,#0ce,#0de,#0ef,#0ef,#0df,#0de,#0de,#0de,#0df,#0ef,#0ef,#0ef,#0ef,#0df,#0de,#0df,#0ef,#0ee,#0ed,#0ee,#0ef,#0ef,#0df,#0ef,#0ed,#0ec,#0ec,#0ed,#0ee,#0ef,#0ef,#0ed,#0ec,#0eb,#0eb,#0ec,#0ed)"></div><div style="top:17.27px;background:linear-gradient(90deg,#118,#02a,#05c,#06d,#06d,#05c,#05c,#04b,#03b,#03b,#06c,#08d,#08d,#07d,#05c,#05c,#05c,#06c,#07d,#09e,#0ae,#08d,#06d,#05c,#06d,#08d,#09e,#0ae,#0ae,#09e,#08d,#07d,#07d,#09e,#0be,#0be,#0be,#0ae,#09e,#08d,#09d,#0ae,#0ce,#0de,#0ce,#0be,#0ae,#0ae,#0ae,#0be,#0de,#0df,#0de,#0ce,#0be,#0be,#0ce,#0de,#0df,#0df,#0df,#0de,#0ce,#0ce,#0de,#0df,#0ef,#0ef,#0df,#0de,#0de,#0de,#0df,#0ef,#0ee,#0ee,#0ef,#0df,#0df,#0df,#0ef,#0ee,#0ec,#0ed,#0ee,#0ef,#0ef,#0ef,#0ed,#0ec,#0eb,#0ec,#0ed,#0ee,#0ef,#0ee,#0ec,#0ea,#0ea)"></div><div style="top:18.78px;background:linear-gradient(90deg,#118,#02a,#05c,#07d,#07d,#06c,#05c,#04c,#03b,#03b,#05c,#08d,#09e,#08d,#06c,#05c,#05c,#05c,#06d,#08d,#0ae,#0ae,#08d,#06c,#06c,#07d,#08d,#09e,#0ae,#0be,#09e,#08d,#07d,#08d,#09e,#0be,#0ce,#0be,#0ae,#09e,#09d,#09d,#0ae,#0ce,#0de,#0ce,#0be,#0ae,#0ae,#0ae,#0be,#0de,#0df,#0df,#0de,#0be,#0be,#0be,#0de,#0df,#0ef,#0ef,#0df,#0de,#0ce,#0ce,#0df,#0ef,#0ef,#0ef,#0ef,#0df,#0de,#0de,#0df,#0ef,#0ed,#0ed,#0ef,#0ef,#0df,#0df,#0ef,#0ee,#0ec,#0ec,#0ed,#0ef,#0ef,#0ef,#0ee,#0ec,#0eb,#0eb,#0ec,#0ed,#0ee,#0ee,#0ec)"></div><div style="top:20.28px;background:linear-gradient(90deg,#118,#02a,#05c,#07d,#07d,#06d,#06c,#04c,#03b,#03b,#05c,#08d,#09e,#09d,#07d,#05c,#05c,#05c,#06c,#07d,#0ae,#0be,#09e,#07d,#06c,#06d,#07d,#09d,#0ae,#0be,#0be,#09e,#08d,#07d,#08d,#0ae,#0be,#0ce,#0ce,#0be,#0ae,#09d,#09d,#0ae,#0ce,#0df,#0de,#0ce,#0be,#0ae,#0ae,#0be,#0ce,#0df,#0ef,#0df,#0ce,#0be,#0be,#0ce,#0de,#0df,#0ef,#0ef,#0df,#0ce,#0ce,#0de,#0df,#0ef,#0ee,#0ee,#0ef,#0df,#0de,#0de,#0ef,#0ee,#0ec,#0ec,#0ee,#0ef,#0ef,#0df,#0ef,#0ed,#0eb,#0eb,#0ec,#0ee,#0ef,#0ef,#0ee,#0ed,#0eb,#0ea,#0ea,#0ec,#0ed)"></div><div style="top:21.78px;background:linear-gradient(90deg,#118,#02a,#05c,#07d,#07d,#07d,#06d,#05c,#03b,#03b,#04c,#07d,#0ae,#09e,#08d,#06d,#05c,#05c,#05c,#07d,#09e,#0be,#0be,#08d,#07d,#06d,#07d,#08d,#09e,#0be,#0ce,#0be,#09e,#08d,#07d,#08d,#0ae,#0ce,#0ce,#0ce,#0ce,#0ae,#09e,#09d,#0ae,#0ce,#0df,#0df,#0de,#0ce,#0be,#0ae,#0ae,#0ce,#0df,#0ef,#0ef,#0de,#0ce,#0ce,#0ce,#0ce,#0df,#0ef,#0ee,#0ef,#0df,#0de,#0ce,#0de,#0df,#0ef,#0ed,#0ed,#0ef,#0df,#0de,#0df,#0ef,#0ee,#0ec,#0ec,#0ec,#0ee,#0ef,#0ef,#0ef,#0ee,#0eb,#0ea,#0ea,#0ec,#0ee,#0ef,#0ef,#0ed,#0eb,#0e9,#0e9)"></div><div style="top:23.28px;background:linear-gradient(90deg,#118,#02a,#05c,#08d,#08d,#07d,#07d,#05c,#04c,#03b,#04b,#07d,#09e,#0ae,#09d,#07d,#06d,#05c,#05c,#06c,#08d,#0be,#0ce,#0ae,#08d,#07d,#07d,#07d,#08d,#0ae,#0ce,#0de,#0ce,#09e,#08d,#08d,#09d,#0ae,#0ce,#0de,#0de,#0ce,#0be,#09e,#09d,#0ae,#0ce,#0df,#0df,#0df,#0de,#0ce,#0ae,#0ae,#0be,#0de,#0ef,#0ef,#0ef,#0de,#0ce,#0ce,#0ce,#0de,#0ef,#0ed,#0ed,#0ef,#0df,#0de,#0de,#0de,#0ef,#0ee,#0ec,#0ec,#0ee,#0ef,#0df,#0df,#0ef,#0ee,#0ec,#0eb,#0eb,#0ec,#0ef,#0ef,#0ef,#0ee,#0ec,#0ea,#0e9,#0ea,#0ec,#0ed,#0ee,#0ee,#0ec)"></div><div style="top:24.78px;background:linear-gradient(90deg,#118,#02a,#05c,#08d,#08d,#08d,#07d,#06d,#04c,#03b,#03b,#06c,#09e,#0be,#0ae,#08d,#07d,#06c,#05c,#05c,#07d,#0ae,#0ce,#0ce,#0ae,#08d,#07d,#07d,#07d,#08d,#0ae,#0de,#0de,#0ce,#09e,#08d,#08d,#09e,#0ae,#0ce,#0de,#0df,#0de,#0be,#09e,#09e,#0ae,#0ce,#0df,#0df,#0ef,#0df,#0de,#0be,#0ae,#0be,#0de,#0ef,#0ee,#0ef,#0ef,#0de,#0ce,#0ce,#0ce,#0de,#0ef,#0ec,#0ec,#0ef,#0df,#0de,#0de,#0de,#0ef,#0ee,#0eb,#0ea,#0ec,#0ef,#0df,#0df,#0ef,#0ee,#0ec,#0ea,#0e9,#0eb,#0ed,#0ef,#0ef,#0ef,#0ec,#0ea,#0e9,#0e9,#0e9,#0eb,#0ed)"></div><div style="top:26.29px;background:linear-gradient(90deg,#118,#02a,#05c,#08d,#09e,#08d,#08d,#07d,#05c,#03b,#03b,#05c,#09d,#0be,#0be,#09e,#08d,#07d,#06c,#05c,#06c,#08d,#0ce,#0de,#0ce,#09e,#08d,#07d,#07d,#08d,#09e,#0be,#0df,#0df,#0ce,#09e,#08d,#08d,#09e,#0ae,#0ce,#0df,#0ef,#0df,#0ce,#0ae,#09e,#0ae,#0be,#0de,#0ef,#0ef,#0ef,#0df,#0ce,#0be,#0be,#0ce,#0df,#0ef,#0ed,#0ee,#0ef,#0df,#0ce,#0ce,#0ce,#0df,#0ed,#0eb,#0ec,#0ee,#0ef,#0df,#0de,#0de,#0ef,#0ed,#0ea,#0e9,#0eb,#0ee,#0ef,#0ef,#0ef,#0ef,#0ed,#0ea,#0e8,#0e9,#0eb,#0ee,#0ef,#0ef,#0ed,#0eb,#0e9,#0e8,#0e8)"></div><div style="top:27.79px;background:linear-gradient(90deg,#118,#02a,#05c,#08d,#09e,#09e,#08d,#07d,#05c,#03b,#03b,#04c,#08d,#0be,#0ce,#0ae,#09d,#08d,#06d,#05c,#05c,#07d,#0ae,#0de,#0df,#0ce,#09e,#08d,#07d,#07d,#08d,#09e,#0ce,#0ef,#0ef,#0ce,#0ae,#08d,#08d,#09e,#0ae,#0ce,#0df,#0ee,#0ef,#0de,#0ae,#09e,#0ae,#0be,#0de,#0df,#0ef,#0ed,#0ef,#0de,#0be,#0be,#0be,#0de,#0ef,#0ed,#0ec,#0ed,#0ef,#0df,#0ce,#0ce,#0de,#0ef,#0ec,#0eb,#0eb,#0ec,#0ef,#0df,#0de,#0de,#0ef,#0ed,#0ea,#0e9,#0ea,#0ec,#0ee,#0ef,#0ef,#0ef,#0ed,#0ea,#0e8,#0e7,#0e9,#0ec,#0ee,#0ee,#0ee,#0ed,#0eb)"></div><div style="top:29.29px;background:linear-gradient(90deg,#118,#02a,#05c,#09d,#0ae,#0ae,#09e,#08d,#06d,#04c,#03b,#04c,#07d,#0be,#0ce,#0ce,#0ae,#09d,#07d,#06c,#05c,#06c,#08d,#0ce,#0df,#0df,#0be,#09e,#08d,#08d,#07d,#08d,#0ae,#0de,#0ee,#0ef,#0de,#0ae,#09e,#09e,#09e,#0ae,#0ce,#0df,#0ed,#0ed,#0df,#0be,#0ae,#0ae,#0be,#0ce,#0df,#0ef,#0ec,#0ec,#0ef,#0de,#0be,#0be,#0ce,#0df,#0ef,#0ec,#0eb,#0eb,#0ee,#0df,#0ce,#0ce,#0de,#0ef,#0ec,#0ea,#0ea,#0eb,#0ed,#0ef,#0df,#0de,#0ef,#0ed,#0ea,#0e8,#0e8,#0ea,#0ec,#0ee,#0ef,#0ef,#0ee,#0eb,#0e8,#1e7,#0e7,#0e9,#0eb,#0ed,#0ee)"></div><div style="top:30.79px;background:linear-gradient(90deg,#118,#02a,#05c,#09e,#0ae,#0ae,#0ae,#09e,#07d,#05c,#03b,#03b,#06d,#0ae,#0de,#0de,#0be,#0ae,#08d,#07d,#05c,#05c,#07d,#0ae,#0df,#0ef,#0df,#0be,#09e,#08d,#08d,#07d,#08d,#0be,#0df,#0ed,#0ee,#0de,#0be,#09e,#09e,#09e,#0ae,#0ce,#0df,#0ec,#0eb,#0ef,#0ce,#0be,#0ae,#0be,#0ce,#0de,#0ef,#0eb,#0ea,#0ec,#0df,#0ce,#0be,#0ce,#0de,#0df,#0ee,#0eb,#0e9,#0ea,#0ee,#0df,#0ce,#0de,#0df,#0ef,#0ec,#0e9,#0e8,#0e9,#0eb,#0ef,#0df,#0df,#0ef,#0ed,#0ea,#0e8,#0e7,#0e8,#0ea,#0ec,#0ef,#0ef,#0ef,#0ec,#0e9,#1e7,#1e6,#1e7,#0e9)"></div><div style="top:32.29px;background:linear-gradient(90deg,#118,#02a,#06c,#09e,#0be,#0be,#0be,#0ae,#08d,#05c,#03b,#03b,#05c,#09e,#0de,#0df,#0de,#0be,#0ae,#08d,#06d,#05c,#06c,#08d,#0ce,#0ef,#0ef,#0df,#0be,#0ae,#08d,#08d,#07d,#08d,#0be,#0ef,#0eb,#0ed,#0df,#0be,#0ae,#09e,#09e,#0ae,#0be,#0df,#0eb,#0e9,#0ed,#0df,#0ce,#0be,#0be,#0be,#0ce,#0df,#0ec,#0e8,#0e9,#0ed,#0df,#0ce,#0ce,#0ce,#0de,#0ef,#0ed,#0e9,#0e7,#0e9,#0ed,#0df,#0de,#0de,#0df,#0ef,#0ec,#0e9,#1e7,#1e7,#0ea,#0ee,#0df,#0df,#0df,#0ee,#0eb,#0e8,#1e7,#1e6,#0e7,#0ea,#0ed,#0ef,#0ef,#0ee,#0eb,#0e8,#1e6)"></div><div style="top:33.80px;background:linear-gradient(90deg,#118,#02a,#06c,#09e,#0ce,#0ce,#0ce,#0be,#09e,#06d,#04b,#03b,#04c,#08d,#0ce,#0df,#0df,#0de,#0be,#09e,#07d,#06c,#05c,#07d,#0ae,#0df,#0ed,#0ee,#0df,#0ce,#0ae,#09d,#07d,#07d,#09e,#0ce,#0ee,#0ea,#0ec,#0ef,#0ce,#0be,#0ae,#09e,#09e,#0be,#0df,#0eb,#0e8,#0ea,#0ef,#0de,#0ce,#0be,#0be,#0ce,#0de,#0ee,#0e9,#1e6,#0e9,#0ee,#0df,#0ce,#0ce,#0ce,#0de,#0ef,#0eb,#1e7,#1e6,#0e8,#0ed,#0df,#0de,#0de,#0df,#0ef,#0ec,#0e9,#1e6,#1e5,#0e8,#0ec,#0ef,#0df,#0ef,#0ef,#0ec,#0e9,#1e7,#1e5,#1e5,#0e7,#0eb,#0ee,#0ef,#0ef,#0ec)"></div><div style="top:35.30px;background:linear-gradient(90deg,#118,#02a,#06c,#0ae,#0ce,#0de,#0ce,#0ce,#0ae,#07d,#04c,#03b,#04b,#07d,#0be,#0ef,#0ef,#0df,#0de,#0be,#09e,#07d,#05c,#06c,#08d,#0ce,#0ee,#0eb,#0ee,#0df,#0ce,#0ae,#09d,#07d,#07d,#09e,#0de,#0ec,#0e8,#0ea,#0ef,#0de,#0be,#0ae,#09e,#09e,#0be,#0df,#0eb,#1e7,#0e7,#0ec,#0df,#0ce,#0ce,#0be,#0be,#0ce,#0ef,#0ea,#1e6,#1e6,#0e9,#0ef,#0df,#0de,#0ce,#0de,#0df,#0ee,#0e9,#1e5,#1e5,#0e7,#0ec,#0ef,#0df,#0df,#0df,#0ef,#0ec,#0e8,#1e5,#1e4,#1e6,#0ea,#0ee,#0ef,#0ef,#0ef,#0ed,#0ea,#1e7,#1e5,#1e4,#1e5,#0e8,#0ec,#0ee)"></div><div style="top:36.80px;background:linear-gradient(90deg,#118,#02a,#06c,#0ae,#0de,#0df,#0de,#0de,#0be,#08d,#05c,#03b,#03b,#06c,#0ae,#0df,#0ed,#0ee,#0df,#0de,#0be,#08d,#06c,#05c,#06d,#0ae,#0df,#0eb,#0ea,#0ed,#0df,#0ce,#0ae,#09d,#07d,#08d,#0ae,#0df,#0ea,#1e7,#0e9,#0ed,#0df,#0ce,#0be,#09e,#09e,#0ae,#0de,#0eb,#1e6,#1e5,#0e9,#0ee,#0df,#0ce,#0be,#0be,#0ce,#0de,#0ed,#1e6,#1e4,#1e6,#0ea,#0ef,#0df,#0de,#0de,#0de,#0df,#0ed,#0e7,#1e4,#1e4,#1e7,#0eb,#0ef,#0df,#0df,#0df,#0ef,#0ec,#0e8,#1e4,#1e3,#1e4,#0e8,#0ec,#0ef,#0ef,#0ef,#0ee,#0eb,#0e8,#1e5,#1e3,#1e3,#1e5)"></div><div style="top:38.30px;background:linear-gradient(90deg,#118,#02a,#06c,#0ae,#0df,#0ef,#0ef,#0df,#0de,#0ae,#06d,#03b,#03b,#05c,#09d,#0de,#0ec,#0ec,#0ee,#0df,#0de,#0ae,#07d,#05c,#05c,#08d,#0ce,#0ed,#0e8,#0e9,#0ec,#0ef,#0de,#0be,#08d,#07d,#08d,#0ae,#0df,#0e9,#1e5,#1e7,#0eb,#0ef,#0de,#0be,#0ae,#09e,#0ae,#0de,#0ec,#1e6,#1e4,#1e6,#0eb,#0ef,#0de,#0ce,#0be,#0be,#0ce,#0ef,#0e8,#1e4,#1e3,#1e6,#0eb,#0ef,#0df,#0de,#0de,#0de,#0ef,#0eb,#1e6,#2e2,#1e3,#1e6,#0eb,#0ee,#0ef,#0df,#0df,#0ef,#0ed,#0e8,#1e4,#2e2,#1e3,#1e6,#0ea,#0ed,#0ef,#0ef,#0ee,#0ec,#0e9,#1e6,#1e3)"></div><div style="top:39.80px;background:linear-gradient(90deg,#118,#02a,#06c,#0be,#0ef,#0ee,#0ee,#0ef,#0df,#0be,#07d,#04c,#03b,#04c,#08d,#0ce,#0ec,#0e9,#0eb,#0ee,#0df,#0ce,#09e,#06d,#05c,#06d,#09e,#0df,#0e9,#1e6,#0e8,#0ec,#0ef,#0de,#0ae,#08d,#07d,#08d,#0be,#0ef,#1e7,#1e4,#1e5,#0ea,#0ee,#0df,#0ce,#0ae,#09e,#0ae,#0ce,#0ed,#1e6,#2e2,#1e4,#0e8,#0ed,#0ef,#0de,#0ce,#0be,#0ce,#0df,#0eb,#1e5,#2e2,#1e3,#1e7,#0eb,#0ef,#0df,#0de,#0de,#0de,#0ef,#0e9,#1e4,#2e2,#2e2,#1e5,#0ea,#0ee,#0ef,#0df,#0df,#0ef,#0ed,#0e8,#1e4,#3e2,#2e2,#1e5,#0e9,#0ec,#0ee,#0ef,#0ef,#0ed,#0ea)"></div><div style="top:41.31px;background:linear-gradient(90deg,#118,#02a,#06c,#0be,#0ef,#0ec,#0ec,#0ed,#0ef,#0ce,#08d,#05c,#03b,#03b,#06d,#0be,#0ed,#0e8,#0e8,#0ea,#0ee,#0df,#0be,#08d,#06c,#05c,#07d,#0be,#0ed,#1e6,#1e4,#1e7,#0eb,#0ef,#0de,#0ae,#08d,#07d,#08d,#0be,#0ee,#1e5,#2e2,#1e4,#0e8,#0ed,#0df,#0ce,#0be,#09e,#0ae,#0ce,#0ee,#1e6,#2e2,#2e2,#1e5,#0ea,#0ef,#0df,#0ce,#0be,#0be,#0de,#0ee,#1e7,#2e2,#4e1,#1e3,#0e8,#0ec,#0ef,#0df,#0de,#0de,#0df,#0ee,#0e7,#2e2,#4e1,#2e2,#1e5,#0ea,#0ed,#0ef,#0ef,#0ef,#0ef,#0ec,#0e8,#1e3,#4e1,#4e1,#1e3,#1e7,#0eb,#0ed,#0ee,#0ee)"></div><div style="top:42.81px;background:linear-gradient(90deg,#118,#02a,#06c,#0be,#0ee,#0ea,#0ea,#0eb,#0ed,#0df,#0ae,#06c,#03b,#03b,#05c,#0ae,#0ef,#1e7,#1e5,#1e7,#0eb,#0ee,#0de,#0ae,#07d,#05c,#06c,#09d,#0de,#0e8,#2e2,#1e3,#1e7,#0eb,#0ef,#0de,#0ae,#08d,#08d,#09e,#0ce,#0ec,#1e3,#4e1,#2e2,#1e7,#0ec,#0ef,#0de,#0be,#0ae,#0ae,#0ce,#0ef,#1e6,#4e1,#5e1,#1e3,#0e8,#0ed,#0ef,#0de,#0ce,#0ce,#0ce,#0ef,#0e9,#1e3,#5e1,#4e1,#1e4,#0e9,#0ed,#0ef,#0df,#0de,#0df,#0ef,#0eb,#1e5,#3e1,#6e1,#3e2,#1e5,#0ea,#0ed,#0ef,#0ef,#0ef,#0ef,#0ec,#1e7,#1e3,#5e1,#5e1,#2e2,#1e6,#0ea,#0ed)"></div><div style="top:44.31px;background:linear-gradient(90deg,#118,#02a,#06d,#0be,#0ec,#0e7,#0e7,#0e9,#0eb,#0ef,#0be,#07d,#04c,#03b,#05c,#08d,#0df,#1e7,#1e3,#1e4,#0e8,#0ec,#0ef,#0ce,#08d,#06d,#06c,#07d,#0be,#0ed,#1e3,#4e1,#2e2,#1e7,#0ec,#0ef,#0ce,#0ae,#08d,#08d,#09e,#0de,#0e9,#3e2,#7e1,#3e2,#1e6,#0ec,#0ef,#0de,#0be,#0ae,#0ae,#0ce,#0ef,#1e6,#5e1,#7e1,#3e1,#1e6,#0ec,#0ef,#0de,#0ce,#0ce,#0ce,#0df,#0ec,#1e4,#6e1,#7e1,#3e1,#1e6,#0eb,#0ef,#0df,#0df,#0df,#0df,#0ee,#0e8,#1e3,#6e1,#7e1,#3e2,#1e6,#0eb,#0ee,#0ef,#0ef,#0ef,#0ed,#0ea,#1e6,#2e2,#6e1,#6e1,#2e2,#1e5)"></div><div style="top:45.81px;background:linear-gradient(90deg,#118,#02a,#06d,#0ce,#0eb,#1e5,#1e5,#1e7,#0e9,#0ed,#0ce,#08d,#05c,#03b,#04c,#07d,#0de,#0e7,#3e2,#3e2,#1e4,#0e9,#0ee,#0de,#0ae,#07d,#06c,#06d,#09d,#0de,#1e6,#6e1,#7e1,#2e2,#0e8,#0ee,#0df,#0ce,#09e,#08d,#08d,#0ae,#0df,#1e6,#7e1,#9e1,#5e1,#1e6,#0ed,#0df,#0ce,#0be,#0be,#0be,#0ce,#0ef,#1e6,#6e1,#9e1,#7e1,#1e4,#0eb,#0ef,#0de,#0de,#0ce,#0de,#0df,#0ed,#1e6,#5e1,#9e1,#7e1,#2e2,#0e9,#0ee,#0df,#0df,#0df,#0ef,#0ee,#0ea,#1e5,#4e1,#8e1,#7e1,#2e2,#1e7,#0ec,#0ef,#0ef,#0ef,#0ee,#0eb,#0e8,#1e4,#3e2,#6e1,#6e1)"></div><div style="top:47.31px;background:linear-gradient(90deg,#118,#02a,#06d,#0ce,#0e9,#1e3,#1e3,#1e5,#0e7,#0eb,#0df,#09e,#06c,#03b,#04b,#06d,#0be,#0e9,#5e1,#8e1,#3e2,#1e7,#0ec,#0df,#0ce,#09d,#07d,#06c,#07d,#0be,#0ec,#4e1,#ae0,#9e1,#1e3,#0ea,#0ef,#0de,#0be,#09e,#09d,#09e,#0be,#0ee,#1e3,#ae0,#be0,#6e1,#1e6,#0ee,#0de,#0ce,#0be,#0be,#0be,#0de,#0ee,#1e6,#7e1,#be0,#9e1,#1e2,#0ea,#0ef,#0de,#0ce,#0de,#0de,#0ef,#0ec,#1e7,#3e1,#9e1,#9e1,#4e1,#1e6,#0ed,#0df,#0de,#0df,#0ef,#0ed,#0ea,#1e6,#2e2,#6e1,#8e1,#6e1,#1e3,#0e9,#0ee,#0df,#0df,#0ef,#0eb,#0e8,#1e5,#2e2,#4e1)"></div><div style="top:48.82px;background:linear-gradient(90deg,#118,#02a,#06d,#0ce,#0e8,#3e2,#3e2,#1e3,#1e6,#0ea,#0ef,#0ae,#06d,#04c,#03b,#05c,#0ae,#0eb,#6e1,#be0,#8e1,#1e4,#0ea,#0ef,#0ce,#0ae,#08d,#07d,#07d,#09e,#0df,#1e4,#be0,#de0,#8e1,#1e6,#0ee,#0de,#0be,#0ae,#09e,#09e,#0ae,#0de,#0ea,#5e1,#ce0,#ce0,#6e1,#0e8,#0ef,#0ce,#0be,#0be,#0ce,#0de,#0df,#0ec,#1e4,#8e1,#be0,#ae0,#2e2,#0ea,#0df,#0ce,#0ce,#0de,#0df,#0ee,#0ea,#1e5,#3e2,#8e1,#9e1,#6e1,#1e4,#0ec,#0df,#0de,#0de,#0ef,#0ec,#0e8,#1e4,#2e2,#5e1,#6e1,#6e1,#2e2,#1e7,#0ec,#0ef,#0df,#0ef,#0ed,#0e8,#1e4,#3e2)"></div><div style="top:50.32px;background:linear-gradient(90deg,#118,#02a,#06d,#0ce,#1e6,#5e1,#6e1,#2e2,#1e5,#0e9,#0ef,#0be,#07d,#04c,#03b,#05c,#09e,#0ee,#5e1,#de0,#ce0,#4e1,#0e9,#0ef,#0ce,#0ae,#09d,#07d,#07d,#08d,#0ce,#0e9,#9e1,#fe0,#de0,#5e1,#0ea,#0de,#0be,#0ae,#0ae,#0ae,#0be,#0ce,#0ef,#1e5,#9e1,#de0,#ce0,#4e1,#0eb,#0de,#0be,#0ae,#0be,#0de,#0ef,#0ec,#0e7,#2e2,#8e1,#ae0,#9e1,#2e2,#0eb,#0df,#0ce,#0be,#0ce,#0ef,#0ea,#1e5,#2e2,#4e1,#6e1,#7e1,#4e1,#1e5,#0eb,#0ef,#0de,#0de,#0df,#0ec,#1e6,#3e2,#6e1,#7e1,#5e1,#3e2,#1e4,#1e7,#0eb,#0ef,#0df,#0ef,#0ee,#0e9,#1e3)"></div><div style="top:51.82px;background:linear-gradient(90deg,#118,#02a,#06d,#0de,#1e5,#8e1,#8e1,#3e1,#1e5,#0ea,#0ef,#0ce,#08d,#05c,#04c,#05c,#08d,#0df,#3e1,#fe0,#fe0,#9e1,#1e6,#0ef,#0ce,#0ae,#09e,#08d,#08d,#09d,#0be,#0ee,#3e2,#ee0,#fe0,#be0,#1e5,#0ef,#0be,#09e,#09e,#0ae,#0ce,#0de,#0ef,#0e8,#3e2,#ae0,#de0,#ae0,#1e4,#0ee,#0ce,#0ae,#0ae,#0be,#0df,#0eb,#1e6,#2e2,#5e1,#7e1,#7e1,#4e1,#1e5,#0ec,#0de,#0be,#0be,#0de,#0ee,#1e6,#4e1,#8e1,#8e1,#6e1,#2e2,#1e4,#0e8,#0ec,#0ef,#0de,#0de,#0df,#0eb,#1e4,#6e1,#ae0,#ae1,#6e1,#1e3,#0e7,#0eb,#0ed,#0ee,#0ef,#0ee,#0ec,#0e8)"></div><div style="top:53.32px;background:linear-gradient(90deg,#118,#02a,#06d,#0de,#1e4,#ae0,#ae0,#5e1,#1e5,#0ea,#0ef,#0ce,#09d,#06c,#04c,#05c,#07d,#0de,#2e2,#fe0,#fd0,#de0,#1e3,#0ef,#0be,#09e,#09e,#09e,#09e,#0ae,#0be,#0ef,#1e5,#be0,#fe0,#fe0,#5e1,#0ec,#0be,#09d,#08d,#09e,#0ce,#0ef,#0eb,#1e6,#2e2,#6e1,#9e1,#9e1,#3e1,#0e9,#0df,#0ae,#09e,#0ae,#0ce,#0ec,#1e4,#6e1,#9e1,#8e1,#4e1,#1e3,#1e6,#0eb,#0ef,#0de,#0ce,#0ce,#0df,#0eb,#1e3,#9e1,#ce0,#ae0,#5e1,#1e5,#0ea,#0ee,#0ef,#0ef,#0ef,#0ef,#0ed,#0e8,#1e3,#7e1,#be0,#ae0,#6e1,#1e4,#0ea,#0ef,#0ef,#0ef,#0ed,#0ea,#1e7)"></div><div style="top:54.82px;background:linear-gradient(90deg,#118,#02a,#06d,#0de,#1e3,#be0,#ce0,#6e1,#1e6,#0ec,#0df,#0ce,#09e,#07d,#05c,#05c,#07d,#0ce,#1e5,#ee0,#ec0,#fe0,#4e1,#0ee,#0be,#08d,#08d,#09d,#0ae,#0be,#0de,#0ef,#1e7,#6e1,#de0,#ee0,#9e1,#0e8,#0de,#09e,#07d,#08d,#0be,#0ef,#0e7,#2e2,#6e1,#6e1,#5e1,#3e2,#1e4,#0e9,#0ef,#0ce,#0ae,#0ae,#0be,#0ef,#1e6,#8e1,#de0,#ce0,#8e1,#1e4,#0ea,#0ef,#0df,#0df,#0df,#0df,#0ef,#0ec,#1e6,#4e1,#be0,#ce0,#ae0,#2e2,#0e9,#0ef,#0de,#0de,#0df,#0ed,#0e8,#1e4,#2e2,#5e1,#6e1,#7e1,#5e1,#2e2,#1e7,#0ec,#0ef,#0df,#0ef,#0ec,#1e6)"></div><div style="top:56.33px;background:linear-gradient(90deg,#118,#02a,#06d,#0de,#2e2,#de0,#de0,#7e1,#1e6,#0ee,#0de,#0be,#09e,#07d,#06d,#06c,#07d,#0ce,#1e7,#de0,#ec0,#ed0,#9e1,#0ec,#0ae,#07d,#07d,#08d,#0ae,#0de,#0ef,#0ea,#1e5,#3e2,#9e1,#ae0,#7e1,#1e6,#0df,#0ae,#08d,#07d,#09e,#0df,#1e7,#8e1,#ce0,#be0,#6e1,#1e5,#0ea,#0ee,#0df,#0de,#0ce,#0ce,#0ce,#0ef,#0e9,#4e1,#ce0,#ee0,#ce0,#3e2,#0ea,#0df,#0ce,#0ce,#0de,#0ef,#0ea,#1e6,#1e3,#3e1,#6e1,#7e1,#6e1,#2e2,#1e7,#0ed,#0df,#0de,#0de,#0ef,#0e8,#2e2,#9e1,#ae0,#9e1,#4e1,#1e4,#0e8,#0eb,#0ec,#0ed,#0ee,#0ed,#0eb,#0e8)"></div><div style="top:57.83px;background:linear-gradient(90deg,#118,#02a,#06d,#0df,#3e1,#ee0,#fe0,#8e1,#1e7,#0ef,#0ce,#0ae,#09e,#08d,#07d,#07d,#08d,#0ce,#0e9,#ae0,#ed0,#ed0,#be0,#0ea,#0be,#07d,#06c,#07d,#09e,#0df,#0e9,#1e3,#4e1,#4e1,#3e1,#2e2,#1e4,#0e9,#0ef,#0be,#09e,#08d,#09e,#0de,#0e9,#8e1,#fe0,#fe0,#be0,#1e4,#0ee,#0de,#0be,#0be,#0de,#0df,#0ee,#0ea,#1e6,#2e2,#7e1,#ae0,#9e1,#3e1,#0e8,#0ef,#0ce,#0be,#0ce,#0df,#0e9,#3e2,#ae1,#be0,#9e1,#3e2,#1e6,#0e9,#0ec,#0ee,#0ef,#0ef,#0ef,#0ed,#0e9,#1e3,#7e1,#be0,#be0,#7e1,#1e4,#0ea,#0ef,#0df,#0ef,#0ed,#0e9,#1e4,#3e2)"></div><div style="top:59.33px;background:linear-gradient(90deg,#118,#02a,#06d,#0df,#5e1,#fe0,#fe0,#9e1,#0e8,#0df,#0be,#09e,#09d,#08d,#08d,#08d,#09e,#0ce,#0ea,#7e1,#fe0,#fd0,#be0,#0e9,#0be,#07d,#05c,#06c,#09e,#0df,#1e5,#9e1,#be0,#9e1,#2e2,#0e8,#0ed,#0ef,#0de,#0ce,#0be,#0ae,#0be,#0df,#0ea,#4e1,#de0,#fe0,#ce0,#2e2,#0ee,#0be,#09e,#09e,#0be,#0ef,#1e7,#3e2,#7e1,#7e1,#4e1,#1e3,#1e6,#0e8,#0ec,#0ef,#0df,#0de,#0de,#0ef,#0ea,#2e2,#ae0,#de0,#ce0,#5e1,#1e7,#0ef,#0de,#0de,#0df,#0ee,#0e8,#1e3,#3e1,#5e1,#5e1,#4e1,#2e2,#1e4,#1e6,#0ea,#0ed,#0ef,#0ef,#0ee,#0e9,#1e3,#7e1)"></div><div style="top:60.83px;background:linear-gradient(90deg,#118,#02a,#06d,#0df,#6e1,#fd0,#fd0,#9e1,#0e9,#0de,#09e,#08d,#08d,#09d,#09e,#0ae,#0be,#0df,#0eb,#2e2,#be0,#de0,#8e1,#0e9,#0ce,#07d,#05c,#06c,#08d,#0df,#1e3,#de0,#fe0,#de0,#3e2,#0ec,#0de,#0be,#0ae,#0be,#0ce,#0df,#0ef,#0eb,#1e7,#2e2,#6e1,#9e1,#6e1,#1e4,#0ed,#0ce,#0ae,#09e,#0be,#0ef,#1e6,#9e1,#ee0,#de0,#8e1,#1e5,#0ed,#0de,#0de,#0de,#0ef,#0ed,#0e9,#1e6,#1e4,#2e2,#4e1,#5e1,#4e1,#1e3,#0e8,#0ee,#0df,#0de,#0de,#0ee,#1e7,#5e1,#be0,#ce0,#ae1,#2e2,#0e8,#0ed,#0ef,#0ef,#0ee,#0ea,#1e7,#1e4,#2e2,#3e2,#4e1)"></div><div style="top:62.33px;background:linear-gradient(90deg,#118,#02a,#06d,#0df,#7e1,#fd0,#fd0,#ae1,#0ea,#0be,#08d,#07d,#07d,#09d,#0ae,#0ce,#0df,#0ee,#0ea,#1e4,#4e1,#6e1,#2e2,#0eb,#0ce,#08d,#06d,#06d,#08d,#0df,#1e4,#ee0,#ed0,#fe0,#5e1,#0ed,#0be,#08d,#08d,#09e,#0de,#0eb,#1e4,#4e1,#5e1,#2e2,#1e4,#1e7,#0ea,#0ed,#0ef,#0de,#0ce,#0ce,#0de,#0ee,#1e7,#6e1,#ce0,#de0,#9e1,#1e5,#0ef,#0ce,#0ae,#0be,#0df,#0ea,#2e2,#ae1,#be0,#9e1,#2e2,#0e7,#0ec,#0ef,#0ef,#0ef,#0ed,#0eb,#0e9,#1e7,#1e4,#2e2,#5e1,#6e1,#4e1,#1e3,#0e8,#0ee,#0df,#0df,#0ef,#0ea,#1e3,#7e1,#be0,#ae0,#6e1)"></div><div style="top:63.84px;background:linear-gradient(90deg,#118,#02a,#06d,#0df,#8e1,#ed0,#ed0,#ae0,#0eb,#0ae,#07d,#06c,#07d,#09d,#0ce,#0ef,#0eb,#0e9,#0e8,#1e7,#1e7,#1e7,#0ea,#0ef,#0ce,#0ae,#08d,#08d,#0ae,#0df,#1e6,#be0,#fe0,#ee0,#4e1,#0ed,#0ae,#08d,#07d,#08d,#0ce,#0e8,#8e1,#ee0,#de0,#7e1,#0e7,#0ef,#0ce,#0be,#0ce,#0df,#0ee,#0ea,#1e7,#1e5,#1e4,#1e3,#1e3,#1e3,#1e6,#0e9,#0ee,#0df,#0de,#0de,#0ef,#0ea,#2e2,#ae0,#ce0,#ae0,#3e2,#0e9,#0df,#0ce,#0ce,#0df,#0ec,#1e4,#7e1,#ae0,#ae1,#5e1,#1e5,#0ea,#0ed,#0ef,#0ee,#0ec,#0e9,#1e7,#1e5,#1e3,#2e2,#2e2,#2e2,#2e2,#1e4)"></div><div style="top:65.34px;background:linear-gradient(90deg,#118,#02a,#06d,#0df,#8e1,#ed0,#ed0,#ae0,#0ec,#0ae,#06d,#05c,#06c,#08d,#0de,#0eb,#1e4,#1e3,#1e5,#0e9,#0ed,#0ef,#0df,#0de,#0ce,#0be,#0be,#0be,#0ce,#0ef,#0e8,#3e1,#9e1,#8e1,#1e4,#0ee,#0be,#08d,#08d,#09e,#0de,#0e8,#9e1,#fe0,#fe0,#9e1,#0e8,#0de,#0ae,#09d,#0ae,#0de,#0ea,#3e2,#ae0,#be0,#7e1,#1e5,#0ec,#0df,#0de,#0de,#0ef,#0ed,#0e9,#1e6,#1e5,#1e4,#1e4,#1e4,#1e4,#1e6,#0e8,#0eb,#0ee,#0ef,#0ef,#0ee,#0ea,#1e4,#6e1,#9e1,#9e1,#4e1,#1e6,#0ed,#0df,#0de,#0df,#0ec,#1e5,#6e1,#ae0,#be0,#7e1,#1e3,#0e9,#0ee,#0ef)"></div><div style="top:66.84px;background:linear-gradient(90deg,#118,#02a,#07d,#0df,#9e1,#ec0,#ec0,#ae0,#0ed,#09e,#05c,#04c,#05c,#08d,#0df,#1e6,#7e1,#9e1,#2e2,#0ea,#0df,#0be,#0ae,#0ae,#0be,#0de,#0ef,#0ee,#0ec,#0ea,#0e9,#0e8,#0e8,#0e9,#0ec,#0ef,#0de,#0be,#0be,#0ce,#0df,#0e9,#3e2,#ae1,#ae0,#4e1,#0e9,#0df,#0ae,#09e,#0ae,#0de,#0ea,#5e1,#de0,#ee0,#ae0,#1e5,#0ef,#0ce,#0ae,#0be,#0de,#0ea,#3e2,#be0,#ce0,#9e1,#1e3,#0eb,#0df,#0de,#0de,#0ef,#0eb,#1e5,#2e2,#4e1,#3e2,#1e3,#1e6,#0e9,#0eb,#0eb,#0eb,#0ea,#0e9,#0e8,#1e7,#1e6,#1e4,#1e3,#2e2,#2e2,#1e4,#1e6,#0e9,#0ec,#0ed)"></div><div style="top:68.34px;background:linear-gradient(90deg,#118,#02a,#07d,#0ef,#9e1,#ec0,#ec0,#ae0,#0ee,#08d,#04c,#03b,#04c,#08d,#0df,#2e2,#de0,#ee0,#6e1,#0eb,#0ce,#08d,#07d,#08d,#0ae,#0df,#0e8,#1e3,#2e2,#1e4,#0e9,#0ef,#0de,#0ce,#0ce,#0de,#0ef,#0ee,#0ec,#0eb,#0ea,#0e9,#0e9,#0e8,#0e9,#0ea,#0ed,#0ef,#0df,#0de,#0df,#0ee,#0e9,#1e4,#4e1,#5e1,#2e2,#0e8,#0ee,#0de,#0ce,#0ce,#0df,#0ea,#2e2,#9e1,#be0,#8e1,#1e4,#0ec,#0de,#0ce,#0ce,#0df,#0ea,#2e2,#ae0,#ce0,#ae0,#2e2,#0ea,#0ef,#0de,#0de,#0ef,#0ea,#2e2,#9e1,#be0,#9e1,#3e2,#0e7,#0ed,#0ef,#0ef,#0ee,#0e9,#1e4,#5e1)"></div><div style="top:69.84px;background:linear-gradient(90deg,#118,#02a,#07d,#0ef,#9e1,#ec0,#ec0,#ae0,#0ee,#08d,#04c,#03b,#04c,#08d,#0ef,#6e1,#fe0,#fd0,#9e1,#0eb,#0ae,#07d,#05c,#06d,#0ae,#0ef,#2e2,#ce0,#de0,#6e1,#0e9,#0de,#09e,#08d,#09e,#0ce,#0ee,#1e5,#5e1,#7e1,#2e2,#0e8,#0ef,#0de,#0ce,#0ce,#0df,#0ed,#0e8,#1e4,#1e3,#1e4,#0e7,#0eb,#0ee,#0ef,#0ef,#0ee,#0ec,#0ea,#0e8,#1e7,#1e7,#0e7,#0e8,#0e9,#0e9,#0ea,#0ea,#0eb,#0eb,#0eb,#0ea,#0e9,#0e7,#1e6,#1e5,#1e4,#1e5,#1e7,#0e9,#0eb,#0ec,#0ec,#0ea,#0e8,#1e4,#2e2,#3e2,#2e2,#1e4,#0e8,#0eb,#0ed,#0ed,#0eb,#0e8,#1e3,#4e1)"></div><div style="top:71.35px;background:linear-gradient(90deg,#118,#02a,#07d,#0ef,#ae1,#ec0,#ec0,#ae0,#0ee,#08d,#04c,#02b,#04c,#08d,#0ef,#8e1,#ed0,#ed0,#ae0,#0eb,#0ae,#06c,#05c,#06c,#09e,#0ee,#6e1,#fe0,#fd0,#ae0,#0e9,#0ce,#08d,#06d,#07d,#0be,#0ed,#5e1,#ee0,#fe0,#ae1,#1e7,#0de,#0ae,#08d,#09e,#0ce,#0ec,#3e1,#ce0,#de0,#9e1,#1e5,#0ef,#0be,#0ae,#0be,#0de,#0eb,#2e2,#ae0,#ce0,#8e1,#1e4,#0ed,#0de,#0ce,#0ce,#0df,#0ea,#2e2,#9e1,#ae0,#7e1,#1e4,#0eb,#0ef,#0de,#0df,#0ef,#0e9,#2e2,#7e1,#9e1,#6e1,#1e3,#0e9,#0ee,#0ef,#0ef,#0ed,#0e8,#1e3,#5e1,#7e1,#5e1,#1e3,#0e7,#0eb)"></div><div style="top:72.85px;background:linear-gradient(90deg,#118,#02a,#07d,#0ef,#ae1,#ec0,#ec0,#ae0,#0ee,#08d,#04c,#02b,#04c,#08d,#0ef,#8e1,#ed0,#ed0,#ae0,#0eb,#0ae,#06c,#05c,#06c,#09e,#0ee,#6e1,#fe0,#fd0,#ae0,#0e9,#0ce,#08d,#06d,#07d,#0be,#0ed,#5e1,#ee0,#fe0,#ae1,#1e7,#0de,#0ae,#08d,#09e,#0ce,#0ec,#3e1,#ce0,#de0,#9e1,#1e5,#0ef,#0be,#0ae,#0be,#0de,#0eb,#2e2,#ae0,#ce0,#8e1,#1e4,#0ed,#0de,#0ce,#0ce,#0df,#0ea,#2e2,#9e1,#ae0,#7e1,#1e4,#0eb,#0ef,#0de,#0df,#0ef,#0e9,#2e2,#7e1,#9e1,#6e1,#1e3,#0e9,#0ee,#0ef,#0ef,#0ed,#0e8,#1e3,#5e1,#7e1,#5e1,#1e3,#0e7,#0eb)"></div><div style="top:74.35px;background:linear-gradient(90deg,#118,#02a,#07d,#0ef,#9e1,#ec0,#ec0,#ae0,#0ee,#08d,#04c,#03b,#04c,#08d,#0ef,#6e1,#fe0,#fd0,#9e1,#0eb,#0ae,#07d,#05c,#06d,#0ae,#0ef,#2e2,#ce0,#de0,#6e1,#0e9,#0de,#09e,#08d,#09e,#0ce,#0ee,#1e5,#5e1,#7e1,#2e2,#0e8,#0ef,#0de,#0ce,#0ce,#0df,#0ed,#0e8,#1e4,#1e3,#1e4,#0e7,#0eb,#0ee,#0ef,#0ef,#0ee,#0ec,#0ea,#0e8,#1e7,#1e7,#0e7,#0e8,#0e9,#0e9,#0ea,#0ea,#0eb,#0eb,#0eb,#0ea,#0e9,#0e7,#1e6,#1e5,#1e4,#1e5,#1e7,#0e9,#0eb,#0ec,#0ec,#0ea,#0e8,#1e4,#2e2,#3e2,#2e2,#1e4,#0e8,#0eb,#0ed,#0ed,#0eb,#0e8,#1e3,#4e1)"></div><div style="top:75.85px;background:linear-gradient(90deg,#118,#02a,#07d,#0ef,#9e1,#ec0,#ec0,#ae0,#0ee,#08d,#04c,#03b,#04c,#08d,#0df,#2e2,#de0,#ee0,#6e1,#0eb,#0ce,#08d,#07d,#08d,#0ae,#0df,#0e8,#1e3,#2e2,#1e4,#0e9,#0ef,#0de,#0ce,#0ce,#0de,#0ef,#0ee,#0ec,#0eb,#0ea,#0e9,#0e9,#0e8,#0e9,#0ea,#0ed,#0ef,#0df,#0de,#0df,#0ee,#0e9,#1e4,#4e1,#5e1,#2e2,#0e8,#0ee,#0de,#0ce,#0ce,#0df,#0ea,#2e2,#9e1,#be0,#8e1,#1e4,#0ec,#0de,#0ce,#0ce,#0df,#0ea,#2e2,#ae0,#ce0,#ae0,#2e2,#0ea,#0ef,#0de,#0de,#0ef,#0ea,#2e2,#9e1,#be0,#9e1,#3e2,#0e7,#0ed,#0ef,#0ef,#0ee,#0e9,#1e4,#5e1)"></div><div style="top:77.36px;background:linear-gradient(90deg,#118,#02a,#07d,#0df,#9e1,#ec0,#ec0,#ae0,#0ed,#09e,#05c,#04c,#05c,#08d,#0df,#1e6,#7e1,#9e1,#2e2,#0ea,#0df,#0be,#0ae,#0ae,#0be,#0de,#0ef,#0ee,#0ec,#0ea,#0e9,#0e8,#0e8,#0e9,#0ec,#0ef,#0de,#0be,#0be,#0ce,#0df,#0e9,#3e2,#ae1,#ae0,#4e1,#0e9,#0df,#0ae,#09e,#0ae,#0de,#0ea,#5e1,#de0,#ee0,#ae0,#1e5,#0ef,#0ce,#0ae,#0be,#0de,#0ea,#3e2,#be0,#ce0,#9e1,#1e3,#0eb,#0df,#0de,#0de,#0ef,#0eb,#1e5,#2e2,#4e1,#3e2,#1e3,#1e6,#0e9,#0eb,#0eb,#0eb,#0ea,#0e9,#0e8,#1e7,#1e6,#1e4,#1e3,#2e2,#2e2,#1e4,#1e6,#0e9,#0ec,#0ed)"></div><div style="top:78.86px;background:linear-gradient(90deg,#118,#02a,#06d,#0df,#8e1,#ed0,#ed0,#ae0,#0ec,#0ae,#06d,#05c,#06c,#08d,#0de,#0eb,#1e4,#1e3,#1e5,#0e9,#0ed,#0ef,#0df,#0de,#0ce,#0be,#0be,#0be,#0ce,#0ef,#0e8,#3e1,#9e1,#8e1,#1e4,#0ee,#0be,#08d,#08d,#09e,#0de,#0e8,#9e1,#fe0,#fe0,#9e1,#0e8,#0de,#0ae,#09d,#0ae,#0de,#0ea,#3e2,#ae0,#be0,#7e1,#1e5,#0ec,#0df,#0de,#0de,#0ef,#0ed,#0e9,#1e6,#1e5,#1e4,#1e4,#1e4,#1e4,#1e6,#0e8,#0eb,#0ee,#0ef,#0ef,#0ee,#0ea,#1e4,#6e1,#9e1,#9e1,#4e1,#1e6,#0ed,#0df,#0de,#0df,#0ec,#1e5,#6e1,#ae0,#be0,#7e1,#1e3,#0e9,#0ee,#0ef)"></div><div style="top:80.36px;background:linear-gradient(90deg,#118,#02a,#06d,#0df,#8e1,#ed0,#ed0,#ae0,#0eb,#0ae,#07d,#06c,#07d,#09d,#0ce,#0ef,#0eb,#0e9,#0e8,#1e7,#1e7,#1e7,#0ea,#0ef,#0ce,#0ae,#08d,#08d,#0ae,#0df,#1e6,#be0,#fe0,#ee0,#4e1,#0ed,#0ae,#08d,#07d,#08d,#0ce,#0e8,#8e1,#ee0,#de0,#7e1,#0e7,#0ef,#0ce,#0be,#0ce,#0df,#0ee,#0ea,#1e7,#1e5,#1e4,#1e3,#1e3,#1e3,#1e6,#0e9,#0ee,#0df,#0de,#0de,#0ef,#0ea,#2e2,#ae0,#ce0,#ae0,#3e2,#0e9,#0df,#0ce,#0ce,#0df,#0ec,#1e4,#7e1,#ae0,#ae1,#5e1,#1e5,#0ea,#0ed,#0ef,#0ee,#0ec,#0e9,#1e7,#1e5,#1e3,#2e2,#2e2,#2e2,#2e2,#1e4)"></div><div style="top:81.86px;background:linear-gradient(90deg,#118,#02a,#06d,#0df,#7e1,#fd0,#fd0,#ae1,#0ea,#0be,#08d,#07d,#07d,#09d,#0ae,#0ce,#0df,#0ee,#0ea,#1e4,#4e1,#6e1,#2e2,#0eb,#0ce,#08d,#06d,#06d,#08d,#0df,#1e4,#ee0,#ed0,#fe0,#5e1,#0ed,#0be,#08d,#08d,#09e,#0de,#0eb,#1e4,#4e1,#5e1,#2e2,#1e4,#1e7,#0ea,#0ed,#0ef,#0de,#0ce,#0ce,#0de,#0ee,#1e7,#6e1,#ce0,#de0,#9e1,#1e5,#0ef,#0ce,#0ae,#0be,#0df,#0ea,#2e2,#ae1,#be0,#9e1,#2e2,#0e7,#0ec,#0ef,#0ef,#0ef,#0ed,#0eb,#0e9,#1e7,#1e4,#2e2,#5e1,#6e1,#4e1,#1e3,#0e8,#0ee,#0df,#0df,#0ef,#0ea,#1e3,#7e1,#be0,#ae0,#6e1)"></div><div style="top:83.36px;background:linear-gradient(90deg,#118,#02a,#06d,#0df,#6e1,#fd0,#fd0,#9e1,#0e9,#0de,#09e,#08d,#08d,#09d,#09e,#0ae,#0be,#0df,#0eb,#2e2,#be0,#de0,#8e1,#0e9,#0ce,#07d,#05c,#06c,#08d,#0df,#1e3,#de0,#fe0,#de0,#3e2,#0ec,#0de,#0be,#0ae,#0be,#0ce,#0df,#0ef,#0eb,#1e7,#2e2,#6e1,#9e1,#6e1,#1e4,#0ed,#0ce,#0ae,#09e,#0be,#0ef,#1e6,#9e1,#ee0,#de0,#8e1,#1e5,#0ed,#0de,#0de,#0de,#0ef,#0ed,#0e9,#1e6,#1e4,#2e2,#4e1,#5e1,#4e1,#1e3,#0e8,#0ee,#0df,#0de,#0de,#0ee,#1e7,#5e1,#be0,#ce0,#ae1,#2e2,#0e8,#0ed,#0ef,#0ef,#0ee,#0ea,#1e7,#1e4,#2e2,#3e2,#4e1)"></div><div style="top:84.87px;background:linear-gradient(90deg,#118,#02a,#06d,#0df,#5e1,#fe0,#fe0,#9e1,#0e8,#0df,#0be,#09e,#09d,#08d,#08d,#08d,#09e,#0ce,#0ea,#7e1,#fe0,#fd0,#be0,#0e9,#0be,#07d,#05c,#06c,#09e,#0df,#1e5,#9e1,#be0,#9e1,#2e2,#0e8,#0ed,#0ef,#0de,#0ce,#0be,#0ae,#0be,#0df,#0ea,#4e1,#de0,#fe0,#ce0,#2e2,#0ee,#0be,#09e,#09e,#0be,#0ef,#1e7,#3e2,#7e1,#7e1,#4e1,#1e3,#1e6,#0e8,#0ec,#0ef,#0df,#0de,#0de,#0ef,#0ea,#2e2,#ae0,#de0,#ce0,#5e1,#1e7,#0ef,#0de,#0de,#0df,#0ee,#0e8,#1e3,#3e1,#5e1,#5e1,#4e1,#2e2,#1e4,#1e6,#0ea,#0ed,#0ef,#0ef,#0ee,#0e9,#1e3,#7e1)"></div><div style="top:86.37px;background:linear-gradient(90deg,#118,#02a,#06d,#0df,#3e1,#ee0,#fe0,#8e1,#1e7,#0ef,#0ce,#0ae,#09e,#08d,#07d,#07d,#08d,#0ce,#0e9,#ae0,#ed0,#ed0,#be0,#0ea,#0be,#07d,#06c,#07d,#09e,#0df,#0e9,#1e3,#4e1,#4e1,#3e1,#2e2,#1e4,#0e9,#0ef,#0be,#09e,#08d,#09e,#0de,#0e9,#8e1,#fe0,#fe0,#be0,#1e4,#0ee,#0de,#0be,#0be,#0de,#0df,#0ee,#0ea,#1e6,#2e2,#7e1,#ae0,#9e1,#3e1,#0e8,#0ef,#0ce,#0be,#0ce,#0df,#0e9,#3e2,#ae1,#be0,#9e1,#3e2,#1e6,#0e9,#0ec,#0ee,#0ef,#0ef,#0ef,#0ed,#0e9,#1e3,#7e1,#be0,#be0,#7e1,#1e4,#0ea,#0ef,#0df,#0ef,#0ed,#0e9,#1e4,#3e2)"></div><div style="top:87.87px;background:linear-gradient(90deg,#118,#02a,#06d,#0de,#2e2,#de0,#de0,#7e1,#1e6,#0ee,#0de,#0be,#09e,#07d,#06d,#06c,#07d,#0ce,#1e7,#de0,#ec0,#ed0,#9e1,#0ec,#0ae,#07d,#07d,#08d,#0ae,#0de,#0ef,#0ea,#1e5,#3e2,#9e1,#ae0,#7e1,#1e6,#0df,#0ae,#08d,#07d,#09e,#0df,#1e7,#8e1,#ce0,#be0,#6e1,#1e5,#0ea,#0ee,#0df,#0de,#0ce,#0ce,#0ce,#0ef,#0e9,#4e1,#ce0,#ee0,#ce0,#3e2,#0ea,#0df,#0ce,#0ce,#0de,#0ef,#0ea,#1e6,#1e3,#3e1,#6e1,#7e1,#6e1,#2e2,#1e7,#0ed,#0df,#0de,#0de,#0ef,#0e8,#2e2,#9e1,#ae0,#9e1,#4e1,#1e4,#0e8,#0eb,#0ec,#0ed,#0ee,#0ed,#0eb,#0e8)"></div><div style="top:89.37px;background:linear-gradient(90deg,#118,#02a,#06d,#0de,#1e3,#be0,#ce0,#6e1,#1e6,#0ec,#0df,#0ce,#09e,#07d,#05c,#05c,#07d,#0ce,#1e5,#ee0,#ec0,#fe0,#4e1,#0ee,#0be,#08d,#08d,#09d,#0ae,#0be,#0de,#0ef,#1e7,#6e1,#de0,#ee0,#9e1,#0e8,#0de,#09e,#07d,#08d,#0be,#0ef,#0e7,#2e2,#6e1,#6e1,#5e1,#3e2,#1e4,#0e9,#0ef,#0ce,#0ae,#0ae,#0be,#0ef,#1e6,#8e1,#de0,#ce0,#8e1,#1e4,#0ea,#0ef,#0df,#0df,#0df,#0df,#0ef,#0ec,#1e6,#4e1,#be0,#ce0,#ae0,#2e2,#0e9,#0ef,#0de,#0de,#0df,#0ed,#0e8,#1e4,#2e2,#5e1,#6e1,#7e1,#5e1,#2e2,#1e7,#0ec,#0ef,#0df,#0ef,#0ec,#1e6)"></div><div style="top:90.87px;background:linear-gradient(90deg,#118,#02a,#06d,#0de,#1e4,#ae0,#ae0,#5e1,#1e5,#0ea,#0ef,#0ce,#09d,#06c,#04c,#05c,#07d,#0de,#2e2,#fe0,#fd0,#de0,#1e3,#0ef,#0be,#09e,#09e,#09e,#09e,#0ae,#0be,#0ef,#1e5,#be0,#fe0,#fe0,#5e1,#0ec,#0be,#09d,#08d,#09e,#0ce,#0ef,#0eb,#1e6,#2e2,#6e1,#9e1,#9e1,#3e1,#0e9,#0df,#0ae,#09e,#0ae,#0ce,#0ec,#1e4,#6e1,#9e1,#8e1,#4e1,#1e3,#1e6,#0eb,#0ef,#0de,#0ce,#0ce,#0df,#0eb,#1e3,#9e1,#ce0,#ae0,#5e1,#1e5,#0ea,#0ee,#0ef,#0ef,#0ef,#0ef,#0ed,#0e8,#1e3,#7e1,#be0,#ae0,#6e1,#1e4,#0ea,#0ef,#0ef,#0ef,#0ed,#0ea,#1e7)"></div><div style="top:92.38px;background:linear-gradient(90deg,#118,#02a,#06d,#0de,#1e5,#8e1,#8e1,#3e1,#1e5,#0ea,#0ef,#0ce,#08d,#05c,#04c,#05c,#08d,#0df,#3e1,#fe0,#fe0,#9e1,#1e6,#0ef,#0ce,#0ae,#09e,#08d,#08d,#09d,#0be,#0ee,#3e2,#ee0,#fe0,#be0,#1e5,#0ef,#0be,#09e,#09e,#0ae,#0ce,#0de,#0ef,#0e8,#3e2,#ae0,#de0,#ae0,#1e4,#0ee,#0ce,#0ae,#0ae,#0be,#0df,#0eb,#1e6,#2e2,#5e1,#7e1,#7e1,#4e1,#1e5,#0ec,#0de,#0be,#0be,#0de,#0ee,#1e6,#4e1,#8e1,#8e1,#6e1,#2e2,#1e4,#0e8,#0ec,#0ef,#0de,#0de,#0df,#0eb,#1e4,#6e1,#ae0,#ae1,#6e1,#1e3,#0e7,#0eb,#0ed,#0ee,#0ef,#0ee,#0ec,#0e8)"></div><div style="top:93.88px;background:linear-gradient(90deg,#118,#02a,#06d,#0ce,#1e6,#5e1,#6e1,#2e2,#1e5,#0e9,#0ef,#0be,#07d,#04c,#03b,#05c,#09e,#0ee,#5e1,#de0,#ce0,#4e1,#0e9,#0ef,#0ce,#0ae,#09d,#07d,#07d,#08d,#0ce,#0e9,#9e1,#fe0,#de0,#5e1,#0ea,#0de,#0be,#0ae,#0ae,#0ae,#0be,#0ce,#0ef,#1e5,#9e1,#de0,#ce0,#4e1,#0eb,#0de,#0be,#0ae,#0be,#0de,#0ef,#0ec,#0e7,#2e2,#8e1,#ae0,#9e1,#2e2,#0eb,#0df,#0ce,#0be,#0ce,#0ef,#0ea,#1e5,#2e2,#4e1,#6e1,#7e1,#4e1,#1e5,#0eb,#0ef,#0de,#0de,#0df,#0ec,#1e6,#3e2,#6e1,#7e1,#5e1,#3e2,#1e4,#1e7,#0eb,#0ef,#0df,#0ef,#0ee,#0e9,#1e3)"></div><div style="top:95.38px;background:linear-gradient(90deg,#118,#02a,#06d,#0ce,#0e8,#3e2,#3e2,#1e3,#1e6,#0ea,#0ef,#0ae,#06d,#04c,#03b,#05c,#0ae,#0eb,#6e1,#be0,#8e1,#1e4,#0ea,#0ef,#0ce,#0ae,#08d,#07d,#07d,#09e,#0df,#1e4,#be0,#de0,#8e1,#1e6,#0ee,#0de,#0be,#0ae,#09e,#09e,#0ae,#0de,#0ea,#5e1,#ce0,#ce0,#6e1,#0e8,#0ef,#0ce,#0be,#0be,#0ce,#0de,#0df,#0ec,#1e4,#8e1,#be0,#ae0,#2e2,#0ea,#0df,#0ce,#0ce,#0de,#0df,#0ee,#0ea,#1e5,#3e2,#8e1,#9e1,#6e1,#1e4,#0ec,#0df,#0de,#0de,#0ef,#0ec,#0e8,#1e4,#2e2,#5e1,#6e1,#6e1,#2e2,#1e7,#0ec,#0ef,#0df,#0ef,#0ed,#0e8,#1e4,#3e2)"></div><div style="top:96.88px;background:linear-gradient(90deg,#118,#02a,#06d,#0ce,#0e9,#1e3,#1e3,#1e5,#0e7,#0eb,#0df,#09e,#06c,#03b,#04b,#06d,#0be,#0e9,#5e1,#8e1,#3e2,#1e7,#0ec,#0df,#0ce,#09d,#07d,#06c,#07d,#0be,#0ec,#4e1,#ae0,#9e1,#1e3,#0ea,#0ef,#0de,#0be,#09e,#09d,#09e,#0be,#0ee,#1e3,#ae0,#be0,#6e1,#1e6,#0ee,#0de,#0ce,#0be,#0be,#0be,#0de,#0ee,#1e6,#7e1,#be0,#9e1,#1e2,#0ea,#0ef,#0de,#0ce,#0de,#0de,#0ef,#0ec,#1e7,#3e1,#9e1,#9e1,#4e1,#1e6,#0ed,#0df,#0de,#0df,#0ef,#0ed,#0ea,#1e6,#2e2,#6e1,#8e1,#6e1,#1e3,#0e9,#0ee,#0df,#0df,#0ef,#0eb,#0e8,#1e5,#2e2,#4e1)"></div><div style="top:98.38px;background:linear-gradient(90deg,#118,#02a,#06d,#0ce,#0eb,#1e5,#1e5,#1e7,#0e9,#0ed,#0ce,#08d,#05c,#03b,#04c,#07d,#0de,#0e7,#3e2,#3e2,#1e4,#0e9,#0ee,#0de,#0ae,#07d,#06c,#06d,#09d,#0de,#1e6,#6e1,#7e1,#2e2,#0e8,#0ee,#0df,#0ce,#09e,#08d,#08d,#0ae,#0df,#1e6,#7e1,#9e1,#5e1,#1e6,#0ed,#0df,#0ce,#0be,#0be,#0be,#0ce,#0ef,#1e6,#6e1,#9e1,#7e1,#1e4,#0eb,#0ef,#0de,#0de,#0ce,#0de,#0df,#0ed,#1e6,#5e1,#9e1,#7e1,#2e2,#0e9,#0ee,#0df,#0df,#0df,#0ef,#0ee,#0ea,#1e5,#4e1,#8e1,#7e1,#2e2,#1e7,#0ec,#0ef,#0ef,#0ef,#0ee,#0eb,#0e8,#1e4,#3e2,#6e1,#6e1)"></div><div style="top:99.89px;background:linear-gradient(90deg,#118,#02a,#06d,#0be,#0ec,#0e7,#0e7,#0e9,#0eb,#0ef,#0be,#07d,#04c,#03b,#05c,#08d,#0df,#1e7,#1e3,#1e4,#0e8,#0ec,#0ef,#0ce,#08d,#06d,#06c,#07d,#0be,#0ed,#1e3,#4e1,#2e2,#1e7,#0ec,#0ef,#0ce,#0ae,#08d,#08d,#09e,#0de,#0e9,#3e2,#7e1,#3e2,#1e6,#0ec,#0ef,#0de,#0be,#0ae,#0ae,#0ce,#0ef,#1e6,#5e1,#7e1,#3e1,#1e6,#0ec,#0ef,#0de,#0ce,#0ce,#0ce,#0df,#0ec,#1e4,#6e1,#7e1,#3e1,#1e6,#0eb,#0ef,#0df,#0df,#0df,#0df,#0ee,#0e8,#1e3,#6e1,#7e1,#3e2,#1e6,#0eb,#0ee,#0ef,#0ef,#0ef,#0ed,#0ea,#1e6,#2e2,#6e1,#6e1,#2e2,#1e5)"></div><div style="top:101.39px;background:linear-gradient(90deg,#118,#02a,#06c,#0be,#0ee,#0ea,#0ea,#0eb,#0ed,#0df,#0ae,#06c,#03b,#03b,#05c,#0ae,#0ef,#1e7,#1e5,#1e7,#0eb,#0ee,#0de,#0ae,#07d,#05c,#06c,#09d,#0de,#0e8,#2e2,#1e3,#1e7,#0eb,#0ef,#0de,#0ae,#08d,#08d,#09e,#0ce,#0ec,#1e3,#4e1,#2e2,#1e7,#0ec,#0ef,#0de,#0be,#0ae,#0ae,#0ce,#0ef,#1e6,#4e1,#5e1,#1e3,#0e8,#0ed,#0ef,#0de,#0ce,#0ce,#0ce,#0ef,#0e9,#1e3,#5e1,#4e1,#1e4,#0e9,#0ed,#0ef,#0df,#0de,#0df,#0ef,#0eb,#1e5,#3e1,#6e1,#3e2,#1e5,#0ea,#0ed,#0ef,#0ef,#0ef,#0ef,#0ec,#1e7,#1e3,#5e1,#5e1,#2e2,#1e6,#0ea,#0ed)"></div><div style="top:102.89px;background:linear-gradient(90deg,#118,#02a,#06c,#0be,#0ef,#0ec,#0ec,#0ed,#0ef,#0ce,#08d,#05c,#03b,#03b,#06d,#0be,#0ed,#0e8,#0e8,#0ea,#0ee,#0df,#0be,#08d,#06c,#05c,#07d,#0be,#0ed,#1e6,#1e4,#1e7,#0eb,#0ef,#0de,#0ae,#08d,#07d,#08d,#0be,#0ee,#1e5,#2e2,#1e4,#0e8,#0ed,#0df,#0ce,#0be,#09e,#0ae,#0ce,#0ee,#1e6,#2e2,#2e2,#1e5,#0ea,#0ef,#0df,#0ce,#0be,#0be,#0de,#0ee,#1e7,#2e2,#4e1,#1e3,#0e8,#0ec,#0ef,#0df,#0de,#0de,#0df,#0ee,#0e7,#2e2,#4e1,#2e2,#1e5,#0ea,#0ed,#0ef,#0ef,#0ef,#0ef,#0ec,#0e8,#1e3,#4e1,#4e1,#1e3,#1e7,#0eb,#0ed,#0ee,#0ee)"></div><div style="top:104.39px;background:linear-gradient(90deg,#118,#02a,#06c,#0be,#0ef,#0ee,#0ee,#0ef,#0df,#0be,#07d,#04c,#03b,#04c,#08d,#0ce,#0ec,#0e9,#0eb,#0ee,#0df,#0ce,#09e,#06d,#05c,#06d,#09e,#0df,#0e9,#1e6,#0e8,#0ec,#0ef,#0de,#0ae,#08d,#07d,#08d,#0be,#0ef,#1e7,#1e4,#1e5,#0ea,#0ee,#0df,#0ce,#0ae,#09e,#0ae,#0ce,#0ed,#1e6,#2e2,#1e4,#0e8,#0ed,#0ef,#0de,#0ce,#0be,#0ce,#0df,#0eb,#1e5,#2e2,#1e3,#1e7,#0eb,#0ef,#0df,#0de,#0de,#0de,#0ef,#0e9,#1e4,#2e2,#2e2,#1e5,#0ea,#0ee,#0ef,#0df,#0df,#0ef,#0ed,#0e8,#1e4,#3e2,#2e2,#1e5,#0e9,#0ec,#0ee,#0ef,#0ef,#0ed,#0ea)"></div><div style="top:105.89px;background:linear-gradient(90deg,#118,#02a,#06c,#0ae,#0df,#0ef,#0ef,#0df,#0de,#0ae,#06d,#03b,#03b,#05c,#09d,#0de,#0ec,#0ec,#0ee,#0df,#0de,#0ae,#07d,#05c,#05c,#08d,#0ce,#0ed,#0e8,#0e9,#0ec,#0ef,#0de,#0be,#08d,#07d,#08d,#0ae,#0df,#0e9,#1e5,#1e7,#0eb,#0ef,#0de,#0be,#0ae,#09e,#0ae,#0de,#0ec,#1e6,#1e4,#1e6,#0eb,#0ef,#0de,#0ce,#0be,#0be,#0ce,#0ef,#0e8,#1e4,#1e3,#1e6,#0eb,#0ef,#0df,#0de,#0de,#0de,#0ef,#0eb,#1e6,#2e2,#1e3,#1e6,#0eb,#0ee,#0ef,#0df,#0df,#0ef,#0ed,#0e8,#1e4,#2e2,#1e3,#1e6,#0ea,#0ed,#0ef,#0ef,#0ee,#0ec,#0e9,#1e6,#1e3)"></div><div style="top:107.40px;background:linear-gradient(90deg,#118,#02a,#06c,#0ae,#0de,#0df,#0de,#0de,#0be,#08d,#05c,#03b,#03b,#06c,#0ae,#0df,#0ed,#0ee,#0df,#0de,#0be,#08d,#06c,#05c,#06d,#0ae,#0df,#0eb,#0ea,#0ed,#0df,#0ce,#0ae,#09d,#07d,#08d,#0ae,#0df,#0ea,#1e7,#0e9,#0ed,#0df,#0ce,#0be,#09e,#09e,#0ae,#0de,#0eb,#1e6,#1e5,#0e9,#0ee,#0df,#0ce,#0be,#0be,#0ce,#0de,#0ed,#1e6,#1e4,#1e6,#0ea,#0ef,#0df,#0de,#0de,#0de,#0df,#0ed,#0e7,#1e4,#1e4,#1e7,#0eb,#0ef,#0df,#0df,#0df,#0ef,#0ec,#0e8,#1e4,#1e3,#1e4,#0e8,#0ec,#0ef,#0ef,#0ef,#0ee,#0eb,#0e8,#1e5,#1e3,#1e3,#1e5)"></div><div style="top:108.90px;background:linear-gradient(90deg,#118,#02a,#06c,#0ae,#0ce,#0de,#0ce,#0ce,#0ae,#07d,#04c,#03b,#04b,#07d,#0be,#0ef,#0ef,#0df,#0de,#0be,#09e,#07d,#05c,#06c,#08d,#0ce,#0ee,#0eb,#0ee,#0df,#0ce,#0ae,#09d,#07d,#07d,#09e,#0de,#0ec,#0e8,#0ea,#0ef,#0de,#0be,#0ae,#09e,#09e,#0be,#0df,#0eb,#1e7,#0e7,#0ec,#0df,#0ce,#0ce,#0be,#0be,#0ce,#0ef,#0ea,#1e6,#1e6,#0e9,#0ef,#0df,#0de,#0ce,#0de,#0df,#0ee,#0e9,#1e5,#1e5,#0e7,#0ec,#0ef,#0df,#0df,#0df,#0ef,#0ec,#0e8,#1e5,#1e4,#1e6,#0ea,#0ee,#0ef,#0ef,#0ef,#0ed,#0ea,#1e7,#1e5,#1e4,#1e5,#0e8,#0ec,#0ee)"></div><div style="top:110.40px;background:linear-gradient(90deg,#118,#02a,#06c,#09e,#0ce,#0ce,#0ce,#0be,#09e,#06d,#04b,#03b,#04c,#08d,#0ce,#0df,#0df,#0de,#0be,#09e,#07d,#06c,#05c,#07d,#0ae,#0df,#0ed,#0ee,#0df,#0ce,#0ae,#09d,#07d,#07d,#09e,#0ce,#0ee,#0ea,#0ec,#0ef,#0ce,#0be,#0ae,#09e,#09e,#0be,#0df,#0eb,#0e8,#0ea,#0ef,#0de,#0ce,#0be,#0be,#0ce,#0de,#0ee,#0e9,#1e6,#0e9,#0ee,#0df,#0ce,#0ce,#0ce,#0de,#0ef,#0eb,#1e7,#1e6,#0e8,#0ed,#0df,#0de,#0de,#0df,#0ef,#0ec,#0e9,#1e6,#1e5,#0e8,#0ec,#0ef,#0df,#0ef,#0ef,#0ec,#0e9,#1e7,#1e5,#1e5,#0e7,#0eb,#0ee,#0ef,#0ef,#0ec)"></div><div style="top:111.90px;background:linear-gradient(90deg,#118,#02a,#06c,#09e,#0be,#0be,#0be,#0ae,#08d,#05c,#03b,#03b,#05c,#09e,#0de,#0df,#0de,#0be,#0ae,#08d,#06d,#05c,#06c,#08d,#0ce,#0ef,#0ef,#0df,#0be,#0ae,#08d,#08d,#07d,#08d,#0be,#0ef,#0eb,#0ed,#0df,#0be,#0ae,#09e,#09e,#0ae,#0be,#0df,#0eb,#0e9,#0ed,#0df,#0ce,#0be,#0be,#0be,#0ce,#0df,#0ec,#0e8,#0e9,#0ed,#0df,#0ce,#0ce,#0ce,#0de,#0ef,#0ed,#0e9,#0e7,#0e9,#0ed,#0df,#0de,#0de,#0df,#0ef,#0ec,#0e9,#1e7,#1e7,#0ea,#0ee,#0df,#0df,#0df,#0ee,#0eb,#0e8,#1e7,#1e6,#0e7,#0ea,#0ed,#0ef,#0ef,#0ee,#0eb,#0e8,#1e6)"></div><div style="top:113.40px;background:linear-gradient(90deg,#118,#02a,#05c,#09e,#0ae,#0ae,#0ae,#09e,#07d,#05c,#03b,#03b,#06d,#0ae,#0de,#0de,#0be,#0ae,#08d,#07d,#05c,#05c,#07d,#0ae,#0df,#0ef,#0df,#0be,#09e,#08d,#08d,#07d,#08d,#0be,#0df,#0ed,#0ee,#0de,#0be,#09e,#09e,#09e,#0ae,#0ce,#0df,#0ec,#0eb,#0ef,#0ce,#0be,#0ae,#0be,#0ce,#0de,#0ef,#0eb,#0ea,#0ec,#0df,#0ce,#0be,#0ce,#0de,#0df,#0ee,#0eb,#0e9,#0ea,#0ee,#0df,#0ce,#0de,#0df,#0ef,#0ec,#0e9,#0e8,#0e9,#0eb,#0ef,#0df,#0df,#0ef,#0ed,#0ea,#0e8,#0e7,#0e8,#0ea,#0ec,#0ef,#0ef,#0ef,#0ec,#0e9,#1e7,#1e6,#1e7,#0e9)"></div><div style="top:114.91px;background:linear-gradient(90deg,#118,#02a,#05c,#09d,#0ae,#0ae,#09e,#08d,#06d,#04c,#03b,#04c,#07d,#0be,#0ce,#0ce,#0ae,#09d,#07d,#06c,#05c,#06c,#08d,#0ce,#0df,#0df,#0be,#09e,#08d,#08d,#07d,#08d,#0ae,#0de,#0ee,#0ef,#0de,#0ae,#09e,#09e,#09e,#0ae,#0ce,#0df,#0ed,#0ed,#0df,#0be,#0ae,#0ae,#0be,#0ce,#0df,#0ef,#0ec,#0ec,#0ef,#0de,#0be,#0be,#0ce,#0df,#0ef,#0ec,#0eb,#0eb,#0ee,#0df,#0ce,#0ce,#0de,#0ef,#0ec,#0ea,#0ea,#0eb,#0ed,#0ef,#0df,#0de,#0ef,#0ed,#0ea,#0e8,#0e8,#0ea,#0ec,#0ee,#0ef,#0ef,#0ee,#0eb,#0e8,#1e7,#0e7,#0e9,#0eb,#0ed,#0ee)"></div><div style="top:116.41px;background:linear-gradient(90deg,#118,#02a,#05c,#08d,#09e,#09e,#08d,#07d,#05c,#03b,#03b,#04c,#08d,#0be,#0ce,#0ae,#09d,#08d,#06d,#05c,#05c,#07d,#0ae,#0de,#0df,#0ce,#09e,#08d,#07d,#07d,#08d,#09e,#0ce,#0ef,#0ef,#0ce,#0ae,#08d,#08d,#09e,#0ae,#0ce,#0df,#0ee,#0ef,#0de,#0ae,#09e,#0ae,#0be,#0de,#0df,#0ef,#0ed,#0ef,#0de,#0be,#0be,#0be,#0de,#0ef,#0ed,#0ec,#0ed,#0ef,#0df,#0ce,#0ce,#0de,#0ef,#0ec,#0eb,#0eb,#0ec,#0ef,#0df,#0de,#0de,#0ef,#0ed,#0ea,#0e9,#0ea,#0ec,#0ee,#0ef,#0ef,#0ef,#0ed,#0ea,#0e8,#0e7,#0e9,#0ec,#0ee,#0ee,#0ee,#0ed,#0eb)"></div><div style="top:117.91px;background:linear-gradient(90deg,#118,#02a,#05c,#08d,#09e,#08d,#08d,#07d,#05c,#03b,#03b,#05c,#09d,#0be,#0be,#09e,#08d,#07d,#06c,#05c,#06c,#08d,#0ce,#0de,#0ce,#09e,#08d,#07d,#07d,#08d,#09e,#0be,#0df,#0df,#0ce,#09e,#08d,#08d,#09e,#0ae,#0ce,#0df,#0ef,#0df,#0ce,#0ae,#09e,#0ae,#0be,#0de,#0ef,#0ef,#0ef,#0df,#0ce,#0be,#0be,#0ce,#0df,#0ef,#0ed,#0ee,#0ef,#0df,#0ce,#0ce,#0ce,#0df,#0ed,#0eb,#0ec,#0ee,#0ef,#0df,#0de,#0de,#0ef,#0ed,#0ea,#0e9,#0eb,#0ee,#0ef,#0ef,#0ef,#0ef,#0ed,#0ea,#0e8,#0e9,#0eb,#0ee,#0ef,#0ef,#0ed,#0eb,#0e9,#0e8,#0e8)"></div><div style="top:119.41px;background:linear-gradient(90deg,#118,#02a,#05c,#08d,#08d,#08d,#07d,#06d,#04c,#03b,#03b,#06c,#09e,#0be,#0ae,#08d,#07d,#06c,#05c,#05c,#07d,#0ae,#0ce,#0ce,#0ae,#08d,#07d,#07d,#07d,#08d,#0ae,#0de,#0de,#0ce,#09e,#08d,#08d,#09e,#0ae,#0ce,#0de,#0df,#0de,#0be,#09e,#09e,#0ae,#0ce,#0df,#0df,#0ef,#0df,#0de,#0be,#0ae,#0be,#0de,#0ef,#0ee,#0ef,#0ef,#0de,#0ce,#0ce,#0ce,#0de,#0ef,#0ec,#0ec,#0ef,#0df,#0de,#0de,#0de,#0ef,#0ee,#0eb,#0ea,#0ec,#0ef,#0df,#0df,#0ef,#0ee,#0ec,#0ea,#0e9,#0eb,#0ed,#0ef,#0ef,#0ef,#0ec,#0ea,#0e9,#0e9,#0e9,#0eb,#0ed)"></div><div style="top:120.91px;background:linear-gradient(90deg,#118,#02a,#05c,#08d,#08d,#07d,#07d,#05c,#04c,#03b,#04b,#07d,#09e,#0ae,#09d,#07d,#06d,#05c,#05c,#06c,#08d,#0be,#0ce,#0ae,#08d,#07d,#07d,#07d,#08d,#0ae,#0ce,#0de,#0ce,#09e,#08d,#08d,#09d,#0ae,#0ce,#0de,#0de,#0ce,#0be,#09e,#09d,#0ae,#0ce,#0df,#0df,#0df,#0de,#0ce,#0ae,#0ae,#0be,#0de,#0ef,#0ef,#0ef,#0de,#0ce,#0ce,#0ce,#0de,#0ef,#0ed,#0ed,#0ef,#0df,#0de,#0de,#0de,#0ef,#0ee,#0ec,#0ec,#0ee,#0ef,#0df,#0df,#0ef,#0ee,#0ec,#0eb,#0eb,#0ec,#0ef,#0ef,#0ef,#0ee,#0ec,#0ea,#0e9,#0ea,#0ec,#0ed,#0ee,#0ee,#0ec)"></div><div style="top:122.42px;background:linear-gradient(90deg,#118,#02a,#05c,#07d,#07d,#07d,#06d,#05c,#03b,#03b,#04c,#07d,#0ae,#09e,#08d,#06d,#05c,#05c,#05c,#07d,#09e,#0be,#0be,#08d,#07d,#06d,#07d,#08d,#09e,#0be,#0ce,#0be,#09e,#08d,#07d,#08d,#0ae,#0ce,#0ce,#0ce,#0ce,#0ae,#09e,#09d,#0ae,#0ce,#0df,#0df,#0de,#0ce,#0be,#0ae,#0ae,#0ce,#0df,#0ef,#0ef,#0de,#0ce,#0ce,#0ce,#0ce,#0df,#0ef,#0ee,#0ef,#0df,#0de,#0ce,#0de,#0df,#0ef,#0ed,#0ed,#0ef,#0df,#0de,#0df,#0ef,#0ee,#0ec,#0ec,#0ec,#0ee,#0ef,#0ef,#0ef,#0ee,#0eb,#0ea,#0ea,#0ec,#0ee,#0ef,#0ef,#0ed,#0eb,#0e9,#0e9)"></div><div style="top:123.92px;background:linear-gradient(90deg,#118,#02a,#05c,#07d,#07d,#06d,#06c,#04c,#03b,#03b,#05c,#08d,#09e,#09d,#07d,#05c,#05c,#05c,#06c,#07d,#0ae,#0be,#09e,#07d,#06c,#06d,#07d,#09d,#0ae,#0be,#0be,#09e,#08d,#07d,#08d,#0ae,#0be,#0ce,#0ce,#0be,#0ae,#09d,#09d,#0ae,#0ce,#0df,#0de,#0ce,#0be,#0ae,#0ae,#0be,#0ce,#0df,#0ef,#0df,#0ce,#0be,#0be,#0ce,#0de,#0df,#0ef,#0ef,#0df,#0ce,#0ce,#0de,#0df,#0ef,#0ee,#0ee,#0ef,#0df,#0de,#0de,#0ef,#0ee,#0ec,#0ec,#0ee,#0ef,#0ef,#0df,#0ef,#0ed,#0eb,#0eb,#0ec,#0ee,#0ef,#0ef,#0ee,#0ed,#0eb,#0ea,#0ea,#0ec,#0ed)"></div><div style="top:125.42px;background:linear-gradient(90deg,#118,#02a,#05c,#07d,#07d,#06c,#05c,#04c,#03b,#03b,#05c,#08d,#09e,#08d,#06c,#05c,#05c,#05c,#06d,#08d,#0ae,#0ae,#08d,#06c,#06c,#07d,#08d,#09e,#0ae,#0be,#09e,#08d,#07d,#08d,#09e,#0be,#0ce,#0be,#0ae,#09e,#09d,#09d,#0ae,#0ce,#0de,#0ce,#0be,#0ae,#0ae,#0ae,#0be,#0de,#0df,#0df,#0de,#0be,#0be,#0be,#0de,#0df,#0ef,#0ef,#0df,#0de,#0ce,#0ce,#0df,#0ef,#0ef,#0ef,#0ef,#0df,#0de,#0de,#0df,#0ef,#0ed,#0ed,#0ef,#0ef,#0df,#0df,#0ef,#0ee,#0ec,#0ec,#0ed,#0ef,#0ef,#0ef,#0ee,#0ec,#0eb,#0eb,#0ec,#0ed,#0ee,#0ee,#0ec)"></div><div style="top:126.92px;background:linear-gradient(90deg,#118,#02a,#05c,#06d,#06d,#05c,#05c,#04b,#03b,#03b,#06c,#08d,#08d,#07d,#05c,#05c,#05c,#06c,#07d,#09e,#0ae,#08d,#06d,#05c,#06d,#08d,#09e,#0ae,#0ae,#09e,#08d,#07d,#07d,#09e,#0be,#0be,#0be,#0ae,#09e,#08d,#09d,#0ae,#0ce,#0de,#0ce,#0be,#0ae,#0ae,#0ae,#0be,#0de,#0df,#0de,#0ce,#0be,#0be,#0ce,#0de,#0df,#0df,#0df,#0de,#0ce,#0ce,#0de,#0df,#0ef,#0ef,#0df,#0de,#0de,#0de,#0df,#0ef,#0ee,#0ee,#0ef,#0df,#0df,#0df,#0ef,#0ee,#0ec,#0ed,#0ee,#0ef,#0ef,#0ef,#0ed,#0ec,#0eb,#0ec,#0ed,#0ee,#0ef,#0ee,#0ec,#0ea,#0ea)"></div><div style="top:128.42px;background:linear-gradient(90deg,#118,#02a,#05c,#06d,#06c,#05c,#04c,#03b,#03b,#04b,#06d,#08d,#08d,#06c,#05c,#05c,#05c,#06d,#08d,#09e,#09e,#07d,#05c,#06c,#07d,#08d,#09e,#0ae,#09e,#08d,#07d,#07d,#08d,#0ae,#0be,#0ae,#09e,#09d,#08d,#09d,#0ae,#0ce,#0ce,#0ce,#0ae,#09e,#0ae,#0be,#0ce,#0de,#0de,#0ce,#0be,#0ae,#0be,#0ce,#0de,#0df,#0de,#0de,#0ce,#0ce,#0ce,#0de,#0ef,#0ef,#0df,#0de,#0de,#0de,#0df,#0ef,#0ef,#0ef,#0ef,#0df,#0de,#0df,#0ef,#0ee,#0ed,#0ee,#0ef,#0ef,#0df,#0ef,#0ed,#0ec,#0ec,#0ed,#0ee,#0ef,#0ef,#0ed,#0ec,#0eb,#0eb,#0ec,#0ed)"></div><div style="top:129.93px;background:linear-gradient(90deg,#118,#02a,#05c,#06c,#06c,#05c,#04c,#03b,#03b,#04c,#07d,#08d,#07d,#05c,#04c,#05c,#05c,#06d,#08d,#09e,#08d,#06c,#05c,#06d,#08d,#09e,#09e,#09e,#08d,#07d,#07d,#08d,#0ae,#0be,#0ae,#09e,#08d,#08d,#09d,#0ae,#0be,#0ce,#0be,#0ae,#09e,#09e,#0be,#0ce,#0ce,#0ce,#0ce,#0be,#0ae,#0be,#0ce,#0de,#0de,#0de,#0ce,#0ce,#0ce,#0de,#0df,#0ef,#0df,#0de,#0ce,#0de,#0de,#0df,#0ef,#0ef,#0ef,#0df,#0de,#0df,#0ef,#0ef,#0ee,#0ef,#0ef,#0df,#0df,#0ef,#0ee,#0ec,#0ed,#0ee,#0ef,#0ef,#0ef,#0ed,#0ec,#0eb,#0ec,#0ee,#0ee,#0ee,#0ec)"></div><div style="top:131.43px;background:linear-gradient(90deg,#118,#02a,#05c,#06c,#05c,#04c,#04c,#03b,#03b,#04c,#07d,#08d,#06d,#04c,#04c,#05c,#06c,#07d,#08d,#08d,#07d,#05c,#05c,#07d,#08d,#09e,#09d,#08d,#07d,#07d,#07d,#09e,#0ae,#0ae,#09e,#08d,#08d,#09d,#09e,#0be,#0ce,#0be,#09e,#09e,#09e,#0be,#0ce,#0ce,#0ce,#0be,#0ae,#0ae,#0be,#0de,#0de,#0de,#0ce,#0be,#0be,#0ce,#0de,#0df,#0df,#0de,#0ce,#0ce,#0de,#0df,#0ef,#0ef,#0df,#0de,#0de,#0de,#0df,#0ef,#0ef,#0ef,#0df,#0df,#0df,#0ef,#0ee,#0ed,#0ee,#0ef,#0ef,#0ef,#0ef,#0ed,#0ec,#0ec,#0ed,#0ef,#0ef,#0ee,#0ec,#0eb,#0eb)"></div><div style="top:132.93px;background:linear-gradient(90deg,#118,#02a,#04c,#05c,#05c,#04c,#03b,#03b,#03b,#05c,#07d,#07d,#05c,#04c,#04c,#05c,#06d,#07d,#08d,#07d,#06c,#05c,#06c,#08d,#09d,#09d,#08d,#07d,#07d,#07d,#08d,#0ae,#0ae,#09e,#08d,#08d,#08d,#09e,#0ae,#0be,#0ae,#09e,#09d,#09e,#0be,#0ce,#0ce,#0be,#0ae,#0ae,#0ae,#0be,#0de,#0de,#0ce,#0be,#0be,#0be,#0ce,#0de,#0df,#0de,#0ce,#0ce,#0ce,#0de,#0df,#0df,#0df,#0de,#0de,#0de,#0df,#0ef,#0ef,#0ef,#0df,#0df,#0df,#0ef,#0ef,#0ee,#0ef,#0ef,#0ef,#0ef,#0ef,#0ed,#0ed,#0ed,#0ee,#0ef,#0ef,#0ee,#0ec,#0ec,#0ec,#0ed,#0ee)"></div><div style="top:134.43px;background:linear-gradient(90deg,#118,#02a,#04c,#05c,#05c,#04c,#03b,#03b,#03b,#05c,#07d,#07d,#05c,#04c,#04c,#05c,#06d,#07d,#08d,#06d,#05c,#05c,#07d,#08d,#08d,#08d,#07d,#07d,#07d,#08d,#09e,#0ae,#09e,#08d,#08d,#08d,#09e,#0ae,#0be,#0ae,#09e,#08d,#09e,#0ae,#0be,#0be,#0be,#0ae,#0ae,#0ae,#0be,#0ce,#0ce,#0ce,#0be,#0be,#0ce,#0ce,#0de,#0de,#0ce,#0ce,#0ce,#0ce,#0df,#0df,#0df,#0de,#0de,#0de,#0de,#0df,#0ef,#0ef,#0df,#0de,#0df,#0ef,#0ef,#0ef,#0ef,#0ef,#0df,#0ef,#0ef,#0ee,#0ee,#0ee,#0ef,#0ef,#0ef,#0ee,#0ec,#0ec,#0ed,#0ee,#0ee,#0ed,#0ec)"></div><div style="top:135.93px;background:linear-gradient(90deg,#118,#02a,#04c,#05c,#04c,#04b,#03b,#03b,#03b,#05c,#07d,#06c,#04c,#04b,#05c,#06c,#07d,#07d,#07d,#06c,#05c,#06c,#07d,#08d,#08d,#07d,#07d,#07d,#07d,#08d,#0ae,#09e,#08d,#07d,#08d,#09e,#0ae,#0ae,#0ae,#09e,#08d,#09e,#0ae,#0be,#0be,#0ae,#0ae,#0ae,#0ae,#0be,#0ce,#0ce,#0be,#0ae,#0be,#0ce,#0ce,#0de,#0ce,#0ce,#0be,#0ce,#0de,#0df,#0df,#0de,#0ce,#0ce,#0de,#0df,#0ef,#0df,#0df,#0de,#0de,#0df,#0ef,#0ef,#0ef,#0df,#0df,#0df,#0ef,#0ee,#0ee,#0ef,#0ef,#0ef,#0ef,#0ee,#0ed,#0ed,#0ee,#0ef,#0ee,#0ed,#0ec,#0ec,#0ec)"></div><div style="top:137.44px;background:linear-gradient(90deg,#118,#02a,#04c,#05c,#04c,#03b,#03b,#03b,#03b,#06c,#07d,#05c,#04b,#04b,#05c,#06c,#07d,#07d,#06d,#05c,#05c,#06d,#08d,#08d,#07d,#07d,#06d,#07d,#08d,#09e,#09e,#08d,#07d,#07d,#09d,#09e,#0ae,#09e,#09e,#08d,#09d,#0ae,#0be,#0be,#0ae,#09e,#0ae,#0ae,#0be,#0ce,#0ce,#0be,#0ae,#0be,#0ce,#0ce,#0ce,#0ce,#0be,#0be,#0ce,#0de,#0df,#0de,#0ce,#0ce,#0de,#0de,#0df,#0df,#0df,#0de,#0de,#0df,#0ef,#0ef,#0ef,#0df,#0df,#0df,#0ef,#0ef,#0ef,#0ef,#0ef,#0ef,#0ef,#0ee,#0ee,#0ee,#0ef,#0ef,#0ef,#0ee,#0ec,#0ec,#0ed,#0ee,#0ee)"></div><div style="top:138.94px;background:linear-gradient(90deg,#118,#02a,#04c,#05c,#04c,#03b,#03b,#03b,#04b,#06c,#06d,#05c,#03b,#04c,#05c,#06d,#07d,#07d,#06c,#05c,#05c,#07d,#08d,#07d,#07d,#06d,#07d,#07d,#08d,#09e,#08d,#07d,#07d,#08d,#09e,#09e,#09e,#09d,#08d,#08d,#0ae,#0be,#0be,#0ae,#09e,#09e,#0ae,#0be,#0be,#0be,#0ae,#0ae,#0be,#0ce,#0ce,#0ce,#0be,#0be,#0be,#0ce,#0de,#0de,#0ce,#0ce,#0ce,#0de,#0de,#0df,#0df,#0de,#0de,#0de,#0df,#0ef,#0df,#0df,#0df,#0df,#0ef,#0ef,#0ef,#0ef,#0df,#0df,#0ef,#0ef,#0ee,#0ef,#0ef,#0ef,#0ef,#0ee,#0ed,#0ed,#0ee,#0ee,#0ee,#0ed,#0ec)"></div><div style="top:140.44px;background:linear-gradient(90deg,#118,#02a,#04c,#04c,#04b,#03b,#03b,#03b,#04c,#06c,#06c,#04c,#03b,#04c,#05c,#06d,#06d,#06d,#05c,#05c,#06c,#08d,#08d,#07d,#06d,#06d,#07d,#08d,#09d,#08d,#07d,#07d,#08d,#09e,#09e,#09e,#08d,#08d,#08d,#09e,#0ae,#0ae,#09e,#09e,#09e,#0ae,#0be,#0be,#0be,#0ae,#0ae,#0be,#0ce,#0ce,#0ce,#0be,#0be,#0be,#0ce,#0de,#0de,#0ce,#0ce,#0ce,#0de,#0de,#0de,#0de,#0de,#0de,#0de,#0df,#0df,#0df,#0de,#0df,#0df,#0ef,#0ef,#0ef,#0df,#0df,#0ef,#0ef,#0ef,#0ef,#0ef,#0ef,#0ef,#0ee,#0ee,#0ee,#0ee,#0ef,#0ee,#0ed,#0ed,#0ed,#0ed)"></div><div style="top:141.94px;background:linear-gradient(90deg,#118,#02a,#04c,#04c,#03b,#03b,#03b,#03b,#04c,#06c,#05c,#04b,#03b,#04c,#06c,#06d,#06d,#06c,#05c,#05c,#06d,#08d,#07d,#06d,#06c,#06d,#07d,#08d,#08d,#08d,#07d,#07d,#08d,#09e,#09e,#08d,#08d,#08d,#09e,#0ae,#0ae,#09e,#09d,#09e,#0ae,#0be,#0be,#0ae,#0ae,#0ae,#0be,#0ce,#0ce,#0be,#0be,#0be,#0ce,#0ce,#0ce,#0ce,#0ce,#0ce,#0ce,#0de,#0de,#0de,#0ce,#0ce,#0de,#0df,#0df,#0df,#0de,#0de,#0df,#0df,#0ef,#0df,#0df,#0df,#0df,#0ef,#0ef,#0ef,#0ef,#0ef,#0ef,#0ef,#0ee,#0ee,#0ef,#0ef,#0ef,#0ed,#0ed,#0ed,#0ee,#0ee,#0ed)"></div><div style="top:143.44px;background:linear-gradient(90deg,#118,#02a,#04c,#04c,#03b,#03b,#02b,#03b,#04c,#06c,#05c,#03b,#03b,#05c,#06c,#06c,#06c,#05c,#05c,#05c,#07d,#07d,#06d,#06c,#06d,#07d,#08d,#08d,#08d,#07d,#07d,#08d,#09e,#09e,#08d,#08d,#08d,#09d,#09e,#0ae,#09e,#09d,#09e,#0ae,#0be,#0ae,#0ae,#0ae,#0ae,#0be,#0be,#0be,#0be,#0ae,#0be,#0ce,#0ce,#0ce,#0ce,#0be,#0ce,#0ce,#0de,#0de,#0ce,#0ce,#0ce,#0de,#0df,#0df,#0de,#0de,#0de,#0df,#0df,#0df,#0df,#0df,#0df,#0ef,#0ef,#0ef,#0ef,#0df,#0ef,#0ef,#0ef,#0ef,#0ef,#0ef,#0ef,#0ee,#0ed,#0ee,#0ee,#0ee,#0ee,#0ed,#0ec)"></div><div style="top:144.95px;background:linear-gradient(90deg,#118,#02a,#04c,#04c,#03b,#03b,#02b,#03b,#04c,#05c,#04c,#03b,#04b,#05c,#06c,#06c,#05c,#05c,#05c,#06c,#07d,#07d,#06c,#06c,#06d,#07d,#08d,#08d,#07d,#07d,#07d,#08d,#09e,#08d,#08d,#08d,#08d,#09e,#0ae,#09e,#08d,#09d,#09e,#0ae,#0ae,#0ae,#09e,#0ae,#0ae,#0be,#0be,#0be,#0ae,#0be,#0ce,#0ce,#0ce,#0be,#0be,#0ce,#0ce,#0de,#0ce,#0ce,#0ce,#0de,#0de,#0de,#0de,#0de,#0de,#0de,#0df,#0df,#0df,#0de,#0df,#0df,#0ef,#0ef,#0df,#0df,#0ef,#0ef,#0ef,#0ef,#0ef,#0ef,#0ef,#0ef,#0ee,#0ee,#0ef,#0ef,#0ee,#0ed,#0ed,#0ed,#0ee)"></div></div><div class="hm" style="left:384px;top:291.2px;width:146px;height:146.3px;--r:5.320px"><div style="top:0;height:3.99px;-webkit-mask-image:none;mask-image:none;background:linear-gradient(90deg,#2e2,#0e9,#0ef,#0ef,#0e9,#1e4,#1e4,#0e7,#0ed,#0ef,#0ed,#0e8,#1e5,#1e4,#1e6,#0eb,#0ef,#0ed,#0e8,#1e5,#1e4,#1e6,#0ea,#0ec,#0ec,#0e8,#1e5,#1e4,#1e5,#0e9,#0eb,#0ea,#0e8,#1e5,#1e4,#1e5,#0e8,#0ea,#0ea,#0e7,#1e5,#1e4,#1e4,#1e6,#0e9,#0e9,#0e7,#1e5,#1e4,#1e4,#1e6,#0e8,#0e8,#1e7,#1e5,#1e4,#1e4,#1e6,#0e7,#0e8,#1e7,#1e5,#1e4,#1e4,#1e5,#1e7,#0e7,#1e6,#1e5,#1e4,#1e4,#1e5,#1e6,#1e7)"></div><div style="top:1.33px;background:linear-gradient(90deg,#2e2,#0e8,#0ef,#0ef,#0ea,#1e5,#1e3,#1e6,#0eb,#0ef,#0ee,#0ea,#1e6,#1e4,#1e5,#0e8,#0ed,#0ee,#0eb,#1e6,#1e4,#1e5,#1e7,#0ea,#0ec,#0eb,#0e7,#1e4,#1e4,#1e6,#0e9,#0eb,#0ea,#0e8,#1e5,#1e4,#1e4,#1e7,#0ea,#0ea,#0e8,#1e5,#1e4,#1e4,#1e5,#0e8,#0e9,#0e8,#1e5,#1e4,#1e4,#1e5,#1e6,#0e8,#0e8,#1e6,#1e4,#1e3,#1e4,#1e6,#1e7,#1e7,#1e6,#1e5,#1e4,#1e4,#1e5,#1e6,#1e7,#1e6,#1e5,#1e4,#1e4,#1e4)"></div><div style="top:3.99px;background:linear-gradient(90deg,#2e2,#0e7,#0ef,#0ef,#0ec,#1e6,#1e3,#1e5,#0e9,#0ee,#0ef,#0ec,#0e8,#1e5,#1e4,#1e6,#0ea,#0ee,#0ed,#0e9,#1e5,#1e4,#1e5,#1e7,#0ea,#0ec,#0ea,#1e7,#1e4,#1e4,#1e6,#0e8,#0ea,#0ea,#0e8,#1e5,#1e3,#1e4,#1e6,#0e9,#0e9,#0e8,#1e6,#1e4,#1e4,#1e4,#1e7,#0e9,#0e8,#1e6,#1e4,#1e4,#1e4,#1e5,#1e7,#0e8,#1e7,#1e5,#1e4,#1e3,#1e4,#1e6,#1e7,#1e7,#1e6,#1e4,#1e3,#1e4,#1e5,#1e6,#1e7,#1e6,#1e5,#1e4)"></div><div style="top:6.65px;background:linear-gradient(90deg,#2e2,#1e7,#0ee,#0ef,#0ec,#1e7,#1e4,#1e4,#0e8,#0ed,#0ef,#0ed,#0e9,#1e6,#1e4,#1e4,#0e8,#0ec,#0ee,#0eb,#1e7,#1e5,#1e4,#1e5,#0e8,#0eb,#0ec,#0ea,#1e6,#1e4,#1e4,#1e6,#0e8,#0ea,#0ea,#0e8,#1e5,#1e3,#1e4,#1e6,#0e8,#0e9,#0e8,#1e6,#1e5,#1e3,#1e4,#1e6,#0e8,#0e8,#1e7,#1e5,#1e4,#1e4,#1e4,#1e6,#0e7,#0e8,#1e6,#1e4,#1e3,#1e4,#1e5,#1e6,#1e7,#1e7,#1e6,#1e4,#1e3,#1e3,#1e5,#1e6,#1e6,#1e6)"></div><div style="top:9.31px;background:linear-gradient(90deg,#2e2,#1e6,#0ed,#0ef,#0ed,#0e8,#1e4,#1e3,#1e6,#0eb,#0ee,#0ee,#0eb,#0e7,#1e4,#1e4,#1e5,#0e9,#0ed,#0ed,#0e9,#1e6,#1e4,#1e4,#1e5,#0e8,#0eb,#0eb,#0e9,#1e5,#1e4,#1e4,#1e5,#0e8,#0e9,#0ea,#0e8,#1e5,#1e3,#1e3,#1e5,#0e7,#0e9,#0e8,#1e7,#1e5,#1e4,#1e3,#1e5,#1e7,#0e8,#0e8,#1e6,#1e5,#1e4,#1e3,#1e4,#1e6,#0e7,#1e7,#1e6,#1e4,#1e3,#1e4,#1e4,#1e6,#1e7,#1e7,#1e5,#1e4,#1e3,#1e3,#1e4,#1e5)"></div><div style="top:11.97px;background:linear-gradient(90deg,#2e2,#1e6,#0ec,#0ef,#0ee,#0e9,#1e4,#1e3,#1e5,#0e9,#0ed,#0ee,#0ec,#0e9,#1e6,#1e3,#1e4,#1e7,#0eb,#0ed,#0eb,#0e8,#1e5,#1e4,#1e4,#1e5,#0e9,#0eb,#0eb,#0e8,#1e5,#1e4,#1e4,#1e5,#1e7,#0e9,#0ea,#0e8,#1e5,#1e3,#1e3,#1e5,#1e7,#0e8,#0e8,#0e7,#1e6,#1e4,#1e3,#1e4,#1e6,#0e8,#0e8,#1e7,#1e5,#1e4,#1e3,#1e3,#1e5,#1e6,#0e7,#1e7,#1e5,#1e4,#1e3,#1e4,#1e4,#1e5,#1e6,#1e6,#1e5,#1e4,#1e3,#1e3)"></div><div style="top:14.63px;background:linear-gradient(90deg,#2e2,#1e5,#0eb,#0ef,#0ef,#0ea,#1e5,#1e3,#1e4,#0e7,#0eb,#0ed,#0ed,#0ea,#1e7,#1e4,#1e3,#1e5,#0e9,#0ec,#0ec,#0ea,#1e7,#1e5,#1e4,#1e4,#1e6,#0e9,#0eb,#0ea,#1e7,#1e4,#1e3,#1e4,#1e5,#1e7,#0e9,#0ea,#0e8,#1e5,#1e3,#1e3,#1e4,#1e6,#0e7,#0e8,#0e8,#1e6,#1e4,#1e3,#1e3,#1e5,#1e7,#0e7,#1e7,#1e6,#1e5,#1e4,#1e3,#1e4,#1e5,#1e7,#1e7,#1e6,#1e4,#1e4,#1e3,#1e3,#1e4,#1e5,#1e6,#1e6,#1e5,#1e4)"></div><div style="top:17.29px;background:linear-gradient(90deg,#2e2,#1e5,#0eb,#0ef,#0ef,#0eb,#1e6,#1e3,#1e3,#1e6,#0ea,#0ed,#0ed,#0eb,#0e8,#1e5,#1e3,#1e3,#1e6,#0ea,#0ec,#0eb,#0e8,#1e6,#1e4,#1e3,#1e4,#1e6,#0e9,#0eb,#0ea,#1e7,#1e4,#1e3,#1e4,#1e5,#1e6,#0e9,#0e9,#0e8,#1e5,#1e3,#1e3,#1e4,#1e5,#1e7,#0e8,#0e8,#1e7,#1e5,#1e3,#1e3,#1e4,#1e6,#1e7,#1e7,#1e6,#1e5,#1e4,#1e3,#1e3,#1e4,#1e6,#1e7,#1e7,#1e5,#1e4,#1e3,#1e3,#1e3,#1e4,#1e5,#1e6,#1e6)"></div><div style="top:19.95px;background:linear-gradient(90deg,#2e2,#1e5,#0ea,#0ee,#0ef,#0ec,#1e7,#1e3,#1e3,#1e5,#0e8,#0ec,#0ed,#0ec,#0ea,#1e6,#1e4,#1e3,#1e4,#0e8,#0eb,#0ec,#0ea,#0e7,#1e5,#1e4,#1e3,#1e4,#1e7,#0ea,#0eb,#0e9,#1e6,#1e4,#1e3,#1e4,#1e5,#1e6,#0e8,#0e9,#0e8,#1e6,#1e3,#1e3,#1e3,#1e5,#1e6,#0e7,#0e8,#1e7,#1e5,#1e3,#1e3,#1e3,#1e5,#1e6,#1e7,#1e7,#1e6,#1e5,#1e3,#1e3,#1e3,#1e4,#1e6,#1e7,#1e6,#1e5,#1e4,#1e3,#1e3,#1e3,#1e4,#1e5)"></div><div style="top:22.61px;background:linear-gradient(90deg,#2e2,#1e4,#0e9,#0ed,#0ef,#0ed,#0e8,#1e4,#2e2,#1e4,#1e7,#0ea,#0ec,#0ec,#0eb,#0e8,#1e5,#1e3,#1e3,#1e5,#0e9,#0ec,#0eb,#0e9,#1e6,#1e5,#1e3,#1e3,#1e4,#0e7,#0ea,#0eb,#0e8,#1e5,#1e4,#1e3,#1e3,#1e4,#1e6,#0e8,#0e9,#0e8,#1e6,#1e3,#1e3,#1e3,#1e4,#1e6,#1e7,#0e7,#1e7,#1e6,#1e4,#1e3,#1e3,#1e4,#1e6,#1e7,#1e7,#1e6,#1e5,#1e4,#1e3,#1e3,#1e3,#1e5,#1e6,#1e6,#1e6,#1e4,#1e3,#1e3,#1e3,#1e3)"></div><div style="top:25.27px;background:linear-gradient(90deg,#2e2,#1e4,#0e9,#0ed,#0ef,#0ee,#0e9,#1e4,#2e2,#1e3,#1e6,#0e9,#0ec,#0ec,#0eb,#0e9,#1e6,#1e3,#2e2,#1e4,#1e7,#0ea,#0eb,#0ea,#0e8,#1e5,#1e4,#1e3,#1e3,#1e5,#0e8,#0ea,#0ea,#0e8,#1e5,#1e3,#1e3,#1e3,#1e4,#1e6,#0e8,#0e9,#0e8,#1e6,#1e3,#1e3,#1e3,#1e4,#1e6,#1e7,#1e7,#1e7,#1e6,#1e4,#1e3,#2e2,#1e3,#1e5,#1e6,#1e7,#1e6,#1e5,#1e4,#1e3,#1e3,#1e3,#1e4,#1e5,#1e6,#1e6,#1e5,#1e4,#1e3,#1e3)"></div><div style="top:27.93px;background:linear-gradient(90deg,#2e2,#1e4,#0e8,#0ec,#0ef,#0ee,#0ea,#1e5,#2e2,#2e2,#1e5,#0e8,#0eb,#0ec,#0ec,#0ea,#1e7,#1e4,#2e2,#1e3,#1e5,#0e9,#0eb,#0eb,#0e9,#1e6,#1e5,#1e3,#1e3,#1e3,#1e5,#0e8,#0ea,#0ea,#1e7,#1e4,#1e3,#1e3,#1e3,#1e4,#1e6,#0e8,#0e9,#0e8,#1e6,#1e3,#2e2,#1e3,#1e4,#1e5,#1e6,#1e7,#1e7,#1e6,#1e4,#1e3,#2e2,#1e3,#1e4,#1e6,#1e7,#1e6,#1e5,#1e4,#1e3,#1e3,#1e3,#1e3,#1e4,#1e6,#1e6,#1e6,#1e4,#1e3)"></div><div style="top:30.59px;background:linear-gradient(90deg,#2e2,#1e4,#0e7,#0ec,#0ef,#0ef,#0eb,#1e6,#1e3,#2e2,#1e4,#1e7,#0ea,#0ec,#0ec,#0ea,#0e8,#1e5,#1e3,#2e2,#1e3,#1e7,#0ea,#0eb,#0ea,#0e7,#1e5,#1e4,#1e3,#1e3,#1e4,#1e6,#0e9,#0ea,#0e9,#1e6,#1e4,#1e3,#1e3,#1e4,#1e5,#1e6,#0e8,#0e8,#0e7,#1e5,#1e3,#2e2,#2e2,#1e4,#1e5,#1e6,#1e7,#1e6,#1e6,#1e4,#1e3,#2e2,#2e2,#1e4,#1e5,#1e6,#1e6,#1e5,#1e4,#1e3,#1e3,#1e3,#1e3,#1e4,#1e5,#1e6,#1e6,#1e5)"></div><div style="top:33.25px;background:linear-gradient(90deg,#2e2,#1e3,#1e7,#0eb,#0ee,#0ef,#0ec,#1e6,#1e3,#2e2,#1e3,#1e6,#0e9,#0eb,#0ec,#0eb,#0e9,#1e6,#1e3,#2e2,#1e3,#1e5,#0e9,#0eb,#0eb,#0e9,#1e6,#1e4,#1e3,#1e3,#1e3,#1e5,#1e7,#0e9,#0ea,#0e8,#1e5,#1e3,#2e2,#1e3,#1e4,#1e5,#1e6,#0e7,#0e8,#1e7,#1e5,#1e3,#2e2,#2e2,#1e4,#1e5,#1e7,#1e7,#1e6,#1e5,#1e4,#1e3,#1e2,#2e2,#1e3,#1e5,#1e6,#1e7,#1e6,#1e4,#1e3,#1e3,#1e3,#1e3,#1e3,#1e4,#1e5,#1e6)"></div><div style="top:35.91px;background:linear-gradient(90deg,#2e2,#1e3,#1e6,#0ea,#0ed,#0ee,#0ec,#1e7,#1e3,#2e2,#2e2,#1e5,#0e8,#0eb,#0eb,#0ea,#0e9,#1e6,#1e4,#2e2,#2e2,#1e3,#1e7,#0ea,#0eb,#0ea,#1e7,#1e4,#1e3,#1e3,#1e3,#1e4,#1e5,#0e8,#0e9,#0e9,#1e7,#1e4,#2e2,#2e2,#1e3,#1e4,#1e6,#1e7,#1e7,#1e7,#1e6,#1e4,#1e3,#2e2,#2e2,#1e3,#1e5,#1e7,#1e7,#1e6,#1e5,#1e4,#1e3,#1e3,#1e3,#1e3,#1e4,#1e6,#1e6,#1e6,#1e4,#1e3,#2e2,#2e2,#1e3,#1e4,#1e4,#1e5)"></div><div style="top:38.57px;background:linear-gradient(90deg,#2e2,#1e3,#1e6,#0e9,#0ec,#0ee,#0ec,#1e7,#1e3,#2e2,#2e2,#1e4,#0e7,#0ea,#0eb,#0ea,#0e8,#1e6,#1e4,#1e3,#2e2,#1e3,#1e5,#0e8,#0eb,#0ea,#0e7,#1e5,#1e3,#1e2,#1e3,#1e3,#1e5,#1e6,#0e8,#0e9,#0e8,#1e5,#1e3,#2e2,#2e2,#1e3,#1e5,#1e6,#1e7,#1e7,#1e6,#1e5,#1e4,#1e3,#2e2,#2e2,#1e3,#1e5,#1e7,#1e7,#1e5,#1e4,#1e3,#2e2,#1e3,#1e3,#1e3,#1e4,#1e5,#1e6,#1e5,#1e4,#1e3,#2e2,#2e2,#1e3,#1e4,#1e4)"></div><div style="top:41.23px;background:linear-gradient(90deg,#2e2,#1e3,#1e5,#0e8,#0eb,#0ed,#0eb,#0e7,#1e3,#2e2,#2e2,#1e3,#1e7,#0e9,#0ea,#0e9,#0e8,#1e6,#1e4,#1e3,#2e2,#2e2,#1e4,#1e7,#0e9,#0ea,#0e8,#1e5,#1e3,#2e2,#2e2,#1e3,#1e4,#1e6,#1e7,#1e7,#1e7,#1e6,#1e4,#2e2,#2e2,#2e2,#1e3,#1e6,#1e7,#1e7,#1e6,#1e4,#1e3,#1e3,#2e2,#2e2,#1e3,#1e4,#1e5,#1e6,#1e6,#1e5,#1e3,#2e2,#2e2,#2e2,#1e3,#1e4,#1e5,#1e5,#1e5,#1e4,#1e4,#1e3,#2e2,#2e2,#2e2,#1e3)"></div><div style="top:43.89px;background:linear-gradient(90deg,#2e2,#1e3,#1e5,#1e7,#0ea,#0ec,#0eb,#0e7,#1e3,#2e2,#2e2,#1e2,#1e6,#0e9,#0ea,#0e9,#1e7,#1e5,#1e4,#1e3,#2e2,#2e2,#1e3,#1e5,#0e8,#0e9,#0e9,#1e6,#1e3,#2e2,#2e2,#1e3,#1e4,#1e6,#1e6,#1e6,#1e6,#1e5,#1e4,#1e3,#2e2,#2e2,#2e2,#1e4,#1e6,#1e7,#1e6,#1e5,#1e3,#2e2,#2e2,#2e2,#1e3,#1e4,#1e4,#1e5,#1e5,#1e5,#1e4,#1e3,#2e2,#2e2,#2e2,#1e3,#1e5,#1e5,#1e5,#1e4,#1e3,#1e3,#2e2,#2e2,#2e2,#1e3)"></div><div style="top:46.55px;background:linear-gradient(90deg,#2e2,#1e2,#1e4,#1e6,#0e9,#0eb,#0ea,#1e7,#1e4,#2e2,#3e2,#2e2,#1e5,#0e8,#0ea,#0e9,#1e7,#1e5,#1e3,#1e3,#2e2,#1e3,#1e3,#1e4,#1e6,#0e8,#0e8,#1e6,#1e4,#2e2,#2e2,#2e2,#1e3,#1e6,#1e7,#1e7,#1e6,#1e4,#1e3,#1e3,#2e2,#2e2,#2e2,#1e3,#1e5,#1e6,#1e7,#1e5,#1e4,#2e2,#2e2,#2e2,#1e3,#1e4,#1e5,#1e5,#1e5,#1e4,#1e4,#1e3,#2e2,#2e2,#2e2,#1e3,#1e4,#1e5,#1e5,#1e5,#1e3,#2e2,#2e2,#2e2,#2e2,#1e3)"></div><div style="top:49.21px;background:linear-gradient(90deg,#2e2,#2e2,#1e4,#1e6,#0e8,#0ea,#0e9,#1e7,#1e4,#2e2,#3e2,#2e2,#1e4,#0e7,#0ea,#0e9,#1e7,#1e4,#1e2,#2e2,#2e2,#1e3,#1e3,#1e4,#1e6,#1e7,#1e7,#1e6,#1e4,#2e2,#2e2,#2e2,#1e3,#1e5,#1e7,#1e7,#1e6,#1e4,#1e3,#2e2,#2e2,#2e2,#1e3,#1e4,#1e4,#1e5,#1e5,#1e5,#1e4,#1e3,#2e2,#2e2,#2e2,#1e3,#1e5,#1e6,#1e5,#1e4,#1e3,#2e2,#2e2,#2e2,#1e3,#1e3,#1e3,#1e4,#1e4,#1e4,#1e4,#1e3,#2e2,#2e2,#2e2,#2e2)"></div><div style="top:51.87px;background:linear-gradient(90deg,#2e2,#2e2,#1e3,#1e5,#1e7,#0e9,#0e9,#1e7,#1e4,#2e2,#3e2,#2e2,#1e3,#1e7,#0e9,#0e9,#1e7,#1e4,#2e2,#2e2,#2e2,#1e3,#1e4,#1e5,#1e5,#1e6,#1e6,#1e5,#1e4,#2e2,#2e2,#2e2,#2e2,#1e4,#1e6,#1e7,#1e6,#1e4,#2e2,#2e2,#2e2,#2e2,#1e3,#1e4,#1e5,#1e5,#1e4,#1e3,#1e3,#1e2,#2e2,#2e2,#2e2,#1e3,#1e4,#1e5,#1e5,#1e4,#1e3,#2e2,#2e2,#2e2,#2e2,#1e3,#1e4,#1e4,#1e4,#1e3,#2e2,#2e2,#2e2,#2e2,#2e2,#1e3)"></div><div style="top:54.53px;background:linear-gradient(90deg,#2e2,#2e2,#1e3,#1e5,#1e6,#0e8,#0e8,#1e6,#1e4,#2e2,#3e2,#2e2,#1e3,#1e6,#0e9,#0e9,#1e7,#1e3,#2e2,#3e2,#2e2,#1e3,#1e4,#1e6,#1e6,#1e5,#1e4,#1e3,#1e3,#2e2,#2e2,#2e2,#2e2,#1e3,#1e5,#1e6,#1e6,#1e4,#2e2,#2e2,#3e2,#2e2,#1e3,#1e5,#1e6,#1e5,#1e4,#1e3,#2e2,#2e2,#2e2,#2e2,#1e3,#1e3,#1e4,#1e4,#1e4,#1e3,#1e3,#2e2,#2e2,#2e2,#2e2,#1e3,#1e4,#1e4,#1e4,#1e3,#2e2,#2e2,#2e2,#2e2,#1e3,#1e4)"></div><div style="top:57.19px;background:linear-gradient(90deg,#2e2,#2e2,#1e3,#1e4,#1e5,#1e6,#1e7,#1e5,#1e3,#2e2,#3e2,#3e2,#2e2,#1e5,#0e8,#0e8,#1e6,#1e3,#2e2,#3e1,#3e2,#2e2,#1e4,#1e6,#1e6,#1e5,#1e3,#2e2,#2e2,#2e2,#2e2,#1e3,#1e3,#1e4,#1e4,#1e4,#1e4,#1e3,#2e2,#2e2,#2e2,#2e2,#2e2,#1e4,#1e5,#1e5,#1e4,#2e2,#2e2,#3e2,#2e2,#2e2,#1e4,#1e5,#1e5,#1e4,#2e2,#2e2,#2e2,#2e2,#2e2,#1e3,#1e3,#1e3,#1e3,#1e3,#1e3,#2e2,#2e2,#2e2,#2e2,#2e2,#2e2,#1e3)"></div><div style="top:59.85px;background:linear-gradient(90deg,#2e2,#2e2,#1e3,#1e3,#1e4,#1e5,#1e5,#1e5,#1e3,#2e2,#3e2,#3e2,#2e2,#1e4,#1e6,#1e7,#1e6,#1e3,#2e2,#4e1,#3e1,#2e2,#1e4,#1e6,#1e6,#1e5,#1e3,#2e2,#3e2,#2e2,#2e2,#1e3,#1e4,#1e4,#1e4,#1e3,#2e2,#2e2,#2e2,#2e2,#2e2,#2e2,#1e3,#1e3,#1e3,#1e3,#1e3,#2e2,#2e2,#2e2,#2e2,#2e2,#1e3,#1e4,#1e4,#1e4,#2e2,#2e2,#3e2,#2e2,#2e2,#1e3,#1e4,#1e4,#1e3,#2e2,#2e2,#2e2,#2e2,#2e2,#1e3,#1e3,#1e3,#1e3)"></div><div style="top:62.51px;background:linear-gradient(90deg,#2e2,#2e2,#2e2,#1e3,#1e3,#1e4,#1e4,#1e4,#1e3,#2e2,#2e2,#2e2,#2e2,#1e3,#1e5,#1e6,#1e5,#1e3,#2e2,#4e1,#4e1,#2e2,#1e3,#1e5,#1e6,#1e5,#1e3,#2e2,#4e1,#3e1,#2e2,#1e3,#1e5,#1e5,#1e4,#2e2,#2e2,#3e2,#2e2,#2e2,#1e3,#1e4,#1e4,#1e3,#2e2,#2e2,#2e2,#2e2,#2e2,#2e2,#1e3,#1e3,#1e3,#1e3,#2e2,#2e2,#2e2,#2e2,#2e2,#2e2,#2e2,#2e2,#1e3,#1e3,#1e3,#2e2,#2e2,#2e2,#2e2,#2e2,#2e2,#1e3,#1e3,#1e3)"></div><div style="top:65.17px;background:linear-gradient(90deg,#2e2,#2e2,#2e2,#2e2,#1e3,#1e3,#1e3,#1e3,#2e2,#2e2,#2e2,#2e2,#2e2,#1e3,#1e4,#1e4,#1e4,#1e3,#2e2,#3e2,#3e2,#2e2,#1e3,#1e4,#1e5,#1e4,#2e2,#2e2,#4e1,#3e1,#2e2,#1e3,#1e4,#1e5,#1e4,#2e2,#3e2,#4e1,#3e2,#2e2,#1e3,#1e4,#1e4,#1e3,#2e2,#3e2,#3e1,#3e2,#2e2,#1e3,#1e4,#1e4,#1e3,#2e2,#2e2,#3e2,#2e2,#2e2,#1e3,#1e3,#1e3,#2e2,#2e2,#2e2,#2e2,#2e2,#2e2,#2e2,#2e2,#2e2,#2e2,#2e2,#2e2,#2e2)"></div><div style="top:67.83px;background:linear-gradient(90deg,#2e2,#2e2,#2e2,#2e2,#2e2,#2e2,#2e2,#2e2,#2e2,#2e2,#2e2,#2e2,#2e2,#2e2,#1e2,#1e3,#1e3,#2e2,#2e2,#2e2,#2e2,#2e2,#2e2,#1e3,#1e3,#1e3,#2e2,#2e2,#3e2,#3e2,#2e2,#2e2,#1e3,#1e3,#1e3,#2e2,#2e2,#3e2,#3e2,#2e2,#2e2,#1e3,#1e3,#1e3,#2e2,#2e2,#3e2,#3e2,#2e2,#2e2,#1e3,#1e3,#1e3,#2e2,#3e2,#3e2,#3e2,#2e2,#1e3,#1e3,#1e3,#2e2,#2e2,#3e2,#3e2,#2e2,#2e2,#1e3,#1e3,#1e3,#2e2,#2e2,#3e2,#3e2)"></div><div style="top:70.49px;background:linear-gradient(90deg,#2e2,#2e2,#2e2,#2e2,#2e2,#2e2,#2e2,#2e2,#2e2,#2e2,#2e2,#2e2,#2e2,#2e2,#2e2,#2e2,#2e2,#2e2,#2e2,#2e2,#2e2,#2e2,#2e2,#2e2,#2e2,#2e2,#2e2,#2e2,#2e2,#2e2,#2e2,#2e2,#2e2,#2e2,#2e2,#2e2,#2e2,#2e2,#2e2,#2e2,#2e2,#2e2,#2e2,#2e2,#2e2,#2e2,#2e2,#2e2,#2e2,#2e2,#2e2,#2e2,#2e2,#2e2,#2e2,#2e2,#2e2,#2e2,#2e2,#2e2,#2e2,#2e2,#2e2,#2e2,#2e2,#2e2,#2e2,#2e2,#2e2,#2e2,#2e2,#2e2,#2e2,#2e2)"></div><div style="top:73.15px;background:linear-gradient(90deg,#2e2,#2e2,#2e2,#2e2,#2e2,#2e2,#2e2,#2e2,#2e2,#2e2,#2e2,#2e2,#2e2,#2e2,#3e2,#3e2,#3e2,#2e2,#2e2,#2e2,#2e2,#2e2,#2e2,#3e2,#3e1,#3e2,#2e2,#2e2,#1e3,#1e2,#2e2,#2e2,#3e1,#4e1,#3e2,#2e2,#2e2,#1e3,#1e3,#2e2,#2e2,#3e1,#4e1,#3e2,#2e2,#2e2,#1e3,#1e3,#2e2,#3e2,#4e1,#4e1,#3e2,#2e2,#2e2,#1e3,#2e2,#2e2,#3e2,#4e1,#3e1,#2e2,#2e2,#1e2,#1e3,#2e2,#2e2,#3e2,#3e1,#3e2,#2e2,#2e2,#1e2,#1e3)"></div><div style="top:75.81px;background:linear-gradient(90deg,#2e2,#2e2,#2e2,#2e2,#3e2,#3e1,#4e1,#3e1,#2e2,#2e2,#2e2,#2e2,#2e2,#3e2,#4e1,#5e1,#4e1,#3e2,#2e2,#1e3,#1e3,#2e2,#3e2,#5e1,#6e1,#5e1,#2e2,#2e2,#1e3,#1e3,#2e2,#3e2,#5e1,#6e1,#4e1,#2e2,#2e2,#1e3,#1e3,#2e2,#3e2,#5e1,#5e1,#4e1,#2e2,#2e2,#1e3,#1e3,#2e2,#3e2,#4e1,#4e1,#3e2,#2e2,#2e2,#1e3,#2e2,#2e2,#3e2,#3e1,#3e2,#2e2,#2e2,#2e2,#2e2,#2e2,#2e2,#2e2,#3e2,#3e2,#2e2,#2e2,#2e2,#2e2)"></div><div style="top:78.47px;background:linear-gradient(90deg,#2e2,#2e2,#2e2,#3e2,#4e1,#5e1,#5e1,#4e1,#3e2,#2e2,#2e2,#2e2,#2e2,#4e1,#6e1,#7e1,#6e1,#3e2,#2e2,#1e3,#1e3,#2e2,#4e1,#7e1,#7e1,#6e1,#3e2,#2e2,#1e3,#1e3,#2e2,#4e1,#6e1,#6e1,#5e1,#2e2,#2e2,#1e3,#2e2,#2e2,#3e2,#4e1,#4e1,#3e1,#2e2,#2e2,#2e2,#2e2,#2e2,#2e2,#3e2,#3e2,#3e2,#3e2,#3e2,#2e2,#2e2,#2e2,#2e2,#2e2,#2e2,#3e2,#3e2,#3e1,#3e2,#2e2,#2e2,#2e2,#2e2,#2e2,#3e2,#4e1,#4e1,#3e2)"></div><div style="top:81.13px;background:linear-gradient(90deg,#2e2,#2e2,#3e2,#4e1,#5e1,#6e1,#7e1,#6e1,#3e1,#2e2,#1e3,#2e2,#2e2,#5e1,#8e1,#9e1,#7e1,#4e1,#2e2,#1e3,#1e3,#2e2,#5e1,#8e1,#8e1,#6e1,#3e2,#2e2,#1e3,#2e2,#2e2,#4e1,#5e1,#5e1,#4e1,#3e2,#2e2,#2e2,#2e2,#2e2,#2e2,#3e2,#3e2,#3e1,#4e1,#4e1,#3e1,#2e2,#2e2,#2e2,#2e2,#2e2,#3e1,#5e1,#5e1,#4e1,#2e2,#2e2,#2e2,#2e2,#2e2,#3e1,#5e1,#5e1,#4e1,#2e2,#2e2,#2e2,#2e2,#2e2,#3e2,#4e1,#4e1,#3e2)"></div><div style="top:83.79px;background:linear-gradient(90deg,#2e2,#2e2,#3e2,#5e1,#7e1,#8e1,#8e1,#7e1,#4e1,#2e2,#1e3,#2e2,#2e2,#6e1,#9e1,#ae0,#8e1,#4e1,#2e2,#1e3,#1e3,#2e2,#5e1,#8e1,#8e1,#6e1,#4e1,#2e2,#2e2,#2e2,#2e2,#3e2,#4e1,#4e1,#5e1,#5e1,#5e1,#4e1,#3e2,#2e2,#2e2,#2e2,#3e2,#4e1,#6e1,#6e1,#5e1,#3e2,#2e2,#2e2,#2e2,#2e2,#4e1,#6e1,#5e1,#4e1,#3e2,#2e2,#2e2,#2e2,#2e2,#3e2,#3e1,#4e1,#3e1,#3e1,#3e2,#3e2,#2e2,#2e2,#2e2,#2e2,#2e2,#3e1)"></div><div style="top:86.45px;background:linear-gradient(90deg,#2e2,#2e2,#4e1,#5e1,#8e1,#9e1,#ae1,#8e1,#4e1,#2e2,#1e3,#2e2,#3e2,#7e1,#ae0,#be0,#8e1,#4e1,#2e2,#1e3,#2e2,#3e2,#5e1,#7e1,#7e1,#6e1,#5e1,#4e1,#3e2,#2e2,#2e2,#2e2,#2e2,#4e1,#6e1,#7e1,#7e1,#5e1,#3e2,#2e2,#2e2,#2e2,#3e2,#6e1,#7e1,#7e1,#5e1,#3e2,#2e2,#2e2,#2e2,#3e2,#3e1,#4e1,#4e1,#4e1,#4e1,#4e1,#3e2,#2e2,#2e2,#2e2,#2e2,#3e2,#5e1,#5e1,#5e1,#3e1,#2e2,#2e2,#2e2,#2e2,#3e2,#4e1)"></div><div style="top:89.11px;background:linear-gradient(90deg,#2e2,#2e2,#4e1,#6e1,#9e1,#ae0,#ae0,#8e1,#4e1,#2e2,#1e3,#2e2,#4e1,#8e1,#be0,#be0,#8e1,#4e1,#2e2,#2e2,#2e2,#3e2,#5e1,#6e1,#7e1,#7e1,#7e1,#6e1,#4e1,#3e2,#2e2,#2e2,#2e2,#4e1,#7e1,#9e1,#8e1,#5e1,#2e2,#2e2,#2e2,#2e2,#4e1,#5e1,#6e1,#6e1,#5e1,#4e1,#3e1,#3e2,#2e2,#2e2,#2e2,#3e2,#4e1,#6e1,#6e1,#5e1,#3e2,#2e2,#2e2,#2e2,#2e2,#4e1,#5e1,#5e1,#4e1,#3e1,#2e2,#2e2,#2e2,#2e2,#2e2,#3e2)"></div><div style="top:91.77px;background:linear-gradient(90deg,#2e2,#2e2,#4e1,#7e1,#ae0,#be0,#be0,#9e1,#4e1,#2e2,#1e3,#2e2,#5e1,#9e1,#be0,#be0,#8e1,#5e1,#3e2,#2e2,#2e2,#3e2,#4e1,#5e1,#7e1,#8e1,#9e1,#8e1,#5e1,#2e2,#2e2,#2e2,#3e2,#6e1,#9e1,#9e1,#7e1,#5e1,#3e2,#2e2,#2e2,#3e2,#3e1,#4e1,#5e1,#6e1,#7e1,#6e1,#5e1,#3e2,#2e2,#2e2,#2e2,#4e1,#6e1,#7e1,#6e1,#5e1,#3e2,#2e2,#2e2,#2e2,#3e2,#3e1,#4e1,#4e1,#5e1,#5e1,#4e1,#3e2,#2e2,#2e2,#2e2,#3e2)"></div><div style="top:94.43px;background:linear-gradient(90deg,#2e2,#3e2,#5e1,#8e1,#be0,#ce0,#ce0,#9e1,#4e1,#2e2,#1e2,#2e2,#6e1,#ae0,#ce0,#be0,#9e1,#6e1,#4e1,#3e2,#3e2,#3e2,#4e1,#5e1,#8e1,#ae0,#ae0,#8e1,#4e1,#2e2,#2e2,#2e2,#4e1,#7e1,#9e1,#8e1,#7e1,#5e1,#4e1,#3e2,#2e2,#2e2,#2e2,#4e1,#6e1,#8e1,#8e1,#7e1,#4e1,#2e2,#2e2,#2e2,#3e2,#5e1,#6e1,#6e1,#6e1,#5e1,#4e1,#3e1,#2e2,#2e2,#2e2,#3e2,#4e1,#6e1,#6e1,#6e1,#4e1,#2e2,#2e2,#2e2,#2e2,#3e1)"></div><div style="top:97.09px;background:linear-gradient(90deg,#2e2,#3e2,#6e1,#9e1,#ce0,#de0,#ce0,#9e1,#4e1,#2e2,#2e2,#3e2,#7e1,#be0,#ce0,#be0,#9e1,#6e1,#5e1,#3e1,#2e2,#2e2,#4e1,#6e1,#ae1,#be0,#ae0,#7e1,#3e1,#2e2,#2e2,#3e2,#5e1,#7e1,#8e1,#8e1,#8e1,#7e1,#5e1,#3e2,#2e2,#2e2,#3e2,#5e1,#8e1,#9e1,#8e1,#6e1,#3e1,#2e2,#2e2,#3e2,#3e1,#4e1,#5e1,#6e1,#7e1,#6e1,#5e1,#3e2,#2e2,#2e2,#2e2,#4e1,#6e1,#6e1,#6e1,#5e1,#4e1,#3e2,#3e2,#2e2,#2e2,#3e2)"></div><div style="top:99.75px;background:linear-gradient(90deg,#2e2,#3e2,#6e1,#ae0,#de0,#ee0,#de0,#9e1,#4e1,#2e2,#2e2,#4e1,#8e1,#be0,#ce0,#be0,#9e1,#7e1,#5e1,#3e2,#2e2,#2e2,#4e1,#8e1,#be0,#ce0,#ae0,#6e1,#3e2,#2e2,#2e2,#4e1,#5e1,#7e1,#8e1,#9e1,#9e1,#8e1,#5e1,#2e2,#2e2,#2e2,#4e1,#7e1,#9e1,#9e1,#7e1,#5e1,#4e1,#3e2,#3e2,#3e2,#3e2,#4e1,#6e1,#8e1,#8e1,#6e1,#4e1,#2e2,#2e2,#2e2,#4e1,#5e1,#6e1,#6e1,#6e1,#5e1,#4e1,#3e2,#2e2,#2e2,#2e2,#4e1)"></div><div style="top:102.41px;background:linear-gradient(90deg,#2e2,#3e1,#7e1,#be0,#ee0,#fe0,#de0,#9e1,#4e1,#2e2,#2e2,#5e1,#9e1,#ce0,#ce0,#be0,#ae0,#8e1,#5e1,#3e2,#2e2,#3e2,#6e1,#ae0,#ce0,#ce0,#9e1,#6e1,#3e1,#3e2,#3e2,#4e1,#5e1,#8e1,#9e1,#ae0,#ae1,#7e1,#3e1,#2e2,#2e2,#3e1,#6e1,#8e1,#9e1,#8e1,#7e1,#6e1,#4e1,#3e2,#2e2,#2e2,#4e1,#7e1,#9e1,#9e1,#7e1,#4e1,#3e2,#3e2,#3e2,#3e2,#4e1,#5e1,#6e1,#7e1,#7e1,#5e1,#3e2,#2e2,#2e2,#3e2,#4e1,#5e1)"></div><div style="top:105.07px;background:linear-gradient(90deg,#2e2,#4e1,#8e1,#ce0,#fe0,#fe0,#de0,#9e1,#3e1,#2e2,#2e2,#6e1,#ae0,#ce0,#de0,#ce0,#be0,#8e1,#5e1,#2e2,#2e2,#4e1,#8e1,#ce0,#de0,#be0,#9e1,#5e1,#4e1,#3e2,#3e1,#4e1,#7e1,#9e1,#be0,#be0,#9e1,#5e1,#3e2,#2e2,#3e2,#5e1,#7e1,#9e1,#9e1,#9e1,#8e1,#5e1,#3e2,#2e2,#2e2,#4e1,#7e1,#9e1,#9e1,#7e1,#6e1,#4e1,#3e2,#3e2,#3e2,#4e1,#5e1,#7e1,#8e1,#7e1,#5e1,#3e1,#2e2,#2e2,#3e2,#4e1,#5e1,#6e1)"></div><div style="top:107.73px;background:linear-gradient(90deg,#2e2,#4e1,#9e1,#de0,#fe0,#fe0,#de0,#8e1,#3e2,#2e2,#3e1,#7e1,#be0,#de0,#de0,#ce0,#ae0,#7e1,#4e1,#2e2,#3e2,#6e1,#ae0,#de0,#ce0,#ae0,#8e1,#5e1,#4e1,#3e2,#4e1,#5e1,#9e1,#be0,#ce0,#ae0,#6e1,#3e1,#2e2,#3e2,#5e1,#6e1,#8e1,#9e1,#ae1,#9e1,#6e1,#3e1,#2e2,#2e2,#4e1,#7e1,#8e1,#9e1,#8e1,#6e1,#5e1,#4e1,#3e2,#3e2,#4e1,#6e1,#8e1,#8e1,#7e1,#5e1,#4e1,#3e2,#3e2,#3e2,#4e1,#5e1,#6e1,#7e1)"></div><div style="top:110.39px;background:linear-gradient(90deg,#2e2,#4e1,#9e1,#de0,#fe0,#fe0,#ce0,#7e1,#3e2,#2e2,#4e1,#9e1,#ce0,#de0,#de0,#ce0,#ae0,#6e1,#3e2,#2e2,#4e1,#9e1,#ce0,#de0,#ce0,#9e1,#7e1,#4e1,#3e1,#3e2,#5e1,#8e1,#be0,#ce0,#be0,#8e1,#4e1,#3e2,#3e2,#4e1,#6e1,#8e1,#9e1,#ae0,#9e1,#7e1,#4e1,#2e2,#3e2,#4e1,#7e1,#8e1,#9e1,#8e1,#7e1,#5e1,#4e1,#2e2,#3e2,#4e1,#6e1,#8e1,#8e1,#7e1,#5e1,#4e1,#3e2,#3e2,#3e2,#4e1,#6e1,#7e1,#7e1,#6e1)"></div><div style="top:113.05px;background:linear-gradient(90deg,#2e2,#4e1,#ae0,#ee0,#fe0,#fe0,#ce0,#6e1,#3e2,#3e2,#6e1,#ae0,#ce0,#de0,#de0,#ce0,#9e1,#5e1,#2e2,#3e2,#6e1,#ae0,#de0,#ce0,#be0,#8e1,#6e1,#4e1,#3e2,#4e1,#7e1,#ae0,#ce0,#be0,#9e1,#5e1,#3e1,#3e2,#4e1,#5e1,#7e1,#9e1,#ae0,#ae1,#7e1,#4e1,#3e2,#3e2,#5e1,#7e1,#8e1,#9e1,#9e1,#7e1,#5e1,#3e1,#2e2,#3e2,#5e1,#7e1,#8e1,#8e1,#7e1,#5e1,#4e1,#3e2,#3e2,#3e1,#5e1,#7e1,#8e1,#7e1,#5e1,#4e1)"></div><div style="top:115.71px;background:linear-gradient(90deg,#2e2,#5e1,#ae0,#ee0,#fe0,#fe0,#be0,#5e1,#2e2,#3e1,#7e1,#be0,#de0,#ee0,#de0,#be0,#7e1,#4e1,#3e2,#4e1,#9e1,#ce0,#de0,#ce0,#9e1,#7e1,#5e1,#3e1,#4e1,#6e1,#ae1,#ce0,#ce0,#9e1,#6e1,#4e1,#3e1,#4e1,#5e1,#7e1,#ae1,#be0,#ae0,#7e1,#4e1,#3e2,#3e1,#5e1,#7e1,#8e1,#9e1,#9e1,#7e1,#5e1,#3e2,#3e2,#4e1,#6e1,#8e1,#8e1,#8e1,#6e1,#5e1,#4e1,#3e2,#3e2,#4e1,#6e1,#8e1,#8e1,#6e1,#5e1,#4e1,#3e2)"></div><div style="top:118.37px;background:linear-gradient(90deg,#2e2,#5e1,#be0,#fe0,#fe0,#ee0,#ae0,#4e1,#3e2,#4e1,#9e1,#ce0,#ee0,#ee0,#ce0,#ae1,#6e1,#3e2,#3e2,#7e1,#be0,#de0,#de0,#ae0,#8e1,#5e1,#4e1,#4e1,#5e1,#9e1,#ce0,#ce0,#ae0,#7e1,#4e1,#4e1,#4e1,#5e1,#8e1,#ae0,#be0,#ae0,#7e1,#4e1,#3e2,#4e1,#5e1,#7e1,#9e1,#9e1,#9e1,#7e1,#4e1,#3e2,#3e2,#5e1,#7e1,#8e1,#8e1,#7e1,#6e1,#5e1,#3e1,#3e2,#4e1,#6e1,#8e1,#8e1,#7e1,#5e1,#4e1,#3e1,#3e1,#4e1)"></div><div style="top:121.03px;background:linear-gradient(90deg,#2e2,#6e1,#ce0,#fe0,#fe0,#ee0,#9e1,#4e1,#3e2,#6e1,#ae0,#de0,#ee0,#de0,#be0,#8e1,#4e1,#3e2,#5e1,#ae1,#de0,#de0,#ce0,#9e1,#6e1,#4e1,#4e1,#5e1,#8e1,#be0,#ce0,#be0,#8e1,#5e1,#4e1,#4e1,#5e1,#8e1,#ae0,#be0,#ae0,#7e1,#4e1,#3e2,#4e1,#6e1,#8e1,#9e1,#9e1,#9e1,#6e1,#4e1,#3e2,#4e1,#6e1,#8e1,#9e1,#8e1,#7e1,#6e1,#4e1,#3e2,#3e1,#5e1,#7e1,#8e1,#8e1,#6e1,#4e1,#4e1,#3e1,#4e1,#5e1,#7e1)"></div><div style="top:123.69px;background:linear-gradient(90deg,#2e2,#6e1,#ce0,#fe0,#fe0,#de0,#8e1,#3e1,#3e1,#7e1,#ce0,#ee0,#ee0,#de0,#ae0,#6e1,#3e1,#4e1,#8e1,#ce0,#ee0,#de0,#ae0,#7e1,#5e1,#4e1,#5e1,#8e1,#be0,#de0,#be0,#8e1,#5e1,#4e1,#4e1,#6e1,#8e1,#ae0,#be0,#ae0,#7e1,#4e1,#3e2,#5e1,#7e1,#9e1,#ae1,#ae1,#8e1,#6e1,#3e1,#3e2,#5e1,#7e1,#9e1,#9e1,#8e1,#6e1,#5e1,#3e1,#3e1,#5e1,#7e1,#9e1,#8e1,#7e1,#5e1,#4e1,#4e1,#4e1,#5e1,#7e1,#8e1,#7e1)"></div><div style="top:126.35px;background:linear-gradient(90deg,#2e2,#7e1,#de0,#fe0,#fe0,#ce0,#6e1,#3e2,#4e1,#9e1,#de0,#fe0,#ee0,#ce0,#9e1,#5e1,#3e1,#6e1,#ae0,#de0,#ee0,#be0,#9e1,#6e1,#4e1,#5e1,#7e1,#be0,#de0,#ce0,#9e1,#5e1,#4e1,#4e1,#6e1,#9e1,#ae0,#be0,#ae0,#7e1,#4e1,#3e1,#5e1,#8e1,#9e1,#ae0,#9e1,#8e1,#5e1,#3e1,#4e1,#6e1,#8e1,#9e1,#9e1,#7e1,#6e1,#4e1,#3e1,#4e1,#6e1,#9e1,#9e1,#7e1,#5e1,#4e1,#4e1,#4e1,#5e1,#7e1,#8e1,#8e1,#6e1,#4e1)"></div><div style="top:129.01px;background:linear-gradient(90deg,#2e2,#7e1,#ee0,#fe0,#fe0,#be0,#5e1,#3e2,#6e1,#be0,#ee0,#fe0,#de0,#be0,#7e1,#4e1,#4e1,#9e1,#de0,#ee0,#de0,#ae1,#6e1,#5e1,#5e1,#7e1,#ae0,#de0,#ce0,#ae1,#6e1,#4e1,#5e1,#6e1,#9e1,#be0,#be0,#ae0,#6e1,#4e1,#4e1,#6e1,#8e1,#ae0,#ae0,#9e1,#7e1,#4e1,#3e1,#4e1,#7e1,#9e1,#ae1,#8e1,#6e1,#5e1,#4e1,#4e1,#6e1,#8e1,#9e1,#8e1,#6e1,#4e1,#4e1,#4e1,#5e1,#7e1,#8e1,#8e1,#6e1,#4e1,#3e1,#4e1)"></div><div style="top:131.67px;background:linear-gradient(90deg,#2e2,#8e1,#ee0,#fd0,#fe0,#ae0,#5e1,#4e1,#8e1,#ce0,#fe0,#fe0,#ce0,#9e1,#5e1,#4e1,#6e1,#be0,#ee0,#ee0,#be0,#7e1,#5e1,#5e1,#6e1,#ae0,#de0,#de0,#ae0,#6e1,#4e1,#5e1,#7e1,#9e1,#be0,#be0,#ae0,#6e1,#4e1,#4e1,#6e1,#9e1,#ae0,#ae0,#9e1,#6e1,#4e1,#4e1,#6e1,#9e1,#ae0,#9e1,#7e1,#5e1,#4e1,#4e1,#5e1,#8e1,#9e1,#9e1,#7e1,#5e1,#4e1,#4e1,#5e1,#7e1,#8e1,#8e1,#7e1,#5e1,#4e1,#4e1,#5e1,#7e1)"></div><div style="top:134.33px;background:linear-gradient(90deg,#2e2,#8e1,#fe0,#fd0,#ee0,#9e1,#4e1,#4e1,#9e1,#ee0,#fe0,#ee0,#be0,#7e1,#5e1,#5e1,#9e1,#de0,#fe0,#de0,#9e1,#6e1,#5e1,#6e1,#9e1,#ce0,#de0,#be0,#7e1,#4e1,#5e1,#7e1,#ae0,#be0,#ce0,#ae0,#6e1,#4e1,#4e1,#7e1,#ae0,#be0,#ae0,#8e1,#6e1,#4e1,#4e1,#7e1,#ae0,#ae0,#9e1,#6e1,#5e1,#4e1,#5e1,#7e1,#9e1,#ae1,#8e1,#5e1,#4e1,#4e1,#5e1,#7e1,#8e1,#9e1,#7e1,#5e1,#4e1,#4e1,#6e1,#7e1,#8e1,#7e1)"></div><div style="top:136.99px;background:linear-gradient(90deg,#2e2,#9e1,#fe0,#fd0,#de0,#8e1,#4e1,#6e1,#be0,#fe0,#fe0,#de0,#ae1,#6e1,#5e1,#7e1,#ce0,#fe0,#ee0,#ae0,#6e1,#5e1,#6e1,#9e1,#ce0,#ee0,#ce0,#8e1,#5e1,#4e1,#7e1,#ae0,#ce0,#ce0,#ae0,#6e1,#4e1,#5e1,#8e1,#be0,#be0,#ae0,#7e1,#5e1,#4e1,#5e1,#9e1,#ae0,#ae0,#8e1,#5e1,#4e1,#5e1,#6e1,#9e1,#ae0,#9e1,#6e1,#4e1,#4e1,#5e1,#7e1,#9e1,#9e1,#7e1,#5e1,#4e1,#4e1,#6e1,#8e1,#8e1,#7e1,#6e1,#5e1)"></div><div style="top:139.65px;background:linear-gradient(90deg,#2e2,#ae1,#fe0,#fe0,#ce0,#6e1,#4e1,#7e1,#de0,#fe0,#fe0,#ce0,#8e1,#5e1,#6e1,#ae0,#ee0,#fe0,#ce0,#8e1,#5e1,#5e1,#9e1,#ce0,#ee0,#de0,#9e1,#5e1,#4e1,#7e1,#ae0,#ce0,#ce0,#ae0,#6e1,#4e1,#5e1,#9e1,#be0,#be0,#9e1,#7e1,#5e1,#5e1,#7e1,#ae1,#be0,#ae0,#7e1,#5e1,#4e1,#6e1,#8e1,#ae1,#ae1,#8e1,#5e1,#4e1,#5e1,#7e1,#9e1,#9e1,#8e1,#6e1,#4e1,#4e1,#6e1,#8e1,#9e1,#8e1,#6e1,#4e1,#4e1,#5e1)"></div><div style="top:142.31px;background:linear-gradient(90deg,#2e2,#ae0,#fd0,#fe0,#be0,#5e1,#4e1,#9e1,#fe0,#fd0,#fe0,#ae0,#6e1,#5e1,#8e1,#de0,#fe0,#ee0,#ae0,#6e1,#5e1,#8e1,#be0,#ee0,#de0,#ae0,#6e1,#4e1,#7e1,#be0,#de0,#ce0,#ae0,#6e1,#4e1,#6e1,#9e1,#ce0,#ce0,#9e1,#6e1,#5e1,#5e1,#8e1,#be0,#be0,#9e1,#6e1,#4e1,#5e1,#8e1,#ae1,#ae0,#9e1,#6e1,#4e1,#4e1,#7e1,#9e1,#9e1,#8e1,#6e1,#4e1,#4e1,#6e1,#8e1,#9e1,#8e1,#6e1,#4e1,#4e1,#6e1,#7e1,#8e1)"></div></div><div class="hm" style="left:587.5px;top:291.2px;width:146px;height:146.3px;--r:5.320px"><div style="top:0;height:3.99px;-webkit-mask-image:none;mask-image:none;background:linear-gradient(90deg,#2e2,#3e2,#5e1,#4e1,#2e2,#1e5,#1e4,#2e2,#4e1,#3e1,#2e2,#2e2,#1e3,#1e4,#2e2,#4e1,#5e1,#2e2,#2e2,#1e3,#1e3,#2e2,#2e2,#4e1,#3e1,#2e2,#1e3,#1e3,#2e2,#2e2,#3e2,#3e2,#2e2,#1e3,#1e3,#2e2,#2e2,#3e2,#2e2,#2e2,#2e2,#1e3,#2e2,#2e2,#3e1,#3e2,#2e2,#2e2,#2e2,#2e2,#2e2,#2e2,#3e2,#2e2,#2e2,#1e3,#2e2,#2e2,#2e2,#2e2,#2e2,#2e2,#2e2,#2e2,#2e2,#2e2,#2e2,#2e2,#2e2,#2e2,#2e2,#2e2,#2e2,#2e2)"></div><div style="top:1.33px;background:linear-gradient(90deg,#2e2,#3e2,#6e1,#5e1,#2e2,#1e6,#1e5,#2e2,#4e1,#4e1,#3e2,#2e2,#1e3,#1e5,#1e3,#2e2,#6e1,#4e1,#2e2,#1e2,#1e3,#1e3,#2e2,#3e1,#5e1,#3e2,#1e3,#1e4,#1e2,#2e2,#2e2,#3e2,#3e1,#2e2,#1e3,#1e4,#2e2,#2e2,#3e2,#2e2,#2e2,#2e2,#1e3,#1e3,#2e2,#3e1,#3e2,#2e2,#2e2,#2e2,#2e2,#2e2,#2e2,#3e2,#2e2,#2e2,#1e3,#2e2,#2e2,#2e2,#2e2,#2e2,#2e2,#2e2,#1e3,#2e2,#2e2,#2e2,#2e2,#2e2,#2e2,#2e2,#2e2,#2e2)"></div><div style="top:3.99px;background:linear-gradient(90deg,#2e2,#3e2,#7e1,#6e1,#2e2,#1e6,#1e6,#2e2,#4e1,#5e1,#4e1,#2e2,#2e2,#1e5,#1e5,#2e2,#5e1,#6e1,#2e2,#2e2,#1e3,#1e3,#1e3,#2e2,#5e1,#5e1,#2e2,#1e3,#1e4,#2e2,#2e2,#2e2,#4e1,#4e1,#2e2,#1e4,#1e4,#2e2,#2e2,#3e2,#3e2,#2e2,#2e2,#1e3,#1e3,#2e2,#3e2,#4e1,#2e2,#2e2,#2e2,#1e3,#2e2,#2e2,#3e2,#3e1,#2e2,#2e2,#1e3,#2e2,#2e2,#2e2,#3e2,#3e2,#2e2,#1e3,#1e3,#2e2,#2e2,#2e2,#2e2,#2e2,#2e2,#2e2)"></div><div style="top:6.65px;background:linear-gradient(90deg,#2e2,#4e1,#7e1,#7e1,#2e2,#1e6,#0e8,#1e3,#3e2,#5e1,#5e1,#3e2,#2e2,#1e4,#1e6,#1e3,#4e1,#7e1,#4e1,#2e2,#1e2,#1e3,#1e4,#2e2,#3e2,#7e1,#4e1,#2e2,#1e4,#1e3,#2e2,#2e2,#3e2,#5e1,#4e1,#2e2,#1e4,#1e4,#2e2,#2e2,#3e2,#3e2,#2e2,#2e2,#1e3,#1e4,#2e2,#3e2,#4e1,#2e2,#2e2,#2e2,#1e3,#1e3,#2e2,#3e2,#4e1,#3e2,#2e2,#1e3,#2e2,#2e2,#2e2,#2e2,#3e2,#2e2,#2e2,#1e3,#1e3,#2e2,#2e2,#2e2,#2e2,#2e2)"></div><div style="top:9.31px;background:linear-gradient(90deg,#2e2,#4e1,#8e1,#8e1,#2e2,#1e6,#0e9,#1e4,#2e2,#6e1,#5e1,#4e1,#2e2,#1e4,#1e7,#1e5,#2e2,#7e1,#7e1,#3e2,#2e2,#1e3,#1e4,#1e4,#2e2,#5e1,#8e1,#3e1,#2e2,#1e4,#1e3,#2e2,#2e2,#3e2,#6e1,#4e1,#2e2,#1e4,#1e4,#2e2,#2e2,#3e2,#3e1,#3e2,#2e2,#1e3,#1e4,#2e2,#2e2,#4e1,#3e2,#2e2,#2e2,#2e2,#1e3,#1e3,#2e2,#4e1,#4e1,#2e2,#2e2,#1e3,#2e2,#2e2,#2e2,#3e2,#4e1,#2e2,#2e2,#1e3,#2e2,#2e2,#2e2,#2e2)"></div><div style="top:11.97px;background:linear-gradient(90deg,#2e2,#4e1,#9e1,#9e1,#2e2,#1e6,#0ea,#1e5,#2e2,#5e1,#6e1,#5e1,#3e2,#2e2,#1e7,#0e7,#2e2,#5e1,#9e1,#5e1,#2e2,#2e2,#1e4,#1e5,#1e3,#2e2,#8e1,#7e1,#2e2,#1e3,#1e4,#1e3,#2e2,#2e2,#4e1,#6e1,#4e1,#2e2,#1e5,#1e4,#2e2,#2e2,#3e2,#4e1,#3e1,#2e2,#1e3,#1e5,#1e3,#2e2,#4e1,#4e1,#2e2,#2e2,#2e2,#1e3,#1e3,#2e2,#3e2,#4e1,#3e2,#2e2,#2e2,#1e3,#1e2,#2e2,#2e2,#3e1,#4e1,#2e2,#2e2,#1e3,#2e2,#2e2)"></div><div style="top:14.63px;background:linear-gradient(90deg,#2e2,#4e1,#ae1,#be0,#3e1,#1e5,#0eb,#1e7,#2e2,#5e1,#7e1,#6e1,#4e1,#2e2,#1e6,#0e9,#1e5,#3e2,#9e1,#8e1,#3e2,#2e2,#1e3,#1e5,#1e5,#1e3,#4e1,#9e1,#6e1,#2e2,#1e4,#1e4,#1e4,#1e2,#2e2,#4e1,#7e1,#4e1,#2e2,#1e5,#1e5,#2e2,#2e2,#3e2,#4e1,#4e1,#2e2,#1e3,#1e5,#1e4,#2e2,#3e2,#4e1,#3e2,#2e2,#2e2,#1e3,#1e4,#1e3,#2e2,#4e1,#4e1,#2e2,#2e2,#2e2,#1e3,#1e3,#2e2,#2e2,#4e1,#3e1,#2e2,#1e2,#1e3)"></div><div style="top:17.29px;background:linear-gradient(90deg,#2e2,#5e1,#ae0,#ce0,#4e1,#1e5,#0ec,#0e9,#2e2,#4e1,#8e1,#7e1,#5e1,#2e2,#1e4,#0e9,#0e8,#2e2,#7e1,#ae0,#6e1,#2e2,#2e2,#1e4,#1e6,#1e5,#2e2,#7e1,#ae0,#5e1,#2e2,#1e4,#1e4,#1e4,#2e2,#2e2,#5e1,#8e1,#4e1,#2e2,#1e5,#1e5,#1e3,#2e2,#3e2,#4e1,#5e1,#3e2,#2e2,#1e5,#1e5,#2e2,#3e2,#4e1,#4e1,#2e2,#2e2,#2e2,#1e4,#1e4,#2e2,#3e2,#5e1,#4e1,#2e2,#2e2,#1e3,#1e3,#1e3,#2e2,#3e2,#4e1,#3e1,#2e2)"></div><div style="top:19.95px;background:linear-gradient(90deg,#2e2,#5e1,#be0,#de0,#6e1,#1e4,#0ed,#0ec,#1e3,#4e1,#8e1,#8e1,#7e1,#3e1,#1e3,#0e8,#0eb,#1e4,#4e1,#ae0,#9e1,#4e1,#2e2,#1e3,#1e5,#1e6,#1e4,#2e2,#9e1,#ae0,#4e1,#2e2,#1e5,#1e5,#1e4,#2e2,#2e2,#6e1,#8e1,#4e1,#2e2,#1e5,#1e5,#1e3,#2e2,#3e2,#4e1,#5e1,#3e1,#2e2,#1e4,#1e6,#1e3,#2e2,#4e1,#4e1,#3e2,#2e2,#2e2,#1e3,#1e4,#1e3,#2e2,#4e1,#5e1,#3e2,#2e2,#2e2,#1e3,#1e3,#2e2,#2e2,#3e2,#5e1)"></div><div style="top:22.61px;background:linear-gradient(90deg,#2e2,#5e1,#be0,#ee0,#8e1,#1e3,#0ed,#0ee,#1e5,#3e2,#8e1,#9e1,#8e1,#5e1,#2e2,#1e7,#0ec,#0e8,#2e2,#9e1,#be0,#7e1,#2e2,#2e2,#1e4,#1e6,#1e6,#1e3,#5e1,#be0,#9e1,#3e2,#1e3,#1e5,#1e5,#1e3,#2e2,#2e2,#6e1,#9e1,#4e1,#2e2,#1e6,#1e6,#1e3,#2e2,#3e2,#4e1,#5e1,#4e1,#2e2,#1e4,#1e6,#1e4,#2e2,#4e1,#5e1,#4e1,#2e2,#2e2,#1e2,#1e4,#1e4,#2e2,#3e2,#5e1,#4e1,#2e2,#2e2,#1e3,#1e3,#1e3,#2e2,#2e2)"></div><div style="top:25.27px;background:linear-gradient(90deg,#2e2,#5e1,#ce0,#fe0,#9e1,#2e2,#0ed,#0ef,#0e7,#2e2,#8e1,#ae0,#9e1,#6e1,#2e2,#1e5,#0eb,#0eb,#1e4,#5e1,#ce0,#ae0,#4e1,#2e2,#1e3,#1e5,#1e7,#1e5,#2e2,#7e1,#ce0,#8e1,#2e2,#1e4,#1e6,#1e5,#1e3,#2e2,#3e2,#7e1,#9e1,#4e1,#2e2,#1e6,#1e7,#1e3,#2e2,#3e2,#4e1,#5e1,#4e1,#2e2,#1e3,#1e6,#1e5,#2e2,#3e2,#5e1,#5e1,#3e2,#2e2,#2e2,#1e3,#1e4,#1e3,#2e2,#4e1,#6e1,#4e1,#2e2,#1e3,#1e3,#1e3,#1e2)"></div><div style="top:27.93px;background:linear-gradient(90deg,#2e2,#6e1,#ce0,#fe0,#ae0,#2e2,#0ec,#0df,#0ea,#2e2,#7e1,#ae0,#ae0,#7e1,#3e2,#1e3,#0ea,#0ed,#1e7,#2e2,#be0,#de0,#8e1,#2e2,#1e3,#1e5,#1e7,#1e7,#1e4,#3e2,#ae0,#ce0,#6e1,#2e2,#1e6,#1e7,#1e5,#1e3,#2e2,#4e1,#7e1,#8e1,#4e1,#2e2,#1e7,#0e7,#1e4,#2e2,#4e1,#5e1,#5e1,#4e1,#2e2,#1e3,#1e5,#1e6,#1e3,#2e2,#6e1,#6e1,#3e2,#2e2,#2e2,#1e3,#1e4,#1e4,#2e2,#3e2,#6e1,#6e1,#3e2,#2e2,#1e3,#1e3)"></div><div style="top:30.59px;background:linear-gradient(90deg,#2e2,#6e1,#de0,#fd0,#ce0,#2e2,#0eb,#0de,#0ed,#1e3,#6e1,#be0,#be0,#8e1,#4e1,#2e2,#0e7,#0ed,#0eb,#1e3,#7e1,#ee0,#ce0,#4e1,#2e2,#1e5,#1e6,#1e7,#1e5,#2e2,#5e1,#ce0,#be0,#4e1,#1e3,#0e7,#0e7,#1e4,#2e2,#2e2,#5e1,#7e1,#8e1,#3e1,#1e3,#1e7,#0e8,#1e4,#2e2,#5e1,#6e1,#5e1,#3e2,#2e2,#1e3,#1e5,#1e6,#1e4,#2e2,#6e1,#7e1,#4e1,#2e2,#2e2,#1e3,#1e3,#1e3,#2e2,#2e2,#4e1,#6e1,#4e1,#2e2,#1e3)"></div><div style="top:33.25px;background:linear-gradient(90deg,#2e2,#6e1,#de0,#fd0,#de0,#2e2,#0ea,#0de,#0ef,#1e4,#5e1,#ce0,#ce0,#9e1,#5e1,#2e2,#1e5,#0ec,#0ed,#1e6,#3e1,#de0,#fe0,#9e1,#2e2,#1e4,#1e7,#1e7,#1e6,#1e3,#2e2,#9e1,#de0,#ae0,#2e2,#1e5,#0e9,#0e8,#1e3,#2e2,#4e1,#6e1,#7e1,#6e1,#2e2,#1e3,#0e7,#0e8,#1e4,#2e2,#6e1,#8e1,#5e1,#2e2,#2e2,#1e3,#1e4,#1e5,#1e4,#2e2,#5e1,#8e1,#6e1,#2e2,#1e3,#1e4,#1e4,#1e3,#2e2,#2e2,#3e2,#5e1,#5e1,#3e2)"></div><div style="top:35.91px;background:linear-gradient(90deg,#2e2,#6e1,#de0,#fd0,#ee0,#3e2,#0e9,#0de,#0df,#1e6,#4e1,#ce0,#de0,#ae0,#5e1,#2e2,#1e4,#0ea,#0ed,#0e8,#2e2,#ae0,#fe0,#de0,#4e1,#1e3,#0e7,#0e8,#1e6,#1e3,#2e2,#4e1,#ae0,#ce0,#7e1,#2e2,#0e8,#0eb,#1e7,#2e2,#3e1,#6e1,#7e1,#5e1,#3e1,#2e2,#1e4,#1e7,#0e7,#1e4,#2e2,#8e1,#9e1,#5e1,#2e2,#1e3,#1e4,#1e4,#1e4,#1e3,#2e2,#4e1,#7e1,#7e1,#3e2,#1e3,#1e5,#1e5,#1e3,#2e2,#2e2,#3e1,#4e1,#4e1)"></div><div style="top:38.57px;background:linear-gradient(90deg,#2e2,#5e1,#ce0,#fd0,#ee0,#4e1,#1e7,#0de,#0de,#0e8,#3e2,#ce0,#ee0,#ae0,#5e1,#2e2,#1e3,#0e7,#0eb,#0e9,#1e3,#6e1,#fe0,#fe0,#8e1,#2e2,#0e7,#0ea,#1e7,#1e3,#2e2,#3e2,#7e1,#ae1,#9e1,#3e2,#1e3,#0e9,#0eb,#1e5,#2e2,#7e1,#9e1,#6e1,#3e2,#2e2,#2e2,#1e4,#1e6,#1e5,#1e3,#3e2,#8e1,#ae1,#5e1,#2e2,#1e4,#1e5,#1e4,#1e3,#2e2,#2e2,#4e1,#5e1,#5e1,#3e2,#2e2,#1e5,#1e6,#1e4,#2e2,#4e1,#5e1,#4e1)"></div><div style="top:41.23px;background:linear-gradient(90deg,#2e2,#5e1,#be0,#fe0,#ee0,#5e1,#1e6,#0df,#0de,#0e9,#2e2,#ce0,#fe0,#be0,#4e1,#2e2,#1e4,#1e6,#0e9,#0e9,#1e4,#3e2,#ce0,#fe0,#be0,#2e2,#1e6,#0eb,#0e9,#1e4,#2e2,#4e1,#6e1,#7e1,#7e1,#4e1,#2e2,#1e5,#0ea,#0e9,#1e3,#4e1,#ae0,#ae0,#5e1,#2e2,#1e3,#1e4,#1e4,#1e4,#1e3,#2e2,#4e1,#8e1,#8e1,#4e1,#2e2,#1e5,#1e7,#1e5,#2e2,#3e2,#4e1,#4e1,#3e1,#2e2,#2e2,#2e2,#1e4,#1e5,#1e4,#2e2,#4e1,#7e1)"></div><div style="top:43.89px;background:linear-gradient(90deg,#2e2,#4e1,#ae0,#fe0,#ee0,#5e1,#1e5,#0df,#0ce,#0eb,#2e2,#ce0,#fd0,#de0,#5e1,#2e2,#1e4,#1e6,#1e7,#1e6,#1e4,#2e2,#8e1,#ee0,#de0,#5e1,#1e4,#0ec,#0ed,#1e6,#2e2,#6e1,#8e1,#7e1,#4e1,#3e2,#2e2,#1e3,#1e6,#0e8,#1e5,#2e2,#7e1,#be0,#ae0,#3e2,#1e3,#1e6,#1e6,#1e4,#2e2,#2e2,#3e2,#4e1,#5e1,#4e1,#2e2,#2e2,#1e5,#1e7,#1e4,#2e2,#5e1,#8e1,#6e1,#2e2,#2e2,#1e3,#1e3,#1e3,#1e3,#2e2,#2e2,#3e2)"></div><div style="top:46.55px;background:linear-gradient(90deg,#2e2,#4e1,#9e1,#ee0,#ee0,#6e1,#1e4,#0ef,#0ce,#0ed,#2e2,#be0,#ed0,#fe0,#6e1,#2e2,#1e6,#0e7,#1e6,#1e4,#1e3,#2e2,#5e1,#be0,#ce0,#7e1,#2e2,#0e9,#0ee,#0ea,#1e2,#6e1,#be0,#ae0,#5e1,#2e2,#1e3,#1e4,#1e4,#1e4,#1e4,#2e2,#3e2,#8e1,#ae0,#6e1,#2e2,#1e5,#0e9,#1e7,#1e3,#3e2,#6e1,#6e1,#4e1,#2e2,#2e2,#2e2,#1e3,#1e4,#1e4,#1e2,#2e2,#5e1,#8e1,#6e1,#2e2,#1e3,#1e5,#1e5,#1e3,#2e2,#3e1,#4e1)"></div><div style="top:49.21px;background:linear-gradient(90deg,#2e2,#4e1,#9e1,#de0,#de0,#6e1,#1e3,#0ee,#0de,#0ee,#2e2,#ae0,#ed0,#fd0,#7e1,#1e3,#0e8,#0ea,#1e7,#1e3,#2e2,#3e2,#5e1,#8e1,#9e1,#6e1,#2e2,#1e6,#0ec,#0eb,#1e4,#4e1,#ce0,#ee0,#8e1,#2e2,#1e5,#1e7,#1e6,#1e3,#2e2,#2e2,#3e2,#4e1,#5e1,#5e1,#2e2,#1e3,#1e6,#0e8,#1e5,#2e2,#6e1,#ae0,#8e1,#3e2,#1e3,#1e5,#1e5,#1e3,#2e2,#2e2,#3e2,#3e2,#3e1,#3e1,#2e2,#2e2,#1e3,#1e5,#1e4,#2e2,#3e2,#6e1)"></div><div style="top:51.87px;background:linear-gradient(90deg,#2e2,#3e1,#8e1,#ce0,#ce0,#6e1,#1e3,#0ec,#0de,#0ee,#1e3,#9e1,#ed0,#ed0,#9e1,#1e2,#0ea,#0ed,#0e8,#1e3,#3e2,#6e1,#6e1,#5e1,#4e1,#3e2,#2e2,#1e4,#0e7,#0e8,#1e5,#2e2,#9e1,#ee0,#be0,#3e2,#1e4,#0ea,#0ea,#1e5,#2e2,#6e1,#8e1,#6e1,#3e2,#2e2,#2e2,#1e3,#1e3,#1e4,#1e3,#2e2,#3e2,#7e1,#8e1,#5e1,#2e2,#1e5,#0e7,#1e6,#2e2,#3e2,#7e1,#7e1,#4e1,#2e2,#1e3,#1e3,#1e3,#2e2,#2e2,#2e2,#2e2,#3e2)"></div><div style="top:54.53px;background:linear-gradient(90deg,#2e2,#3e2,#7e1,#ae0,#be0,#6e1,#2e2,#0ea,#0df,#0ee,#1e4,#8e1,#ed0,#ec0,#ae0,#2e2,#0eb,#0ef,#0eb,#1e3,#5e1,#ae0,#ae0,#6e1,#2e2,#2e2,#1e3,#1e4,#1e4,#1e4,#1e3,#2e2,#5e1,#ae1,#9e1,#4e1,#1e3,#0e8,#0eb,#1e7,#2e2,#7e1,#ce0,#ae0,#4e1,#1e3,#1e6,#1e7,#1e4,#2e2,#3e2,#4e1,#4e1,#3e2,#2e2,#2e2,#2e2,#1e3,#1e4,#1e4,#1e3,#2e2,#5e1,#7e1,#6e1,#2e2,#1e3,#1e6,#1e6,#1e3,#2e2,#5e1,#6e1,#4e1)"></div><div style="top:57.19px;background:linear-gradient(90deg,#2e2,#3e2,#6e1,#9e1,#9e1,#5e1,#2e2,#0e8,#0ef,#0ec,#1e4,#6e1,#fd0,#ed0,#be0,#2e2,#0eb,#0df,#0ed,#1e3,#6e1,#ee0,#ee0,#7e1,#2e2,#1e5,#0e7,#1e6,#1e3,#2e2,#3e2,#4e1,#4e1,#4e1,#3e2,#2e2,#2e2,#1e4,#1e6,#1e5,#2e2,#4e1,#ae1,#ae0,#5e1,#2e2,#1e7,#0e9,#1e6,#2e2,#5e1,#9e1,#9e1,#4e1,#2e2,#1e4,#1e5,#1e4,#2e2,#2e2,#3e2,#3e2,#3e2,#2e2,#2e2,#2e2,#2e2,#1e3,#1e3,#2e2,#2e2,#3e2,#5e1,#5e1)"></div><div style="top:59.85px;background:linear-gradient(90deg,#2e2,#2e2,#4e1,#7e1,#7e1,#4e1,#2e2,#1e6,#0eb,#0ea,#1e4,#4e1,#ee0,#fd0,#ae0,#2e2,#0e9,#0df,#0ee,#1e4,#6e1,#fe0,#fe0,#9e1,#2e2,#0e8,#0ec,#0e9,#1e3,#4e1,#9e1,#9e1,#4e1,#2e2,#1e3,#1e4,#1e3,#2e2,#2e2,#2e2,#2e2,#3e2,#3e1,#3e2,#2e2,#2e2,#1e3,#1e5,#1e4,#2e2,#3e2,#7e1,#8e1,#4e1,#2e2,#1e5,#1e7,#1e6,#2e2,#4e1,#8e1,#8e1,#4e1,#2e2,#1e4,#1e6,#1e4,#2e2,#3e2,#5e1,#4e1,#2e2,#2e2,#2e2)"></div><div style="top:62.51px;background:linear-gradient(90deg,#2e2,#2e2,#3e1,#5e1,#5e1,#3e1,#2e2,#1e4,#0e8,#1e7,#1e3,#3e1,#ae0,#de0,#9e1,#2e2,#1e7,#0ee,#0ec,#1e4,#5e1,#ee0,#fe0,#9e1,#2e2,#0e8,#0ee,#0ea,#1e3,#5e1,#ce0,#de0,#6e1,#2e2,#1e7,#0e9,#1e6,#2e2,#4e1,#8e1,#7e1,#3e1,#2e2,#1e3,#1e4,#1e3,#2e2,#2e2,#3e2,#3e2,#2e2,#2e2,#2e2,#2e2,#2e2,#2e2,#2e2,#2e2,#2e2,#2e2,#3e1,#4e1,#3e2,#2e2,#1e3,#1e4,#1e4,#2e2,#3e2,#5e1,#6e1,#3e1,#2e2,#1e4)"></div><div style="top:65.17px;background:linear-gradient(90deg,#2e2,#2e2,#2e2,#3e2,#3e1,#3e2,#2e2,#1e3,#1e5,#1e5,#1e3,#2e2,#7e1,#9e1,#6e1,#2e2,#1e5,#0e9,#0e8,#1e3,#3e2,#ae0,#ce0,#8e1,#2e2,#1e6,#0eb,#0e9,#1e3,#4e1,#be0,#ce0,#7e1,#2e2,#1e7,#0eb,#0e8,#2e2,#5e1,#be0,#be0,#5e1,#2e2,#1e7,#0e9,#1e6,#2e2,#5e1,#9e1,#8e1,#3e2,#2e2,#1e5,#1e6,#1e4,#2e2,#4e1,#6e1,#5e1,#2e2,#2e2,#1e4,#1e4,#1e2,#2e2,#3e2,#3e2,#3e2,#2e2,#2e2,#2e2,#2e2,#2e2,#2e2)"></div><div style="top:67.83px;background:linear-gradient(90deg,#2e2,#2e2,#2e2,#2e2,#2e2,#2e2,#2e2,#2e2,#1e3,#1e3,#2e2,#2e2,#3e2,#4e1,#3e2,#2e2,#1e3,#1e4,#1e4,#2e2,#2e2,#5e1,#6e1,#4e1,#2e2,#1e3,#1e5,#1e5,#2e2,#3e2,#6e1,#7e1,#4e1,#2e2,#1e4,#1e6,#1e5,#2e2,#3e1,#7e1,#7e1,#4e1,#2e2,#1e5,#1e6,#1e5,#2e2,#4e1,#8e1,#7e1,#3e2,#2e2,#1e5,#1e6,#1e4,#2e2,#5e1,#8e1,#6e1,#2e2,#1e3,#1e5,#1e6,#1e3,#2e2,#5e1,#7e1,#5e1,#2e2,#1e3,#1e5,#1e5,#1e3,#2e2)"></div><div style="top:70.49px;background:linear-gradient(90deg,#2e2,#2e2,#2e2,#2e2,#2e2,#2e2,#2e2,#2e2,#2e2,#2e2,#2e2,#2e2,#2e2,#2e2,#2e2,#2e2,#2e2,#2e2,#2e2,#2e2,#2e2,#2e2,#2e2,#2e2,#2e2,#2e2,#2e2,#2e2,#2e2,#2e2,#2e2,#2e2,#2e2,#2e2,#2e2,#2e2,#2e2,#2e2,#2e2,#2e2,#2e2,#2e2,#2e2,#2e2,#2e2,#2e2,#2e2,#2e2,#2e2,#2e2,#2e2,#2e2,#2e2,#2e2,#2e2,#2e2,#2e2,#2e2,#2e2,#2e2,#2e2,#2e2,#2e2,#2e2,#2e2,#2e2,#2e2,#2e2,#2e2,#2e2,#2e2,#2e2,#2e2,#2e2)"></div><div style="top:73.15px;background:linear-gradient(90deg,#2e2,#2e2,#2e2,#2e2,#2e2,#2e2,#2e2,#2e2,#3e2,#3e2,#2e2,#2e2,#1e3,#1e3,#1e3,#2e2,#3e2,#5e1,#5e1,#2e2,#2e2,#1e4,#1e5,#1e3,#2e2,#4e1,#6e1,#6e1,#2e2,#2e2,#1e5,#1e6,#1e4,#2e2,#5e1,#8e1,#6e1,#2e2,#1e3,#1e6,#1e6,#1e3,#2e2,#6e1,#8e1,#6e1,#2e2,#1e3,#1e6,#1e6,#1e3,#2e2,#6e1,#8e1,#5e1,#2e2,#1e4,#1e6,#1e5,#2e2,#3e2,#6e1,#7e1,#4e1,#2e2,#1e4,#1e6,#1e4,#2e2,#3e2,#6e1,#6e1,#3e2,#2e2)"></div><div style="top:75.81px;background:linear-gradient(90deg,#2e2,#2e2,#2e2,#1e3,#1e3,#2e2,#2e2,#3e1,#6e1,#6e1,#3e2,#2e2,#1e5,#1e7,#1e5,#2e2,#5e1,#ae0,#ae0,#4e1,#1e3,#0e8,#0ea,#1e6,#2e2,#8e1,#ce0,#be0,#3e1,#1e4,#0ea,#0eb,#1e5,#2e2,#9e1,#ce0,#ae1,#2e2,#1e4,#0e9,#0e9,#1e4,#2e2,#9e1,#be0,#7e1,#2e2,#1e4,#0e7,#1e6,#1e3,#3e2,#7e1,#8e1,#4e1,#2e2,#1e3,#1e5,#1e4,#2e2,#2e2,#4e1,#4e1,#3e2,#2e2,#2e2,#1e3,#1e3,#2e2,#2e2,#2e2,#2e2,#2e2,#2e2)"></div><div style="top:78.47px;background:linear-gradient(90deg,#2e2,#2e2,#1e3,#1e4,#1e4,#1e3,#2e2,#5e1,#9e1,#9e1,#4e1,#1e3,#0e9,#0ec,#1e7,#2e2,#9e1,#fe0,#de0,#5e1,#1e4,#0ec,#0ee,#0e8,#2e2,#ae0,#fe0,#ce0,#3e1,#1e4,#0eb,#0eb,#1e5,#2e2,#9e1,#be0,#8e1,#2e2,#1e3,#1e6,#1e6,#1e3,#2e2,#4e1,#5e1,#4e1,#2e2,#2e2,#2e2,#1e2,#2e2,#2e2,#2e2,#2e2,#2e2,#2e2,#3e2,#2e2,#2e2,#2e2,#1e3,#1e3,#1e2,#2e2,#3e1,#5e1,#4e1,#2e2,#2e2,#1e4,#1e5,#1e3,#2e2,#4e1)"></div><div style="top:81.13px;background:linear-gradient(90deg,#2e2,#2e2,#1e4,#1e6,#1e6,#1e4,#2e2,#8e1,#de0,#ce0,#4e1,#1e4,#0ec,#0ef,#0e9,#2e2,#be0,#fd0,#fe0,#5e1,#1e5,#0ee,#0ef,#1e7,#2e2,#ae0,#ee0,#ae0,#3e2,#1e3,#1e7,#1e7,#1e4,#2e2,#3e1,#5e1,#4e1,#3e2,#2e2,#2e2,#2e2,#1e3,#1e3,#1e3,#2e2,#2e2,#4e1,#6e1,#5e1,#2e2,#1e3,#1e6,#1e6,#1e4,#2e2,#6e1,#9e1,#7e1,#2e2,#1e3,#1e6,#1e6,#1e3,#2e2,#5e1,#7e1,#5e1,#2e2,#1e3,#1e4,#1e4,#2e2,#2e2,#3e2)"></div><div style="top:83.79px;background:linear-gradient(90deg,#2e2,#1e3,#1e5,#1e7,#0e8,#1e4,#2e2,#ae0,#fe0,#ee0,#4e1,#1e5,#0ef,#0df,#0e9,#2e2,#de0,#ed0,#fe0,#4e1,#1e5,#0ec,#0ec,#1e6,#2e2,#7e1,#9e1,#7e1,#3e2,#2e2,#1e3,#1e3,#1e3,#1e3,#1e3,#2e2,#2e2,#5e1,#8e1,#6e1,#2e2,#1e4,#0e8,#0e8,#1e4,#2e2,#8e1,#be0,#8e1,#2e2,#1e4,#0e8,#1e7,#1e3,#2e2,#5e1,#7e1,#4e1,#2e2,#2e2,#1e3,#1e3,#2e2,#2e2,#2e2,#2e2,#2e2,#3e2,#3e2,#2e2,#2e2,#1e3,#1e4,#1e4)"></div><div style="top:86.45px;background:linear-gradient(90deg,#2e2,#1e3,#1e6,#0e9,#0e9,#1e5,#2e2,#ce0,#ed0,#fe0,#4e1,#1e6,#0df,#0de,#0e9,#2e2,#de0,#fd0,#de0,#3e2,#1e4,#0e9,#0e8,#1e5,#2e2,#2e2,#4e1,#4e1,#5e1,#5e1,#3e2,#2e2,#1e4,#0e8,#0e7,#1e3,#3e2,#ae0,#ce0,#8e1,#2e2,#1e6,#0ea,#0e8,#1e3,#3e2,#8e1,#8e1,#5e1,#2e2,#2e2,#1e3,#1e3,#1e3,#2e2,#2e2,#2e2,#3e2,#4e1,#5e1,#3e2,#2e2,#1e4,#1e6,#1e5,#2e2,#3e1,#7e1,#7e1,#3e1,#2e2,#1e4,#1e5,#1e4)"></div><div style="top:89.11px;background:linear-gradient(90deg,#2e2,#1e3,#1e6,#0ea,#0ea,#1e5,#3e2,#de0,#ec0,#fe0,#3e1,#0e7,#0df,#0df,#1e7,#3e2,#ce0,#fe0,#ae0,#3e2,#1e3,#1e5,#1e5,#1e5,#1e4,#1e3,#2e2,#5e1,#9e1,#ae0,#6e1,#2e2,#0e7,#0ec,#0e9,#1e3,#5e1,#ce0,#be0,#6e1,#2e2,#1e5,#1e6,#1e5,#1e3,#2e2,#2e2,#3e2,#4e1,#4e1,#3e1,#2e2,#1e3,#1e5,#1e6,#1e4,#2e2,#6e1,#9e1,#7e1,#2e2,#1e3,#1e5,#1e5,#1e3,#2e2,#3e2,#4e1,#3e1,#2e2,#2e2,#2e2,#2e2,#1e3)"></div><div style="top:91.77px;background:linear-gradient(90deg,#2e2,#1e3,#1e7,#0eb,#0eb,#1e5,#3e1,#fe0,#ec0,#fe0,#3e2,#0e9,#0df,#0ef,#1e6,#3e2,#ae0,#ce0,#8e1,#4e1,#2e2,#2e2,#1e4,#1e6,#1e7,#1e5,#2e2,#7e1,#de0,#de0,#5e1,#1e3,#0ea,#0ec,#1e7,#2e2,#6e1,#9e1,#7e1,#4e1,#2e2,#2e2,#1e3,#1e4,#1e4,#1e4,#2e2,#3e2,#8e1,#9e1,#6e1,#2e2,#1e5,#0e8,#1e6,#1e3,#3e2,#6e1,#6e1,#4e1,#2e2,#2e2,#2e2,#1e3,#1e3,#1e3,#2e2,#2e2,#4e1,#6e1,#5e1,#2e2,#1e3,#1e5)"></div><div style="top:94.43px;background:linear-gradient(90deg,#2e2,#1e3,#0e8,#0ed,#0ec,#1e5,#4e1,#fd0,#ec0,#ee0,#2e2,#0ea,#0df,#0ee,#1e5,#3e2,#8e1,#9e1,#8e1,#5e1,#3e2,#2e2,#1e4,#0e9,#0eb,#1e6,#2e2,#be0,#fe0,#be0,#3e2,#1e5,#0e9,#0e8,#1e4,#2e2,#3e2,#4e1,#5e1,#5e1,#4e1,#2e2,#1e3,#1e6,#0e8,#1e5,#2e2,#7e1,#be0,#9e1,#3e2,#1e3,#1e5,#1e5,#1e3,#2e2,#2e2,#2e2,#3e1,#4e1,#4e1,#3e2,#2e2,#1e4,#1e6,#1e5,#2e2,#4e1,#7e1,#6e1,#3e2,#2e2,#1e3,#1e3)"></div><div style="top:97.09px;background:linear-gradient(90deg,#2e2,#1e4,#0e9,#0ee,#0ed,#1e5,#6e1,#ed0,#ec0,#de0,#2e2,#0ea,#0ef,#0ec,#1e4,#2e2,#5e1,#8e1,#9e1,#8e1,#5e1,#2e2,#1e7,#0ed,#0ec,#1e4,#5e1,#de0,#ee0,#8e1,#2e2,#1e5,#1e7,#1e6,#1e4,#2e2,#2e2,#4e1,#8e1,#9e1,#6e1,#2e2,#1e6,#0ea,#0e8,#1e3,#3e2,#8e1,#8e1,#4e1,#2e2,#2e2,#1e3,#1e4,#1e4,#1e4,#2e2,#3e2,#7e1,#9e1,#5e1,#2e2,#1e4,#1e6,#1e5,#2e2,#2e2,#3e1,#4e1,#3e1,#3e2,#2e2,#2e2,#1e3)"></div><div style="top:99.75px;background:linear-gradient(90deg,#2e2,#1e4,#0ea,#0ef,#0ed,#1e4,#7e1,#ec0,#ec0,#be0,#2e2,#0eb,#0ef,#0ea,#1e4,#2e2,#4e1,#8e1,#ae0,#ae0,#5e1,#1e3,#0ea,#0ef,#0ea,#2e2,#8e1,#de0,#be0,#5e1,#2e2,#1e3,#1e5,#1e6,#1e5,#1e4,#2e2,#7e1,#be0,#ae0,#3e1,#1e3,#0e8,#0e8,#1e4,#2e2,#3e1,#5e1,#5e1,#4e1,#3e2,#2e2,#1e3,#1e6,#1e7,#1e4,#2e2,#7e1,#9e1,#6e1,#2e2,#1e3,#1e4,#1e4,#1e3,#2e2,#2e2,#2e2,#5e1,#6e1,#4e1,#2e2,#1e3,#1e5)"></div><div style="top:102.41px;background:linear-gradient(90deg,#2e2,#1e4,#0eb,#0ef,#0ed,#1e3,#9e1,#ec0,#ec0,#9e1,#1e3,#0eb,#0ed,#0e9,#1e4,#2e2,#4e1,#9e1,#de0,#be0,#3e1,#1e5,#0ee,#0ef,#1e6,#2e2,#9e1,#be0,#8e1,#4e1,#2e2,#1e3,#1e5,#0e8,#1e7,#1e3,#4e1,#be0,#ce0,#6e1,#2e2,#1e5,#1e7,#1e5,#1e3,#2e2,#2e2,#5e1,#7e1,#7e1,#3e2,#1e3,#1e7,#0e8,#1e4,#2e2,#5e1,#7e1,#5e1,#3e2,#2e2,#2e2,#1e3,#1e4,#1e4,#1e2,#2e2,#6e1,#7e1,#4e1,#2e2,#1e3,#1e4,#1e3)"></div><div style="top:105.07px;background:linear-gradient(90deg,#2e2,#1e5,#0ec,#0ef,#0ec,#1e3,#be0,#ec0,#ed0,#7e1,#1e3,#0eb,#0ec,#0e8,#1e4,#2e2,#5e1,#be0,#ee0,#ae0,#2e2,#0e8,#0ef,#0eb,#1e3,#4e1,#9e1,#ae1,#7e1,#4e1,#2e2,#1e4,#0e8,#0ea,#1e5,#2e2,#9e1,#ce0,#9e1,#2e2,#1e3,#1e5,#1e5,#1e5,#1e3,#2e2,#4e1,#9e1,#9e1,#4e1,#2e2,#1e6,#0e7,#1e4,#2e2,#3e2,#4e1,#5e1,#4e1,#3e2,#2e2,#1e3,#1e6,#1e5,#1e3,#3e2,#6e1,#6e1,#3e1,#2e2,#2e2,#1e3,#1e3,#1e3)"></div><div style="top:107.73px;background:linear-gradient(90deg,#2e2,#1e5,#0ec,#0ef,#0ec,#2e2,#ce0,#ec0,#fd0,#5e1,#1e4,#0ea,#0eb,#0e7,#1e4,#2e2,#7e1,#ee0,#ee0,#7e1,#1e3,#0ec,#0ee,#0e7,#2e2,#5e1,#8e1,#9e1,#7e1,#4e1,#2e2,#1e7,#0eb,#0e8,#2e2,#6e1,#be0,#ae1,#4e1,#2e2,#1e3,#1e5,#1e6,#1e5,#2e2,#3e1,#9e1,#ae0,#5e1,#2e2,#1e5,#1e6,#1e4,#2e2,#2e2,#3e2,#5e1,#6e1,#4e1,#2e2,#1e4,#1e6,#1e5,#2e2,#3e2,#5e1,#5e1,#3e1,#2e2,#2e2,#1e3,#1e4,#1e4,#2e2)"></div><div style="top:110.39px;background:linear-gradient(90deg,#2e2,#1e5,#0eb,#0ef,#0ea,#2e2,#de0,#ec0,#fe0,#3e2,#1e5,#0ea,#0e9,#1e7,#1e3,#2e2,#9e1,#fe0,#ce0,#3e2,#1e6,#0ed,#0ea,#1e4,#2e2,#5e1,#8e1,#9e1,#6e1,#2e2,#1e4,#0ea,#0ea,#1e4,#3e1,#9e1,#9e1,#5e1,#2e2,#2e2,#1e4,#1e6,#1e6,#1e3,#3e2,#9e1,#ae0,#5e1,#2e2,#1e4,#1e5,#1e4,#1e3,#2e2,#3e2,#6e1,#7e1,#4e1,#2e2,#1e5,#1e6,#1e4,#2e2,#3e2,#4e1,#4e1,#4e1,#2e2,#2e2,#1e4,#1e5,#1e4,#2e2,#3e1)"></div><div style="top:113.05px;background:linear-gradient(90deg,#2e2,#1e5,#0eb,#0ef,#0e9,#2e2,#de0,#ed0,#ce0,#2e2,#1e6,#0e9,#0e8,#1e6,#1e3,#3e2,#be0,#fe0,#9e1,#2e2,#0e9,#0eb,#1e6,#2e2,#3e2,#6e1,#8e1,#8e1,#4e1,#1e3,#0e8,#0ea,#1e5,#2e2,#7e1,#9e1,#6e1,#3e2,#2e2,#1e3,#1e6,#1e7,#1e3,#3e2,#8e1,#9e1,#4e1,#2e2,#1e3,#1e4,#1e4,#1e3,#2e2,#3e2,#7e1,#7e1,#3e2,#2e2,#1e5,#1e5,#1e3,#2e2,#2e2,#3e1,#4e1,#4e1,#2e2,#1e3,#1e5,#1e5,#2e2,#2e2,#4e1,#4e1)"></div><div style="top:115.71px;background:linear-gradient(90deg,#2e2,#1e4,#0ea,#0ee,#0e7,#3e2,#ee0,#fd0,#9e1,#2e2,#1e6,#0e8,#1e7,#1e5,#2e2,#5e1,#de0,#de0,#4e1,#1e4,#0ea,#0e9,#1e4,#2e2,#4e1,#7e1,#9e1,#6e1,#2e2,#1e6,#0ea,#1e7,#2e2,#5e1,#7e1,#6e1,#4e1,#2e2,#1e3,#1e6,#1e7,#1e4,#2e2,#8e1,#8e1,#4e1,#2e2,#1e3,#1e4,#1e4,#1e3,#2e2,#4e1,#7e1,#6e1,#2e2,#1e3,#1e5,#1e4,#2e2,#2e2,#2e2,#4e1,#5e1,#4e1,#2e2,#1e4,#1e5,#1e3,#2e2,#3e2,#3e1,#3e2,#3e2)"></div><div style="top:118.37px;background:linear-gradient(90deg,#2e2,#1e4,#0ea,#0ec,#1e6,#3e1,#ee0,#fe0,#6e1,#2e2,#1e6,#0e7,#1e6,#1e4,#2e2,#8e1,#de0,#ae1,#2e2,#1e7,#0e9,#1e6,#2e2,#2e2,#5e1,#8e1,#8e1,#3e2,#1e4,#0e9,#0e8,#2e2,#4e1,#6e1,#6e1,#4e1,#2e2,#2e2,#1e5,#1e7,#1e4,#2e2,#7e1,#7e1,#3e1,#2e2,#1e3,#1e4,#1e4,#1e3,#2e2,#4e1,#7e1,#5e1,#2e2,#1e3,#1e4,#1e3,#2e2,#2e2,#3e2,#5e1,#5e1,#2e2,#1e3,#1e4,#1e4,#2e2,#2e2,#3e2,#3e2,#3e2,#2e2,#2e2)"></div><div style="top:121.03px;background:linear-gradient(90deg,#2e2,#1e4,#0e9,#0eb,#1e5,#4e1,#ee0,#de0,#4e1,#1e3,#1e6,#1e7,#1e5,#1e3,#3e2,#ae0,#ce0,#5e1,#1e3,#0e8,#1e7,#1e3,#2e2,#3e1,#6e1,#8e1,#5e1,#2e2,#0e7,#0e8,#1e3,#3e2,#6e1,#6e1,#4e1,#2e2,#2e2,#1e5,#1e7,#1e4,#2e2,#7e1,#7e1,#3e2,#2e2,#1e3,#1e4,#1e4,#1e3,#2e2,#5e1,#7e1,#3e1,#2e2,#1e4,#1e4,#1e3,#2e2,#2e2,#3e1,#5e1,#3e1,#2e2,#1e4,#1e4,#1e3,#2e2,#2e2,#3e2,#3e2,#3e2,#2e2,#1e3,#1e4)"></div><div style="top:123.69px;background:linear-gradient(90deg,#2e2,#1e4,#0e9,#0ea,#1e4,#6e1,#ee0,#be0,#2e2,#1e4,#1e6,#1e6,#1e4,#2e2,#5e1,#be0,#ae1,#2e2,#1e5,#0e8,#1e5,#2e2,#2e2,#5e1,#7e1,#6e1,#2e2,#1e5,#0e8,#1e4,#2e2,#5e1,#5e1,#4e1,#3e2,#2e2,#1e4,#1e6,#1e4,#2e2,#6e1,#6e1,#3e2,#2e2,#1e3,#1e3,#1e4,#1e3,#2e2,#6e1,#6e1,#2e2,#2e2,#1e4,#1e3,#2e2,#2e2,#2e2,#4e1,#4e1,#2e2,#1e3,#1e4,#1e3,#2e2,#2e2,#3e2,#3e2,#3e2,#2e2,#1e3,#1e4,#1e3,#2e2)"></div><div style="top:126.35px;background:linear-gradient(90deg,#2e2,#1e4,#0e8,#0e9,#1e3,#6e1,#de0,#9e1,#2e2,#1e4,#1e6,#1e5,#1e4,#2e2,#7e1,#be0,#6e1,#1e2,#1e7,#1e6,#1e3,#2e2,#3e1,#6e1,#7e1,#3e2,#1e3,#0e7,#1e5,#2e2,#4e1,#5e1,#4e1,#3e2,#2e2,#1e4,#1e6,#1e4,#2e2,#6e1,#6e1,#2e2,#2e2,#1e3,#1e3,#1e3,#2e2,#3e2,#6e1,#5e1,#2e2,#1e3,#1e3,#1e3,#2e2,#2e2,#3e2,#4e1,#3e2,#2e2,#1e4,#1e4,#2e2,#2e2,#3e2,#3e2,#3e2,#2e2,#2e2,#1e3,#1e3,#2e2,#3e2,#3e2)"></div><div style="top:129.01px;background:linear-gradient(90deg,#2e2,#1e3,#0e7,#0e8,#2e2,#7e1,#ce0,#7e1,#2e2,#1e5,#1e5,#1e4,#1e3,#3e2,#9e1,#9e1,#2e2,#1e4,#1e7,#1e4,#2e2,#3e2,#4e1,#6e1,#4e1,#2e2,#1e6,#1e6,#2e2,#3e1,#5e1,#4e1,#3e2,#2e2,#1e3,#1e5,#1e4,#2e2,#6e1,#5e1,#2e2,#2e2,#1e3,#1e3,#1e3,#2e2,#3e1,#6e1,#4e1,#2e2,#1e3,#1e3,#2e2,#2e2,#2e2,#4e1,#4e1,#2e2,#1e3,#1e4,#1e3,#2e2,#2e2,#3e2,#3e2,#2e2,#2e2,#1e3,#1e3,#2e2,#2e2,#3e2,#2e2,#2e2)"></div><div style="top:131.67px;background:linear-gradient(90deg,#2e2,#1e3,#1e7,#1e7,#2e2,#8e1,#be0,#4e1,#2e2,#1e5,#1e5,#1e4,#2e2,#4e1,#9e1,#6e1,#2e2,#1e6,#1e5,#2e2,#2e2,#3e1,#5e1,#5e1,#2e2,#1e4,#1e6,#1e3,#2e2,#5e1,#4e1,#3e2,#2e2,#1e3,#1e5,#1e3,#2e2,#5e1,#5e1,#2e2,#2e2,#1e3,#1e3,#1e3,#2e2,#4e1,#5e1,#3e2,#2e2,#1e3,#1e3,#2e2,#2e2,#3e2,#4e1,#3e2,#2e2,#1e3,#1e3,#2e2,#2e2,#3e2,#3e2,#2e2,#2e2,#1e3,#1e3,#2e2,#2e2,#3e2,#3e2,#2e2,#2e2,#2e2)"></div><div style="top:134.33px;background:linear-gradient(90deg,#2e2,#1e3,#1e6,#1e6,#2e2,#8e1,#9e1,#3e2,#1e3,#1e4,#1e4,#1e3,#2e2,#5e1,#8e1,#3e2,#1e3,#1e6,#1e4,#2e2,#3e2,#4e1,#5e1,#3e2,#1e3,#1e6,#1e4,#2e2,#4e1,#4e1,#2e2,#2e2,#2e2,#1e4,#1e3,#2e2,#5e1,#5e1,#2e2,#2e2,#1e3,#1e3,#2e2,#2e2,#4e1,#4e1,#2e2,#1e3,#1e3,#2e2,#2e2,#2e2,#3e2,#3e2,#2e2,#2e2,#1e3,#2e2,#2e2,#3e2,#3e2,#2e2,#2e2,#2e2,#1e3,#2e2,#2e2,#3e2,#3e2,#2e2,#2e2,#2e2,#2e2,#2e2)"></div><div style="top:136.99px;background:linear-gradient(90deg,#2e2,#1e3,#1e5,#1e5,#2e2,#8e1,#8e1,#2e2,#1e3,#1e4,#1e3,#2e2,#2e2,#6e1,#6e1,#2e2,#1e4,#1e5,#2e2,#2e2,#3e2,#4e1,#3e2,#2e2,#1e4,#1e4,#2e2,#4e1,#4e1,#2e2,#2e2,#2e2,#1e3,#1e3,#2e2,#4e1,#4e1,#2e2,#2e2,#1e3,#1e2,#2e2,#2e2,#4e1,#4e1,#2e2,#1e3,#1e3,#2e2,#2e2,#2e2,#3e2,#2e2,#2e2,#1e3,#1e3,#2e2,#2e2,#3e2,#2e2,#2e2,#2e2,#2e2,#2e2,#2e2,#3e2,#3e2,#2e2,#2e2,#2e2,#2e2,#2e2,#2e2,#2e2)"></div><div style="top:139.65px;background:linear-gradient(90deg,#2e2,#1e3,#1e5,#1e4,#2e2,#7e1,#6e1,#2e2,#1e3,#1e4,#1e3,#2e2,#3e2,#6e1,#4e1,#2e2,#1e5,#1e3,#2e2,#3e2,#3e2,#3e2,#2e2,#1e3,#1e4,#2e2,#3e2,#4e1,#3e2,#2e2,#2e2,#1e3,#1e3,#2e2,#4e1,#4e1,#2e2,#2e2,#1e3,#2e2,#2e2,#2e2,#3e2,#3e2,#2e2,#1e3,#1e3,#2e2,#2e2,#2e2,#2e2,#2e2,#2e2,#1e3,#2e2,#2e2,#3e2,#2e2,#2e2,#2e2,#2e2,#2e2,#2e2,#2e2,#3e2,#2e2,#2e2,#2e2,#2e2,#2e2,#2e2,#2e2,#2e2,#2e2)"></div><div style="top:142.31px;background:linear-gradient(90deg,#2e2,#1e3,#1e4,#1e3,#2e2,#6e1,#4e1,#2e2,#1e3,#1e3,#2e2,#2e2,#4e1,#5e1,#2e2,#1e3,#1e4,#2e2,#2e2,#3e2,#3e2,#2e2,#2e2,#1e4,#1e3,#2e2,#4e1,#3e2,#2e2,#2e2,#2e2,#1e3,#2e2,#3e2,#4e1,#2e2,#2e2,#1e3,#2e2,#2e2,#2e2,#3e2,#2e2,#2e2,#1e3,#1e2,#2e2,#2e2,#2e2,#2e2,#2e2,#2e2,#1e3,#2e2,#2e2,#3e2,#2e2,#2e2,#2e2,#2e2,#2e2,#2e2,#3e2,#2e2,#2e2,#2e2,#2e2,#2e2,#2e2,#2e2,#2e2,#2e2,#2e2,#2e2)"></div></div><div class="hm" style="left:790.5px;top:291.2px;width:146px;height:146.3px;--r:3.954px"><div style="top:0;height:2.97px;-webkit-mask-image:none;mask-image:none;background:linear-gradient(90deg,#2e2,#2e2,#1e5,#0eb,#0df,#0ce,#0df,#0ea,#3e2,#8e1,#3e1,#1e6,#0eb,#0ed,#0ef,#0ef,#0ef,#0e9,#3e2,#9e1,#5e1,#1e6,#0ee,#0ef,#0ef,#0ec,#0e8,#1e6,#2e2,#5e1,#3e1,#1e6,#0ed,#0ef,#0ef,#0e9,#1e4,#2e2,#2e2,#1e3,#1e4,#1e7,#0eb,#0ee,#0ee,#0e9,#2e2,#6e1,#5e1,#1e4,#0e8,#0ea,#0ea,#0eb,#0ea,#1e7,#1e3,#5e1,#5e1,#1e3,#0e9,#0ec,#0eb,#0e8,#1e6,#1e4,#2e2,#3e2,#2e2,#1e4,#0e8,#0eb,#0eb,#0e8,#1e4,#3e2,#3e2,#2e2,#1e4,#1e5,#1e7,#0e9,#0e9,#1e7,#1e3,#4e1,#5e1,#2e2,#1e5,#0e7,#0e8,#1e7,#1e6,#1e5,#1e3,#3e2,#4e1,#2e2,#1e5)"></div><div style="top:0.99px;background:linear-gradient(90deg,#2e2,#2e2,#1e5,#0ec,#0de,#0be,#0ce,#0ec,#2e2,#8e1,#5e1,#1e5,#0ea,#0ee,#0ef,#0df,#0df,#0ec,#1e4,#8e1,#8e1,#1e3,#0ec,#0ef,#0df,#0ef,#0eb,#0e8,#1e4,#3e1,#6e1,#2e2,#0e9,#0ef,#0df,#0ef,#0e8,#1e3,#2e2,#2e2,#1e3,#1e5,#0e8,#0ed,#0ef,#0ef,#0e9,#2e2,#6e1,#4e1,#1e4,#0e8,#0ea,#0eb,#0ec,#0eb,#0e8,#1e3,#5e1,#6e1,#1e3,#0e8,#0ec,#0ec,#0ea,#0e7,#1e5,#1e3,#2e2,#4e1,#2e2,#1e7,#0eb,#0ec,#0ea,#1e6,#2e2,#2e2,#2e2,#1e3,#1e4,#1e6,#0e9,#0eb,#0ea,#1e6,#2e2,#5e1,#4e1,#1e3,#1e6,#0e7,#0e8,#0e8,#0e7,#1e6,#1e3,#4e1,#4e1)"></div><div style="top:2.97px;background:linear-gradient(90deg,#2e2,#2e2,#1e5,#0ec,#0de,#0be,#0be,#0ef,#1e4,#7e1,#6e1,#1e4,#0ea,#0ee,#0ef,#0de,#0de,#0ef,#0e7,#6e1,#ae1,#4e1,#0e9,#0ef,#0df,#0df,#0ee,#0eb,#0e7,#1e3,#6e1,#5e1,#1e5,#0ed,#0df,#0df,#0ee,#0e7,#1e3,#2e2,#2e2,#1e3,#1e5,#0e9,#0ef,#0df,#0ef,#0e9,#2e2,#6e1,#4e1,#1e4,#0e8,#0ea,#0ec,#0ed,#0ed,#0ea,#1e4,#5e1,#7e1,#2e2,#0e7,#0ec,#0ed,#0eb,#0e9,#1e7,#1e5,#2e2,#4e1,#3e2,#1e5,#0ea,#0ed,#0ec,#0e8,#1e5,#2e2,#2e2,#2e2,#1e3,#1e4,#0e7,#0eb,#0ec,#0e9,#1e5,#3e2,#4e1,#2e2,#1e4,#1e6,#0e7,#0e8,#0e9,#0e8,#1e6,#1e2)"></div><div style="top:4.94px;background:linear-gradient(90deg,#2e2,#2e2,#1e5,#0ed,#0ce,#0ae,#0ae,#0df,#1e6,#7e1,#7e1,#1e3,#0e9,#0ee,#0df,#0de,#0ce,#0de,#0eb,#2e2,#ae1,#8e1,#1e5,#0ee,#0de,#0de,#0df,#0ee,#0eb,#1e6,#3e1,#7e1,#3e2,#0e8,#0ef,#0de,#0df,#0ed,#1e7,#1e3,#2e2,#2e2,#2e2,#1e5,#0eb,#0ef,#0df,#0ef,#0e9,#2e2,#6e1,#3e1,#1e4,#0e7,#0ea,#0ec,#0ee,#0ee,#0eb,#1e5,#5e1,#7e1,#3e2,#1e7,#0eb,#0ed,#0ec,#0eb,#0e9,#1e6,#1e3,#4e1,#5e1,#1e3,#0e8,#0ed,#0ee,#0eb,#1e7,#1e4,#2e2,#2e2,#2e2,#1e3,#1e5,#0e9,#0ec,#0ec,#0e9,#1e4,#3e2,#4e1,#2e2,#1e4,#1e6,#0e7,#0e9,#0ea,#0e9)"></div><div style="top:6.92px;background:linear-gradient(90deg,#2e2,#2e2,#1e6,#0ed,#0ce,#09e,#09e,#0de,#0e8,#6e1,#8e1,#2e2,#0e8,#0ed,#0df,#0de,#0ce,#0ce,#0ef,#1e5,#8e1,#ae0,#2e2,#0eb,#0df,#0de,#0de,#0df,#0ee,#0ea,#1e4,#6e1,#7e1,#1e3,#0ec,#0de,#0ce,#0df,#0ec,#1e7,#1e4,#2e2,#2e2,#2e2,#1e6,#0ed,#0df,#0de,#0ef,#0e9,#2e2,#5e1,#3e2,#1e4,#1e7,#0ea,#0ed,#0ef,#0ef,#0ed,#1e7,#4e1,#7e1,#4e1,#1e5,#0ea,#0ed,#0ed,#0ec,#0eb,#0e8,#1e5,#3e1,#6e1,#3e2,#1e6,#0ec,#0ee,#0ed,#0ea,#1e6,#1e4,#1e3,#2e2,#2e2,#1e3,#1e7,#0eb,#0ed,#0ec,#0e8,#1e3,#3e2,#3e2,#2e2,#1e4,#1e6,#0e8,#0ea)"></div><div style="top:8.90px;background:linear-gradient(90deg,#2e2,#1e2,#1e6,#0ed,#0ce,#09d,#09d,#0ce,#0eb,#4e1,#9e1,#4e1,#1e7,#0ed,#0df,#0ce,#0be,#0be,#0de,#0ea,#5e1,#be0,#7e1,#0e7,#0ef,#0de,#0ce,#0de,#0df,#0ed,#0e8,#2e2,#8e1,#6e1,#1e6,#0ef,#0ce,#0ce,#0df,#0eb,#1e7,#1e4,#2e2,#3e2,#2e2,#1e7,#0ee,#0de,#0de,#0ef,#0e9,#2e2,#5e1,#3e2,#1e4,#1e7,#0ea,#0ed,#0ef,#0df,#0ef,#0e8,#2e2,#7e1,#5e1,#1e4,#0e9,#0ed,#0ee,#0ed,#0ec,#0eb,#1e7,#2e2,#6e1,#5e1,#1e3,#0e9,#0ee,#0ee,#0ec,#0e9,#1e6,#1e4,#2e2,#3e2,#3e2,#1e4,#0e8,#0ed,#0ee,#0ec,#1e7,#1e3,#2e2,#2e2,#2e2,#1e4,#1e5)"></div><div style="top:10.87px;background:linear-gradient(90deg,#2e2,#1e2,#1e6,#0ee,#0be,#08d,#08d,#0ae,#0ee,#2e2,#9e1,#5e1,#1e6,#0ec,#0ef,#0ce,#0be,#0ae,#0be,#0ef,#1e3,#ae0,#ae0,#1e3,#0ed,#0de,#0ce,#0ce,#0de,#0df,#0ec,#1e5,#6e1,#9e1,#3e2,#0ea,#0de,#0be,#0ce,#0df,#0eb,#1e7,#1e4,#2e2,#3e2,#2e2,#0e8,#0ef,#0ce,#0ce,#0df,#0e9,#1e3,#4e1,#3e2,#1e3,#1e6,#0e9,#0ed,#0ef,#0df,#0ef,#0ea,#1e3,#7e1,#6e1,#1e3,#0e8,#0ec,#0ee,#0ee,#0ee,#0ed,#0e9,#1e4,#5e1,#7e1,#3e2,#1e7,#0ec,#0ef,#0ee,#0eb,#0e8,#1e6,#1e4,#2e2,#4e1,#2e2,#1e5,#0ea,#0ee,#0ee,#0eb,#1e7,#1e3,#2e2,#2e2,#2e2)"></div><div style="top:12.85px;background:linear-gradient(90deg,#2e2,#1e3,#1e6,#0ee,#0be,#08d,#07d,#09e,#0ef,#1e3,#9e1,#7e1,#1e4,#0eb,#0ef,#0de,#0be,#0ae,#0ae,#0de,#0e8,#8e1,#be0,#5e1,#0e9,#0df,#0ce,#0be,#0ce,#0de,#0ef,#0ea,#1e3,#8e1,#8e1,#1e4,#0ee,#0ce,#0be,#0ce,#0ef,#0eb,#1e7,#1e4,#2e2,#4e1,#1e3,#0e9,#0df,#0ce,#0ce,#0df,#0ea,#1e3,#4e1,#3e2,#1e3,#1e6,#0e9,#0ed,#0df,#0de,#0df,#0ec,#1e4,#6e1,#7e1,#2e2,#1e6,#0eb,#0ed,#0ee,#0ef,#0ee,#0ec,#1e7,#2e2,#7e1,#6e1,#1e4,#0ea,#0ee,#0ef,#0ed,#0eb,#0e8,#1e6,#1e3,#3e2,#4e1,#2e2,#1e6,#0ec,#0ef,#0ee,#0eb,#1e6,#1e3,#2e2)"></div><div style="top:14.83px;background:linear-gradient(90deg,#2e2,#1e3,#1e6,#0ee,#0be,#07d,#06d,#08d,#0de,#1e6,#8e1,#8e1,#1e3,#0ea,#0ef,#0de,#0be,#09e,#09e,#0be,#0ed,#3e2,#be0,#ae1,#1e4,#0ef,#0ce,#0be,#0be,#0ce,#0de,#0ef,#0e8,#4e1,#ae1,#7e1,#1e7,#0df,#0be,#0be,#0ce,#0ef,#0eb,#1e7,#1e3,#3e2,#4e1,#1e3,#0ea,#0df,#0be,#0be,#0df,#0eb,#1e4,#3e1,#3e2,#1e3,#1e5,#0e8,#0ed,#0df,#0de,#0de,#0ee,#1e7,#4e1,#7e1,#4e1,#1e5,#0ea,#0ed,#0ee,#0ef,#0ef,#0ee,#0ea,#1e4,#6e1,#7e1,#3e2,#1e7,#0ec,#0ef,#0ef,#0ed,#0eb,#0e8,#1e6,#2e2,#4e1,#4e1,#1e3,#0e8,#0ed,#0ef,#0ee,#0eb,#1e6)"></div><div style="top:16.80px;background:linear-gradient(90deg,#2e2,#1e3,#1e6,#0ee,#0be,#07d,#06c,#07d,#0ce,#0e8,#7e1,#9e1,#3e2,#0e8,#0ef,#0de,#0be,#09e,#08d,#0ae,#0df,#1e6,#ae1,#ce0,#4e1,#0eb,#0de,#0be,#0be,#0be,#0ce,#0de,#0ed,#1e5,#8e1,#ae0,#3e1,#0eb,#0de,#0ae,#0ae,#0ce,#0ef,#0ea,#1e6,#1e3,#3e1,#4e1,#1e3,#0eb,#0de,#0be,#0be,#0de,#0eb,#1e4,#3e2,#3e2,#1e3,#1e5,#0e8,#0ec,#0df,#0de,#0de,#0ef,#0e9,#2e2,#7e1,#6e1,#1e3,#0e8,#0ec,#0ee,#0ef,#0ef,#0ef,#0ed,#1e7,#3e2,#7e1,#6e1,#1e3,#0ea,#0ee,#0ef,#0ef,#0ed,#0ea,#0e8,#1e5,#2e2,#5e1,#4e1,#1e4,#0e9,#0ee,#0ef,#0ee)"></div><div style="top:18.78px;background:linear-gradient(90deg,#2e2,#1e3,#1e6,#0ee,#0be,#07d,#05c,#06d,#0ae,#0eb,#5e1,#ae1,#5e1,#1e7,#0ee,#0de,#0be,#09e,#08d,#09d,#0be,#0ec,#5e1,#ce0,#9e1,#1e6,#0ef,#0be,#0ae,#0ae,#0be,#0ce,#0df,#0ea,#2e2,#ae1,#9e1,#1e3,#0ef,#0be,#0ae,#0ae,#0ce,#0ef,#0ea,#1e6,#1e3,#4e1,#4e1,#1e4,#0ec,#0de,#0be,#0be,#0de,#0ec,#1e5,#3e2,#3e2,#2e2,#1e5,#0e8,#0ec,#0df,#0ce,#0ce,#0df,#0eb,#1e3,#7e1,#7e1,#2e2,#1e7,#0eb,#0ee,#0ef,#0ef,#0ef,#0ef,#0ea,#1e4,#6e1,#8e1,#4e1,#1e6,#0ec,#0ef,#0ef,#0ef,#0ec,#0ea,#1e7,#1e4,#3e2,#5e1,#3e1,#1e5,#0eb,#0ef)"></div><div style="top:20.76px;background:linear-gradient(90deg,#2e2,#1e3,#1e6,#0ef,#0ae,#07d,#05c,#06c,#09e,#0ef,#3e2,#ae0,#7e1,#1e5,#0ed,#0df,#0be,#09e,#08d,#08d,#0ae,#0df,#1e4,#be0,#ce0,#3e2,#0ec,#0ce,#0ae,#0ae,#0ae,#0be,#0ce,#0ef,#0e7,#5e1,#ae0,#7e1,#1e7,#0df,#0ae,#09e,#0ae,#0de,#0ef,#0e9,#1e6,#2e2,#4e1,#4e1,#1e5,#0ed,#0ce,#0ae,#0ae,#0de,#0ed,#1e5,#3e2,#3e1,#2e2,#1e5,#0e8,#0ec,#0ef,#0ce,#0ce,#0de,#0ee,#1e5,#5e1,#8e1,#4e1,#1e5,#0ea,#0ee,#0ef,#0ef,#0df,#0ef,#0ed,#1e7,#3e2,#8e1,#7e1,#1e3,#0e9,#0ee,#0ef,#0ef,#0ee,#0ec,#0e9,#1e6,#1e3,#4e1,#5e1,#2e2,#1e6)"></div><div style="top:22.74px;background:linear-gradient(90deg,#2e2,#1e3,#1e6,#0ef,#0ae,#06d,#04c,#05c,#08d,#0df,#1e3,#ae0,#9e1,#1e3,#0eb,#0df,#0be,#09e,#08d,#07d,#08d,#0ce,#0e9,#8e1,#de0,#9e1,#1e7,#0df,#0be,#09e,#09e,#0ae,#0be,#0de,#0ed,#1e4,#8e1,#ae0,#4e1,#0eb,#0ce,#09e,#09e,#0ae,#0de,#0ee,#0e9,#1e5,#2e2,#4e1,#3e2,#1e6,#0ee,#0ce,#0ae,#0ae,#0ce,#0ed,#1e5,#3e2,#4e1,#2e2,#1e5,#0e8,#0ec,#0ef,#0de,#0ce,#0ce,#0ef,#0e8,#4e1,#8e1,#6e1,#1e3,#0e9,#0ed,#0ef,#0df,#0df,#0df,#0ef,#0ea,#1e4,#6e1,#8e1,#5e1,#1e6,#0ec,#0ef,#0df,#0ef,#0ee,#0eb,#0e8,#1e5,#2e2,#4e1,#5e1)"></div><div style="top:24.71px;background:linear-gradient(90deg,#2e2,#1e3,#1e6,#0ef,#0ae,#06d,#04c,#04c,#07d,#0ce,#1e5,#9e1,#ae0,#2e2,#0ea,#0df,#0ce,#09e,#08d,#07d,#07d,#0ae,#0ef,#2e2,#ce0,#ce0,#2e2,#0ee,#0be,#09e,#09e,#09e,#0ae,#0ce,#0df,#0ea,#2e2,#ae0,#ae1,#1e3,#0ef,#0be,#09d,#09d,#0be,#0de,#0ed,#0e8,#1e4,#2e2,#4e1,#2e2,#1e7,#0ef,#0be,#09e,#0ae,#0ce,#0ee,#1e5,#4e1,#5e1,#2e2,#1e5,#0e8,#0ec,#0ef,#0de,#0ce,#0ce,#0df,#0ea,#2e2,#8e1,#8e1,#2e2,#0e8,#0ed,#0ef,#0df,#0df,#0df,#0ef,#0ed,#1e7,#2e2,#7e1,#7e1,#2e2,#0e9,#0ef,#0df,#0df,#0ef,#0ed,#0ea,#1e7,#1e4,#2e2)"></div><div style="top:26.69px;background:linear-gradient(90deg,#2e2,#1e3,#1e7,#0ef,#0ae,#06d,#03b,#03b,#06c,#0be,#0e8,#9e1,#be0,#5e1,#0e8,#0ef,#0ce,#09e,#08d,#07d,#07d,#08d,#0ce,#1e7,#ae0,#de0,#9e1,#0e8,#0de,#0ae,#08d,#08d,#09e,#0be,#0ce,#0ef,#1e7,#6e1,#ae0,#7e1,#1e7,#0df,#0ae,#08d,#09d,#0be,#0df,#0eb,#1e6,#1e3,#2e2,#3e2,#1e3,#0e8,#0ef,#0be,#09e,#09e,#0ce,#0ee,#1e5,#4e1,#6e1,#2e2,#1e5,#0e9,#0ed,#0ef,#0de,#0ce,#0ce,#0de,#0ec,#1e4,#7e1,#9e1,#5e1,#1e6,#0ec,#0ef,#0df,#0df,#0df,#0ef,#0ee,#0ea,#1e4,#5e1,#8e1,#5e1,#1e5,#0ec,#0df,#0de,#0df,#0ef,#0eb,#0e8,#1e5)"></div><div style="top:28.67px;background:linear-gradient(90deg,#2e2,#1e3,#1e7,#0ef,#0ae,#06c,#03b,#03b,#05c,#0ae,#0eb,#7e1,#be0,#7e1,#1e6,#0ef,#0ce,#0ae,#08d,#07d,#06d,#07d,#0ae,#0ed,#5e1,#de0,#ce0,#2e2,#0ef,#0ae,#08d,#08d,#08d,#0ae,#0be,#0df,#0ec,#1e3,#8e1,#ae0,#4e1,#0eb,#0ce,#08d,#08d,#09d,#0be,#0ef,#0e9,#1e5,#1e3,#2e2,#2e2,#1e5,#0ea,#0df,#0be,#09e,#09e,#0be,#0ef,#1e5,#5e1,#7e1,#3e2,#1e5,#0ea,#0ee,#0df,#0de,#0ce,#0ce,#0de,#0ee,#1e6,#6e1,#9e1,#7e1,#1e4,#0eb,#0ef,#0de,#0de,#0df,#0ef,#0ee,#0eb,#1e6,#2e2,#6e1,#6e1,#2e2,#0e9,#0ef,#0de,#0de,#0df,#0ed,#0e9)"></div><div style="top:30.64px;background:linear-gradient(90deg,#2e2,#1e3,#1e7,#0ef,#0ae,#06c,#03b,#02b,#04c,#08d,#0ee,#5e1,#ce0,#ae1,#1e4,#0ee,#0ce,#09e,#08d,#07d,#06c,#07d,#09e,#0df,#1e4,#ce0,#ee0,#8e1,#0ea,#0ce,#08d,#07d,#07d,#09d,#0ae,#0de,#0ef,#0e8,#3e2,#9e1,#8e1,#1e4,#0ef,#0ae,#08d,#07d,#09d,#0ce,#0ee,#1e7,#1e3,#2e2,#2e2,#1e4,#1e7,#0ec,#0de,#0ae,#09e,#09e,#0be,#0ef,#1e5,#7e1,#9e1,#4e1,#1e6,#0eb,#0ef,#0df,#0de,#0ce,#0ce,#0de,#0ef,#0e8,#4e1,#9e1,#9e1,#2e2,#0e9,#0ef,#0de,#0ce,#0de,#0df,#0ee,#0eb,#1e7,#1e3,#4e1,#6e1,#3e2,#1e6,#0ec,#0df,#0ce,#0de,#0ef)"></div><div style="top:32.62px;background:linear-gradient(90deg,#2e2,#1e3,#1e7,#0ef,#0ae,#06c,#03b,#02a,#03b,#07d,#0df,#2e2,#ce0,#be0,#2e2,#0ed,#0ce,#09e,#08d,#07d,#06c,#06d,#08d,#0be,#0ea,#8e1,#ee0,#ce0,#1e4,#0df,#09e,#07d,#07d,#08d,#09e,#0ce,#0df,#0eb,#1e5,#5e1,#8e1,#4e1,#0e9,#0de,#09e,#07d,#07d,#09e,#0de,#0eb,#1e4,#3e2,#3e2,#1e3,#1e6,#0ea,#0ef,#0ce,#0ae,#09e,#09e,#0be,#0ee,#1e4,#8e1,#ae1,#5e1,#1e6,#0ed,#0df,#0de,#0ce,#0ce,#0ce,#0de,#0ef,#0e9,#2e2,#8e1,#9e1,#4e1,#0e8,#0ef,#0ce,#0ce,#0ce,#0df,#0ee,#0ea,#1e7,#1e4,#2e2,#4e1,#3e2,#1e4,#0ea,#0ef,#0de,#0ce)"></div><div style="top:34.60px;background:linear-gradient(90deg,#2e2,#1e3,#0e7,#0ef,#0ae,#05c,#02b,#019,#02b,#06d,#0de,#1e3,#ce0,#de0,#4e1,#0eb,#0ce,#09e,#07d,#06d,#06c,#06c,#07d,#0ae,#0ef,#2e2,#de0,#ee0,#6e1,#0ed,#0ae,#07d,#06c,#06d,#08d,#0be,#0de,#0ed,#0e7,#2e2,#6e1,#5e1,#1e4,#0ee,#0be,#08d,#06d,#07d,#0ae,#0df,#1e7,#3e2,#6e1,#3e2,#1e5,#0e9,#0ee,#0df,#0ce,#0ae,#09e,#0ae,#0ce,#0ed,#1e3,#9e1,#be0,#6e1,#1e6,#0ee,#0de,#0ce,#0be,#0ce,#0de,#0df,#0ee,#0e9,#1e3,#6e1,#8e1,#4e1,#1e7,#0ef,#0ce,#0be,#0be,#0de,#0ee,#0e9,#1e5,#1e3,#2e2,#2e2,#1e3,#1e5,#0e9,#0ee,#0df)"></div><div style="top:36.58px;background:linear-gradient(90deg,#2e2,#1e3,#1e7,#0ef,#0ae,#06c,#03b,#019,#02b,#06c,#0ce,#1e4,#ce0,#ee0,#8e1,#0e9,#0de,#09e,#08d,#07d,#06d,#06d,#07d,#09e,#0df,#1e6,#be0,#fe0,#be0,#1e6,#0ce,#08d,#06c,#06c,#07d,#0ae,#0de,#0ed,#0e8,#1e4,#3e2,#4e1,#2e2,#0e9,#0df,#0ae,#07d,#07d,#08d,#0be,#0ed,#1e3,#8e1,#8e1,#3e2,#1e7,#0ed,#0df,#0de,#0be,#0ae,#0ae,#0be,#0de,#0ec,#2e2,#ae1,#be0,#6e1,#1e6,#0ef,#0ce,#0be,#0be,#0ce,#0df,#0ef,#0eb,#1e7,#1e3,#4e1,#6e1,#3e2,#1e6,#0ee,#0de,#0be,#0be,#0ce,#0ef,#0e8,#1e3,#4e1,#4e1,#2e2,#1e5,#0e7,#0ea,#0ed)"></div><div style="top:38.55px;background:linear-gradient(90deg,#2e2,#1e3,#1e6,#0ed,#0be,#07d,#03b,#02a,#02b,#06c,#0be,#1e5,#de0,#fe0,#be0,#1e6,#0df,#0ae,#08d,#07d,#07d,#07d,#08d,#09e,#0de,#0e9,#7e1,#ee0,#de0,#3e2,#0ef,#09e,#06d,#05c,#06d,#09e,#0de,#0ec,#1e7,#1e3,#2e2,#2e2,#1e3,#1e7,#0ed,#0ce,#09e,#07d,#07d,#09e,#0de,#0e8,#7e1,#be0,#ae1,#2e2,#0ea,#0ef,#0ce,#0ce,#0be,#0be,#0be,#0ce,#0ef,#0e9,#2e2,#ae1,#be0,#6e1,#1e7,#0ef,#0be,#0ae,#0ae,#0ce,#0ef,#0ea,#1e6,#1e4,#2e2,#2e2,#2e2,#1e4,#0e7,#0ed,#0df,#0ce,#0be,#0ce,#0ef,#0e8,#3e2,#8e1,#8e1,#3e2,#1e5,#0ea,#0ed)"></div><div style="top:40.53px;background:linear-gradient(90deg,#2e2,#1e3,#1e6,#0ec,#0ce,#07d,#04c,#02a,#02b,#05c,#0be,#1e7,#de0,#fd0,#de0,#1e3,#0df,#0ae,#08d,#07d,#07d,#07d,#08d,#0ae,#0ce,#0ec,#2e2,#ce0,#ee0,#9e1,#0e9,#0ce,#07d,#05c,#06c,#08d,#0ce,#0ed,#1e5,#3e2,#3e1,#2e2,#1e4,#0e8,#0ec,#0df,#0be,#09d,#08d,#08d,#0be,#0ee,#1e3,#be0,#de0,#9e1,#1e4,#0ee,#0ce,#0be,#0be,#0be,#0ce,#0de,#0ef,#0ec,#1e6,#3e2,#8e1,#9e1,#3e1,#0e8,#0df,#0be,#0ae,#0ae,#0ce,#0ee,#1e6,#2e2,#5e1,#4e1,#2e2,#1e5,#0e8,#0eb,#0ee,#0df,#0de,#0ce,#0de,#0ef,#0e8,#3e2,#9e1,#ae0,#6e1,#1e4,#0eb)"></div><div style="top:42.51px;background:linear-gradient(90deg,#2e2,#2e2,#1e5,#0eb,#0de,#08d,#05c,#02b,#03b,#05c,#0ae,#0e8,#de0,#ed0,#fe0,#4e1,#0ef,#0ae,#08d,#07d,#07d,#08d,#09e,#0be,#0de,#0ed,#1e4,#9e1,#de0,#ae0,#1e4,#0df,#09d,#06c,#05c,#07d,#0ae,#0ef,#1e4,#7e1,#8e1,#4e1,#1e5,#0e9,#0ee,#0df,#0ce,#0ae,#09e,#09e,#0ae,#0de,#0e9,#6e1,#de0,#de0,#8e1,#0e7,#0df,#0be,#0ae,#0ae,#0ce,#0df,#0ed,#0e9,#1e6,#1e3,#2e2,#4e1,#3e2,#1e4,#0eb,#0df,#0be,#0ae,#0be,#0de,#0ec,#1e3,#8e1,#ae0,#7e1,#1e3,#0e8,#0ed,#0ef,#0ef,#0df,#0df,#0ef,#0ef,#0ec,#1e7,#2e2,#7e1,#9e1,#7e1,#1e4)"></div><div style="top:44.48px;background:linear-gradient(90deg,#2e2,#2e2,#1e5,#0ea,#0de,#09d,#05c,#03b,#03b,#05c,#0ae,#0e9,#de0,#ec0,#fd0,#8e1,#0ec,#0be,#07d,#06d,#07d,#08d,#0ae,#0ce,#0df,#0ed,#1e6,#5e1,#ae0,#ae0,#2e2,#0ed,#0be,#07d,#05c,#06d,#09e,#0df,#1e5,#ae1,#ce0,#ae0,#2e2,#0ea,#0ef,#0de,#0ce,#0be,#0be,#0be,#0be,#0de,#0ed,#1e4,#9e1,#de0,#ce0,#3e2,#0ec,#0ce,#09e,#09e,#0ae,#0de,#0ed,#1e6,#2e2,#4e1,#3e2,#1e3,#1e5,#1e7,#0ea,#0ee,#0df,#0ce,#0be,#0ce,#0df,#0e9,#3e2,#ae0,#ce0,#9e1,#1e3,#0ea,#0ef,#0de,#0de,#0df,#0ef,#0eb,#0e8,#1e6,#1e4,#2e2,#3e1,#4e1,#2e2)"></div><div style="top:46.46px;background:linear-gradient(90deg,#2e2,#2e2,#1e4,#0e9,#0df,#09e,#06c,#04b,#03b,#05c,#0ae,#0ea,#ce0,#ec0,#ec0,#be0,#0ea,#0be,#07d,#06d,#06d,#08d,#0ae,#0de,#0ef,#0ea,#1e6,#2e2,#7e1,#7e1,#2e2,#0ea,#0ce,#08d,#06d,#06d,#08d,#0ce,#0e8,#9e1,#fe0,#ee0,#8e1,#1e7,#0ef,#0ce,#0be,#0be,#0be,#0ce,#0de,#0ef,#0ec,#1e7,#3e2,#9e1,#ae0,#6e1,#1e6,#0ef,#0be,#09e,#09e,#0be,#0df,#1e7,#6e1,#ae0,#ae0,#5e1,#1e5,#0ea,#0ee,#0ef,#0df,#0df,#0df,#0df,#0ef,#0ec,#1e6,#4e1,#9e1,#ae0,#7e1,#1e4,#0ec,#0df,#0ce,#0ce,#0de,#0ed,#1e6,#2e2,#5e1,#5e1,#3e2,#1e3,#1e6)"></div><div style="top:48.44px;background:linear-gradient(90deg,#2e2,#2e2,#1e4,#0e9,#0ef,#0ae,#07d,#04c,#04b,#05c,#09e,#0eb,#be0,#ec0,#ec0,#ee0,#1e7,#0ce,#07d,#06c,#06c,#08d,#0be,#0ef,#0ea,#1e6,#1e3,#2e2,#3e2,#2e2,#1e4,#0ea,#0df,#0ae,#08d,#07d,#08d,#0be,#0ec,#6e1,#fe0,#fd0,#de0,#1e2,#0ef,#0be,#09e,#09e,#0ae,#0de,#0ef,#0ea,#1e7,#1e4,#1e2,#3e2,#4e1,#2e2,#1e5,#0ec,#0de,#0be,#0ae,#0ae,#0de,#0ec,#2e2,#be0,#ee0,#be0,#4e1,#0e9,#0ef,#0de,#0ce,#0de,#0ef,#0ed,#0ea,#1e7,#1e5,#1e3,#2e2,#4e1,#4e1,#1e3,#0e7,#0ed,#0df,#0ce,#0ce,#0df,#0eb,#1e3,#8e1,#be0,#ae0,#5e1,#1e5)"></div><div style="top:50.41px;background:linear-gradient(90deg,#2e2,#2e2,#1e4,#0e8,#0ef,#0be,#07d,#05c,#04c,#06c,#09e,#0ec,#be0,#ec0,#eb0,#fe0,#1e4,#0de,#08d,#05c,#05c,#07d,#0be,#0ef,#1e6,#3e2,#5e1,#3e2,#1e3,#1e5,#0e8,#0ec,#0df,#0be,#09e,#08d,#09d,#0be,#0ef,#2e2,#de0,#fd0,#fe0,#7e1,#0ea,#0ce,#09e,#08d,#09e,#0ce,#0ee,#1e5,#4e1,#7e1,#5e1,#2e2,#1e5,#0e8,#0eb,#0ed,#0ef,#0de,#0ce,#0ce,#0de,#0ee,#1e6,#7e1,#ce0,#de0,#ae1,#1e4,#0ed,#0ce,#0be,#0be,#0de,#0ee,#1e6,#3e1,#7e1,#7e1,#4e1,#1e4,#1e7,#0e9,#0eb,#0ed,#0ee,#0ef,#0ef,#0ef,#0ec,#1e7,#2e2,#8e1,#ae0,#9e1,#3e2)"></div><div style="top:52.39px;background:linear-gradient(90deg,#2e2,#2e2,#1e4,#0e8,#0ef,#0be,#08d,#06c,#05c,#06d,#09e,#0ed,#ae0,#ec0,#eb0,#fd0,#3e2,#0df,#08d,#05c,#05c,#07d,#0be,#0ed,#2e2,#ae0,#be0,#7e1,#1e3,#0e9,#0ed,#0ef,#0de,#0ce,#0be,#0ae,#0be,#0ce,#0ef,#1e5,#ae1,#fe0,#fe0,#ae0,#1e6,#0df,#09e,#08d,#08d,#0ae,#0ef,#1e5,#ae0,#ee0,#ce0,#7e1,#1e6,#0ed,#0df,#0de,#0de,#0df,#0ef,#0ef,#0ed,#0ea,#1e6,#2e2,#6e1,#9e1,#7e1,#2e2,#0e9,#0ef,#0ce,#0be,#0ce,#0df,#0e9,#4e1,#be0,#de0,#be0,#4e1,#0e8,#0ee,#0df,#0df,#0df,#0ee,#0ea,#1e7,#1e4,#1e3,#2e2,#2e2,#2e2,#2e2,#1e3)"></div><div style="top:54.37px;background:linear-gradient(90deg,#2e2,#2e2,#1e4,#0e7,#0ee,#0ce,#09d,#06d,#05c,#07d,#0ae,#0ed,#9e1,#ec0,#eb0,#ed0,#6e1,#0ef,#08d,#05c,#05c,#06d,#0ae,#0ed,#5e1,#ee0,#fe0,#be0,#2e2,#0eb,#0df,#0ce,#0ce,#0ce,#0ce,#0de,#0df,#0ef,#0eb,#1e6,#5e1,#ae0,#be0,#8e1,#1e5,#0ef,#0be,#09d,#08d,#0ae,#0df,#1e7,#ae0,#fe0,#fd0,#ce0,#2e2,#0ed,#0ce,#0be,#0be,#0ce,#0ef,#0e9,#1e4,#3e2,#4e1,#3e2,#2e2,#1e4,#1e6,#0e8,#0eb,#0ee,#0ef,#0df,#0df,#0ef,#0eb,#1e4,#8e1,#ce0,#ce0,#9e1,#1e4,#0ec,#0df,#0ce,#0ce,#0df,#0eb,#1e3,#7e1,#ae0,#ae0,#6e1,#1e4,#0e8,#0ec)"></div><div style="top:56.35px;background:linear-gradient(90deg,#2e2,#2e2,#1e4,#1e7,#0ed,#0de,#09e,#07d,#06d,#07d,#0ae,#0ed,#7e1,#ed0,#eb0,#ec0,#8e1,#0ee,#09e,#06c,#05c,#06c,#0ae,#0ed,#8e1,#fd0,#ec0,#fe0,#5e1,#0eb,#0ce,#0ae,#09e,#0ae,#0ce,#0ef,#0eb,#1e7,#1e5,#1e3,#2e2,#3e2,#2e2,#1e3,#0e8,#0ee,#0de,#0be,#0ae,#0be,#0df,#0e9,#6e1,#ee0,#fd0,#ee0,#5e1,#0ea,#0de,#0ae,#09e,#0be,#0df,#0e8,#6e1,#ce0,#de0,#ae0,#3e2,#0e8,#0ee,#0df,#0df,#0ef,#0ee,#0eb,#0e9,#1e6,#1e5,#1e3,#2e2,#3e1,#4e1,#2e2,#1e5,#0e9,#0ee,#0df,#0df,#0df,#0ec,#1e6,#5e1,#be0,#ce0,#ae0,#4e1,#0e7,#0ee)"></div><div style="top:58.32px;background:linear-gradient(90deg,#2e2,#2e2,#1e3,#1e6,#0ec,#0df,#0be,#08d,#08d,#08d,#0be,#0ed,#6e1,#fd0,#ec0,#ed0,#ae0,#0ec,#0ae,#06d,#05c,#06d,#0ae,#0ec,#9e1,#ec0,#eb0,#ed0,#9e1,#0ea,#0ce,#09e,#08d,#09e,#0ce,#0ec,#1e4,#7e1,#9e1,#8e1,#3e2,#1e5,#0e9,#0ec,#0ee,#0ef,#0ef,#0df,#0df,#0ef,#0ed,#0e7,#2e2,#9e1,#ce0,#be0,#5e1,#0e8,#0ef,#0ce,#0ae,#0be,#0df,#0e9,#5e1,#ee0,#fd0,#fe0,#8e1,#1e6,#0ef,#0ce,#0be,#0ce,#0ef,#0e8,#3e2,#9e1,#be0,#9e1,#4e1,#1e5,#0e9,#0ec,#0ed,#0ed,#0ec,#0ea,#0e8,#1e7,#1e5,#1e4,#2e2,#3e1,#4e1,#4e1,#1e3,#1e6,#0ea)"></div><div style="top:60.30px;background:linear-gradient(90deg,#2e2,#2e2,#1e3,#1e6,#0ea,#0ef,#0ce,#0ae,#09e,#0ae,#0ce,#0ec,#5e1,#fe0,#ec0,#ed0,#ae0,#0e9,#0be,#08d,#06d,#07d,#0ae,#0ec,#ae1,#ec0,#eb0,#ec0,#ce0,#0e8,#0ce,#08d,#07d,#09d,#0ce,#0ea,#7e1,#fe0,#fd0,#ee0,#7e1,#1e7,#0ef,#0de,#0de,#0de,#0ef,#0eb,#0e7,#1e4,#1e3,#2e2,#2e2,#2e2,#2e2,#1e3,#1e6,#0e9,#0ed,#0ef,#0df,#0df,#0ee,#0e8,#2e2,#ae0,#de0,#de0,#9e1,#1e4,#0ed,#0de,#0ce,#0ce,#0df,#0e9,#4e1,#ce0,#fe0,#ee0,#ae1,#1e4,#0ec,#0df,#0de,#0de,#0ee,#0e8,#3e2,#9e1,#be0,#ae0,#6e1,#1e4,#0e8,#0eb,#0ec,#0ec,#0ea)"></div><div style="top:62.28px;background:linear-gradient(90deg,#2e2,#2e2,#1e3,#1e5,#0e8,#0ed,#0df,#0ce,#0be,#0be,#0de,#0ea,#5e1,#ee0,#ed0,#fd0,#ae0,#1e7,#0de,#09e,#08d,#08d,#0be,#0eb,#9e1,#ec0,#eb0,#ec0,#ee0,#1e6,#0de,#09e,#08d,#08d,#0ce,#0e9,#ae0,#ed0,#ec0,#ed0,#be0,#1e7,#0df,#0be,#0ae,#0be,#0ef,#0e8,#5e1,#ce0,#de0,#be0,#5e1,#1e5,#0eb,#0ee,#0ef,#0ee,#0ec,#0e9,#1e6,#1e5,#1e3,#2e2,#2e2,#2e2,#2e2,#2e2,#1e4,#1e6,#0e9,#0ec,#0ee,#0ee,#0eb,#1e7,#2e2,#8e1,#be0,#be0,#8e1,#1e3,#0e9,#0ef,#0df,#0df,#0ee,#0e8,#3e2,#be0,#ee0,#ee0,#ae0,#2e2,#0e9,#0ef,#0df,#0df,#0ed)"></div><div style="top:64.25px;background:linear-gradient(90deg,#2e2,#2e2,#1e3,#1e4,#1e7,#0eb,#0ef,#0df,#0de,#0de,#0ef,#0e9,#4e1,#ce0,#fe0,#fe0,#ae0,#1e5,#0ef,#0be,#09e,#0ae,#0ce,#0ea,#8e1,#fd0,#ec0,#ec0,#ee0,#1e4,#0df,#0ae,#08d,#09e,#0ce,#0e9,#ae0,#ec0,#eb0,#ec0,#de0,#1e5,#0df,#0be,#09e,#0be,#0df,#1e6,#ae0,#fd0,#ec0,#fd0,#ae0,#1e6,#0ef,#0de,#0ce,#0de,#0ed,#1e5,#7e1,#ce0,#de0,#be0,#6e1,#1e5,#0ea,#0ee,#0ee,#0ed,#0e9,#1e6,#2e2,#4e1,#5e1,#4e1,#2e2,#1e3,#1e4,#1e5,#1e6,#1e7,#1e7,#0e7,#0e7,#1e7,#1e6,#1e4,#2e2,#4e1,#6e1,#6e1,#4e1,#1e3,#1e6,#0ea,#0ec,#0ec,#0ea)"></div><div style="top:66.23px;background:linear-gradient(90deg,#2e2,#2e2,#2e2,#1e3,#1e5,#0e8,#0eb,#0ee,#0ef,#0ef,#0ec,#1e7,#3e2,#ae0,#de0,#ce0,#8e1,#1e4,#0ec,#0df,#0ce,#0ce,#0ef,#0e8,#6e1,#fe0,#ed0,#fd0,#ce0,#1e2,#0ed,#0ce,#0be,#0be,#0df,#0e8,#9e1,#fd0,#ec0,#ec0,#de0,#1e3,#0ef,#0ce,#0ae,#0be,#0df,#1e6,#be0,#ed0,#ec0,#ed0,#ce0,#1e4,#0ef,#0ce,#0be,#0ce,#0ee,#1e4,#be0,#fd0,#ed0,#fe0,#ae0,#1e5,#0ee,#0de,#0de,#0df,#0eb,#1e3,#be0,#fe0,#fe0,#de0,#7e1,#1e5,#0ec,#0ef,#0ef,#0ed,#0e8,#2e2,#8e1,#be0,#ce0,#9e1,#4e1,#1e5,#0e9,#0eb,#0eb,#0e9,#1e6,#1e2,#5e1,#7e1,#7e1)"></div><div style="top:68.21px;background:linear-gradient(90deg,#2e2,#2e2,#2e2,#1e3,#1e4,#1e6,#0e8,#0e9,#0ea,#0ea,#0e8,#1e5,#2e2,#7e1,#9e1,#9e1,#6e1,#1e3,#0e8,#0ec,#0ef,#0ee,#0eb,#1e6,#4e1,#be0,#de0,#de0,#ae1,#2e2,#0e9,#0ef,#0df,#0df,#0ed,#1e6,#7e1,#de0,#fe0,#fe0,#be0,#2e2,#0ea,#0ef,#0de,#0df,#0ed,#1e5,#9e1,#fe0,#fd0,#fe0,#be0,#1e3,#0eb,#0df,#0de,#0df,#0ec,#1e3,#ae0,#fe0,#fd0,#fe0,#ae0,#1e4,#0ec,#0df,#0de,#0ef,#0ea,#2e2,#be0,#fe0,#fd0,#fe0,#9e1,#1e5,#0ec,#0ef,#0df,#0ef,#0e9,#3e2,#be0,#fe0,#fe0,#de0,#7e1,#1e5,#0ec,#0ef,#0ef,#0ed,#1e7,#4e1,#be0,#ee0,#ee0)"></div><div style="top:70.18px;background:linear-gradient(90deg,#2e2,#2e2,#2e2,#2e2,#1e3,#1e3,#1e4,#1e4,#1e5,#1e4,#1e4,#1e3,#2e2,#3e1,#4e1,#4e1,#3e2,#2e2,#1e4,#1e5,#1e6,#1e6,#1e5,#1e3,#3e2,#5e1,#6e1,#6e1,#5e1,#2e2,#1e4,#1e6,#1e7,#1e7,#1e6,#1e3,#3e1,#6e1,#8e1,#8e1,#5e1,#2e2,#1e5,#1e7,#0e8,#0e8,#1e6,#1e3,#4e1,#8e1,#9e1,#9e1,#6e1,#2e2,#1e5,#0e8,#0e9,#0e8,#1e6,#2e2,#5e1,#9e1,#ae1,#9e1,#6e1,#2e2,#1e6,#0e8,#0e9,#0e8,#1e5,#2e2,#6e1,#9e1,#ae0,#9e1,#5e1,#1e3,#1e6,#0e8,#0e9,#0e8,#1e5,#2e2,#7e1,#9e1,#ae0,#8e1,#5e1,#1e3,#1e6,#0e8,#0e9,#1e7,#1e4,#3e2,#7e1,#9e1,#ae1)"></div><div style="top:72.16px;background:linear-gradient(90deg,#2e2,#2e2,#2e2,#2e2,#3e2,#3e1,#4e1,#5e1,#5e1,#5e1,#4e1,#3e2,#2e2,#1e3,#1e4,#1e4,#1e3,#2e2,#4e1,#6e1,#8e1,#7e1,#6e1,#4e1,#2e2,#1e4,#1e5,#1e5,#1e4,#2e2,#5e1,#8e1,#9e1,#9e1,#7e1,#4e1,#1e3,#1e5,#1e6,#1e6,#1e4,#2e2,#6e1,#9e1,#ae0,#9e1,#7e1,#3e2,#1e4,#1e6,#1e7,#1e7,#1e5,#2e2,#6e1,#9e1,#ae0,#ae1,#7e1,#3e2,#1e4,#1e7,#0e8,#1e7,#1e5,#2e2,#7e1,#ae0,#be0,#ae1,#7e1,#2e2,#1e5,#0e7,#0e8,#1e7,#1e4,#3e2,#7e1,#ae0,#be0,#9e1,#6e1,#2e2,#1e5,#0e8,#0e8,#1e7,#1e4,#4e1,#8e1,#ae0,#ae0,#9e1,#5e1,#1e3,#1e6,#0e8,#0e8)"></div><div style="top:74.14px;background:linear-gradient(90deg,#2e2,#2e2,#2e2,#3e2,#5e1,#7e1,#9e1,#be0,#ce0,#be0,#ae1,#6e1,#2e2,#1e6,#0e7,#1e7,#1e5,#3e2,#ae1,#ee0,#fe0,#fe0,#de0,#7e1,#1e4,#0e9,#0ec,#0ec,#0e8,#2e2,#be0,#fe0,#ed0,#fd0,#ee0,#7e1,#1e5,#0ec,#0ef,#0ee,#0e9,#2e2,#ce0,#fd0,#ec0,#ed0,#ee0,#6e1,#1e7,#0ee,#0ef,#0ef,#0e9,#3e2,#de0,#ed0,#ec0,#ed0,#de0,#4e1,#0e9,#0ef,#0ef,#0ef,#0e8,#4e1,#de0,#ed0,#ec0,#fd0,#ce0,#2e2,#0e9,#0ef,#0ef,#0ed,#1e7,#6e1,#ee0,#fd0,#ed0,#fe0,#ae0,#1e3,#0ea,#0ee,#0ef,#0ec,#1e6,#7e1,#de0,#fd0,#fd0,#ee0,#9e1,#1e4,#0ea,#0ed,#0ed)"></div><div style="top:76.12px;background:linear-gradient(90deg,#2e2,#2e2,#2e2,#4e1,#7e1,#ae0,#de0,#fe0,#fd0,#fe0,#de0,#9e1,#1e3,#0e8,#0eb,#0eb,#1e7,#5e1,#de0,#ec0,#eb0,#ec0,#fd0,#ae0,#1e5,#0ed,#0df,#0ef,#0eb,#3e2,#fe0,#ec0,#ea0,#eb0,#ed0,#9e1,#0e8,#0ef,#0de,#0de,#0ec,#3e1,#fe0,#eb0,#ea0,#eb0,#fd0,#7e1,#0e9,#0df,#0de,#0df,#0ea,#5e1,#fe0,#eb0,#eb0,#ec0,#fe0,#5e1,#0ea,#0ef,#0df,#0ef,#0e8,#6e1,#fe0,#ec0,#ec0,#ed0,#de0,#3e2,#0e9,#0ee,#0ef,#0ec,#1e5,#7e1,#de0,#fd0,#fd0,#fe0,#ae0,#2e2,#1e7,#0ea,#0ea,#0e8,#1e3,#6e1,#be0,#de0,#de0,#be0,#8e1,#3e2,#1e4,#1e5,#1e6)"></div><div style="top:78.09px;background:linear-gradient(90deg,#2e2,#2e2,#3e2,#5e1,#9e1,#ce0,#fe0,#ec0,#ec0,#ec0,#fd0,#ae0,#1e3,#0eb,#0ef,#0ee,#0e8,#6e1,#fd0,#eb0,#e90,#e90,#ec0,#ce0,#1e6,#0ef,#0ce,#0de,#0ec,#5e1,#ed0,#ea0,#d80,#e90,#ec0,#ae0,#0e9,#0df,#0ce,#0de,#0ec,#6e1,#ed0,#ea0,#e90,#ea0,#ed0,#8e1,#0e9,#0ef,#0de,#0ef,#0e8,#7e1,#fe0,#ec0,#eb0,#ec0,#fe0,#6e1,#1e6,#0eb,#0ec,#0ea,#1e5,#6e1,#ce0,#fe0,#fe0,#ee0,#be0,#7e1,#2e2,#1e3,#1e4,#1e4,#2e2,#3e2,#5e1,#7e1,#8e1,#8e1,#9e1,#9e1,#9e1,#9e1,#7e1,#5e1,#2e2,#1e4,#1e5,#1e5,#1e3,#3e1,#8e1,#be0,#de0,#de0,#be0)"></div><div style="top:80.07px;background:linear-gradient(90deg,#2e2,#2e2,#3e2,#6e1,#ae0,#fe0,#ec0,#eb0,#ea0,#eb0,#ec0,#ce0,#1e4,#0ed,#0df,#0ef,#0e9,#9e1,#ec0,#e90,#d70,#d80,#eb0,#de0,#0e7,#0de,#0be,#0ce,#0ec,#7e1,#ec0,#e90,#d70,#d80,#eb0,#be0,#0e8,#0df,#0de,#0df,#0e9,#8e1,#ed0,#eb0,#ea0,#eb0,#fd0,#ae1,#1e4,#0ea,#0ec,#0e9,#1e4,#6e1,#ce0,#fe0,#fe0,#fe0,#de0,#be0,#8e1,#6e1,#4e1,#3e2,#2e2,#2e2,#2e2,#2e2,#4e1,#8e1,#be0,#ee0,#fe0,#fe0,#de0,#9e1,#2e2,#1e6,#0e9,#0ea,#1e7,#3e2,#be0,#fe0,#ed0,#ed0,#fe0,#ae0,#1e3,#0e9,#0ed,#0ec,#0e8,#2e2,#be0,#fe0,#ed0,#fd0,#ee0)"></div><div style="top:82.05px;background:linear-gradient(90deg,#2e2,#2e2,#3e1,#7e1,#ce0,#fd0,#eb0,#ea0,#e90,#e90,#eb0,#de0,#1e5,#0ef,#0de,#0df,#0e9,#be0,#eb0,#d70,#d60,#d70,#ea0,#de0,#0e8,#0de,#0be,#0de,#0ea,#ae0,#eb0,#d80,#d70,#e80,#eb0,#ce0,#1e5,#0ed,#0ef,#0ed,#1e5,#9e1,#fe0,#ec0,#ec0,#ec0,#fd0,#de0,#9e1,#5e1,#3e2,#2e2,#2e2,#2e2,#2e2,#4e1,#7e1,#be0,#ee0,#fd0,#ed0,#ed0,#fe0,#ae0,#2e2,#0e8,#0ec,#0eb,#1e7,#5e1,#ee0,#ec0,#eb0,#eb0,#fd0,#be0,#1e4,#0eb,#0ee,#0ed,#0e8,#4e1,#de0,#ed0,#ec0,#ec0,#fe0,#9e1,#1e3,#0e7,#0e9,#0e8,#1e5,#4e1,#ae0,#de0,#ee0,#de0,#ce0)"></div><div style="top:84.02px;background:linear-gradient(90deg,#2e2,#2e2,#4e1,#8e1,#de0,#ed0,#ea0,#d80,#d70,#d80,#eb0,#ee0,#1e5,#0ef,#0ce,#0df,#0e8,#de0,#ea0,#d60,#d50,#d60,#e90,#ee0,#0e8,#0df,#0ce,#0df,#0e7,#ce0,#eb0,#e90,#d80,#e90,#ec0,#ee0,#4e1,#1e6,#0e7,#1e6,#1e2,#6e1,#be0,#de0,#fe0,#fe0,#fd0,#ed0,#ed0,#fd0,#ee0,#9e1,#2e2,#0e7,#0ea,#0e9,#1e4,#9e1,#fd0,#eb0,#ea0,#ea0,#ec0,#be0,#1e4,#0ec,#0ef,#0ee,#1e7,#8e1,#fd0,#eb0,#eb0,#eb0,#fd0,#ae0,#1e3,#0e8,#0e9,#0e7,#1e3,#6e1,#be0,#ee0,#fe0,#ee0,#de0,#ce0,#ae0,#9e1,#7e1,#4e1,#2e2,#1e3,#1e4,#1e3,#3e2,#8e1,#ce0)"></div><div style="top:86.00px;background:linear-gradient(90deg,#2e2,#2e2,#4e1,#9e1,#ee0,#ec0,#e90,#d70,#d60,#d70,#ea0,#fe0,#1e6,#0df,#0ce,#0df,#1e7,#fe0,#e90,#d50,#c40,#d60,#e90,#ee0,#1e6,#0ef,#0df,#0ee,#1e4,#de0,#ec0,#ea0,#e90,#ea0,#ec0,#fd0,#de0,#9e1,#6e1,#3e1,#2e2,#1e3,#2e2,#4e1,#ae1,#fe0,#ec0,#ea0,#ea0,#eb0,#ed0,#ae0,#1e5,#0ed,#0ef,#0ed,#1e4,#ce0,#ec0,#ea0,#e90,#ea0,#ed0,#ae0,#1e5,#0eb,#0ec,#0e9,#1e3,#ae1,#fe0,#ed0,#ed0,#fd0,#fe0,#de0,#ae0,#8e1,#6e1,#3e1,#2e2,#1e3,#1e3,#2e2,#6e1,#be0,#fe0,#ed0,#ec0,#fd0,#ee0,#7e1,#1e4,#0e9,#0eb,#0e9,#1e3,#9e1,#fe0)"></div><div style="top:87.98px;background:linear-gradient(90deg,#2e2,#2e2,#4e1,#9e1,#fe0,#eb0,#d80,#d60,#d50,#d60,#e90,#fe0,#1e7,#0de,#0ce,#0df,#1e5,#fd0,#d80,#d50,#c40,#d60,#ea0,#ee0,#1e5,#0ed,#0ee,#0ea,#2e2,#ce0,#ed0,#eb0,#eb0,#eb0,#eb0,#ec0,#ec0,#fd0,#de0,#7e1,#1e4,#0e8,#0ea,#1e6,#6e1,#fe0,#eb0,#e80,#d80,#e90,#ec0,#8e1,#0e8,#0ef,#0ef,#0eb,#3e2,#ee0,#ec0,#ea0,#ea0,#ec0,#fd0,#be0,#4e1,#1e3,#1e3,#1e3,#2e2,#5e1,#7e1,#ae1,#ce0,#fe0,#fd0,#ed0,#ed0,#fd0,#ce0,#4e1,#1e6,#0ea,#0eb,#1e7,#4e1,#de0,#ed0,#eb0,#ec0,#ed0,#ce0,#4e1,#1e6,#0e9,#0e8,#1e5,#4e1,#ae0,#de0)"></div><div style="top:89.95px;background:linear-gradient(90deg,#2e2,#2e2,#4e1,#9e1,#fe0,#eb0,#d80,#d50,#c40,#d60,#e90,#ee0,#0e8,#0de,#0ce,#0df,#1e3,#ec0,#d80,#d50,#d40,#d60,#ea0,#fe0,#2e2,#0e8,#0e9,#1e6,#4e1,#ae0,#fe0,#fd0,#ec0,#eb0,#ea0,#ea0,#ea0,#eb0,#fe0,#6e1,#0e8,#0ee,#0ee,#0e8,#8e1,#ec0,#e90,#d70,#d80,#ea0,#fd0,#5e1,#0e8,#0ec,#0eb,#1e5,#7e1,#ee0,#ed0,#ec0,#ec0,#ed0,#fd0,#fe0,#ee0,#ce0,#8e1,#2e2,#1e5,#1e7,#1e6,#2e2,#be0,#fd0,#eb0,#ea0,#eb0,#ed0,#be0,#1e3,#0ea,#0ec,#0e9,#1e3,#9e1,#fe0,#ed0,#ec0,#fd0,#fe0,#ce0,#8e1,#5e1,#3e1,#2e2,#2e2,#2e2,#2e2,#4e1)"></div><div style="top:91.93px;background:linear-gradient(90deg,#2e2,#2e2,#4e1,#ae0,#fd0,#ea0,#d70,#c40,#c40,#d50,#e90,#ee0,#0e9,#0de,#0ce,#0ef,#4e1,#ec0,#d70,#d50,#d50,#d70,#ea0,#fe0,#7e1,#1e3,#1e4,#1e3,#3e2,#7e1,#ae0,#ee0,#ed0,#eb0,#e90,#d80,#e80,#ea0,#fe0,#2e2,#0ec,#0ef,#0ef,#1e6,#ce0,#eb0,#e90,#d80,#e90,#eb0,#fe0,#7e1,#1e4,#1e6,#1e4,#2e2,#6e1,#ae1,#ce0,#fe0,#fd0,#ec0,#eb0,#eb0,#ec0,#fe0,#8e1,#1e6,#0eb,#0ec,#0e8,#5e1,#fe0,#ec0,#ea0,#ea0,#ec0,#fe0,#8e1,#1e3,#1e6,#1e6,#1e3,#4e1,#8e1,#be0,#de0,#ee0,#fe0,#fd0,#fd0,#fe0,#de0,#9e1,#2e2,#1e6,#0e9,#0e7,#1e3)"></div><div style="top:93.91px;background:linear-gradient(90deg,#2e2,#2e2,#5e1,#ae0,#fd0,#ea0,#d60,#c40,#c30,#d50,#e90,#de0,#0ea,#0de,#0de,#0ed,#8e1,#eb0,#d70,#d50,#d50,#d70,#ea0,#fd0,#ce0,#7e1,#4e1,#2e2,#2e2,#2e2,#5e1,#be0,#ed0,#ea0,#d70,#d60,#d80,#ea0,#de0,#1e5,#0ee,#0ef,#0eb,#3e2,#fe0,#eb0,#e90,#e90,#ea0,#ec0,#fe0,#ce0,#9e1,#5e1,#3e2,#1e3,#1e3,#2e2,#7e1,#de0,#ec0,#ea0,#e90,#ea0,#ec0,#de0,#2e2,#0ea,#0ec,#0ea,#1e3,#be0,#fd0,#ec0,#eb0,#ec0,#fd0,#ee0,#be0,#9e1,#6e1,#3e2,#2e2,#1e4,#1e3,#3e2,#9e1,#fe0,#ed0,#ec0,#ec0,#ed0,#ce0,#4e1,#1e6,#0e9,#0e8,#1e4,#7e1)"></div><div style="top:95.89px;background:linear-gradient(90deg,#2e2,#2e2,#5e1,#be0,#ed0,#e90,#d50,#c30,#c30,#d50,#e90,#ce0,#0ea,#0de,#0de,#0ea,#be0,#eb0,#d70,#d60,#d60,#d80,#ea0,#ec0,#fe0,#ce0,#7e1,#2e2,#1e5,#1e6,#2e2,#ce0,#ec0,#d80,#d60,#d60,#d80,#eb0,#ae0,#0e8,#0ee,#0ed,#1e6,#9e1,#fd0,#eb0,#ea0,#ea0,#eb0,#ec0,#ec0,#fd0,#de0,#8e1,#1e3,#1e7,#0e8,#1e5,#7e1,#fd0,#eb0,#e90,#e90,#ea0,#fd0,#9e1,#1e5,#0e9,#0e8,#1e4,#6e1,#ce0,#fe0,#fd0,#ed0,#ed0,#ed0,#ed0,#fd0,#de0,#8e1,#1e3,#0e8,#0e9,#1e6,#5e1,#de0,#ec0,#eb0,#eb0,#ec0,#ee0,#8e1,#2e2,#1e5,#1e4,#1e3,#4e1,#7e1)"></div><div style="top:97.86px;background:linear-gradient(90deg,#2e2,#2e2,#6e1,#ce0,#ec0,#e80,#d50,#c30,#c20,#d50,#ea0,#be0,#0eb,#0de,#0df,#1e6,#ee0,#ea0,#d70,#d60,#d60,#d80,#ea0,#eb0,#ed0,#ee0,#7e1,#1e4,#0e9,#0e8,#2e2,#ee0,#ea0,#d70,#d50,#d60,#e80,#ed0,#6e1,#0e8,#0eb,#0e8,#2e2,#be0,#fd0,#ec0,#eb0,#eb0,#ea0,#ea0,#eb0,#ec0,#ee0,#5e1,#0e8,#0ec,#0ea,#1e3,#de0,#eb0,#e90,#e90,#ea0,#ec0,#ee0,#7e1,#2e2,#1e3,#1e3,#3e2,#5e1,#9e1,#be0,#fe0,#ed0,#eb0,#eb0,#eb0,#ed0,#be0,#2e2,#0e8,#0ea,#1e7,#3e2,#ce0,#fd0,#ec0,#ec0,#ed0,#fe0,#de0,#ae0,#7e1,#5e1,#2e2,#1e3,#1e3,#2e2)"></div><div style="top:99.84px;background:linear-gradient(90deg,#2e2,#3e2,#6e1,#de0,#ec0,#d80,#c40,#b21,#b21,#d50,#ea0,#ae1,#0eb,#0df,#0ef,#1e3,#fe0,#ea0,#d70,#d60,#d70,#d80,#e90,#ea0,#ec0,#fe0,#5e1,#1e7,#0eb,#0e9,#5e1,#ed0,#e80,#d60,#d50,#d60,#ea0,#fe0,#5e1,#1e6,#1e7,#1e4,#6e1,#be0,#fe0,#ed0,#eb0,#ea0,#e90,#e90,#ea0,#ec0,#ae0,#1e5,#0ec,#0ec,#1e6,#9e1,#ed0,#ea0,#e90,#ea0,#eb0,#ed0,#ee0,#be0,#7e1,#4e1,#2e2,#1e4,#1e3,#5e1,#ce0,#ed0,#eb0,#ea0,#ea0,#ec0,#de0,#4e1,#1e6,#0e8,#1e6,#3e2,#ae0,#ee0,#fe0,#fd0,#ed0,#ed0,#fd0,#fe0,#de0,#9e1,#2e2,#1e6,#0e7,#1e5,#4e1)"></div><div style="top:101.82px;background:linear-gradient(90deg,#2e2,#3e2,#7e1,#ee0,#eb0,#d70,#c30,#b21,#b21,#d50,#ea0,#8e1,#0eb,#0ef,#0ec,#4e1,#fd0,#ea0,#d70,#d70,#d70,#d70,#d80,#e90,#ec0,#ee0,#2e2,#0ea,#0ec,#1e7,#be0,#eb0,#d70,#d50,#d50,#d70,#eb0,#ee0,#6e1,#1e3,#1e3,#2e2,#5e1,#9e1,#ee0,#ed0,#ea0,#e80,#d70,#d80,#ea0,#fe0,#3e2,#0e9,#0ec,#0e8,#5e1,#fe0,#ec0,#ea0,#ea0,#eb0,#ec0,#ec0,#fd0,#de0,#8e1,#1e3,#1e6,#1e7,#1e3,#ae0,#ed0,#eb0,#e90,#ea0,#ec0,#fe0,#8e1,#2e2,#1e4,#1e3,#3e2,#6e1,#ae1,#ce0,#fe0,#ed0,#ec0,#ec0,#ec0,#fe0,#ae0,#1e2,#1e7,#0e8,#1e5,#5e1,#ce0)"></div><div style="top:103.79px;background:linear-gradient(90deg,#2e2,#3e2,#8e1,#fe0,#eb0,#d60,#c30,#b11,#b21,#d50,#eb0,#7e1,#0eb,#0ef,#0e9,#8e1,#ec0,#e90,#d70,#d70,#d60,#d60,#d70,#e90,#ec0,#be0,#1e6,#0ed,#0ec,#1e3,#fe0,#e90,#d60,#d50,#d60,#e90,#ec0,#ee0,#8e1,#4e1,#2e2,#2e2,#3e1,#8e1,#fe0,#eb0,#e90,#d70,#d70,#e90,#ec0,#9e1,#1e6,#0ea,#0e8,#2e2,#ce0,#fd0,#ec0,#eb0,#eb0,#eb0,#eb0,#ec0,#fd0,#be0,#2e2,#0e8,#0e9,#1e5,#9e1,#fd0,#eb0,#ea0,#ea0,#eb0,#fd0,#ce0,#8e1,#4e1,#2e2,#2e2,#2e2,#4e1,#9e1,#ee0,#ed0,#eb0,#eb0,#ec0,#fd0,#ae1,#1e2,#1e6,#1e6,#1e3,#7e1,#be0,#ee0)"></div><div style="top:105.77px;background:linear-gradient(90deg,#2e2,#3e2,#9e1,#fe0,#ea0,#d60,#c21,#a11,#b21,#d50,#eb0,#5e1,#0eb,#0ed,#1e6,#be0,#ec0,#e90,#d70,#d60,#d60,#d60,#d70,#e90,#ec0,#7e1,#0e9,#0ed,#0e9,#8e1,#ec0,#d80,#d50,#d50,#d70,#ea0,#ec0,#ee0,#ae1,#5e1,#2e2,#1e3,#2e2,#ae0,#ed0,#e90,#d70,#d60,#d70,#eb0,#ee0,#3e2,#1e7,#1e7,#1e3,#9e1,#ee0,#ed0,#ec0,#eb0,#ea0,#ea0,#ea0,#ec0,#de0,#2e2,#0e8,#0e9,#1e5,#8e1,#fd0,#eb0,#ea0,#ea0,#eb0,#ed0,#fe0,#ce0,#9e1,#4e1,#1e3,#1e5,#1e3,#8e1,#fe0,#ec0,#eb0,#ea0,#ec0,#fe0,#ae1,#3e2,#1e4,#1e3,#2e2,#6e1,#9e1,#ce0,#fe0)"></div><div style="top:107.75px;background:linear-gradient(90deg,#2e2,#3e1,#9e1,#fd0,#e90,#d50,#b21,#a11,#b21,#d60,#ec0,#4e1,#0eb,#0eb,#1e4,#de0,#ec0,#e90,#d70,#d60,#d50,#d50,#d70,#ea0,#fe0,#2e2,#0eb,#0ec,#1e5,#ee0,#ea0,#d70,#d50,#d60,#d80,#ea0,#ec0,#ee0,#9e1,#2e2,#1e5,#1e5,#5e1,#fe0,#ea0,#d70,#d60,#d70,#e90,#ed0,#9e1,#1e3,#1e5,#1e3,#6e1,#be0,#fe0,#ed0,#eb0,#e90,#e90,#e90,#eb0,#fe0,#4e1,#1e7,#0e9,#1e5,#8e1,#fe0,#ec0,#eb0,#eb0,#eb0,#ec0,#ed0,#fe0,#ae0,#3e1,#1e5,#1e6,#1e4,#8e1,#fe0,#ec0,#ea0,#eb0,#ec0,#fe0,#be0,#6e1,#3e2,#2e2,#2e2,#3e2,#6e1,#be0,#fe0,#ec0)"></div><div style="top:109.73px;background:linear-gradient(90deg,#2e2,#3e2,#9e1,#fd0,#ea0,#d50,#b21,#b11,#c30,#d70,#ed0,#2e2,#0eb,#0e9,#2e2,#ee0,#eb0,#e90,#d70,#d60,#d50,#d60,#d70,#eb0,#be0,#1e7,#0ed,#0ea,#5e1,#ed0,#e90,#d70,#d60,#d70,#e90,#eb0,#ed0,#de0,#6e1,#1e4,#1e7,#1e4,#ae0,#ec0,#e80,#d70,#d70,#e90,#ec0,#ce0,#4e1,#1e3,#1e3,#3e1,#7e1,#be0,#fe0,#ec0,#ea0,#e90,#e90,#eb0,#fe0,#5e1,#1e6,#0e8,#1e4,#7e1,#ee0,#ed0,#ec0,#eb0,#eb0,#eb0,#ec0,#fe0,#ae0,#2e2,#1e7,#1e7,#1e3,#ae1,#fd0,#ec0,#eb0,#eb0,#ed0,#fe0,#be0,#8e1,#5e1,#2e2,#1e3,#1e2,#5e1,#be0,#fd0,#ec0,#eb0)"></div><div style="top:111.70px;background:linear-gradient(90deg,#2e2,#3e2,#9e1,#fe0,#ea0,#d50,#c20,#b21,#c40,#d80,#fe0,#1e4,#0ea,#0e8,#5e1,#fe0,#eb0,#e90,#d80,#d60,#d60,#d60,#e90,#ed0,#5e1,#0ea,#0ed,#1e6,#be0,#eb0,#d80,#d70,#d70,#e80,#ea0,#ec0,#fe0,#ae0,#1e3,#1e7,#1e6,#5e1,#fd0,#ea0,#d70,#d70,#e80,#eb0,#fe0,#8e1,#3e2,#2e2,#2e2,#4e1,#9e1,#ee0,#ec0,#ea0,#e90,#e90,#eb0,#fe0,#6e1,#1e5,#1e7,#1e4,#7e1,#de0,#fd0,#ec0,#ec0,#eb0,#eb0,#ec0,#fe0,#ae1,#1e3,#0e7,#1e7,#2e2,#be0,#fd0,#ec0,#ec0,#ec0,#fd0,#fe0,#ce0,#9e1,#4e1,#1e3,#1e5,#1e3,#7e1,#ee0,#ed0,#ec0,#ec0,#fd0)"></div><div style="top:113.68px;background:linear-gradient(90deg,#2e2,#3e2,#9e1,#fe0,#ea0,#d50,#c30,#c21,#d40,#e90,#de0,#1e6,#0ea,#1e6,#8e1,#fd0,#eb0,#e90,#d80,#d60,#d60,#d70,#ea0,#ee0,#1e4,#0ec,#0eb,#2e2,#fd0,#ea0,#d80,#d70,#d80,#e90,#eb0,#ed0,#de0,#4e1,#1e7,#0e8,#1e3,#de0,#eb0,#d80,#d70,#d80,#eb0,#fd0,#be0,#6e1,#3e2,#2e2,#2e2,#5e1,#ce0,#ed0,#ea0,#e90,#e90,#eb0,#fe0,#6e1,#1e4,#1e6,#1e3,#7e1,#ce0,#fe0,#ed0,#ec0,#eb0,#eb0,#ec0,#fe0,#7e1,#1e5,#0e8,#1e6,#5e1,#de0,#fd0,#ec0,#ec0,#ed0,#fd0,#fe0,#ce0,#8e1,#2e2,#1e5,#1e5,#2e2,#ae0,#fe0,#ec0,#ec0,#ed0,#fe0,#be0)"></div><div style="top:115.66px;background:linear-gradient(90deg,#2e2,#3e2,#8e1,#fe0,#ea0,#d60,#c30,#c30,#d50,#eb0,#ae0,#1e7,#0e9,#1e4,#ae0,#fd0,#eb0,#e90,#d80,#d60,#d60,#d80,#ec0,#9e1,#0e8,#0ec,#1e7,#ae0,#ec0,#e90,#d80,#d80,#e90,#ea0,#ec0,#fe0,#8e1,#1e5,#0e9,#1e6,#9e1,#ec0,#e90,#d80,#d80,#ea0,#ed0,#de0,#8e1,#4e1,#2e2,#1e3,#3e2,#ae0,#fd0,#eb0,#e90,#e90,#eb0,#fe0,#6e1,#1e4,#1e5,#2e2,#6e1,#be0,#ee0,#fd0,#ec0,#eb0,#eb0,#ec0,#ee0,#5e1,#1e6,#1e7,#1e4,#7e1,#ee0,#fd0,#ed0,#ed0,#ed0,#fd0,#fe0,#be0,#5e1,#1e4,#1e6,#1e4,#6e1,#de0,#ed0,#ec0,#ed0,#fe0,#de0,#ae1,#7e1)"></div><div style="top:117.63px;background:linear-gradient(90deg,#2e2,#3e2,#8e1,#fe0,#ea0,#d60,#c30,#c40,#d70,#ec0,#7e1,#0e8,#0e8,#2e2,#be0,#ed0,#eb0,#e90,#d80,#d70,#d70,#e90,#fd0,#2e2,#0eb,#0ea,#2e2,#fe0,#eb0,#e90,#e90,#e90,#ea0,#eb0,#ed0,#ce0,#2e2,#0e8,#0e8,#3e1,#fe0,#ea0,#e80,#e80,#ea0,#ec0,#ee0,#9e1,#5e1,#2e2,#1e3,#2e2,#9e1,#fe0,#eb0,#e90,#e90,#eb0,#fe0,#7e1,#1e3,#1e4,#2e2,#6e1,#ae0,#de0,#fd0,#ec0,#eb0,#eb0,#ed0,#ce0,#2e2,#1e6,#1e6,#2e2,#9e1,#ee0,#fd0,#ed0,#ed0,#ed0,#fd0,#ee0,#9e1,#2e2,#1e6,#1e6,#2e2,#ae0,#fe0,#ed0,#ed0,#fd0,#ee0,#be0,#9e1,#5e1,#2e2)"></div><div style="top:119.61px;background:linear-gradient(90deg,#2e2,#3e2,#8e1,#fe0,#ea0,#d60,#c40,#c40,#d80,#ed0,#3e1,#0e8,#1e7,#4e1,#de0,#ed0,#eb0,#e90,#d70,#d70,#d80,#eb0,#be0,#1e6,#0eb,#0e7,#8e1,#ed0,#ea0,#e90,#e90,#ea0,#eb0,#ec0,#ee0,#5e1,#1e7,#0e9,#1e4,#ce0,#eb0,#e90,#e90,#ea0,#ec0,#fe0,#ae0,#6e1,#2e2,#1e3,#1e3,#7e1,#fe0,#eb0,#ea0,#ea0,#ec0,#fe0,#6e1,#1e3,#1e3,#2e2,#6e1,#9e1,#de0,#fd0,#ec0,#eb0,#eb0,#fd0,#ae1,#1e3,#1e6,#1e5,#4e1,#be0,#fe0,#fd0,#fd0,#ed0,#ed0,#fe0,#ce0,#5e1,#1e5,#1e6,#1e4,#7e1,#de0,#fd0,#ed0,#fd0,#fe0,#ce0,#ae0,#7e1,#2e2,#1e4,#1e4)"></div><div style="top:121.59px;background:linear-gradient(90deg,#2e2,#3e2,#8e1,#fe0,#ea0,#d60,#c40,#d50,#e90,#fe0,#1e2,#0e8,#1e6,#6e1,#ee0,#ec0,#eb0,#e90,#d80,#d70,#e90,#ed0,#4e1,#0e9,#0ea,#1e3,#de0,#ec0,#ea0,#e90,#ea0,#ea0,#ec0,#fd0,#9e1,#1e4,#0e9,#1e6,#9e1,#ed0,#ea0,#e90,#ea0,#ec0,#fe0,#be0,#7e1,#2e2,#1e4,#1e3,#6e1,#ee0,#ec0,#ea0,#ea0,#ec0,#ee0,#6e1,#1e3,#1e3,#2e2,#6e1,#9e1,#de0,#fd0,#ec0,#eb0,#ec0,#fe0,#7e1,#1e4,#1e6,#1e3,#6e1,#ce0,#fe0,#fd0,#fd0,#ed0,#fd0,#ee0,#9e1,#2e2,#1e6,#1e5,#3e2,#be0,#fe0,#fd0,#fd0,#fe0,#de0,#be0,#8e1,#3e1,#1e3,#1e4,#2e2,#8e1)"></div><div style="top:123.56px;background:linear-gradient(90deg,#2e2,#3e2,#8e1,#fe0,#ea0,#d60,#d50,#d60,#ea0,#de0,#1e4,#0e8,#1e4,#8e1,#fe0,#ec0,#eb0,#e90,#d80,#d80,#eb0,#de0,#1e4,#0ea,#0e8,#7e1,#fd0,#eb0,#ea0,#ea0,#ea0,#eb0,#ed0,#ce0,#2e2,#0e8,#0e7,#4e1,#fe0,#eb0,#e90,#ea0,#ec0,#fe0,#ce0,#8e1,#3e2,#1e3,#1e3,#5e1,#de0,#ec0,#ea0,#ea0,#ec0,#de0,#6e1,#1e3,#1e3,#3e2,#6e1,#9e1,#de0,#fd0,#ec0,#eb0,#ed0,#de0,#4e1,#1e5,#1e6,#2e2,#9e1,#de0,#fe0,#fd0,#fd0,#fd0,#fe0,#ce0,#5e1,#1e5,#1e6,#1e3,#8e1,#ee0,#fd0,#fd0,#fe0,#ee0,#ce0,#9e1,#5e1,#1e3,#1e4,#1e3,#6e1,#ce0,#fe0)"></div><div style="top:125.54px;background:linear-gradient(90deg,#2e2,#3e2,#8e1,#fe0,#ea0,#d70,#d50,#d70,#eb0,#ae0,#1e5,#0e7,#1e3,#ae0,#fe0,#ec0,#ea0,#e90,#d80,#e90,#ec0,#7e1,#0e8,#0ea,#1e4,#ce0,#ec0,#eb0,#ea0,#eb0,#eb0,#ec0,#ee0,#6e1,#1e6,#0e8,#1e3,#ce0,#ec0,#ea0,#ea0,#ec0,#fd0,#ce0,#8e1,#4e1,#1e3,#1e4,#4e1,#de0,#ec0,#eb0,#eb0,#ec0,#de0,#5e1,#1e3,#1e3,#3e2,#6e1,#ae0,#ee0,#ed0,#ec0,#ec0,#fd0,#be0,#2e2,#1e6,#1e5,#4e1,#ae0,#de0,#fe0,#fd0,#fd0,#fd0,#ee0,#9e1,#1e2,#1e6,#1e5,#4e1,#be0,#fe0,#fd0,#fe0,#ee0,#ce0,#ae1,#6e1,#2e2,#1e4,#1e4,#4e1,#be0,#fe0,#fd0,#fe0)"></div><div style="top:127.52px;background:linear-gradient(90deg,#2e2,#3e2,#8e1,#fe0,#ea0,#d70,#d60,#d80,#ec0,#7e1,#1e6,#1e7,#3e2,#be0,#fd0,#ec0,#ea0,#e90,#e90,#eb0,#fe0,#1e2,#0e9,#0e8,#5e1,#fe0,#eb0,#eb0,#eb0,#eb0,#ec0,#fe0,#ae1,#1e4,#0e8,#1e5,#9e1,#ed0,#eb0,#ea0,#eb0,#fd0,#ce0,#8e1,#4e1,#1e3,#1e3,#3e1,#ce0,#ed0,#eb0,#eb0,#ed0,#ce0,#4e1,#1e3,#1e3,#3e2,#7e1,#ae0,#ee0,#ed0,#ec0,#ec0,#fe0,#8e1,#1e4,#1e6,#1e4,#6e1,#be0,#ee0,#fe0,#fe0,#fd0,#fe0,#be0,#5e1,#1e5,#1e6,#1e3,#8e1,#ee0,#fe0,#fe0,#ee0,#ce0,#ae0,#7e1,#3e2,#1e4,#1e4,#3e2,#ae0,#ee0,#fe0,#fe0,#ce0,#8e1)"></div><div style="top:129.50px;background:linear-gradient(90deg,#2e2,#3e2,#8e1,#fe0,#eb0,#d80,#d70,#e90,#fd0,#4e1,#1e7,#1e6,#5e1,#ce0,#fd0,#ec0,#ea0,#e90,#ea0,#ec0,#ae0,#1e6,#0e9,#1e4,#be0,#ed0,#eb0,#eb0,#eb0,#ec0,#fd0,#ce0,#3e2,#1e7,#1e7,#4e1,#fe0,#eb0,#ea0,#eb0,#fd0,#ce0,#8e1,#4e1,#2e2,#1e3,#3e2,#be0,#fd0,#eb0,#eb0,#ed0,#ce0,#4e1,#1e3,#1e3,#4e1,#7e1,#ae0,#ee0,#fd0,#ec0,#ed0,#ee0,#5e1,#1e5,#1e6,#2e2,#8e1,#ce0,#fe0,#fe0,#fe0,#fe0,#de0,#9e1,#2e2,#1e6,#1e5,#4e1,#be0,#fe0,#fe0,#fe0,#ce0,#ae0,#7e1,#4e1,#1e3,#1e4,#2e2,#8e1,#de0,#fe0,#fe0,#ce0,#8e1,#4e1,#2e2)"></div><div style="top:131.47px;background:linear-gradient(90deg,#2e2,#3e2,#7e1,#fe0,#eb0,#d80,#d70,#ea0,#fe0,#2e2,#1e7,#1e4,#7e1,#de0,#fd0,#ec0,#ea0,#ea0,#eb0,#fe0,#4e1,#0e8,#0e8,#4e1,#fe0,#ec0,#eb0,#eb0,#ec0,#fd0,#ee0,#7e1,#1e5,#1e7,#1e3,#ce0,#ec0,#eb0,#eb0,#fd0,#de0,#8e1,#4e1,#2e2,#1e3,#3e2,#ae1,#fd0,#ec0,#eb0,#ed0,#be0,#3e2,#1e4,#1e3,#4e1,#8e1,#be0,#ee0,#fd0,#ed0,#fd0,#ce0,#3e2,#1e5,#1e5,#3e2,#ae0,#de0,#fe0,#fe0,#fe0,#ee0,#be0,#5e1,#1e4,#1e5,#1e3,#8e1,#ee0,#fe0,#fe0,#de0,#ae0,#8e1,#4e1,#2e2,#1e3,#2e2,#6e1,#ce0,#fe0,#fe0,#de0,#9e1,#4e1,#2e2,#2e2,#2e2)"></div><div style="top:133.45px;background:linear-gradient(90deg,#2e2,#3e2,#7e1,#fe0,#eb0,#e80,#d80,#eb0,#ce0,#1e4,#1e7,#1e3,#9e1,#ee0,#fd0,#ec0,#eb0,#eb0,#ec0,#be0,#1e4,#0e9,#1e5,#9e1,#fd0,#ec0,#ec0,#ec0,#fd0,#fe0,#ae1,#2e2,#1e6,#1e5,#8e1,#fd0,#eb0,#eb0,#ed0,#de0,#8e1,#4e1,#2e2,#1e2,#2e2,#9e1,#fe0,#ec0,#ec0,#fd0,#be0,#2e2,#1e4,#1e3,#4e1,#8e1,#be0,#ee0,#fd0,#ed0,#fe0,#ae0,#2e2,#1e6,#1e4,#5e1,#be0,#ee0,#fe0,#fe0,#ee0,#ce0,#9e1,#2e2,#1e5,#1e4,#4e1,#be0,#fe0,#fe0,#ee0,#be0,#8e1,#5e1,#2e2,#1e3,#1e2,#4e1,#ae0,#ee0,#fe0,#de0,#9e1,#4e1,#2e2,#2e2,#2e2,#4e1,#7e1)"></div><div style="top:135.43px;background:linear-gradient(90deg,#2e2,#3e2,#7e1,#ee0,#eb0,#e90,#e90,#ec0,#ae0,#1e5,#1e6,#2e2,#ae0,#fe0,#ed0,#ec0,#eb0,#eb0,#fd0,#7e1,#1e7,#0e8,#2e2,#de0,#ed0,#ec0,#ec0,#fd0,#fe0,#be0,#4e1,#1e5,#1e6,#4e1,#ee0,#ec0,#ec0,#ed0,#de0,#8e1,#4e1,#2e2,#2e2,#2e2,#8e1,#ee0,#ed0,#ec0,#fd0,#ae0,#2e2,#1e4,#1e3,#5e1,#9e1,#be0,#ee0,#fe0,#fd0,#ee0,#8e1,#1e3,#1e6,#1e4,#7e1,#ce0,#ee0,#ee0,#ee0,#ce0,#ae0,#6e1,#1e3,#1e5,#1e3,#8e1,#de0,#fe0,#ee0,#be0,#8e1,#5e1,#3e2,#2e2,#2e2,#3e2,#8e1,#de0,#fe0,#de0,#ae0,#4e1,#1e3,#1e3,#2e2,#5e1,#7e1,#9e1,#be0)"></div><div style="top:137.40px;background:linear-gradient(90deg,#2e2,#3e2,#7e1,#ee0,#ec0,#ea0,#ea0,#ed0,#7e1,#1e6,#1e6,#3e2,#be0,#fe0,#ed0,#ec0,#ec0,#ec0,#de0,#2e2,#0e8,#1e6,#7e1,#fe0,#ec0,#ec0,#fd0,#fe0,#ce0,#7e1,#1e3,#1e6,#1e3,#ae0,#fd0,#ec0,#ec0,#ee0,#9e1,#4e1,#2e2,#2e2,#3e2,#7e1,#ce0,#fd0,#ec0,#fd0,#ae0,#2e2,#1e5,#1e3,#5e1,#9e1,#ce0,#ee0,#fe0,#fe0,#de0,#6e1,#1e4,#1e6,#1e3,#8e1,#de0,#ee0,#ee0,#ce0,#be0,#8e1,#3e2,#1e4,#1e4,#3e2,#ae0,#ee0,#fe0,#de0,#9e1,#5e1,#3e2,#2e2,#2e2,#3e2,#6e1,#be0,#ee0,#ee0,#ae0,#5e1,#1e3,#1e3,#2e2,#5e1,#7e1,#9e1,#be0,#ce0,#be0)"></div><div style="top:139.38px;background:linear-gradient(90deg,#2e2,#2e2,#7e1,#ee0,#ec0,#ea0,#eb0,#fe0,#5e1,#1e6,#1e5,#5e1,#be0,#fe0,#fd0,#ec0,#ec0,#fd0,#9e1,#1e5,#0e8,#1e3,#be0,#fd0,#ed0,#fd0,#fe0,#de0,#9e1,#3e2,#1e5,#1e4,#6e1,#fe0,#ec0,#ec0,#fe0,#9e1,#4e1,#2e2,#2e2,#3e2,#6e1,#be0,#fe0,#ed0,#fe0,#ae0,#2e2,#1e5,#1e3,#5e1,#9e1,#ce0,#de0,#ee0,#ee0,#be0,#5e1,#1e4,#1e5,#2e2,#9e1,#de0,#ee0,#de0,#be0,#9e1,#6e1,#2e2,#1e4,#1e3,#6e1,#ce0,#ee0,#ee0,#ae0,#5e1,#2e2,#2e2,#2e2,#3e2,#5e1,#9e1,#ce0,#de0,#be0,#6e1,#2e2,#1e4,#2e2,#4e1,#8e1,#9e1,#ae0,#be0,#ae0,#8e1,#3e2)"></div><div style="top:141.36px;background:linear-gradient(90deg,#2e2,#2e2,#6e1,#de0,#ec0,#eb0,#ec0,#ee0,#2e2,#1e6,#1e4,#6e1,#ce0,#fe0,#fd0,#ed0,#ed0,#ee0,#4e1,#1e6,#1e6,#4e1,#de0,#fd0,#fd0,#fe0,#de0,#ae0,#5e1,#1e3,#1e5,#2e2,#be0,#fd0,#ed0,#fe0,#ae0,#4e1,#2e2,#2e2,#3e2,#6e1,#ae0,#ee0,#fd0,#fe0,#ae0,#2e2,#1e5,#1e4,#5e1,#ae1,#ce0,#de0,#de0,#de0,#ae0,#4e1,#1e4,#1e5,#3e2,#ae0,#de0,#de0,#ce0,#9e1,#7e1,#4e1,#2e2,#1e3,#2e2,#8e1,#ce0,#ee0,#ce0,#7e1,#3e2,#2e2,#2e2,#3e2,#5e1,#8e1,#ae0,#ce0,#be0,#8e1,#2e2,#1e4,#1e3,#4e1,#7e1,#9e1,#ae1,#ae0,#9e1,#7e1,#3e2,#1e3,#1e4)"></div><div style="top:143.33px;background:linear-gradient(90deg,#2e2,#2e2,#6e1,#ce0,#ed0,#eb0,#ec0,#be0,#1e3,#1e6,#1e3,#8e1,#ce0,#fe0,#fe0,#fd0,#fe0,#ae0,#1e2,#1e7,#1e4,#8e1,#fe0,#fd0,#fe0,#de0,#ae0,#7e1,#2e2,#1e4,#1e3,#7e1,#ee0,#fd0,#fe0,#be0,#4e1,#2e2,#2e2,#3e2,#5e1,#9e1,#de0,#fe0,#fe0,#ae0,#3e2,#1e5,#1e4,#4e1,#9e1,#be0,#ce0,#ce0,#be0,#9e1,#3e2,#1e4,#1e4,#4e1,#ae0,#de0,#de0,#ae0,#7e1,#5e1,#2e2,#2e2,#2e2,#4e1,#9e1,#de0,#de0,#ae1,#4e1,#1e3,#1e3,#2e2,#4e1,#7e1,#9e1,#be0,#be0,#9e1,#4e1,#1e3,#1e4,#2e2,#7e1,#9e1,#ae1,#9e1,#8e1,#6e1,#3e1,#1e3,#1e3,#2e2,#6e1)"></div></div><div class="hm" style="left:229px;top:386px;width:14.5px;height:103px;background:linear-gradient(180deg,#911,#911,#a11,#b11,#b21,#c21,#c30,#c30,#c40,#c40,#d50,#d60,#d60,#d70,#d70,#d80,#e90,#e90,#ea0,#eb0,#eb0,#ec0,#ed0,#fd0,#fe0,#de0,#be0,#9e1,#6e1,#3e2,#1e3,#1e5,#1e7,#0e9,#0ec,#0ee,#0ef,#0df,#0de,#0ce,#0be,#0be,#0ae,#09e,#08d,#08d,#07d,#07d,#06d,#05c,#05c,#04c,#04c,#03b,#03b,#02b,#02a,#019,#018,#118)"></div>
<svg width="946" height="491" viewBox="0 0 946 491">
<text x="-0.5" y="18.6" font-family="Liberation Sans" font-size="26" font-style="normal" font-weight="bold" text-anchor="start" fill="#000">a</text>
<text x="324.5" y="19" font-family="Liberation Sans" font-size="27" font-style="normal" font-weight="bold" text-anchor="start" fill="#000">b</text>
<text x="325" y="267.5" font-family="Liberation Sans" font-size="27" font-style="normal" font-weight="bold" text-anchor="start" fill="#000">c</text>
<line x1="63.2" y1="12.6" x2="293.5" y2="12.6" stroke="#777" stroke-width="1" />
<line x1="293.5" y1="12.6" x2="293.5" y2="85.8" stroke="#777" stroke-width="1" />
<line x1="63.2" y1="12.1" x2="63.2" y2="86.39999999999999" stroke="#111" stroke-width="1.3" />
<line x1="62.6" y1="85.8" x2="293.5" y2="85.8" stroke="#111" stroke-width="1.3" />
<line x1="59.7" y1="12.6" x2="63.2" y2="12.6" stroke="#111" stroke-width="1.2" />
<line x1="59.7" y1="49.2" x2="63.2" y2="49.2" stroke="#111" stroke-width="1.2" />
<line x1="59.7" y1="85.8" x2="63.2" y2="85.8" stroke="#111" stroke-width="1.2" />
<line x1="63.2" y1="30.9" x2="65.7" y2="30.9" stroke="#111" stroke-width="1" />
<line x1="63.2" y1="67.5" x2="65.7" y2="67.5" stroke="#111" stroke-width="1" />
<line x1="120.775" y1="85.8" x2="120.775" y2="88.3" stroke="#111" stroke-width="1.1" />
<line x1="178.35000000000002" y1="85.8" x2="178.35000000000002" y2="88.3" stroke="#111" stroke-width="1.1" />
<line x1="235.925" y1="85.8" x2="235.925" y2="88.3" stroke="#111" stroke-width="1.1" />
<polygon points="53.10,22.30 53.10,10.85 52.00,10.85 48.90,13.30 48.90,14.60 51.70,12.95 51.70,22.30" fill="#111"/>
<text x="55.5" y="56.3" font-family="Liberation Sans" font-size="16" font-style="normal" font-weight="normal" text-anchor="end" fill="#111">0</text>
<text x="47.2" y="91.8" font-family="Liberation Sans" font-size="16" font-style="normal" font-weight="normal" text-anchor="end" fill="#111">−</text>
<polygon points="53.10,91.60 53.10,80.15 52.00,80.15 48.90,82.60 48.90,83.90 51.70,82.25 51.70,91.60" fill="#111"/>
<path d="M5.3,45.5 L0.8,52.7 L5.3,59.9" stroke="#111" stroke-width="1.0" fill="none" />
<text x="6.8" y="57" font-family="Liberation Sans" font-size="16" font-style="italic" fill="#111">s<tspan font-family="Liberation Sans" font-size="11" dy="4" dx="0">z</tspan></text>
<path d="M21.7,45.5 L26.2,52.7 L21.7,59.9" stroke="#111" stroke-width="1.0" fill="none" />
<line x1="62.85" y1="94.0" x2="62.85" y2="309.5" stroke="#000" stroke-width="1.5" />
<line x1="62.1" y1="308.8" x2="293" y2="308.8" stroke="#000" stroke-width="1.5" />
<line x1="56.5" y1="115.3" x2="62.85" y2="115.3" stroke="#111" stroke-width="1.3" />
<text x="52.3" y="121.5" font-family="Liberation Sans" font-size="16" font-style="normal" font-weight="normal" text-anchor="end" fill="#111">0.4</text>
<line x1="56.5" y1="158.4" x2="62.85" y2="158.4" stroke="#111" stroke-width="1.3" />
<line x1="56.5" y1="201.5" x2="62.85" y2="201.5" stroke="#111" stroke-width="1.3" />
<text x="52.3" y="207.7" font-family="Liberation Sans" font-size="16" font-style="normal" font-weight="normal" text-anchor="end" fill="#111">0</text>
<line x1="56.5" y1="244.6" x2="62.85" y2="244.6" stroke="#111" stroke-width="1.3" />
<line x1="56.5" y1="287.7" x2="62.85" y2="287.7" stroke="#111" stroke-width="1.3" />
<text x="52.3" y="293.9" font-family="Liberation Sans" font-size="16" font-style="normal" font-weight="normal" text-anchor="end" fill="#111">−0.4</text>
<line x1="62.85" y1="308.8" x2="62.85" y2="314.8" stroke="#111" stroke-width="1.3" />
<text x="62.85" y="334" font-family="Liberation Sans" font-size="16" font-style="normal" font-weight="normal" text-anchor="middle" fill="#111">0</text>
<line x1="177.925" y1="308.8" x2="177.925" y2="314.8" stroke="#111" stroke-width="1.3" />
<text x="177.925" y="334" font-family="Liberation Sans" font-size="16" font-style="normal" font-weight="normal" text-anchor="middle" fill="#111">40</text>
<line x1="293.0" y1="308.8" x2="293.0" y2="314.8" stroke="#111" stroke-width="1.3" />
<text x="293.0" y="334" font-family="Liberation Sans" font-size="16" font-style="normal" font-weight="normal" text-anchor="middle" fill="#111">80</text>
<text x="179.5" y="354.5" font-family="Liberation Sans" font-size="16" font-style="normal" font-weight="normal" text-anchor="middle" fill="#111">Time</text>
<text x="5.5" y="196.5" font-family="Liberation Sans" font-size="16" font-style="italic" fill="#111">E<tspan font-size="11" dy="4">z</tspan></text>
<line x1="3.6" y1="204" x2="25.4" y2="204" stroke="#111" stroke-width="1.3" />
<text x="5.5" y="225" font-family="Liberation Sans" font-size="16" font-style="italic" fill="#111">B<tspan font-size="11" dy="4" font-style="normal">0</tspan></text>
<polygon points="254.40,392.80 254.40,381.35 253.30,381.35 250.20,383.80 250.20,385.10 253.00,383.45 253.00,392.80" fill="#111"/>
<text x="248.5" y="442.3" font-family="Liberation Sans" font-size="16" font-style="normal" font-weight="normal" text-anchor="start" fill="#111">0</text>
<text x="247.5" y="488" font-family="Liberation Sans" font-size="16" font-style="normal" font-weight="normal" text-anchor="start" fill="#111">−</text>
<polygon points="263.20,487.60 263.20,476.15 262.10,476.15 259.00,478.60 259.00,479.90 261.80,478.25 261.80,487.60" fill="#111"/>
<line x1="83.9" y1="480.9" x2="83.9" y2="396" stroke="#888" stroke-width="1.6" />
<path d="M79.4,404 L83.9,395 L88.4,404" stroke="#888" stroke-width="1.6" fill="none" />
<line x1="83.9" y1="480.9" x2="176" y2="480.9" stroke="#888" stroke-width="1.6" />
<path d="M168,476.4 L177,480.9 L168,485.4" stroke="#888" stroke-width="1.6" fill="none" />
<rect x="81.4" y="430" width="5.4" height="50.89999999999998" fill="#7ee21e"/>
<polygon points="76.5,431.6 84.1,418 91.8,431.6" fill="#7ee21e"/>
<g transform="translate(82.5,478.5) rotate(-28.20)"><rect x="0" y="-2.8" width="72.64726811894167" height="5.6" fill="#1b7fe8"/><polygon points="69.64726811894167,-7.5 84.64726811894167,0 69.64726811894167,7.5" fill="#1b7fe8"/></g>
<path d="M113.9,480.9 A30,30 0 0,0 110.4,466.8" stroke="#111" stroke-width="1.3" fill="none" />
<text x="122.5" y="476" font-family="Liberation Serif" font-size="16" font-style="italic" font-weight="normal" text-anchor="start" fill="#111">θ</text>
<text x="92.5" y="393.5" font-family="Liberation Sans" font-size="16" font-style="italic" font-weight="normal" text-anchor="start" fill="#111">z</text>
<text x="182.5" y="484" font-family="Liberation Sans" font-size="16" font-style="italic" font-weight="normal" text-anchor="start" fill="#111">x</text>
<text x="55" y="437" font-family="Liberation Sans" font-size="16" font-style="italic" fill="#111">E<tspan font-size="11" dy="4">z</tspan></text>
<text x="162.5" y="435.5" font-family="Liberation Sans" font-size="16" font-style="italic" fill="#111">B<tspan font-size="11" dy="4" font-style="normal">0</tspan></text>
<line x1="384.2" y1="36.5" x2="384.2" y2="184.29999999999998" stroke="#000" stroke-width="1.5" />
<line x1="383.45" y1="183.7" x2="531" y2="183.7" stroke="#000" stroke-width="1.4" />
<line x1="379.8" y1="36.5" x2="384.2" y2="36.5" stroke="#111" stroke-width="1.3" />
<line x1="379.8" y1="110.1" x2="384.2" y2="110.1" stroke="#111" stroke-width="1.3" />
<line x1="379.8" y1="183.7" x2="384.2" y2="183.7" stroke="#111" stroke-width="1.3" />
<line x1="384.2" y1="183.7" x2="384.2" y2="188.7" stroke="#111" stroke-width="1.3" />
<text x="385.2" y="205.5" font-family="Liberation Sans" font-size="16" font-style="normal" font-weight="normal" text-anchor="middle" fill="#111">0</text>
<line x1="457.5" y1="183.7" x2="457.5" y2="188.7" stroke="#111" stroke-width="1.3" />
<text x="457.8" y="205.5" font-family="Liberation Sans" font-size="16" font-style="normal" font-weight="normal" text-anchor="middle" fill="#111">40</text>
<line x1="530.8" y1="183.7" x2="530.8" y2="188.7" stroke="#111" stroke-width="1.3" />
<text x="531.0999999999999" y="205.5" font-family="Liberation Sans" font-size="16" font-style="normal" font-weight="normal" text-anchor="middle" fill="#111">80</text>
<text x="459.5" y="226" font-family="Liberation Sans" font-size="16" font-style="normal" font-weight="normal" text-anchor="middle" fill="#111">Time</text>
<text x="367.5" y="35.9" font-family="Liberation Serif" font-size="17" font-style="italic" font-weight="normal" text-anchor="middle" fill="#111">π</text>
<line x1="361.3" y1="39" x2="373.7" y2="39" stroke="#111" stroke-width="1.4" />
<text x="368.7" y="54.6" font-family="Liberation Sans" font-size="16" font-style="normal" font-weight="normal" text-anchor="middle" fill="#111">4</text>
<text x="369.9" y="115.4" font-family="Liberation Sans" font-size="16" font-style="normal" font-weight="normal" text-anchor="middle" fill="#111">0</text>
<text x="369.7" y="172.2" font-family="Liberation Serif" font-size="17" font-style="italic" font-weight="normal" text-anchor="middle" fill="#111">π</text>
<line x1="363.5" y1="175" x2="375.9" y2="175" stroke="#111" stroke-width="1.4" />
<line x1="353.1" y1="174.6" x2="360.9" y2="174.6" stroke="#111" stroke-width="1.3" />
<text x="370.2" y="190.3" font-family="Liberation Sans" font-size="16" font-style="normal" font-weight="normal" text-anchor="middle" fill="#111">4</text>
<path d="M404.0,12.3 L399.5,19.5 L404.0,26.7" stroke="#111" stroke-width="1.0" fill="none" />
<text x="405.5" y="23.8" font-family="Liberation Serif" font-size="16" font-style="italic" fill="#111">σ<tspan font-family="Liberation Sans" font-size="11" dy="4" dx="0">z</tspan></text>
<path d="M421.5,12.3 L426.0,19.5 L421.5,26.7" stroke="#111" stroke-width="1.0" fill="none" />
<text x="479.6" y="23.8" font-family="Liberation Sans" font-size="16" font-style="italic" fill="#111">E<tspan font-size="11" dy="4">z</tspan><tspan dy="-4" font-style="normal" dx="1.5">=</tspan><tspan font-style="normal" dx="1.5">0</tspan></text>
<line x1="588.2" y1="36.5" x2="588.2" y2="184.29999999999998" stroke="#000" stroke-width="1.5" />
<line x1="587.45" y1="183.7" x2="735" y2="183.7" stroke="#000" stroke-width="1.4" />
<line x1="583.8" y1="36.5" x2="588.2" y2="36.5" stroke="#111" stroke-width="1.3" />
<line x1="583.8" y1="110.1" x2="588.2" y2="110.1" stroke="#111" stroke-width="1.3" />
<line x1="583.8" y1="183.7" x2="588.2" y2="183.7" stroke="#111" stroke-width="1.3" />
<line x1="588.2" y1="183.7" x2="588.2" y2="188.7" stroke="#111" stroke-width="1.3" />
<text x="589.2" y="205.5" font-family="Liberation Sans" font-size="16" font-style="normal" font-weight="normal" text-anchor="middle" fill="#111">0</text>
<line x1="661.5" y1="183.7" x2="661.5" y2="188.7" stroke="#111" stroke-width="1.3" />
<text x="661.8" y="205.5" font-family="Liberation Sans" font-size="16" font-style="normal" font-weight="normal" text-anchor="middle" fill="#111">40</text>
<line x1="734.8000000000001" y1="183.7" x2="734.8000000000001" y2="188.7" stroke="#111" stroke-width="1.3" />
<text x="735.1" y="205.5" font-family="Liberation Sans" font-size="16" font-style="normal" font-weight="normal" text-anchor="middle" fill="#111">80</text>
<text x="663.5" y="226" font-family="Liberation Sans" font-size="16" font-style="normal" font-weight="normal" text-anchor="middle" fill="#111">Time</text>
<text x="571.5" y="35.9" font-family="Liberation Serif" font-size="17" font-style="italic" font-weight="normal" text-anchor="middle" fill="#111">π</text>
<line x1="565.3" y1="39" x2="577.7" y2="39" stroke="#111" stroke-width="1.4" />
<text x="572.7" y="54.6" font-family="Liberation Sans" font-size="16" font-style="normal" font-weight="normal" text-anchor="middle" fill="#111">4</text>
<text x="573.9" y="115.4" font-family="Liberation Sans" font-size="16" font-style="normal" font-weight="normal" text-anchor="middle" fill="#111">0</text>
<text x="573.7" y="172.2" font-family="Liberation Serif" font-size="17" font-style="italic" font-weight="normal" text-anchor="middle" fill="#111">π</text>
<line x1="567.5" y1="175" x2="579.9000000000001" y2="175" stroke="#111" stroke-width="1.4" />
<line x1="557.1" y1="174.6" x2="564.9" y2="174.6" stroke="#111" stroke-width="1.3" />
<text x="574.2" y="190.3" font-family="Liberation Sans" font-size="16" font-style="normal" font-weight="normal" text-anchor="middle" fill="#111">4</text>
<path d="M594.9,12.3 L590.4,19.5 L594.9,26.7" stroke="#111" stroke-width="1.0" fill="none" />
<text x="596.4" y="23.8" font-family="Liberation Serif" font-size="16" font-style="italic" fill="#111">σ<tspan font-family="Liberation Sans" font-size="11" dy="4" dx="0">z</tspan></text>
<path d="M612.4,12.3 L616.9,19.5 L612.4,26.7" stroke="#111" stroke-width="1.0" fill="none" />
<text x="656" y="23.8" font-family="Liberation Sans" font-size="16" font-style="italic" fill="#111">E<tspan font-size="11" dy="4">z</tspan><tspan dy="-4" font-style="normal" dx="1">=</tspan><tspan font-style="normal" dx="1">0.1</tspan>B<tspan font-size="11" dy="4" font-style="normal">0</tspan></text>
<line x1="790.7" y1="36.5" x2="790.7" y2="184.29999999999998" stroke="#000" stroke-width="1.5" />
<line x1="789.95" y1="183.7" x2="937.5" y2="183.7" stroke="#000" stroke-width="1.4" />
<line x1="786.3" y1="36.5" x2="790.7" y2="36.5" stroke="#111" stroke-width="1.3" />
<line x1="786.3" y1="110.1" x2="790.7" y2="110.1" stroke="#111" stroke-width="1.3" />
<line x1="786.3" y1="183.7" x2="790.7" y2="183.7" stroke="#111" stroke-width="1.3" />
<line x1="790.7" y1="183.7" x2="790.7" y2="188.7" stroke="#111" stroke-width="1.3" />
<text x="791.7" y="205.5" font-family="Liberation Sans" font-size="16" font-style="normal" font-weight="normal" text-anchor="middle" fill="#111">0</text>
<line x1="864.0" y1="183.7" x2="864.0" y2="188.7" stroke="#111" stroke-width="1.3" />
<text x="864.3" y="205.5" font-family="Liberation Sans" font-size="16" font-style="normal" font-weight="normal" text-anchor="middle" fill="#111">40</text>
<line x1="937.3000000000001" y1="183.7" x2="937.3000000000001" y2="188.7" stroke="#111" stroke-width="1.3" />
<text x="937.6" y="205.5" font-family="Liberation Sans" font-size="16" font-style="normal" font-weight="normal" text-anchor="middle" fill="#111">80</text>
<text x="866.0" y="226" font-family="Liberation Sans" font-size="16" font-style="normal" font-weight="normal" text-anchor="middle" fill="#111">Time</text>
<text x="774.0" y="35.9" font-family="Liberation Serif" font-size="17" font-style="italic" font-weight="normal" text-anchor="middle" fill="#111">π</text>
<line x1="767.8" y1="39" x2="780.2" y2="39" stroke="#111" stroke-width="1.4" />
<text x="775.2" y="54.6" font-family="Liberation Sans" font-size="16" font-style="normal" font-weight="normal" text-anchor="middle" fill="#111">4</text>
<text x="776.4" y="115.4" font-family="Liberation Sans" font-size="16" font-style="normal" font-weight="normal" text-anchor="middle" fill="#111">0</text>
<text x="776.2" y="172.2" font-family="Liberation Serif" font-size="17" font-style="italic" font-weight="normal" text-anchor="middle" fill="#111">π</text>
<line x1="770.0" y1="175" x2="782.4000000000001" y2="175" stroke="#111" stroke-width="1.4" />
<line x1="759.6" y1="174.6" x2="767.4" y2="174.6" stroke="#111" stroke-width="1.3" />
<text x="776.7" y="190.3" font-family="Liberation Sans" font-size="16" font-style="normal" font-weight="normal" text-anchor="middle" fill="#111">4</text>
<path d="M802.8,12.3 L798.3,19.5 L802.8,26.7" stroke="#111" stroke-width="1.0" fill="none" />
<text x="804.3" y="23.8" font-family="Liberation Serif" font-size="16" font-style="italic" fill="#111">σ<tspan font-family="Liberation Sans" font-size="11" dy="4" dx="0">z</tspan></text>
<path d="M820.3,12.3 L824.8,19.5 L820.3,26.7" stroke="#111" stroke-width="1.0" fill="none" />
<text x="859.6" y="23.8" font-family="Liberation Sans" font-size="16" font-style="italic" fill="#111">E<tspan font-size="11" dy="4">z</tspan><tspan dy="-4" font-style="normal" dx="1">=</tspan><tspan font-style="normal" dx="1">0.2</tspan>B<tspan font-size="11" dy="4" font-style="normal">0</tspan></text>
<text x="339.5" y="115.3" font-family="Liberation Serif" font-size="16" font-style="italic" font-weight="normal" text-anchor="start" fill="#111">θ</text>
<line x1="384.2" y1="291.2" x2="384.2" y2="438.1" stroke="#000" stroke-width="1.5" />
<line x1="383.45" y1="437.5" x2="530" y2="437.5" stroke="#000" stroke-width="1.3" />
<line x1="379.5" y1="305.79999999999995" x2="384.2" y2="305.79999999999995" stroke="#111" stroke-width="1.3" />
<text x="374.5" y="311.4" font-family="Liberation Sans" font-size="16" font-style="normal" font-weight="normal" text-anchor="end" fill="#111">0.4</text>
<line x1="379.5" y1="335.0" x2="384.2" y2="335.0" stroke="#111" stroke-width="1.3" />
<line x1="379.5" y1="364.2" x2="384.2" y2="364.2" stroke="#111" stroke-width="1.3" />
<text x="374.5" y="369.8" font-family="Liberation Sans" font-size="16" font-style="normal" font-weight="normal" text-anchor="end" fill="#111">0</text>
<line x1="379.5" y1="393.4" x2="384.2" y2="393.4" stroke="#111" stroke-width="1.3" />
<line x1="379.5" y1="422.6" x2="384.2" y2="422.6" stroke="#111" stroke-width="1.3" />
<text x="374.5" y="428.20000000000005" font-family="Liberation Sans" font-size="16" font-style="normal" font-weight="normal" text-anchor="end" fill="#111">−0.4</text>
<line x1="384.2" y1="437.5" x2="384.2" y2="442.0" stroke="#111" stroke-width="1.3" />
<text x="384.2" y="458" font-family="Liberation Sans" font-size="16" font-style="normal" font-weight="normal" text-anchor="middle" fill="#111">0</text>
<line x1="457.0" y1="437.5" x2="457.0" y2="442.0" stroke="#111" stroke-width="1.3" />
<text x="457.0" y="458" font-family="Liberation Sans" font-size="16" font-style="normal" font-weight="normal" text-anchor="middle" fill="#111">40</text>
<line x1="529.8" y1="437.5" x2="529.8" y2="442.0" stroke="#111" stroke-width="1.3" />
<text x="529.8" y="458" font-family="Liberation Sans" font-size="16" font-style="normal" font-weight="normal" text-anchor="middle" fill="#111">80</text>
<text x="459" y="481.5" font-family="Liberation Sans" font-size="16" font-style="normal" font-weight="normal" text-anchor="middle" fill="#111">Time</text>
<line x1="587.7" y1="291.2" x2="587.7" y2="438.1" stroke="#000" stroke-width="1.5" />
<line x1="586.95" y1="437.5" x2="733.5" y2="437.5" stroke="#000" stroke-width="1.3" />
<line x1="583.0" y1="305.79999999999995" x2="587.7" y2="305.79999999999995" stroke="#111" stroke-width="1.3" />
<text x="578.0" y="311.4" font-family="Liberation Sans" font-size="16" font-style="normal" font-weight="normal" text-anchor="end" fill="#111">0.4</text>
<line x1="583.0" y1="335.0" x2="587.7" y2="335.0" stroke="#111" stroke-width="1.3" />
<line x1="583.0" y1="364.2" x2="587.7" y2="364.2" stroke="#111" stroke-width="1.3" />
<text x="578.0" y="369.8" font-family="Liberation Sans" font-size="16" font-style="normal" font-weight="normal" text-anchor="end" fill="#111">0</text>
<line x1="583.0" y1="393.4" x2="587.7" y2="393.4" stroke="#111" stroke-width="1.3" />
<line x1="583.0" y1="422.6" x2="587.7" y2="422.6" stroke="#111" stroke-width="1.3" />
<text x="578.0" y="428.20000000000005" font-family="Liberation Sans" font-size="16" font-style="normal" font-weight="normal" text-anchor="end" fill="#111">−0.4</text>
<line x1="587.7" y1="437.5" x2="587.7" y2="442.0" stroke="#111" stroke-width="1.3" />
<text x="587.7" y="458" font-family="Liberation Sans" font-size="16" font-style="normal" font-weight="normal" text-anchor="middle" fill="#111">0</text>
<line x1="660.5" y1="437.5" x2="660.5" y2="442.0" stroke="#111" stroke-width="1.3" />
<text x="660.5" y="458" font-family="Liberation Sans" font-size="16" font-style="normal" font-weight="normal" text-anchor="middle" fill="#111">40</text>
<line x1="733.3000000000001" y1="437.5" x2="733.3000000000001" y2="442.0" stroke="#111" stroke-width="1.3" />
<text x="733.3000000000001" y="458" font-family="Liberation Sans" font-size="16" font-style="normal" font-weight="normal" text-anchor="middle" fill="#111">80</text>
<text x="662.5" y="481.5" font-family="Liberation Sans" font-size="16" font-style="normal" font-weight="normal" text-anchor="middle" fill="#111">Time</text>
<line x1="790.7" y1="291.2" x2="790.7" y2="438.1" stroke="#000" stroke-width="1.5" />
<line x1="789.95" y1="437.5" x2="936.5" y2="437.5" stroke="#000" stroke-width="1.3" />
<line x1="786.0" y1="305.79999999999995" x2="790.7" y2="305.79999999999995" stroke="#111" stroke-width="1.3" />
<text x="781.0" y="311.4" font-family="Liberation Sans" font-size="16" font-style="normal" font-weight="normal" text-anchor="end" fill="#111">0.4</text>
<line x1="786.0" y1="335.0" x2="790.7" y2="335.0" stroke="#111" stroke-width="1.3" />
<line x1="786.0" y1="364.2" x2="790.7" y2="364.2" stroke="#111" stroke-width="1.3" />
<text x="781.0" y="369.8" font-family="Liberation Sans" font-size="16" font-style="normal" font-weight="normal" text-anchor="end" fill="#111">0</text>
<line x1="786.0" y1="393.4" x2="790.7" y2="393.4" stroke="#111" stroke-width="1.3" />
<line x1="786.0" y1="422.6" x2="790.7" y2="422.6" stroke="#111" stroke-width="1.3" />
<text x="781.0" y="428.20000000000005" font-family="Liberation Sans" font-size="16" font-style="normal" font-weight="normal" text-anchor="end" fill="#111">−0.4</text>
<line x1="790.7" y1="437.5" x2="790.7" y2="442.0" stroke="#111" stroke-width="1.3" />
<text x="790.7" y="458" font-family="Liberation Sans" font-size="16" font-style="normal" font-weight="normal" text-anchor="middle" fill="#111">0</text>
<line x1="863.5" y1="437.5" x2="863.5" y2="442.0" stroke="#111" stroke-width="1.3" />
<text x="863.5" y="458" font-family="Liberation Sans" font-size="16" font-style="normal" font-weight="normal" text-anchor="middle" fill="#111">40</text>
<line x1="936.3000000000001" y1="437.5" x2="936.3000000000001" y2="442.0" stroke="#111" stroke-width="1.3" />
<text x="936.3000000000001" y="458" font-family="Liberation Sans" font-size="16" font-style="normal" font-weight="normal" text-anchor="middle" fill="#111">80</text>
<text x="865.5" y="481.5" font-family="Liberation Sans" font-size="16" font-style="normal" font-weight="normal" text-anchor="middle" fill="#111">Time</text>
<text x="329" y="355" font-family="Liberation Sans" font-size="16" font-style="italic" fill="#111">E<tspan font-size="11" dy="4">z</tspan></text>
<line x1="326.2" y1="362.4" x2="349.4" y2="362.4" stroke="#111" stroke-width="1.3" />
<text x="329" y="383.5" font-family="Liberation Sans" font-size="16" font-style="italic" fill="#111">B<tspan font-size="11" dy="4" font-style="normal">0</tspan></text>
<path d="M442.7,270.0 L438.2,277.2 L442.7,284.4" stroke="#111" stroke-width="1.0" fill="none" />
<text x="444.2" y="281.5" font-family="Liberation Sans" font-size="16" font-style="italic" fill="#111">s<tspan font-family="Liberation Sans" font-size="11" dy="4" dx="0">x</tspan></text>
<path d="M460.2,270.0 L464.7,277.2 L460.2,284.4" stroke="#111" stroke-width="1.0" fill="none" />
<path d="M650.5,270.0 L646.0,277.2 L650.5,284.4" stroke="#111" stroke-width="1.0" fill="none" />
<text x="652.0" y="281.5" font-family="Liberation Sans" font-size="16" font-style="italic" fill="#111">s<tspan font-family="Liberation Sans" font-size="11" dy="4" dx="0">y</tspan></text>
<path d="M668.0,270.0 L672.5,277.2 L668.0,284.4" stroke="#111" stroke-width="1.0" fill="none" />
<path d="M852.3,270.0 L847.8,277.2 L852.3,284.4" stroke="#111" stroke-width="1.0" fill="none" />
<text x="853.8" y="281.5" font-family="Liberation Sans" font-size="16" font-style="italic" fill="#111">s<tspan font-family="Liberation Sans" font-size="11" dy="4" dx="0">z</tspan></text>
<path d="M869.8,270.0 L874.3,277.2 L869.8,284.4" stroke="#111" stroke-width="1.0" fill="none" />
<path d="M78.78,92.85 L78.79,93.03 L78.80,93.21 L78.81,93.39 L78.82,93.57 L78.83,93.74 L78.83,93.92 L78.84,94.10 L78.85,94.28 L78.86,94.46 L78.87,94.64 L78.88,94.82 L78.89,95.00 L78.90,95.18 L78.91,95.35 L78.92,95.53 L78.93,95.71 L78.94,95.89 L78.95,96.07 L78.96,96.25 L78.97,96.43 L78.97,96.61 L78.98,96.79 L78.99,96.96 L79.00,97.14 L79.01,97.32 L79.02,97.50 L79.03,97.68 L79.04,97.86 L79.05,98.04 L79.06,98.22 L79.07,98.40 L79.08,98.58 L79.09,98.75 L79.10,98.93 L79.11,99.11 L79.12,99.29 L79.13,99.47 L79.15,99.65 L79.16,99.83 L79.17,100.01 L79.18,100.19 L79.19,100.36 L79.20,100.54 L79.21,100.72 L79.22,100.90 L79.23,101.08 L79.24,101.26 L79.25,101.44 L79.26,101.62 L79.27,101.80 L79.28,101.97 L79.30,102.15 L79.31,102.33 L79.32,102.51 L79.33,102.69 L79.34,102.87 L79.35,103.05 L79.36,103.23 L79.38,103.41 L79.39,103.58 L79.40,103.76 L79.41,103.94 L79.42,104.12 L79.43,104.30 L79.45,104.48 L79.46,104.66 L79.47,104.84 L79.48,105.02 L79.49,105.19 L79.51,105.37 L79.52,105.55 L79.53,105.73 L79.54,105.91 L79.55,106.09 L79.57,106.27 L79.58,106.45 L79.59,106.63 L79.60,106.81 L79.62,106.98 L79.63,107.16 L79.64,107.34 L79.65,107.52 L79.67,107.70 L79.68,107.88 L79.69,108.06 L79.71,108.24 L79.72,108.42 L79.73,108.59 L79.75,108.77 L79.76,108.95 L79.77,109.13 L79.79,109.31 L79.80,109.49 L79.81,109.67 L79.83,109.85 L79.84,110.03 L79.86,110.20 L79.87,110.38 L79.88,110.56 L79.90,110.74 L79.91,110.92 L79.93,111.10 L79.94,111.28 L79.95,111.46 L79.97,111.64 L79.98,111.81 L80.00,111.99 L80.01,112.17 L80.03,112.35 L80.04,112.53 L80.06,112.71 L80.07,112.89 L80.09,113.07 L80.10,113.25 L80.12,113.42 L80.13,113.60 L80.15,113.78 L80.16,113.96 L80.18,114.14 L80.19,114.32 L80.21,114.50 L80.23,114.68 L80.24,114.86 L80.26,115.03 L80.27,115.21 L80.29,115.39 L80.31,115.57 L80.32,115.75 L80.34,115.93 L80.35,116.11 L80.37,116.29 L80.39,116.47 L80.40,116.65 L80.42,116.82 L80.44,117.00 L80.45,117.18 L80.47,117.36 L80.49,117.54 L80.51,117.72 L80.52,117.90 L80.54,118.08 L80.56,118.26 L80.58,118.43 L80.59,118.61 L80.61,118.79 L80.63,118.97 L80.65,119.15 L80.67,119.33 L80.68,119.51 L80.70,119.69 L80.72,119.87 L80.74,120.04 L80.76,120.22 L80.78,120.40 L80.79,120.58 L80.81,120.76 L80.83,120.94 L80.85,121.12 L80.87,121.30 L80.89,121.48 L80.91,121.65 L80.93,121.83 L80.95,122.01 L80.97,122.19 L80.99,122.37 L81.01,122.55 L81.03,122.73 L81.05,122.91 L81.07,123.09 L81.09,123.26 L81.11,123.44 L81.13,123.62 L81.15,123.80 L81.17,123.98 L81.19,124.16 L81.22,124.34 L81.24,124.52 L81.26,124.70 L81.28,124.88 L81.30,125.05 L81.32,125.23 L81.34,125.41 L81.37,125.59 L81.39,125.77 L81.41,125.95 L81.43,126.13 L81.46,126.31 L81.48,126.49 L81.50,126.66 L81.53,126.84 L81.55,127.02 L81.57,127.20 L81.59,127.38 L81.62,127.56 L81.64,127.74 L81.67,127.92 L81.69,128.10 L81.71,128.27 L81.74,128.45 L81.76,128.63 L81.79,128.81 L81.81,128.99 L81.84,129.17 L81.86,129.35 L81.89,129.53 L81.91,129.71 L81.94,129.88 L81.96,130.06 L81.99,130.24 L82.02,130.42 L82.04,130.60 L82.07,130.78 L82.09,130.96 L82.12,131.14 L82.15,131.32 L82.17,131.49 L82.20,131.67 L82.23,131.85 L82.26,132.03 L82.28,132.21 L82.31,132.39 L82.34,132.57 L82.37,132.75 L82.40,132.93 L82.43,133.10 L82.45,133.28 L82.48,133.46 L82.51,133.64 L82.54,133.82 L82.57,134.00 L82.60,134.18 L82.63,134.36 L82.66,134.54 L82.69,134.72 L82.72,134.89 L82.75,135.07 L82.78,135.25 L82.81,135.43 L82.84,135.61 L82.88,135.79 L82.91,135.97 L82.94,136.15 L82.97,136.33 L83.00,136.50 L83.04,136.68 L83.07,136.86 L83.10,137.04 L83.14,137.22 L83.17,137.40 L83.20,137.58 L83.24,137.76 L83.27,137.94 L83.30,138.11 L83.34,138.29 L83.37,138.47 L83.41,138.65 L83.44,138.83 L83.48,139.01 L83.52,139.19 L83.55,139.37 L83.59,139.55 L83.62,139.72 L83.66,139.90 L83.70,140.08 L83.73,140.26 L83.77,140.44 L83.81,140.62 L83.85,140.80 L83.89,140.98 L83.92,141.16 L83.96,141.33 L84.00,141.51 L84.04,141.69 L84.08,141.87 L84.12,142.05 L84.16,142.23 L84.20,142.41 L84.24,142.59 L84.28,142.77 L84.33,142.94 L84.37,143.12 L84.41,143.30 L84.45,143.48 L84.49,143.66 L84.54,143.84 L84.58,144.02 L84.62,144.20 L84.67,144.38 L84.71,144.56 L84.76,144.73 L84.80,144.91 L84.85,145.09 L84.89,145.27 L84.94,145.45 L84.99,145.63 L85.03,145.81 L85.08,145.99 L85.13,146.17 L85.17,146.34 L85.22,146.52 L85.27,146.70 L85.32,146.88 L85.37,147.06 L85.42,147.24 L85.47,147.42 L85.52,147.60 L85.57,147.78 L85.62,147.95 L85.67,148.13 L85.72,148.31 L85.78,148.49 L85.83,148.67 L85.88,148.85 L85.93,149.03 L85.99,149.21 L86.04,149.39 L86.10,149.56 L86.15,149.74 L86.21,149.92 L86.27,150.10 L86.32,150.28 L86.38,150.46 L86.44,150.64 L86.49,150.82 L86.55,151.00 L86.61,151.17 L86.67,151.35 L86.73,151.53 L86.79,151.71 L86.85,151.89 L86.91,152.07 L86.98,152.25 L87.04,152.43 L87.10,152.61 L87.16,152.79 L87.23,152.96 L87.29,153.14 L87.36,153.32 L87.42,153.50 L87.49,153.68 L87.56,153.86 L87.63,154.04 L87.69,154.22 L87.76,154.40 L87.83,154.57 L87.90,154.75 L87.97,154.93 L88.04,155.11 L88.11,155.29 L88.19,155.47 L88.26,155.65 L88.33,155.83 L88.41,156.01 L88.48,156.18 L88.56,156.36 L88.63,156.54 L88.71,156.72 L88.79,156.90 L88.87,157.08 L88.95,157.26 L89.03,157.44 L89.11,157.62 L89.19,157.79 L89.27,157.97 L89.35,158.15 L89.44,158.33 L89.52,158.51 L89.60,158.69 L89.69,158.87 L89.78,159.05 L89.86,159.23 L89.95,159.40 L90.04,159.58 L90.13,159.76 L90.22,159.94 L90.32,160.12 L90.41,160.30 L90.50,160.48 L90.60,160.66 L90.69,160.84 L90.79,161.01 L90.89,161.19 L90.98,161.37 L91.08,161.55 L91.18,161.73 L91.28,161.91 L91.39,162.09 L91.49,162.27 L91.59,162.45 L91.70,162.63 L91.81,162.80 L91.91,162.98 L92.02,163.16 L92.13,163.34 L92.24,163.52 L92.36,163.70 L92.47,163.88 L92.58,164.06 L92.70,164.24 L92.82,164.41 L92.94,164.59 L93.06,164.77 L93.18,164.95 L93.30,165.13 L93.42,165.31 L93.55,165.49 L93.67,165.67 L93.80,165.85 L93.93,166.02 L94.06,166.20 L94.19,166.38 L94.32,166.56 L94.46,166.74 L94.60,166.92 L94.73,167.10 L94.87,167.28 L95.01,167.46 L95.16,167.63 L95.30,167.81 L95.45,167.99 L95.60,168.17 L95.74,168.35 L95.90,168.53 L96.05,168.71 L96.20,168.89 L96.36,169.07 L96.52,169.24 L96.68,169.42 L96.84,169.60 L97.01,169.78 L97.17,169.96 L97.34,170.14 L97.51,170.32 L97.68,170.50 L97.86,170.68 L98.04,170.86 L98.22,171.03 L98.40,171.21 L98.58,171.39 L98.77,171.57 L98.96,171.75 L99.15,171.93 L99.34,172.11 L99.54,172.29 L99.74,172.47 L99.94,172.64 L100.14,172.82 L100.35,173.00 L100.56,173.18 L100.77,173.36 L100.99,173.54 L101.21,173.72 L101.43,173.90 L101.65,174.08 L101.88,174.25 L102.11,174.43 L102.34,174.61 L102.58,174.79 L102.82,174.97 L103.07,175.15 L103.32,175.33 L103.57,175.51 L103.82,175.69 L104.08,175.86 L104.34,176.04 L104.61,176.22 L104.88,176.40 L105.16,176.58 L105.44,176.76 L105.72,176.94 L106.01,177.12 L106.30,177.30 L106.60,177.47 L106.90,177.65 L107.21,177.83 L107.52,178.01 L107.84,178.19 L108.16,178.37 L108.49,178.55 L108.82,178.73 L109.16,178.91 L109.50,179.08 L109.85,179.26 L110.21,179.44 L110.57,179.62 L110.94,179.80 L111.31,179.98 L111.69,180.16 L112.08,180.34 L112.48,180.52 L112.88,180.70 L113.29,180.87 L113.71,181.05 L114.13,181.23 L114.56,181.41 L115.00,181.59 L115.45,181.77 L115.91,181.95 L116.38,182.13 L116.86,182.31 L117.34,182.48 L117.84,182.66 L118.34,182.84 L118.86,183.02 L119.38,183.20 L119.92,183.38 L120.47,183.56 L121.03,183.74 L121.60,183.92 L122.18,184.09 L122.78,184.27 L123.39,184.45 L124.01,184.63 L124.65,184.81 L125.30,184.99 L125.97,185.17 L126.65,185.35 L127.35,185.53 L128.06,185.70 L128.79,185.88 L129.54,186.06 L130.31,186.24 L131.09,186.42 L131.90,186.60 L132.73,186.78 L133.58,186.96 L134.45,187.14 L135.34,187.31 L136.26,187.49 L137.20,187.67 L138.17,187.85 L139.16,188.03 L140.18,188.21 L141.23,188.39 L142.32,188.57 L143.43,188.75 L144.58,188.93 L145.76,189.10 L146.98,189.28 L148.23,189.46 L149.53,189.64 L150.86,189.82 L152.24,190.00 L153.67,190.18 L155.14,190.36 L156.67,190.54 L158.24,190.71 L159.88,190.89 L161.57,191.07 L163.32,191.25 L165.14,191.43 L167.03,191.61 L168.99,191.79 L171.03,191.97 L173.15,192.15 L175.35,192.32 L177.65,192.50 L180.05,192.68 L182.55,192.86 L185.17,193.04 L187.90,193.22 L190.76,193.40 L193.76,193.58 L196.91,193.76 L200.21,193.93 L203.68,194.11 L207.34,194.29 L211.19,194.47 L215.26,194.65 L219.56,194.83 L224.12,195.01 L228.95,195.19 L234.08,195.37 L239.55,195.54 L245.38,195.72 L251.61,195.90 L258.29,196.08 L265.46,196.26 L273.19,196.44 L281.53,196.62 L290.57,196.80 L293.00,196.84" stroke="#000" stroke-width="1.9" fill="none" stroke-dasharray="4.2,3.3"/>
<path d="M109.34,92.85 L109.37,93.03 L109.40,93.21 L109.42,93.39 L109.45,93.57 L109.48,93.74 L109.50,93.92 L109.53,94.10 L109.56,94.28 L109.59,94.46 L109.61,94.64 L109.64,94.82 L109.67,95.00 L109.70,95.18 L109.72,95.35 L109.75,95.53 L109.78,95.71 L109.81,95.89 L109.84,96.07 L109.87,96.25 L109.90,96.43 L109.92,96.61 L109.95,96.79 L109.98,96.96 L110.01,97.14 L110.04,97.32 L110.07,97.50 L110.10,97.68 L110.13,97.86 L110.16,98.04 L110.19,98.22 L110.22,98.40 L110.25,98.58 L110.28,98.75 L110.31,98.93 L110.34,99.11 L110.37,99.29 L110.40,99.47 L110.44,99.65 L110.47,99.83 L110.50,100.01 L110.53,100.19 L110.56,100.36 L110.59,100.54 L110.63,100.72 L110.66,100.90 L110.69,101.08 L110.72,101.26 L110.76,101.44 L110.79,101.62 L110.82,101.80 L110.85,101.97 L110.89,102.15 L110.92,102.33 L110.95,102.51 L110.99,102.69 L111.02,102.87 L111.06,103.05 L111.09,103.23 L111.13,103.41 L111.16,103.58 L111.19,103.76 L111.23,103.94 L111.26,104.12 L111.30,104.30 L111.34,104.48 L111.37,104.66 L111.41,104.84 L111.44,105.02 L111.48,105.19 L111.52,105.37 L111.55,105.55 L111.59,105.73 L111.63,105.91 L111.66,106.09 L111.70,106.27 L111.74,106.45 L111.77,106.63 L111.81,106.81 L111.85,106.98 L111.89,107.16 L111.93,107.34 L111.96,107.52 L112.00,107.70 L112.04,107.88 L112.08,108.06 L112.12,108.24 L112.16,108.42 L112.20,108.59 L112.24,108.77 L112.28,108.95 L112.32,109.13 L112.36,109.31 L112.40,109.49 L112.44,109.67 L112.48,109.85 L112.52,110.03 L112.57,110.20 L112.61,110.38 L112.65,110.56 L112.69,110.74 L112.73,110.92 L112.78,111.10 L112.82,111.28 L112.86,111.46 L112.91,111.64 L112.95,111.81 L112.99,111.99 L113.04,112.17 L113.08,112.35 L113.12,112.53 L113.17,112.71 L113.21,112.89 L113.26,113.07 L113.30,113.25 L113.35,113.42 L113.40,113.60 L113.44,113.78 L113.49,113.96 L113.53,114.14 L113.58,114.32 L113.63,114.50 L113.68,114.68 L113.72,114.86 L113.77,115.03 L113.82,115.21 L113.87,115.39 L113.92,115.57 L113.96,115.75 L114.01,115.93 L114.06,116.11 L114.11,116.29 L114.16,116.47 L114.21,116.65 L114.26,116.82 L114.31,117.00 L114.36,117.18 L114.41,117.36 L114.47,117.54 L114.52,117.72 L114.57,117.90 L114.62,118.08 L114.67,118.26 L114.73,118.43 L114.78,118.61 L114.83,118.79 L114.89,118.97 L114.94,119.15 L115.00,119.33 L115.05,119.51 L115.10,119.69 L115.16,119.87 L115.22,120.04 L115.27,120.22 L115.33,120.40 L115.38,120.58 L115.44,120.76 L115.50,120.94 L115.55,121.12 L115.61,121.30 L115.67,121.48 L115.73,121.65 L115.79,121.83 L115.85,122.01 L115.91,122.19 L115.97,122.37 L116.03,122.55 L116.09,122.73 L116.15,122.91 L116.21,123.09 L116.27,123.26 L116.33,123.44 L116.39,123.62 L116.46,123.80 L116.52,123.98 L116.58,124.16 L116.65,124.34 L116.71,124.52 L116.77,124.70 L116.84,124.88 L116.90,125.05 L116.97,125.23 L117.03,125.41 L117.10,125.59 L117.17,125.77 L117.23,125.95 L117.30,126.13 L117.37,126.31 L117.44,126.49 L117.51,126.66 L117.58,126.84 L117.64,127.02 L117.71,127.20 L117.78,127.38 L117.86,127.56 L117.93,127.74 L118.00,127.92 L118.07,128.10 L118.14,128.27 L118.22,128.45 L118.29,128.63 L118.36,128.81 L118.44,128.99 L118.51,129.17 L118.59,129.35 L118.66,129.53 L118.74,129.71 L118.81,129.88 L118.89,130.06 L118.97,130.24 L119.05,130.42 L119.13,130.60 L119.20,130.78 L119.28,130.96 L119.36,131.14 L119.44,131.32 L119.52,131.49 L119.61,131.67 L119.69,131.85 L119.77,132.03 L119.85,132.21 L119.94,132.39 L120.02,132.57 L120.10,132.75 L120.19,132.93 L120.28,133.10 L120.36,133.28 L120.45,133.46 L120.54,133.64 L120.62,133.82 L120.71,134.00 L120.80,134.18 L120.89,134.36 L120.98,134.54 L121.07,134.72 L121.16,134.89 L121.25,135.07 L121.35,135.25 L121.44,135.43 L121.53,135.61 L121.63,135.79 L121.72,135.97 L121.82,136.15 L121.91,136.33 L122.01,136.50 L122.11,136.68 L122.21,136.86 L122.31,137.04 L122.41,137.22 L122.51,137.40 L122.61,137.58 L122.71,137.76 L122.81,137.94 L122.91,138.11 L123.02,138.29 L123.12,138.47 L123.23,138.65 L123.33,138.83 L123.44,139.01 L123.55,139.19 L123.65,139.37 L123.76,139.55 L123.87,139.72 L123.98,139.90 L124.09,140.08 L124.20,140.26 L124.32,140.44 L124.43,140.62 L124.54,140.80 L124.66,140.98 L124.77,141.16 L124.89,141.33 L125.01,141.51 L125.13,141.69 L125.25,141.87 L125.37,142.05 L125.49,142.23 L125.61,142.41 L125.73,142.59 L125.85,142.77 L125.98,142.94 L126.10,143.12 L126.23,143.30 L126.36,143.48 L126.48,143.66 L126.61,143.84 L126.74,144.02 L126.87,144.20 L127.01,144.38 L127.14,144.56 L127.27,144.73 L127.41,144.91 L127.54,145.09 L127.68,145.27 L127.82,145.45 L127.96,145.63 L128.10,145.81 L128.24,145.99 L128.38,146.17 L128.52,146.34 L128.67,146.52 L128.81,146.70 L128.96,146.88 L129.10,147.06 L129.25,147.24 L129.40,147.42 L129.55,147.60 L129.71,147.78 L129.86,147.95 L130.01,148.13 L130.17,148.31 L130.33,148.49 L130.48,148.67 L130.64,148.85 L130.80,149.03 L130.97,149.21 L131.13,149.39 L131.29,149.56 L131.46,149.74 L131.63,149.92 L131.80,150.10 L131.97,150.28 L132.14,150.46 L132.31,150.64 L132.48,150.82 L132.66,151.00 L132.84,151.17 L133.01,151.35 L133.19,151.53 L133.37,151.71 L133.56,151.89 L133.74,152.07 L133.93,152.25 L134.12,152.43 L134.30,152.61 L134.49,152.79 L134.69,152.96 L134.88,153.14 L135.08,153.32 L135.27,153.50 L135.47,153.68 L135.67,153.86 L135.88,154.04 L136.08,154.22 L136.29,154.40 L136.49,154.57 L136.70,154.75 L136.91,154.93 L137.13,155.11 L137.34,155.29 L137.56,155.47 L137.78,155.65 L138.00,155.83 L138.22,156.01 L138.44,156.18 L138.67,156.36 L138.90,156.54 L139.13,156.72 L139.36,156.90 L139.60,157.08 L139.84,157.26 L140.08,157.44 L140.32,157.62 L140.56,157.79 L140.81,157.97 L141.06,158.15 L141.31,158.33 L141.56,158.51 L141.81,158.69 L142.07,158.87 L142.33,159.05 L142.59,159.23 L142.86,159.40 L143.13,159.58 L143.40,159.76 L143.67,159.94 L143.95,160.12 L144.22,160.30 L144.51,160.48 L144.79,160.66 L145.08,160.84 L145.36,161.01 L145.66,161.19 L145.95,161.37 L146.25,161.55 L146.55,161.73 L146.85,161.91 L147.16,162.09 L147.47,162.27 L147.78,162.45 L148.10,162.63 L148.42,162.80 L148.74,162.98 L149.07,163.16 L149.40,163.34 L149.73,163.52 L150.07,163.70 L150.41,163.88 L150.75,164.06 L151.10,164.24 L151.45,164.41 L151.81,164.59 L152.17,164.77 L152.53,164.95 L152.89,165.13 L153.26,165.31 L153.64,165.49 L154.02,165.67 L154.40,165.85 L154.79,166.02 L155.18,166.20 L155.57,166.38 L155.97,166.56 L156.38,166.74 L156.79,166.92 L157.20,167.10 L157.62,167.28 L158.04,167.46 L158.47,167.63 L158.90,167.81 L159.34,167.99 L159.79,168.17 L160.23,168.35 L160.69,168.53 L161.15,168.71 L161.61,168.89 L162.08,169.07 L162.56,169.24 L163.04,169.42 L163.53,169.60 L164.02,169.78 L164.52,169.96 L165.02,170.14 L165.54,170.32 L166.05,170.50 L166.58,170.68 L167.11,170.86 L167.65,171.03 L168.19,171.21 L168.74,171.39 L169.30,171.57 L169.87,171.75 L170.44,171.93 L171.02,172.11 L171.61,172.29 L172.21,172.47 L172.81,172.64 L173.43,172.82 L174.05,173.00 L174.68,173.18 L175.31,173.36 L175.96,173.54 L176.62,173.72 L177.28,173.90 L177.95,174.08 L178.64,174.25 L179.33,174.43 L180.03,174.61 L180.75,174.79 L181.47,174.97 L182.20,175.15 L182.95,175.33 L183.70,175.51 L184.47,175.69 L185.25,175.86 L186.03,176.04 L186.84,176.22 L187.65,176.40 L188.47,176.58 L189.31,176.76 L190.16,176.94 L191.03,177.12 L191.91,177.30 L192.80,177.47 L193.70,177.65 L194.62,177.83 L195.56,178.01 L196.51,178.19 L197.48,178.37 L198.46,178.55 L199.46,178.73 L200.47,178.91 L201.50,179.08 L202.55,179.26 L203.62,179.44 L204.71,179.62 L205.81,179.80 L206.94,179.98 L208.08,180.16 L209.24,180.34 L210.43,180.52 L211.64,180.70 L212.87,180.87 L214.12,181.05 L215.39,181.23 L216.69,181.41 L218.01,181.59 L219.36,181.77 L220.74,181.95 L222.14,182.13 L223.57,182.31 L225.02,182.48 L226.51,182.66 L228.02,182.84 L229.57,183.02 L231.15,183.20 L232.76,183.38 L234.40,183.56 L236.08,183.74 L237.79,183.92 L239.54,184.09 L241.33,184.27 L243.16,184.45 L245.03,184.63 L246.94,184.81 L248.90,184.99 L250.90,185.17 L252.94,185.35 L255.04,185.53 L257.18,185.70 L259.37,185.88 L261.62,186.06 L263.92,186.24 L266.28,186.42 L268.70,186.60 L271.18,186.78 L273.73,186.96 L276.34,187.14 L279.02,187.31 L281.77,187.49 L284.59,187.67 L287.50,187.85 L290.48,188.03 L293.00,188.18" stroke="#000" stroke-width="1.9" fill="none" stroke-dasharray="4.2,3.3"/>
<path d="M139.91,92.85 L139.95,93.03 L139.99,93.21 L140.04,93.39 L140.08,93.57 L140.13,93.74 L140.17,93.92 L140.22,94.10 L140.26,94.28 L140.31,94.46 L140.36,94.64 L140.40,94.82 L140.45,95.00 L140.49,95.18 L140.54,95.35 L140.59,95.53 L140.63,95.71 L140.68,95.89 L140.73,96.07 L140.78,96.25 L140.83,96.43 L140.87,96.61 L140.92,96.79 L140.97,96.96 L141.02,97.14 L141.07,97.32 L141.12,97.50 L141.17,97.68 L141.22,97.86 L141.27,98.04 L141.32,98.22 L141.37,98.40 L141.42,98.58 L141.47,98.75 L141.52,98.93 L141.57,99.11 L141.62,99.29 L141.67,99.47 L141.73,99.65 L141.78,99.83 L141.83,100.01 L141.88,100.19 L141.94,100.36 L141.99,100.54 L142.04,100.72 L142.10,100.90 L142.15,101.08 L142.20,101.26 L142.26,101.44 L142.31,101.62 L142.37,101.80 L142.42,101.97 L142.48,102.15 L142.54,102.33 L142.59,102.51 L142.65,102.69 L142.70,102.87 L142.76,103.05 L142.82,103.23 L142.88,103.41 L142.93,103.58 L142.99,103.76 L143.05,103.94 L143.11,104.12 L143.17,104.30 L143.23,104.48 L143.29,104.66 L143.34,104.84 L143.40,105.02 L143.46,105.19 L143.53,105.37 L143.59,105.55 L143.65,105.73 L143.71,105.91 L143.77,106.09 L143.83,106.27 L143.89,106.45 L143.96,106.63 L144.02,106.81 L144.08,106.98 L144.15,107.16 L144.21,107.34 L144.27,107.52 L144.34,107.70 L144.40,107.88 L144.47,108.06 L144.53,108.24 L144.60,108.42 L144.67,108.59 L144.73,108.77 L144.80,108.95 L144.87,109.13 L144.93,109.31 L145.00,109.49 L145.07,109.67 L145.14,109.85 L145.21,110.03 L145.28,110.20 L145.35,110.38 L145.42,110.56 L145.49,110.74 L145.56,110.92 L145.63,111.10 L145.70,111.28 L145.77,111.46 L145.84,111.64 L145.91,111.81 L145.99,111.99 L146.06,112.17 L146.13,112.35 L146.21,112.53 L146.28,112.71 L146.36,112.89 L146.43,113.07 L146.51,113.25 L146.58,113.42 L146.66,113.60 L146.74,113.78 L146.81,113.96 L146.89,114.14 L146.97,114.32 L147.05,114.50 L147.13,114.68 L147.20,114.86 L147.28,115.03 L147.36,115.21 L147.44,115.39 L147.53,115.57 L147.61,115.75 L147.69,115.93 L147.77,116.11 L147.85,116.29 L147.94,116.47 L148.02,116.65 L148.10,116.82 L148.19,117.00 L148.27,117.18 L148.36,117.36 L148.44,117.54 L148.53,117.72 L148.62,117.90 L148.70,118.08 L148.79,118.26 L148.88,118.43 L148.97,118.61 L149.06,118.79 L149.14,118.97 L149.23,119.15 L149.33,119.33 L149.42,119.51 L149.51,119.69 L149.60,119.87 L149.69,120.04 L149.79,120.22 L149.88,120.40 L149.97,120.58 L150.07,120.76 L150.16,120.94 L150.26,121.12 L150.35,121.30 L150.45,121.48 L150.55,121.65 L150.65,121.83 L150.74,122.01 L150.84,122.19 L150.94,122.37 L151.04,122.55 L151.14,122.73 L151.24,122.91 L151.35,123.09 L151.45,123.26 L151.55,123.44 L151.66,123.62 L151.76,123.80 L151.86,123.98 L151.97,124.16 L152.08,124.34 L152.18,124.52 L152.29,124.70 L152.40,124.88 L152.51,125.05 L152.61,125.23 L152.72,125.41 L152.83,125.59 L152.95,125.77 L153.06,125.95 L153.17,126.13 L153.28,126.31 L153.40,126.49 L153.51,126.66 L153.63,126.84 L153.74,127.02 L153.86,127.20 L153.97,127.38 L154.09,127.56 L154.21,127.74 L154.33,127.92 L154.45,128.10 L154.57,128.27 L154.69,128.45 L154.81,128.63 L154.94,128.81 L155.06,128.99 L155.19,129.17 L155.31,129.35 L155.44,129.53 L155.56,129.71 L155.69,129.88 L155.82,130.06 L155.95,130.24 L156.08,130.42 L156.21,130.60 L156.34,130.78 L156.47,130.96 L156.61,131.14 L156.74,131.32 L156.87,131.49 L157.01,131.67 L157.15,131.85 L157.28,132.03 L157.42,132.21 L157.56,132.39 L157.70,132.57 L157.84,132.75 L157.98,132.93 L158.13,133.10 L158.27,133.28 L158.41,133.46 L158.56,133.64 L158.71,133.82 L158.85,134.00 L159.00,134.18 L159.15,134.36 L159.30,134.54 L159.45,134.72 L159.60,134.89 L159.76,135.07 L159.91,135.25 L160.07,135.43 L160.22,135.61 L160.38,135.79 L160.54,135.97 L160.70,136.15 L160.86,136.33 L161.02,136.50 L161.18,136.68 L161.35,136.86 L161.51,137.04 L161.68,137.22 L161.84,137.40 L162.01,137.58 L162.18,137.76 L162.35,137.94 L162.52,138.11 L162.69,138.29 L162.87,138.47 L163.04,138.65 L163.22,138.83 L163.40,139.01 L163.58,139.19 L163.76,139.37 L163.94,139.55 L164.12,139.72 L164.30,139.90 L164.49,140.08 L164.67,140.26 L164.86,140.44 L165.05,140.62 L165.24,140.80 L165.43,140.98 L165.62,141.16 L165.82,141.33 L166.01,141.51 L166.21,141.69 L166.41,141.87 L166.61,142.05 L166.81,142.23 L167.01,142.41 L167.22,142.59 L167.42,142.77 L167.63,142.94 L167.84,143.12 L168.05,143.30 L168.26,143.48 L168.47,143.66 L168.69,143.84 L168.90,144.02 L169.12,144.20 L169.34,144.38 L169.56,144.56 L169.79,144.73 L170.01,144.91 L170.24,145.09 L170.46,145.27 L170.69,145.45 L170.93,145.63 L171.16,145.81 L171.39,145.99 L171.63,146.17 L171.87,146.34 L172.11,146.52 L172.35,146.70 L172.59,146.88 L172.84,147.06 L173.09,147.24 L173.34,147.42 L173.59,147.60 L173.84,147.78 L174.10,147.95 L174.36,148.13 L174.62,148.31 L174.88,148.49 L175.14,148.67 L175.41,148.85 L175.67,149.03 L175.94,149.21 L176.22,149.39 L176.49,149.56 L176.77,149.74 L177.04,149.92 L177.33,150.10 L177.61,150.28 L177.89,150.46 L178.18,150.64 L178.47,150.82 L178.76,151.00 L179.06,151.17 L179.36,151.35 L179.66,151.53 L179.96,151.71 L180.26,151.89 L180.57,152.07 L180.88,152.25 L181.19,152.43 L181.51,152.61 L181.82,152.79 L182.15,152.96 L182.47,153.14 L182.79,153.32 L183.12,153.50 L183.45,153.68 L183.79,153.86 L184.13,154.04 L184.47,154.22 L184.81,154.40 L185.15,154.57 L185.50,154.75 L185.86,154.93 L186.21,155.11 L186.57,155.29 L186.93,155.47 L187.29,155.65 L187.66,155.83 L188.03,156.01 L188.41,156.18 L188.79,156.36 L189.17,156.54 L189.55,156.72 L189.94,156.90 L190.33,157.08 L190.73,157.26 L191.13,157.44 L191.53,157.62 L191.93,157.79 L192.34,157.97 L192.76,158.15 L193.18,158.33 L193.60,158.51 L194.02,158.69 L194.45,158.87 L194.89,159.05 L195.32,159.23 L195.77,159.40 L196.21,159.58 L196.66,159.76 L197.12,159.94 L197.58,160.12 L198.04,160.30 L198.51,160.48 L198.98,160.66 L199.46,160.84 L199.94,161.01 L200.43,161.19 L200.92,161.37 L201.42,161.55 L201.92,161.73 L202.42,161.91 L202.94,162.09 L203.45,162.27 L203.97,162.45 L204.50,162.63 L205.03,162.80 L205.57,162.98 L206.12,163.16 L206.67,163.34 L207.22,163.52 L207.78,163.70 L208.35,163.88 L208.92,164.06 L209.50,164.24 L210.09,164.41 L210.68,164.59 L211.28,164.77 L211.88,164.95 L212.49,165.13 L213.11,165.31 L213.73,165.49 L214.36,165.67 L215.00,165.85 L215.64,166.02 L216.30,166.20 L216.96,166.38 L217.62,166.56 L218.30,166.74 L218.98,166.92 L219.67,167.10 L220.37,167.28 L221.07,167.46 L221.78,167.63 L222.51,167.81 L223.24,167.99 L223.98,168.17 L224.72,168.35 L225.48,168.53 L226.24,168.71 L227.02,168.89 L227.80,169.07 L228.59,169.24 L229.40,169.42 L230.21,169.60 L231.03,169.78 L231.86,169.96 L232.71,170.14 L233.56,170.32 L234.42,170.50 L235.30,170.68 L236.18,170.86 L237.08,171.03 L237.99,171.21 L238.91,171.39 L239.84,171.57 L240.78,171.75 L241.74,171.93 L242.71,172.11 L243.69,172.29 L244.68,172.47 L245.69,172.64 L246.71,172.82 L247.75,173.00 L248.79,173.18 L249.86,173.36 L250.93,173.54 L252.03,173.72 L253.13,173.90 L254.26,174.08 L255.40,174.25 L256.55,174.43 L257.72,174.61 L258.91,174.79 L260.11,174.97 L261.34,175.15 L262.58,175.33 L263.84,175.51 L265.11,175.69 L266.41,175.86 L267.72,176.04 L269.06,176.22 L270.41,176.40 L271.79,176.58 L273.19,176.76 L274.61,176.94 L276.05,177.12 L277.51,177.30 L279.00,177.47 L280.51,177.65 L282.04,177.83 L283.60,178.01 L285.18,178.19 L286.79,178.37 L288.43,178.55 L290.09,178.73 L291.79,178.91 L293.00,179.03" stroke="#000" stroke-width="1.9" fill="none" stroke-dasharray="4.2,3.3"/>
<path d="M170.47,92.85 L170.53,93.03 L170.59,93.21 L170.66,93.39 L170.72,93.57 L170.78,93.74 L170.84,93.92 L170.91,94.10 L170.97,94.28 L171.03,94.46 L171.10,94.64 L171.16,94.82 L171.23,95.00 L171.29,95.18 L171.36,95.35 L171.42,95.53 L171.49,95.71 L171.56,95.89 L171.62,96.07 L171.69,96.25 L171.76,96.43 L171.82,96.61 L171.89,96.79 L171.96,96.96 L172.03,97.14 L172.10,97.32 L172.16,97.50 L172.23,97.68 L172.30,97.86 L172.37,98.04 L172.44,98.22 L172.51,98.40 L172.58,98.58 L172.66,98.75 L172.73,98.93 L172.80,99.11 L172.87,99.29 L172.94,99.47 L173.02,99.65 L173.09,99.83 L173.16,100.01 L173.24,100.19 L173.31,100.36 L173.39,100.54 L173.46,100.72 L173.54,100.90 L173.61,101.08 L173.69,101.26 L173.76,101.44 L173.84,101.62 L173.92,101.80 L173.99,101.97 L174.07,102.15 L174.15,102.33 L174.23,102.51 L174.31,102.69 L174.39,102.87 L174.47,103.05 L174.55,103.23 L174.63,103.41 L174.71,103.58 L174.79,103.76 L174.87,103.94 L174.95,104.12 L175.03,104.30 L175.12,104.48 L175.20,104.66 L175.28,104.84 L175.37,105.02 L175.45,105.19 L175.54,105.37 L175.62,105.55 L175.71,105.73 L175.79,105.91 L175.88,106.09 L175.97,106.27 L176.05,106.45 L176.14,106.63 L176.23,106.81 L176.32,106.98 L176.41,107.16 L176.49,107.34 L176.58,107.52 L176.68,107.70 L176.77,107.88 L176.86,108.06 L176.95,108.24 L177.04,108.42 L177.13,108.59 L177.23,108.77 L177.32,108.95 L177.41,109.13 L177.51,109.31 L177.60,109.49 L177.70,109.67 L177.79,109.85 L177.89,110.03 L177.99,110.20 L178.08,110.38 L178.18,110.56 L178.28,110.74 L178.38,110.92 L178.48,111.10 L178.58,111.28 L178.68,111.46 L178.78,111.64 L178.88,111.81 L178.98,111.99 L179.09,112.17 L179.19,112.35 L179.29,112.53 L179.40,112.71 L179.50,112.89 L179.60,113.07 L179.71,113.25 L179.82,113.42 L179.92,113.60 L180.03,113.78 L180.14,113.96 L180.25,114.14 L180.36,114.32 L180.47,114.50 L180.58,114.68 L180.69,114.86 L180.80,115.03 L180.91,115.21 L181.02,115.39 L181.14,115.57 L181.25,115.75 L181.36,115.93 L181.48,116.11 L181.59,116.29 L181.71,116.47 L181.83,116.65 L181.94,116.82 L182.06,117.00 L182.18,117.18 L182.30,117.36 L182.42,117.54 L182.54,117.72 L182.66,117.90 L182.78,118.08 L182.91,118.26 L183.03,118.43 L183.15,118.61 L183.28,118.79 L183.40,118.97 L183.53,119.15 L183.66,119.33 L183.78,119.51 L183.91,119.69 L184.04,119.87 L184.17,120.04 L184.30,120.22 L184.43,120.40 L184.56,120.58 L184.69,120.76 L184.83,120.94 L184.96,121.12 L185.10,121.30 L185.23,121.48 L185.37,121.65 L185.50,121.83 L185.64,122.01 L185.78,122.19 L185.92,122.37 L186.06,122.55 L186.20,122.73 L186.34,122.91 L186.49,123.09 L186.63,123.26 L186.77,123.44 L186.92,123.62 L187.06,123.80 L187.21,123.98 L187.36,124.16 L187.51,124.34 L187.65,124.52 L187.80,124.70 L187.96,124.88 L188.11,125.05 L188.26,125.23 L188.41,125.41 L188.57,125.59 L188.72,125.77 L188.88,125.95 L189.04,126.13 L189.20,126.31 L189.35,126.49 L189.51,126.66 L189.68,126.84 L189.84,127.02 L190.00,127.20 L190.16,127.38 L190.33,127.56 L190.50,127.74 L190.66,127.92 L190.83,128.10 L191.00,128.27 L191.17,128.45 L191.34,128.63 L191.51,128.81 L191.69,128.99 L191.86,129.17 L192.03,129.35 L192.21,129.53 L192.39,129.71 L192.57,129.88 L192.75,130.06 L192.93,130.24 L193.11,130.42 L193.29,130.60 L193.48,130.78 L193.66,130.96 L193.85,131.14 L194.03,131.32 L194.22,131.49 L194.41,131.67 L194.60,131.85 L194.80,132.03 L194.99,132.21 L195.18,132.39 L195.38,132.57 L195.58,132.75 L195.78,132.93 L195.98,133.10 L196.18,133.28 L196.38,133.46 L196.58,133.64 L196.79,133.82 L196.99,134.00 L197.20,134.18 L197.41,134.36 L197.62,134.54 L197.83,134.72 L198.05,134.89 L198.26,135.07 L198.48,135.25 L198.69,135.43 L198.91,135.61 L199.13,135.79 L199.35,135.97 L199.58,136.15 L199.80,136.33 L200.03,136.50 L200.25,136.68 L200.48,136.86 L200.71,137.04 L200.95,137.22 L201.18,137.40 L201.41,137.58 L201.65,137.76 L201.89,137.94 L202.13,138.11 L202.37,138.29 L202.62,138.47 L202.86,138.65 L203.11,138.83 L203.36,139.01 L203.61,139.19 L203.86,139.37 L204.11,139.55 L204.37,139.72 L204.62,139.90 L204.88,140.08 L205.14,140.26 L205.41,140.44 L205.67,140.62 L205.94,140.80 L206.20,140.98 L206.47,141.16 L206.75,141.33 L207.02,141.51 L207.30,141.69 L207.57,141.87 L207.85,142.05 L208.13,142.23 L208.42,142.41 L208.70,142.59 L208.99,142.77 L209.28,142.94 L209.57,143.12 L209.87,143.30 L210.16,143.48 L210.46,143.66 L210.76,143.84 L211.07,144.02 L211.37,144.20 L211.68,144.38 L211.99,144.56 L212.30,144.73 L212.62,144.91 L212.93,145.09 L213.25,145.27 L213.57,145.45 L213.90,145.63 L214.22,145.81 L214.55,145.99 L214.88,146.17 L215.22,146.34 L215.55,146.52 L215.89,146.70 L216.23,146.88 L216.58,147.06 L216.92,147.24 L217.27,147.42 L217.62,147.60 L217.98,147.78 L218.34,147.95 L218.70,148.13 L219.06,148.31 L219.43,148.49 L219.80,148.67 L220.17,148.85 L220.54,149.03 L220.92,149.21 L221.30,149.39 L221.69,149.56 L222.07,149.74 L222.46,149.92 L222.86,150.10 L223.25,150.28 L223.65,150.46 L224.05,150.64 L224.46,150.82 L224.87,151.00 L225.28,151.17 L225.70,151.35 L226.12,151.53 L226.54,151.71 L226.97,151.89 L227.40,152.07 L227.83,152.25 L228.27,152.43 L228.71,152.61 L229.15,152.79 L229.60,152.96 L230.06,153.14 L230.51,153.32 L230.97,153.50 L231.44,153.68 L231.90,153.86 L232.38,154.04 L232.85,154.22 L233.33,154.40 L233.82,154.57 L234.30,154.75 L234.80,154.93 L235.29,155.11 L235.80,155.29 L236.30,155.47 L236.81,155.65 L237.33,155.83 L237.85,156.01 L238.37,156.18 L238.90,156.36 L239.43,156.54 L239.97,156.72 L240.52,156.90 L241.06,157.08 L241.62,157.26 L242.18,157.44 L242.74,157.62 L243.31,157.79 L243.88,157.97 L244.46,158.15 L245.05,158.33 L245.64,158.51 L246.23,158.69 L246.83,158.87 L247.44,159.05 L248.05,159.23 L248.67,159.40 L249.30,159.58 L249.93,159.76 L250.56,159.94 L251.21,160.12 L251.86,160.30 L252.51,160.48 L253.17,160.66 L253.84,160.84 L254.52,161.01 L255.20,161.19 L255.89,161.37 L256.58,161.55 L257.28,161.73 L257.99,161.91 L258.71,162.09 L259.43,162.27 L260.16,162.45 L260.90,162.63 L261.65,162.80 L262.40,162.98 L263.16,163.16 L263.93,163.34 L264.71,163.52 L265.50,163.70 L266.29,163.88 L267.09,164.06 L267.90,164.24 L268.72,164.41 L269.55,164.59 L270.39,164.77 L271.23,164.95 L272.09,165.13 L272.95,165.31 L273.82,165.49 L274.71,165.67 L275.60,165.85 L276.50,166.02 L277.42,166.20 L278.34,166.38 L279.27,166.56 L280.22,166.74 L281.17,166.92 L282.14,167.10 L283.11,167.28 L284.10,167.46 L285.10,167.63 L286.11,167.81 L287.13,167.99 L288.17,168.17 L289.21,168.35 L290.27,168.53 L291.34,168.71 L292.43,168.89 L293.00,168.98" stroke="#000" stroke-width="1.9" fill="none" stroke-dasharray="4.2,3.3"/>
<path d="M201.03,92.85 L201.11,93.03 L201.19,93.21 L201.27,93.39 L201.35,93.57 L201.43,93.74 L201.51,93.92 L201.59,94.10 L201.68,94.28 L201.76,94.46 L201.84,94.64 L201.92,94.82 L202.01,95.00 L202.09,95.18 L202.17,95.35 L202.26,95.53 L202.34,95.71 L202.43,95.89 L202.51,96.07 L202.60,96.25 L202.69,96.43 L202.77,96.61 L202.86,96.79 L202.95,96.96 L203.03,97.14 L203.12,97.32 L203.21,97.50 L203.30,97.68 L203.39,97.86 L203.48,98.04 L203.57,98.22 L203.66,98.40 L203.75,98.58 L203.84,98.75 L203.93,98.93 L204.03,99.11 L204.12,99.29 L204.21,99.47 L204.31,99.65 L204.40,99.83 L204.49,100.01 L204.59,100.19 L204.69,100.36 L204.78,100.54 L204.88,100.72 L204.97,100.90 L205.07,101.08 L205.17,101.26 L205.27,101.44 L205.37,101.62 L205.46,101.80 L205.56,101.97 L205.66,102.15 L205.76,102.33 L205.86,102.51 L205.97,102.69 L206.07,102.87 L206.17,103.05 L206.27,103.23 L206.38,103.41 L206.48,103.58 L206.58,103.76 L206.69,103.94 L206.79,104.12 L206.90,104.30 L207.01,104.48 L207.11,104.66 L207.22,104.84 L207.33,105.02 L207.44,105.19 L207.55,105.37 L207.66,105.55 L207.77,105.73 L207.88,105.91 L207.99,106.09 L208.10,106.27 L208.21,106.45 L208.32,106.63 L208.44,106.81 L208.55,106.98 L208.66,107.16 L208.78,107.34 L208.89,107.52 L209.01,107.70 L209.13,107.88 L209.24,108.06 L209.36,108.24 L209.48,108.42 L209.60,108.59 L209.72,108.77 L209.84,108.95 L209.96,109.13 L210.08,109.31 L210.20,109.49 L210.33,109.67 L210.45,109.85 L210.57,110.03 L210.70,110.20 L210.82,110.38 L210.95,110.56 L211.07,110.74 L211.20,110.92 L211.33,111.10 L211.46,111.28 L211.59,111.46 L211.72,111.64 L211.85,111.81 L211.98,111.99 L212.11,112.17 L212.24,112.35 L212.37,112.53 L212.51,112.71 L212.64,112.89 L212.78,113.07 L212.91,113.25 L213.05,113.42 L213.19,113.60 L213.33,113.78 L213.46,113.96 L213.60,114.14 L213.74,114.32 L213.88,114.50 L214.03,114.68 L214.17,114.86 L214.31,115.03 L214.46,115.21 L214.60,115.39 L214.75,115.57 L214.89,115.75 L215.04,115.93 L215.19,116.11 L215.33,116.29 L215.48,116.47 L215.63,116.65 L215.78,116.82 L215.94,117.00 L216.09,117.18 L216.24,117.36 L216.40,117.54 L216.55,117.72 L216.71,117.90 L216.86,118.08 L217.02,118.26 L217.18,118.43 L217.34,118.61 L217.50,118.79 L217.66,118.97 L217.82,119.15 L217.99,119.33 L218.15,119.51 L218.31,119.69 L218.48,119.87 L218.65,120.04 L218.81,120.22 L218.98,120.40 L219.15,120.58 L219.32,120.76 L219.49,120.94 L219.66,121.12 L219.84,121.30 L220.01,121.48 L220.19,121.65 L220.36,121.83 L220.54,122.01 L220.72,122.19 L220.90,122.37 L221.08,122.55 L221.26,122.73 L221.44,122.91 L221.62,123.09 L221.81,123.26 L221.99,123.44 L222.18,123.62 L222.37,123.80 L222.56,123.98 L222.75,124.16 L222.94,124.34 L223.13,124.52 L223.32,124.70 L223.51,124.88 L223.71,125.05 L223.91,125.23 L224.10,125.41 L224.30,125.59 L224.50,125.77 L224.70,125.95 L224.91,126.13 L225.11,126.31 L225.31,126.49 L225.52,126.66 L225.73,126.84 L225.93,127.02 L226.14,127.20 L226.35,127.38 L226.57,127.56 L226.78,127.74 L226.99,127.92 L227.21,128.10 L227.43,128.27 L227.65,128.45 L227.87,128.63 L228.09,128.81 L228.31,128.99 L228.53,129.17 L228.76,129.35 L228.99,129.53 L229.21,129.71 L229.44,129.88 L229.67,130.06 L229.91,130.24 L230.14,130.42 L230.38,130.60 L230.61,130.78 L230.85,130.96 L231.09,131.14 L231.33,131.32 L231.57,131.49 L231.82,131.67 L232.06,131.85 L232.31,132.03 L232.56,132.21 L232.81,132.39 L233.06,132.57 L233.31,132.75 L233.57,132.93 L233.83,133.10 L234.08,133.28 L234.34,133.46 L234.61,133.64 L234.87,133.82 L235.14,134.00 L235.40,134.18 L235.67,134.36 L235.94,134.54 L236.21,134.72 L236.49,134.89 L236.76,135.07 L237.04,135.25 L237.32,135.43 L237.60,135.61 L237.88,135.79 L238.17,135.97 L238.46,136.15 L238.74,136.33 L239.03,136.50 L239.33,136.68 L239.62,136.86 L239.92,137.04 L240.22,137.22 L240.52,137.40 L240.82,137.58 L241.12,137.76 L241.43,137.94 L241.74,138.11 L242.05,138.29 L242.36,138.47 L242.68,138.65 L242.99,138.83 L243.31,139.01 L243.64,139.19 L243.96,139.37 L244.29,139.55 L244.61,139.72 L244.94,139.90 L245.28,140.08 L245.61,140.26 L245.95,140.44 L246.29,140.62 L246.63,140.80 L246.98,140.98 L247.32,141.16 L247.67,141.33 L248.03,141.51 L248.38,141.69 L248.74,141.87 L249.10,142.05 L249.46,142.23 L249.82,142.41 L250.19,142.59 L250.56,142.77 L250.93,142.94 L251.31,143.12 L251.69,143.30 L252.07,143.48 L252.45,143.66 L252.84,143.84 L253.23,144.02 L253.62,144.20 L254.02,144.38 L254.41,144.56 L254.82,144.73 L255.22,144.91 L255.63,145.09 L256.04,145.27 L256.45,145.45 L256.87,145.63 L257.29,145.81 L257.71,145.99 L258.13,146.17 L258.56,146.34 L259.00,146.52 L259.43,146.70 L259.87,146.88 L260.31,147.06 L260.76,147.24 L261.21,147.42 L261.66,147.60 L262.12,147.78 L262.58,147.95 L263.04,148.13 L263.51,148.31 L263.98,148.49 L264.45,148.67 L264.93,148.85 L265.41,149.03 L265.90,149.21 L266.39,149.39 L266.88,149.56 L267.38,149.74 L267.88,149.92 L268.39,150.10 L268.90,150.28 L269.41,150.46 L269.93,150.64 L270.45,150.82 L270.98,151.00 L271.51,151.17 L272.04,151.35 L272.58,151.53 L273.12,151.71 L273.67,151.89 L274.23,152.07 L274.78,152.25 L275.35,152.43 L275.91,152.61 L276.48,152.79 L277.06,152.96 L277.64,153.14 L278.23,153.32 L278.82,153.50 L279.42,153.68 L280.02,153.86 L280.63,154.04 L281.24,154.22 L281.86,154.40 L282.48,154.57 L283.11,154.75 L283.74,154.93 L284.38,155.11 L285.02,155.29 L285.67,155.47 L286.33,155.65 L286.99,155.83 L287.66,156.01 L288.33,156.18 L289.01,156.36 L289.70,156.54 L290.39,156.72 L291.09,156.90 L291.80,157.08 L292.51,157.26 L293.00,157.38" stroke="#000" stroke-width="1.9" fill="none" stroke-dasharray="4.2,3.3"/>
<line x1="63.5" y1="158.6" x2="293" y2="158.6" stroke="#000" stroke-width="1.5" stroke-dasharray="4.2,3.3"/>
<path d="M63.20,12.60 L64.42,13.77 L65.65,17.21 L66.87,22.68 L68.09,29.80 L69.32,38.10 L70.54,47.00 L71.76,55.91 L72.99,64.21 L74.21,71.33 L75.43,76.80 L76.66,80.24 L77.88,81.41 L79.39,80.38 L80.90,77.36 L82.42,72.56 L83.93,66.31 L85.44,59.03 L86.95,51.21 L88.46,43.40 L89.97,36.12 L91.48,29.86 L93.00,25.06 L94.51,22.05 L96.02,21.02 L97.15,21.97 L98.27,24.74 L99.40,29.17 L100.53,34.93 L101.66,41.63 L102.78,48.83 L103.91,56.03 L105.04,62.74 L106.17,68.50 L107.29,72.92 L108.42,75.70 L109.55,76.65 L110.82,75.73 L112.09,73.05 L113.36,68.77 L114.63,63.20 L115.91,56.71 L117.18,49.75 L118.45,42.79 L119.72,36.30 L120.99,30.73 L122.26,26.45 L123.53,23.76 L124.81,22.85 L126.17,23.66 L127.54,26.04 L128.91,29.82 L130.27,34.74 L131.64,40.48 L133.01,46.64 L134.38,52.80 L135.74,58.53 L137.11,63.46 L138.48,67.24 L139.85,69.62 L141.21,70.43 L142.75,69.69 L144.28,67.53 L145.82,64.10 L147.36,59.63 L148.89,54.42 L150.43,48.83 L151.96,43.25 L153.50,38.04 L155.03,33.56 L156.57,30.13 L158.10,27.98 L159.64,27.24 L160.81,27.93 L161.99,29.96 L163.16,33.19 L164.34,37.40 L165.52,42.30 L166.69,47.55 L167.87,52.81 L169.04,57.71 L170.22,61.92 L171.39,65.14 L172.57,67.17 L173.74,67.87 L175.33,67.24 L176.91,65.39 L178.49,62.45 L180.08,58.62 L181.66,54.17 L183.24,49.38 L184.83,44.60 L186.41,40.14 L187.99,36.31 L189.58,33.38 L191.16,31.53 L192.74,30.90 L193.87,31.47 L195.00,33.16 L196.13,35.83 L197.25,39.32 L198.38,43.38 L199.51,47.74 L200.64,52.09 L201.76,56.15 L202.89,59.64 L204.02,62.32 L205.15,64.00 L206.27,64.57 L207.59,64.03 L208.91,62.44 L210.23,59.91 L211.55,56.61 L212.87,52.77 L214.19,48.65 L215.51,44.53 L216.83,40.69 L218.15,37.39 L219.47,34.86 L220.79,33.27 L222.11,32.73 L223.57,33.20 L225.03,34.59 L226.50,36.80 L227.96,39.68 L229.42,43.04 L230.89,46.64 L232.35,50.24 L233.81,53.59 L235.28,56.47 L236.74,58.68 L238.20,60.07 L239.67,60.55 L240.67,60.17 L241.68,59.05 L242.69,57.28 L243.70,54.96 L244.71,52.27 L245.71,49.38 L246.72,46.49 L247.73,43.80 L248.74,41.49 L249.74,39.72 L250.75,38.60 L251.76,38.22 L253.46,38.56 L255.16,39.57 L256.87,41.17 L258.57,43.25 L260.27,45.68 L261.98,48.29 L263.68,50.89 L265.38,53.32 L267.09,55.40 L268.79,57.00 L270.49,58.01 L272.20,58.35 L273.90,58.01 L275.60,57.00 L277.31,55.40 L279.01,53.32 L280.71,50.89 L282.42,48.29 L284.12,45.68 L285.82,43.25 L287.53,41.17 L289.23,39.57 L290.93,38.56 L292.64,38.22 L292.71,38.22 L292.78,38.22 L292.85,38.22 L292.92,38.22 L293.00,38.22 L293.07,38.22 L293.14,38.22 L293.21,38.22 L293.28,38.22 L293.36,38.22 L293.43,38.22 L293.50,38.22" stroke="#c0504a" stroke-width="2.4" fill="none" stroke-dasharray="0.5,6.3" stroke-linecap="round" stroke-linejoin="round"/>
<path d="M63.20,12.60 L63.92,13.06 L64.64,14.41 L65.36,16.57 L66.08,19.37 L66.80,22.64 L67.52,26.14 L68.24,29.65 L68.96,32.91 L69.68,35.72 L70.40,37.87 L71.12,39.22 L71.84,39.68 L72.75,39.28 L73.66,38.11 L74.57,36.25 L75.48,33.83 L76.39,31.00 L77.31,27.97 L78.22,24.94 L79.13,22.12 L80.04,19.69 L80.95,17.83 L81.86,16.66 L82.78,16.26 L83.50,16.65 L84.21,17.80 L84.93,19.64 L85.65,22.02 L86.37,24.81 L87.09,27.79 L87.81,30.77 L88.53,33.55 L89.25,35.94 L89.97,37.77 L90.69,38.93 L91.41,39.32 L92.34,38.98 L93.26,37.99 L94.18,36.42 L95.11,34.38 L96.03,31.99 L96.95,29.44 L97.88,26.88 L98.80,24.50 L99.72,22.45 L100.65,20.88 L101.57,19.89 L102.49,19.55 L103.35,19.95 L104.20,21.10 L105.05,22.93 L105.90,25.32 L106.75,28.10 L107.60,31.08 L108.46,34.07 L109.31,36.85 L110.16,39.24 L111.01,41.07 L111.86,42.22 L112.71,42.61 L113.48,42.29 L114.25,41.36 L115.02,39.88 L115.79,37.95 L116.55,35.69 L117.32,33.28 L118.09,30.86 L118.86,28.61 L119.62,26.68 L120.39,25.20 L121.16,24.26 L121.93,23.95 L122.74,24.28 L123.56,25.25 L124.37,26.79 L125.19,28.80 L126.00,31.13 L126.82,33.65 L127.64,36.16 L128.45,38.49 L129.27,40.50 L130.08,42.04 L130.90,43.01 L131.71,43.34 L132.39,43.04 L133.06,42.17 L133.73,40.77 L134.40,38.95 L135.07,36.83 L135.74,34.56 L136.42,32.29 L137.09,30.17 L137.76,28.35 L138.43,26.95 L139.10,26.08 L139.77,25.78 L140.66,26.09 L141.55,27.00 L142.44,28.46 L143.33,30.35 L144.21,32.56 L145.10,34.93 L145.99,37.29 L146.88,39.50 L147.76,41.40 L148.65,42.85 L149.54,43.76 L150.43,44.08 L151.22,43.79 L152.01,42.95 L152.80,41.61 L153.59,39.87 L154.38,37.84 L155.18,35.66 L155.97,33.48 L156.76,31.45 L157.55,29.71 L158.34,28.37 L159.13,27.53 L159.93,27.24 L160.74,27.54 L161.56,28.42 L162.37,29.81 L163.19,31.63 L164.00,33.75 L164.82,36.02 L165.64,38.30 L166.45,40.42 L167.27,42.24 L168.08,43.63 L168.90,44.51 L169.71,44.81 L170.46,44.55 L171.20,43.80 L171.94,42.61 L172.69,41.06 L173.43,39.25 L174.18,37.31 L174.92,35.36 L175.66,33.55 L176.41,32.00 L177.15,30.81 L177.89,30.06 L178.64,29.80 L179.48,30.06 L180.32,30.81 L181.16,32.00 L182.00,33.55 L182.84,35.36 L183.68,37.30 L184.52,39.25 L185.35,41.06 L186.19,42.61 L187.03,43.80 L187.87,44.55 L188.71,44.81 L189.46,44.60 L190.20,43.97 L190.94,42.99 L191.69,41.70 L192.43,40.20 L193.18,38.59 L193.92,36.98 L194.66,35.48 L195.41,34.19 L196.15,33.20 L196.89,32.58 L197.64,32.36 L198.55,32.59 L199.46,33.25 L200.37,34.29 L201.28,35.66 L202.20,37.25 L203.11,38.95 L204.02,40.66 L204.93,42.25 L205.84,43.61 L206.75,44.66 L207.67,45.32 L208.58,45.54 L209.49,45.32 L210.40,44.68 L211.31,43.66 L212.22,42.34 L213.13,40.79 L214.05,39.14 L214.96,37.48 L215.87,35.93 L216.78,34.61 L217.69,33.59 L218.60,32.95 L219.52,32.73 L220.50,32.92 L221.48,33.49 L222.47,34.39 L223.45,35.57 L224.43,36.93 L225.42,38.40 L226.40,39.87 L227.38,41.24 L228.37,42.41 L229.35,43.32 L230.34,43.88 L231.32,44.08 L231.89,43.93 L232.47,43.51 L233.05,42.84 L233.62,41.97 L234.20,40.96 L234.77,39.87 L235.35,38.78 L235.93,37.76 L236.50,36.89 L237.08,36.22 L237.65,35.80 L238.23,35.66 L239.21,35.85 L240.20,36.39 L241.18,37.27 L242.16,38.40 L243.15,39.73 L244.13,41.15 L245.11,42.57 L246.10,43.89 L247.08,45.03 L248.06,45.90 L249.05,46.45 L250.03,46.64 L250.65,46.47 L251.28,45.98 L251.90,45.19 L252.53,44.17 L253.15,42.98 L253.77,41.70 L254.40,40.42 L255.02,39.23 L255.64,38.20 L256.27,37.42 L256.89,36.92 L257.52,36.76 L258.45,36.94 L259.39,37.47 L260.32,38.31 L261.26,39.41 L262.19,40.69 L263.13,42.06 L264.06,43.44 L265.00,44.72 L265.94,45.82 L266.87,46.66 L267.81,47.19 L268.74,47.37 L269.44,47.21 L270.13,46.76 L270.83,46.03 L271.53,45.08 L272.22,43.98 L272.92,42.80 L273.61,41.61 L274.31,40.51 L275.00,39.56 L275.70,38.83 L276.40,38.38 L277.09,38.22 L278.34,38.34 L279.59,38.71 L280.83,39.29 L282.08,40.05 L283.33,40.93 L284.58,41.88 L285.82,42.83 L287.07,43.71 L288.32,44.47 L289.57,45.05 L290.81,45.42 L292.06,45.54 L292.18,45.53 L292.30,45.52 L292.42,45.49 L292.54,45.45 L292.66,45.40 L292.78,45.36 L292.90,45.31 L293.02,45.27 L293.14,45.23 L293.26,45.20 L293.38,45.18 L293.50,45.17" stroke="#1c1ca8" stroke-width="2.1" fill="none" stroke-dasharray="4.0,2.6" stroke-linecap="butt" stroke-linejoin="round"/>
<path d="M63.20,12.60 L63.40,13.13 L63.67,13.80 L63.98,14.58 L64.33,15.48 L64.71,16.48 L65.08,17.56 L65.45,18.71 L65.79,19.92 L66.11,21.22 L66.43,22.63 L66.74,24.13 L67.05,25.71 L67.37,27.34 L67.69,29.00 L68.03,30.69 L68.38,32.36 L68.74,34.10 L69.10,35.93 L69.46,37.82 L69.83,39.73 L70.22,41.61 L70.63,43.41 L71.07,45.10 L71.55,46.64 L72.07,48.11 L72.62,49.60 L73.21,51.04 L73.82,52.38 L74.45,53.55 L75.07,54.49 L75.69,55.13 L76.30,55.42 L76.88,55.29 L77.45,54.76 L78.01,53.92 L78.57,52.86 L79.15,51.66 L79.75,50.41 L80.38,49.20 L81.05,48.10 L81.76,47.06 L82.52,45.97 L83.31,44.83 L84.12,43.69 L84.94,42.54 L85.76,41.42 L86.58,40.34 L87.38,39.32 L88.18,38.36 L89.01,37.44 L89.83,36.56 L90.66,35.70 L91.47,34.86 L92.25,34.03 L93.01,33.20 L93.71,32.36 L94.38,31.45 L94.99,30.43 L95.58,29.37 L96.14,28.34 L96.69,27.40 L97.23,26.62 L97.77,26.05 L98.32,25.78 L98.87,25.74 L99.39,25.87 L99.91,26.17 L100.43,26.65 L100.95,27.31 L101.49,28.18 L102.05,29.25 L102.64,30.53 L103.28,32.16 L103.96,34.18 L104.68,36.47 L105.40,38.93 L106.12,41.43 L106.83,43.87 L107.49,46.13 L108.11,48.10 L108.66,49.93 L109.17,51.79 L109.64,53.60 L110.10,55.28 L110.54,56.76 L111.00,57.93 L111.48,58.74 L111.99,59.08 L112.55,58.94 L113.12,58.37 L113.71,57.43 L114.31,56.20 L114.92,54.73 L115.53,53.09 L116.14,51.35 L116.74,49.57 L117.37,47.54 L118.01,45.14 L118.67,42.50 L119.33,39.75 L119.97,37.04 L120.57,34.51 L121.14,32.30 L121.64,30.53 L122.06,29.18 L122.40,28.07 L122.70,27.21 L122.96,26.55 L123.22,26.10 L123.50,25.83 L123.83,25.73 L124.23,25.78 L124.69,26.04 L125.19,26.56 L125.72,27.29 L126.27,28.18 L126.85,29.18 L127.45,30.25 L128.07,31.32 L128.69,32.36 L129.33,33.44 L129.98,34.61 L130.64,35.86 L131.33,37.14 L132.03,38.42 L132.76,39.66 L133.52,40.83 L134.31,41.88 L135.14,42.83 L136.02,43.73 L136.94,44.57 L137.88,45.37 L138.82,46.11 L139.75,46.81 L140.65,47.48 L141.50,48.10 L142.32,48.74 L143.12,49.40 L143.91,50.04 L144.68,50.63 L145.43,51.12 L146.15,51.47 L146.86,51.65 L147.55,51.62 L148.20,51.36 L148.83,50.94 L149.42,50.35 L150.00,49.62 L150.57,48.76 L151.14,47.78 L151.71,46.70 L152.30,45.54 L152.90,44.18 L153.50,42.56 L154.11,40.77 L154.72,38.89 L155.32,37.03 L155.91,35.26 L156.49,33.67 L157.05,32.36 L157.59,31.27 L158.11,30.28 L158.61,29.40 L159.11,28.66 L159.60,28.06 L160.09,27.61 L160.58,27.34 L161.08,27.24 L161.58,27.34 L162.09,27.63 L162.59,28.09 L163.09,28.70 L163.60,29.46 L164.10,30.33 L164.60,31.30 L165.11,32.36 L165.61,33.58 L166.12,35.01 L166.63,36.59 L167.14,38.27 L167.65,39.98 L168.15,41.68 L168.65,43.31 L169.14,44.81 L169.61,46.30 L170.07,47.88 L170.51,49.47 L170.96,51.01 L171.41,52.41 L171.87,53.60 L172.36,54.51 L172.88,55.06 L173.43,55.22 L173.99,55.05 L174.57,54.61 L175.17,53.96 L175.78,53.14 L176.42,52.23 L177.09,51.26 L177.77,50.30 L178.50,49.22 L179.26,47.93 L180.04,46.50 L180.85,45.01 L181.67,43.54 L182.49,42.17 L183.31,40.98 L184.11,40.05 L184.91,39.38 L185.73,38.90 L186.56,38.57 L187.38,38.36 L188.19,38.22 L188.98,38.11 L189.73,38.00 L190.44,37.85 L191.10,37.66 L191.71,37.47 L192.28,37.28 L192.83,37.12 L193.37,37.01 L193.92,36.96 L194.47,36.99 L195.05,37.12 L195.65,37.33 L196.26,37.59 L196.87,37.92 L197.49,38.31 L198.11,38.79 L198.73,39.35 L199.34,40.01 L199.94,40.78 L200.53,41.72 L201.13,42.86 L201.71,44.13 L202.30,45.47 L202.87,46.82 L203.44,48.12 L204.00,49.30 L204.55,50.30 L205.07,51.20 L205.57,52.08 L206.06,52.91 L206.54,53.66 L207.03,54.29 L207.52,54.75 L208.04,55.02 L208.58,55.06 L209.16,54.82 L209.77,54.33 L210.40,53.64 L211.04,52.79 L211.68,51.84 L212.31,50.83 L212.91,49.81 L213.47,48.83 L214.00,47.84 L214.49,46.76 L214.97,45.62 L215.43,44.44 L215.88,43.27 L216.32,42.13 L216.77,41.04 L217.21,40.05 L217.65,39.08 L218.06,38.07 L218.47,37.08 L218.87,36.14 L219.28,35.30 L219.71,34.60 L220.17,34.10 L220.67,33.83 L221.20,33.80 L221.76,33.99 L222.33,34.35 L222.93,34.86 L223.56,35.49 L224.20,36.22 L224.87,37.02 L225.56,37.85 L226.28,38.84 L227.04,40.04 L227.83,41.39 L228.64,42.80 L229.46,44.18 L230.28,45.45 L231.09,46.55 L231.89,47.37 L232.69,47.92 L233.48,48.26 L234.27,48.45 L235.06,48.51 L235.85,48.51 L236.64,48.47 L237.44,48.44 L238.23,48.47 L239.03,48.54 L239.85,48.61 L240.68,48.68 L241.50,48.72 L242.31,48.73 L243.10,48.70 L243.85,48.62 L244.56,48.47 L245.20,48.28 L245.75,48.07 L246.26,47.83 L246.76,47.53 L247.26,47.17 L247.81,46.73 L248.44,46.19 L249.17,45.54 L250.02,44.65 L250.98,43.46 L252.01,42.11 L253.09,40.71 L254.18,39.39 L255.25,38.27 L256.28,37.48 L257.23,37.12 L258.10,37.24 L258.93,37.72 L259.73,38.49 L260.50,39.48 L261.26,40.61 L262.02,41.80 L262.78,42.98 L263.56,44.08 L264.35,45.25 L265.14,46.64 L265.94,48.15 L266.73,49.66 L267.52,51.06 L268.31,52.26 L269.10,53.14 L269.89,53.59 L270.69,53.56 L271.48,53.13 L272.27,52.38 L273.06,51.42 L273.85,50.34 L274.64,49.24 L275.44,48.22 L276.23,47.37 L277.02,46.61 L277.81,45.80 L278.60,44.98 L279.39,44.19 L280.19,43.45 L280.98,42.80 L281.77,42.26 L282.56,41.88 L283.36,41.67 L284.18,41.63 L285.01,41.70 L285.84,41.86 L286.65,42.06 L287.43,42.28 L288.18,42.48 L288.89,42.61 L289.58,42.71 L290.27,42.81 L290.95,42.92 L291.59,43.02 L292.19,43.12 L292.71,43.21 L293.16,43.29 L293.50,43.34" stroke="#000" stroke-width="1.9" fill="none" stroke-linecap="round" stroke-linejoin="round"/>
</svg>
</body></html>
